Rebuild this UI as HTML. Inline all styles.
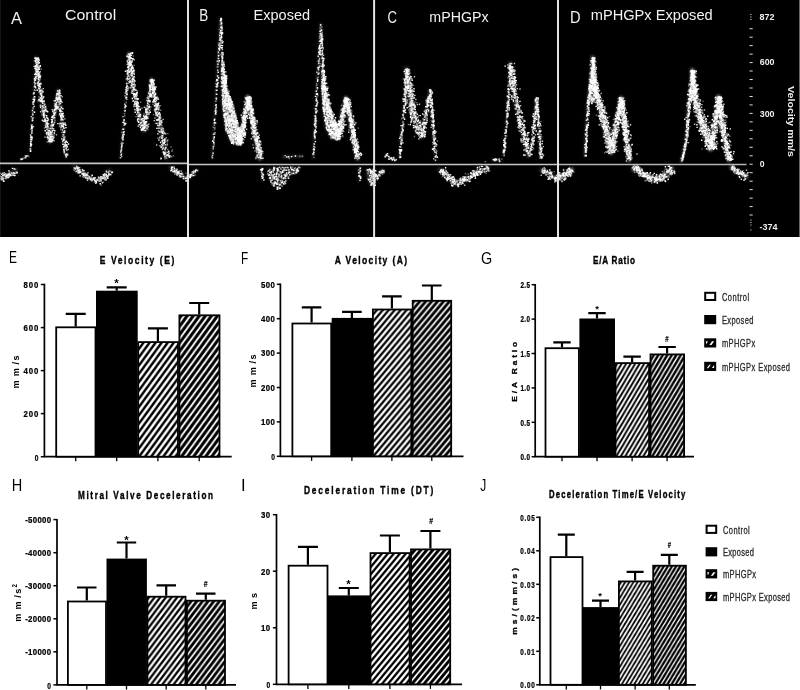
<!DOCTYPE html>
<html><head><meta charset="utf-8"><title>Figure</title>
<style>
html,body{margin:0;padding:0;background:#fff;}
svg{display:block;font-family:"Liberation Sans",sans-serif;will-change:transform;}
</style></head><body>
<svg width="800" height="690" viewBox="0 0 800 690">
<defs>
<filter id="bl" x="0" y="0" width="800" height="240" filterUnits="userSpaceOnUse"><feGaussianBlur stdDeviation="0.65"/></filter>
<filter id="bl2" x="0" y="0" width="800" height="240" filterUnits="userSpaceOnUse"><feGaussianBlur stdDeviation="1.1"/></filter>
<pattern id="h1" patternUnits="userSpaceOnUse" width="6.1" height="8.35">
<rect width="6.1" height="8.35" fill="#fff"/>
<path d="M-6.1 8.35L6.1 -8.35M-6.1 16.7L12.2 -8.35M0 16.7L12.2 0" stroke="#000" stroke-width="2.4"/>
</pattern>
<pattern id="h2" patternUnits="userSpaceOnUse" width="6.1" height="8.35">
<rect width="6.1" height="8.35" fill="#fff"/>
<path d="M-6.1 8.35L6.1 -8.35M-6.1 16.7L12.2 -8.35M0 16.7L12.2 0" stroke="#000" stroke-width="3.1"/>
</pattern>
</defs>
<rect width="800" height="690" fill="#fff"/>
<rect x="0" y="0" width="800" height="237" fill="#000"/>
<rect x="799" y="0" width="1" height="237" fill="#666"/><rect x="0" y="0" width="1" height="237" fill="#151515"/>
<g filter="url(#bl2)" fill="none" stroke="#fff" stroke-linecap="round" stroke-linejoin="round">
<path d="M19.7 159.5L29.0 155.0" stroke-width="1.5" stroke-opacity="0.14"/>
<path d="M29.7 151.4L33.0 100.0L36.0 57.4" stroke-width="1.4" stroke-opacity="0.14"/>
<path d="M36.0 57.4L38.3 81.8L42.9 109.6L49.9 142.0" stroke-width="3.8" stroke-opacity="0.14"/>
<path d="M49.9 142.0L54.0 112.0L58.0 89.9" stroke-width="3.0" stroke-opacity="0.14"/>
<path d="M58.0 89.9L62.0 125.0L66.1 157.2" stroke-width="3.0" stroke-opacity="0.14"/>
<path d="M0.0 178.0L8.0 175.0L15.5 170.0" stroke-width="4.5" stroke-opacity="0.14"/>
<path d="M74.2 166.5L80.0 172.3L90.0 178.0L97.4 181.0L104.0 177.0L109.6 170.4" stroke-width="4.3" stroke-opacity="0.14"/>
<path d="M120.2 158.3L123.0 125.0L126.0 91.0L129.0 52.8" stroke-width="1.5" stroke-opacity="0.14"/>
<path d="M129.0 52.8L131.8 81.8L137.6 109.6L143.8 130.5" stroke-width="4.3" stroke-opacity="0.14"/>
<path d="M143.8 131.0L148.0 100.0L151.5 79.4" stroke-width="3.4" stroke-opacity="0.14"/>
<path d="M151.5 79.4L158.0 120.0L166.6 158.3" stroke-width="4.3" stroke-opacity="0.14"/>
<path d="M170.0 167.6L178.0 173.4L187.5 179.0" stroke-width="3.8" stroke-opacity="0.14"/>
<path d="M212.0 158.8L216.0 90.0L220.3 18.3" stroke-width="1.3" stroke-opacity="0.22"/>
<path d="M220.3 18.3L221.0 40.0L222.0 65.0" stroke-width="1.7" stroke-opacity="0.1"/>
<path d="M222.2 66.0L226.3 95.0L233.0 118.0L240.0 140.0" stroke-width="3.4" stroke-opacity="0.22"/>
<path d="M240.0 143.0L244.0 118.0L247.8 96.8" stroke-width="3.6" stroke-opacity="0.4"/>
<path d="M247.8 96.8L254.0 130.0L260.0 158.8" stroke-width="3.8" stroke-opacity="0.4"/>
<path d="M188.0 177.0L192.0 174.0L197.0 170.0" stroke-width="3.0" stroke-opacity="0.22"/>
<path d="M261.5 168.0L262.0 181.0" stroke-width="1.5" stroke-opacity="0.22"/>
<path d="M283.0 157.0L302.0 156.0" stroke-width="2.2" stroke-opacity="0.22"/>
<path d="M313.0 158.8L316.3 92.6L320.5 23.8" stroke-width="1.5" stroke-opacity="0.22"/>
<path d="M320.5 23.8L321.3 45.0L322.4 68.0" stroke-width="1.7" stroke-opacity="0.1"/>
<path d="M322.6 70.0L326.0 98.0L332.0 120.0L338.4 135.0" stroke-width="3.4" stroke-opacity="0.22"/>
<path d="M338.4 137.0L342.0 115.0L346.0 98.2" stroke-width="3.6" stroke-opacity="0.4"/>
<path d="M346.0 98.2L352.0 130.0L357.6 158.8" stroke-width="3.8" stroke-opacity="0.4"/>
<path d="M359.0 168.0L359.5 181.0" stroke-width="1.5" stroke-opacity="0.22"/>
<path d="M375.0 178.0L379.0 174.0L383.0 170.0" stroke-width="3.8" stroke-opacity="0.15"/>
<path d="M385.0 154.8L390.0 158.0L395.5 160.6" stroke-width="2.2" stroke-opacity="0.15"/>
<path d="M399.0 158.3L402.5 121.2L406.4 69.0" stroke-width="1.9" stroke-opacity="0.15"/>
<path d="M406.4 69.0L410.6 105.0L416.4 128.2L422.2 136.0" stroke-width="5.6" stroke-opacity="0.15"/>
<path d="M421.0 138.0L426.0 112.0L429.9 89.9" stroke-width="2.8" stroke-opacity="0.15"/>
<path d="M429.9 89.9L432.5 125.0L435.4 160.6" stroke-width="2.2" stroke-opacity="0.15"/>
<path d="M439.6 170.0L447.0 177.0L455.8 184.0L463.0 181.0L470.0 176.0L478.0 171.5L487.8 167.6" stroke-width="4.9" stroke-opacity="0.15"/>
<path d="M492.5 159.5L501.8 160.6" stroke-width="1.9" stroke-opacity="0.15"/>
<path d="M503.0 156.0L506.4 121.2L509.9 63.2" stroke-width="1.8" stroke-opacity="0.15"/>
<path d="M509.9 63.2L514.5 98.0L521.5 128.2L528.4 156.0" stroke-width="4.5" stroke-opacity="0.15"/>
<path d="M531.5 150.0L533.5 125.0L536.1 98.0" stroke-width="2.1" stroke-opacity="0.15"/>
<path d="M536.1 98.0L538.5 130.0L540.7 158.3" stroke-width="2.2" stroke-opacity="0.15"/>
<path d="M541.0 170.0L550.0 175.0L558.0 179.0" stroke-width="4.5" stroke-opacity="0.15"/>
<path d="M558.0 177.5L565.0 175.0L571.5 169.5" stroke-width="5.2" stroke-opacity="0.3"/>
<path d="M584.7 156.0L587.5 105.0L592.6 57.4" stroke-width="1.7" stroke-opacity="0.3"/>
<path d="M592.6 57.4L594.4 86.4L602.6 118.9L610.9 153.0" stroke-width="4.5" stroke-opacity="0.3"/>
<path d="M611.0 152.5L616.0 122.0L621.1 98.0" stroke-width="4.1" stroke-opacity="0.3"/>
<path d="M621.1 98.0L625.0 130.0L629.2 160.6" stroke-width="4.1" stroke-opacity="0.3"/>
<path d="M633.9 170.0L635.5 166.5L638.0 170.0L643.2 174.6L655.0 180.4L663.0 177.0L672.0 168.8" stroke-width="4.9" stroke-opacity="0.3"/>
<path d="M681.3 161.8L686.0 139.8L688.3 105.0L692.2 70.2" stroke-width="2.1" stroke-opacity="0.3"/>
<path d="M692.2 70.2L694.0 98.0L702.2 125.8L710.8 149.0" stroke-width="5.4" stroke-opacity="0.3"/>
<path d="M710.8 149.0L715.0 120.0L718.4 96.8" stroke-width="4.1" stroke-opacity="0.3"/>
<path d="M718.4 96.8L723.0 130.0L728.9 160.6" stroke-width="4.5" stroke-opacity="0.3"/>
<path d="M731.0 167.6L738.0 172.0L746.3 177.0" stroke-width="4.1" stroke-opacity="0.3"/>
<path d="M221.3 60.0L223.3 70.0L226.5 88.0L233.2 106.4L241.5 139.4L240.0 146.0L231.0 143.5L225.0 130.0L222.0 108.0L220.3 80.0Z" fill="#fff" fill-opacity="0.22" stroke="none"/>
<path d="M266.0 167.0L300.0 167.0L298.0 172.0L290.0 176.0L283.0 186.0L277.0 190.0L271.0 184.0L267.0 175.0Z" fill="#fff" fill-opacity="0.08" stroke="none"/>
<path d="M321.6 64.0L323.5 75.0L326.0 92.0L330.0 108.0L340.0 134.0L339.0 141.0L330.5 139.0L325.0 128.0L322.3 108.0L320.6 84.0Z" fill="#fff" fill-opacity="0.22" stroke="none"/>
<path d="M366.0 169.0L375.0 169.0L375.0 187.0L370.0 186.0L367.0 178.0Z" fill="#fff" fill-opacity="0.22" stroke="none"/>
<path d="M592.6 58.0L589.5 84.0L588.3 100.0L591.0 104.0L595.5 100.0L594.6 84.0Z" fill="#fff" fill-opacity="0.3" stroke="none"/>
</g>
<g filter="url(#bl)" stroke-linecap="butt">
<path d="M22.9 158.5h1.4M20.3 159.2h1.4M23.7 157.7h1.4M24.5 155.7h1.4M28.1 156.6h1.4M25.4 156.1h1.4M20.5 159.7h1.4M24.0 157.7h1.4M33.8 82.8h1.4M34.8 90.6h1.4M29.5 149.3h1.4M32.9 117.7h1.4M29.9 134.8h1.4M30.4 129.4h1.4M30.2 145.6h1.4M31.2 131.8h1.4M30.1 151.4h1.4M33.6 93.7h1.4M30.9 127.7h1.4M32.3 107.6h1.4M31.8 119.2h1.4M33.0 101.7h1.4M31.4 117.9h1.4M30.9 130.7h1.4M34.6 83.3h1.4M30.1 139.1h1.4M35.0 73.7h1.4M33.5 102.2h1.4M30.9 128.0h1.4M35.2 62.8h1.4M34.2 98.9h1.4M30.5 136.9h1.4M30.1 136.2h1.4M31.2 133.0h1.4M29.9 149.7h1.4M31.5 126.0h1.4M33.2 111.8h1.4M33.1 97.7h1.4M30.5 145.2h1.4M31.8 126.2h1.4M30.8 141.1h1.4M30.1 146.7h1.4M34.9 80.0h1.4M33.0 104.4h1.4M31.7 127.9h1.4M35.4 63.5h1.4M32.0 113.3h1.4M37.8 74.6h1.4M35.3 61.1h1.4M41.7 90.3h1.4M44.6 115.3h1.4M41.3 113.9h1.4M35.7 63.8h1.4M45.9 111.5h1.4M37.2 70.0h1.4M39.6 106.1h1.4M41.6 115.3h1.4M43.2 101.1h1.4M47.5 133.2h1.4M40.4 69.2h1.4M42.2 98.6h1.4M37.4 57.6h1.4M37.1 69.4h1.4M47.1 128.5h1.4M49.5 135.6h1.4M38.9 80.8h1.4M39.0 78.6h1.4M46.9 118.0h1.4M37.6 82.0h1.4M47.2 136.2h1.4M49.6 140.0h1.4M40.4 99.9h1.4M46.3 134.6h1.4M37.6 73.8h1.4M38.2 86.7h1.4M38.8 89.7h1.4M37.1 62.6h1.4M47.1 130.6h1.4M46.9 138.6h1.4M50.3 132.7h1.4M43.9 128.0h1.4M39.6 66.5h1.4M43.8 112.2h1.4M39.0 90.6h1.4M49.1 132.0h1.4M39.9 93.2h1.4M42.8 114.3h1.4M38.8 100.8h1.4M50.6 139.2h1.4M36.9 82.9h1.4M41.2 120.4h1.4M39.1 89.4h1.4M49.1 138.3h1.4M45.3 122.5h1.4M33.7 60.6h1.4M46.7 136.4h1.4M45.8 108.6h1.4M40.4 84.4h1.4M46.4 132.5h1.4M43.9 121.2h1.4M49.1 128.2h1.4M44.1 105.3h1.4M36.4 78.7h1.4M35.9 70.6h1.4M46.4 142.0h1.4M38.5 60.6h1.4M48.5 137.5h1.4M37.8 69.4h1.4M39.7 79.0h1.4M37.2 58.3h1.4M43.5 115.1h1.4M42.4 111.9h1.4M37.8 71.3h1.4M38.6 88.6h1.4M42.2 96.4h1.4M40.3 88.9h1.4M37.4 74.3h1.4M46.8 137.7h1.4M50.6 133.4h1.4M48.2 123.6h1.4M38.4 92.1h1.4M42.1 101.4h1.4M38.3 60.7h1.4M48.1 128.2h1.4M44.8 108.0h1.4M38.2 96.9h1.4M39.3 101.2h1.4M48.3 138.0h1.4M37.9 99.8h1.4M37.8 62.9h1.4M45.6 133.8h1.4M36.4 75.3h1.4M41.6 100.4h1.4M46.3 125.0h1.4M41.2 95.0h1.4M42.3 121.1h1.4M43.2 107.1h1.4M37.2 60.2h1.4M36.4 68.7h1.4M39.4 76.4h1.4M36.2 69.0h1.4M47.2 131.3h1.4M40.2 92.0h1.4M49.1 137.0h1.4M47.8 126.1h1.4M37.0 76.8h1.4M42.9 116.7h1.4M49.5 139.0h1.4M46.4 132.2h1.4M46.9 120.4h1.4M43.6 105.7h1.4M37.5 69.7h1.4M35.8 66.6h1.4M36.7 59.8h1.4M47.6 135.0h1.4M37.1 66.9h1.4M45.3 110.6h1.4M35.0 66.1h1.4M38.3 89.0h1.4M43.3 102.9h1.4M44.7 131.0h1.4M34.8 57.6h1.4M42.4 91.2h1.4M45.6 133.1h1.4M47.7 132.4h1.4M36.7 70.7h1.4M40.6 102.0h1.4M38.0 74.1h1.4M40.3 90.4h1.4M42.4 106.2h1.4M40.6 93.2h1.4M40.0 90.8h1.4M52.8 117.5h1.4M56.5 97.6h1.4M54.2 119.9h1.4M49.7 141.8h1.4M54.8 107.8h1.4M53.1 124.0h1.4M52.6 112.8h1.4M52.6 129.9h1.4M54.4 117.7h1.4M50.6 119.6h1.4M47.1 139.0h1.4M57.3 102.5h1.4M56.6 99.2h1.4M54.3 120.7h1.4M52.2 134.2h1.4M53.1 135.6h1.4M55.7 103.8h1.4M53.8 103.6h1.4M56.3 99.4h1.4M52.6 116.5h1.4M57.7 92.8h1.4M55.9 110.9h1.4M48.2 141.7h1.4M57.1 99.8h1.4M55.9 106.4h1.4M51.3 131.5h1.4M51.4 137.5h1.4M51.0 132.1h1.4M56.8 101.1h1.4M55.0 115.0h1.4M53.8 112.3h1.4M52.6 128.9h1.4M50.7 137.7h1.4M56.4 94.4h1.4M52.6 118.5h1.4M58.3 91.8h1.4M58.6 95.2h1.4M55.1 108.3h1.4M52.5 136.8h1.4M52.9 128.7h1.4M52.7 129.7h1.4M56.7 107.0h1.4M52.1 118.2h1.4M54.9 98.8h1.4M51.8 130.5h1.4M50.6 133.8h1.4M55.2 107.2h1.4M53.3 128.7h1.4M50.3 136.9h1.4M58.5 95.6h1.4M58.3 91.1h1.4M55.9 99.9h1.4M48.3 131.9h1.4M55.0 112.3h1.4M51.5 132.6h1.4M48.1 137.5h1.4M53.4 110.0h1.4M55.6 99.6h1.4M57.3 104.7h1.4M64.7 148.6h1.4M58.9 102.5h1.4M58.9 126.5h1.4M59.0 102.2h1.4M59.8 106.8h1.4M63.8 136.9h1.4M64.6 137.1h1.4M65.1 148.4h1.4M59.3 108.8h1.4M60.7 99.6h1.4M64.7 142.1h1.4M57.7 91.4h1.4M63.0 149.7h1.4M62.9 135.6h1.4M60.6 126.6h1.4M62.2 125.8h1.4M59.5 109.4h1.4M59.2 90.6h1.4M59.3 100.6h1.4M56.6 100.6h1.4M63.3 151.7h1.4M62.7 138.7h1.4M62.1 116.1h1.4M62.6 123.5h1.4M60.0 129.4h1.4M57.1 90.7h1.4M64.2 119.2h1.4M58.8 124.8h1.4M58.2 102.7h1.4M63.7 132.7h1.4M58.8 90.1h1.4M66.6 146.4h1.4M58.0 98.2h1.4M57.4 96.8h1.4M59.7 93.9h1.4M57.8 101.5h1.4M57.7 96.7h1.4M61.2 106.1h1.4M61.5 122.6h1.4M61.6 113.9h1.4M66.4 155.2h1.4M60.5 113.6h1.4M59.6 102.8h1.4M62.3 134.7h1.4M59.3 100.4h1.4M65.3 146.0h1.4M60.3 119.9h1.4M62.1 123.9h1.4M60.2 120.5h1.4M60.8 114.7h1.4M63.0 148.9h1.4M62.9 128.1h1.4M59.4 110.0h1.4M62.2 117.6h1.4M57.8 92.7h1.4M58.8 92.5h1.4M59.5 113.5h1.4M64.5 146.1h1.4M64.0 118.4h1.4M64.3 141.2h1.4M60.7 117.7h1.4M58.5 106.1h1.4M59.1 97.6h1.4M57.6 94.1h1.4M59.9 103.1h1.4M60.6 114.4h1.4M60.8 119.2h1.4M61.2 132.4h1.4M60.5 106.4h1.4M57.9 91.8h1.4M59.7 112.0h1.4M60.4 114.8h1.4M59.6 100.5h1.4M61.7 136.4h1.4M60.9 119.8h1.4M61.5 119.5h1.4M11.6 174.7h1.4M8.7 173.7h1.4M13.5 168.6h1.4M4.9 178.4h1.4M9.3 173.7h1.4M14.3 175.4h1.4M13.1 174.7h1.4M9.2 173.1h1.4M10.3 172.5h1.4M2.3 178.5h1.4M15.6 171.7h1.4M10.1 174.9h1.4M-0.5 176.3h1.4M1.4 179.6h1.4M14.9 169.4h1.4M8.6 173.9h1.4M7.6 174.1h1.4M6.1 176.9h1.4M8.4 173.0h1.4M3.3 178.5h1.4M2.7 181.3h1.4M-0.5 173.3h1.4M82.6 174.2h1.4M79.5 171.4h1.4M86.8 179.3h1.4M95.7 182.2h1.4M85.2 177.0h1.4M106.7 172.4h1.4M97.9 177.5h1.4M96.2 180.4h1.4M85.1 176.1h1.4M77.8 172.6h1.4M96.8 179.4h1.4M104.5 180.2h1.4M103.9 179.5h1.4M109.7 171.1h1.4M73.2 169.2h1.4M77.5 166.9h1.4M77.5 173.3h1.4M100.4 185.3h1.4M82.4 171.4h1.4M83.5 173.0h1.4M82.3 176.8h1.4M82.7 177.4h1.4M76.4 170.4h1.4M102.7 182.3h1.4M100.8 181.5h1.4M89.1 178.1h1.4M108.2 173.9h1.4M83.7 173.6h1.4M88.4 176.6h1.4M88.7 176.9h1.4M87.3 176.5h1.4M109.2 175.4h1.4M100.0 181.1h1.4M82.3 171.3h1.4M104.0 176.4h1.4M104.8 176.9h1.4M90.9 179.3h1.4M92.9 179.3h1.4M86.6 178.0h1.4M80.8 172.2h1.4M100.6 178.7h1.4M85.2 175.5h1.4M86.4 177.6h1.4M90.7 176.3h1.4M108.7 173.9h1.4M86.3 174.0h1.4M98.9 179.9h1.4M102.8 177.9h1.4M110.8 171.6h1.4M73.5 167.6h1.4M84.9 175.0h1.4M76.3 167.6h1.4M106.8 175.7h1.4M82.1 170.0h1.4M73.4 170.5h1.4M94.2 177.6h1.4M97.6 180.4h1.4M107.5 176.6h1.4M84.2 174.7h1.4M107.0 177.6h1.4M75.3 171.7h1.4M84.0 174.9h1.4M93.7 182.1h1.4M105.8 172.2h1.4M99.6 180.4h1.4M109.7 174.5h1.4M78.1 168.1h1.4M82.0 176.4h1.4M105.6 171.4h1.4M98.3 180.1h1.4M83.3 176.5h1.4M98.3 179.5h1.4M76.9 173.1h1.4M80.9 171.8h1.4M121.2 142.1h1.4M120.0 155.0h1.4M128.7 64.4h1.4M127.5 83.4h1.4M121.1 132.3h1.4M129.5 61.2h1.4M127.8 59.0h1.4M126.7 86.7h1.4M122.4 137.4h1.4M123.1 121.4h1.4M128.1 56.4h1.4M127.9 71.3h1.4M122.5 133.8h1.4M128.9 59.0h1.4M126.4 93.0h1.4M121.7 138.9h1.4M128.9 54.0h1.4M128.1 70.7h1.4M125.5 79.1h1.4M126.2 90.7h1.4M128.1 74.6h1.4M120.4 143.5h1.4M126.7 80.4h1.4M121.4 138.5h1.4M129.5 56.7h1.4M125.6 102.5h1.4M125.9 91.8h1.4M123.8 121.0h1.4M120.7 146.5h1.4M126.7 73.3h1.4M121.8 129.2h1.4M125.9 94.7h1.4M121.8 134.7h1.4M126.3 84.5h1.4M121.5 143.7h1.4M121.3 146.6h1.4M123.9 113.6h1.4M126.8 56.7h1.4M129.7 54.3h1.4M126.0 83.5h1.4M124.0 115.8h1.4M130.6 57.6h1.4M133.4 65.4h1.4M132.6 56.0h1.4M131.4 60.7h1.4M133.2 90.3h1.4M131.9 82.7h1.4M139.5 117.7h1.4M130.5 87.9h1.4M128.4 64.2h1.4M127.1 56.0h1.4M142.1 124.3h1.4M137.2 112.4h1.4M127.9 59.1h1.4M131.6 84.3h1.4M132.8 88.9h1.4M135.9 103.9h1.4M138.6 119.5h1.4M132.7 81.6h1.4M137.8 113.1h1.4M141.5 108.1h1.4M133.4 87.5h1.4M132.9 80.2h1.4M136.8 119.1h1.4M144.4 127.5h1.4M136.2 107.0h1.4M133.4 72.2h1.4M129.6 55.0h1.4M133.2 76.6h1.4M128.1 58.2h1.4M131.5 66.7h1.4M136.1 110.3h1.4M144.4 124.7h1.4M136.8 118.4h1.4M139.6 119.8h1.4M131.1 53.4h1.4M134.2 105.1h1.4M138.3 112.7h1.4M140.0 102.3h1.4M129.1 71.5h1.4M128.5 60.3h1.4M128.4 72.0h1.4M140.6 120.3h1.4M135.9 110.6h1.4M127.3 67.3h1.4M145.6 121.9h1.4M133.5 70.4h1.4M132.6 69.7h1.4M136.6 101.4h1.4M135.2 96.9h1.4M139.4 122.4h1.4M133.6 105.3h1.4M128.8 56.9h1.4M131.6 75.6h1.4M137.4 103.8h1.4M135.3 116.6h1.4M133.9 97.8h1.4M139.5 123.5h1.4M128.3 63.0h1.4M130.7 69.8h1.4M132.0 87.4h1.4M134.9 106.2h1.4M131.5 76.5h1.4M137.5 98.6h1.4M131.3 53.8h1.4M130.0 58.3h1.4M130.4 66.5h1.4M143.0 128.3h1.4M133.8 90.4h1.4M128.7 57.2h1.4M130.3 73.6h1.4M136.6 90.9h1.4M142.8 124.9h1.4M133.5 70.8h1.4M137.5 104.6h1.4M135.7 98.4h1.4M129.4 55.2h1.4M134.8 101.2h1.4M137.3 104.6h1.4M128.0 60.0h1.4M140.7 108.2h1.4M133.7 90.8h1.4M130.0 74.9h1.4M136.4 101.3h1.4M129.3 60.3h1.4M138.7 112.8h1.4M139.5 118.0h1.4M130.2 66.5h1.4M131.5 62.4h1.4M131.2 90.5h1.4M142.0 130.3h1.4M130.7 79.9h1.4M132.0 101.1h1.4M130.8 82.9h1.4M137.3 119.2h1.4M136.3 94.8h1.4M138.0 114.2h1.4M131.7 72.4h1.4M128.6 78.9h1.4M129.1 58.4h1.4M129.9 77.5h1.4M136.4 105.0h1.4M133.8 86.4h1.4M136.2 108.7h1.4M147.3 129.5h1.4M131.7 69.1h1.4M131.6 90.0h1.4M128.7 71.7h1.4M128.5 59.7h1.4M131.4 79.3h1.4M136.2 101.2h1.4M128.8 59.6h1.4M131.9 91.4h1.4M136.1 99.1h1.4M143.8 123.9h1.4M127.2 55.1h1.4M143.7 124.7h1.4M129.6 64.4h1.4M133.2 86.9h1.4M150.0 92.5h1.4M148.3 100.2h1.4M144.6 124.6h1.4M148.6 94.3h1.4M152.2 95.1h1.4M150.2 83.7h1.4M152.3 81.9h1.4M145.5 111.4h1.4M146.7 105.7h1.4M152.4 83.1h1.4M147.2 116.9h1.4M148.8 85.8h1.4M141.7 125.6h1.4M148.6 97.2h1.4M148.8 106.8h1.4M150.1 96.1h1.4M149.9 79.8h1.4M147.1 113.4h1.4M149.6 88.9h1.4M143.6 121.2h1.4M149.6 90.4h1.4M148.2 92.3h1.4M147.0 102.3h1.4M149.2 100.7h1.4M150.3 81.0h1.4M145.5 129.7h1.4M146.5 128.0h1.4M147.5 104.8h1.4M151.2 81.0h1.4M147.1 117.4h1.4M150.5 79.6h1.4M147.3 112.6h1.4M144.1 122.7h1.4M146.4 109.6h1.4M146.7 109.1h1.4M149.5 91.9h1.4M145.2 110.8h1.4M145.0 121.6h1.4M147.3 109.2h1.4M148.3 104.6h1.4M145.5 115.1h1.4M150.4 84.0h1.4M142.3 128.4h1.4M148.7 104.8h1.4M147.0 96.1h1.4M151.3 84.5h1.4M144.5 119.4h1.4M145.9 113.6h1.4M142.5 125.6h1.4M150.3 106.9h1.4M143.4 128.6h1.4M143.3 114.0h1.4M147.4 116.9h1.4M148.5 93.9h1.4M146.4 111.3h1.4M149.0 100.7h1.4M148.5 96.7h1.4M150.2 93.3h1.4M147.1 117.1h1.4M150.8 96.7h1.4M145.6 113.5h1.4M147.0 114.9h1.4M149.3 109.2h1.4M146.8 111.4h1.4M147.1 98.5h1.4M142.8 129.8h1.4M148.1 114.6h1.4M154.4 88.9h1.4M157.2 109.2h1.4M161.1 122.3h1.4M154.2 96.3h1.4M157.0 119.8h1.4M167.1 133.6h1.4M156.9 107.7h1.4M161.3 127.8h1.4M153.8 88.3h1.4M154.6 111.6h1.4M152.8 81.5h1.4M159.9 116.5h1.4M154.9 92.9h1.4M162.7 129.9h1.4M158.7 128.2h1.4M156.8 123.5h1.4M158.3 117.6h1.4M159.4 128.3h1.4M158.4 131.6h1.4M162.3 136.9h1.4M162.8 147.8h1.4M149.5 81.8h1.4M150.9 84.9h1.4M152.7 92.2h1.4M157.2 138.3h1.4M165.5 147.2h1.4M155.2 101.7h1.4M158.6 107.3h1.4M160.8 120.4h1.4M155.7 107.5h1.4M162.1 128.5h1.4M159.0 113.7h1.4M155.5 110.3h1.4M154.2 95.2h1.4M164.9 139.5h1.4M163.9 140.9h1.4M153.4 84.4h1.4M151.5 87.6h1.4M157.1 98.7h1.4M153.3 99.7h1.4M155.6 109.0h1.4M156.5 96.8h1.4M164.2 158.5h1.4M158.2 110.3h1.4M165.1 156.8h1.4M155.0 89.5h1.4M155.3 106.2h1.4M161.6 132.3h1.4M155.3 112.6h1.4M152.8 114.6h1.4M164.0 148.5h1.4M157.0 114.4h1.4M157.5 112.3h1.4M162.4 135.4h1.4M153.3 89.4h1.4M154.3 97.1h1.4M152.2 86.7h1.4M154.5 99.4h1.4M158.1 139.0h1.4M151.9 87.5h1.4M164.0 133.7h1.4M159.3 118.6h1.4M157.5 114.0h1.4M152.1 86.3h1.4M166.9 149.4h1.4M152.0 85.8h1.4M160.7 128.0h1.4M160.7 130.8h1.4M171.0 156.7h1.4M163.1 154.0h1.4M152.7 93.1h1.4M154.1 106.4h1.4M155.5 103.4h1.4M151.0 80.5h1.4M167.7 154.8h1.4M164.1 152.4h1.4M164.6 138.9h1.4M154.5 87.9h1.4M152.2 89.7h1.4M156.5 114.9h1.4M169.4 155.4h1.4M156.5 98.0h1.4M165.9 158.2h1.4M151.6 87.0h1.4M157.4 125.8h1.4M159.8 128.6h1.4M157.1 109.3h1.4M171.7 150.0h1.4M161.1 135.2h1.4M164.5 148.6h1.4M164.7 155.0h1.4M160.1 110.3h1.4M156.7 105.4h1.4M163.4 144.7h1.4M169.7 156.3h1.4M162.8 139.9h1.4M162.8 143.9h1.4M163.6 149.1h1.4M153.1 85.9h1.4M152.7 81.7h1.4M153.9 89.4h1.4M160.9 138.1h1.4M165.1 147.3h1.4M163.1 131.1h1.4M171.3 151.2h1.4M170.3 147.0h1.4M153.3 95.1h1.4M169.9 155.7h1.4M161.3 125.8h1.4M155.0 115.2h1.4M152.4 83.6h1.4M155.2 107.0h1.4M159.0 121.9h1.4M153.7 110.0h1.4M160.4 128.8h1.4M152.4 94.4h1.4M166.7 143.1h1.4M162.5 130.7h1.4M158.9 121.5h1.4M160.2 136.6h1.4M172.8 155.8h1.4M162.1 140.4h1.4M159.9 117.9h1.4M162.1 140.5h1.4M162.4 132.0h1.4M160.8 121.3h1.4M156.9 103.8h1.4M153.0 88.7h1.4M152.4 101.2h1.4M149.0 80.9h1.4M152.2 104.4h1.4M153.9 96.3h1.4M155.4 108.7h1.4M165.2 141.4h1.4M152.1 82.7h1.4M178.6 174.7h1.4M171.5 170.0h1.4M185.3 173.1h1.4M174.1 174.3h1.4M181.5 172.8h1.4M179.8 175.9h1.4M174.2 171.6h1.4M186.2 178.1h1.4M178.6 176.9h1.4M183.9 176.9h1.4M185.9 176.6h1.4M188.0 177.7h1.4M170.6 167.4h1.4M176.4 173.7h1.4M185.6 181.2h1.4M178.3 173.7h1.4M180.6 174.0h1.4M175.6 170.1h1.4M187.5 178.5h1.4M182.2 176.9h1.4M179.4 175.2h1.4M187.2 177.5h1.4M181.1 175.0h1.4M179.4 174.6h1.4M174.6 171.1h1.4M172.7 169.8h1.4M215.4 94.0h1.4M212.6 149.1h1.4M214.0 129.1h1.4M213.5 123.8h1.4M217.5 66.9h1.4M218.2 43.3h1.4M216.1 110.9h1.4M219.5 39.7h1.4M216.6 67.0h1.4M213.5 144.7h1.4M214.2 119.2h1.4M214.8 109.6h1.4M215.9 97.6h1.4M216.6 87.1h1.4M214.2 134.4h1.4M212.4 152.9h1.4M218.0 62.0h1.4M217.8 62.4h1.4M216.9 66.2h1.4M213.3 140.0h1.4M215.7 81.2h1.4M215.7 106.6h1.4M214.3 111.0h1.4M218.5 46.3h1.4M220.3 23.3h1.4M212.9 146.2h1.4M218.2 45.4h1.4M211.3 157.3h1.4M220.1 19.1h1.4M214.6 113.6h1.4M219.7 24.5h1.4M212.2 141.4h1.4M220.9 24.2h1.4M214.2 127.7h1.4M216.4 84.6h1.4M216.8 64.1h1.4M217.2 58.4h1.4M220.7 20.5h1.4M215.1 111.3h1.4M215.2 123.2h1.4M211.4 156.2h1.4M213.8 125.5h1.4M218.7 29.5h1.4M217.6 60.9h1.4M215.0 83.9h1.4M216.8 75.7h1.4M217.9 58.6h1.4M212.6 134.2h1.4M217.8 52.8h1.4M215.2 98.2h1.4M217.2 76.2h1.4M217.7 61.2h1.4M212.6 127.4h1.4M221.3 25.9h1.4M220.9 55.5h1.4M222.1 33.6h1.4M220.3 27.8h1.4M221.9 61.7h1.4M221.1 19.5h1.4M220.4 41.7h1.4M221.6 32.2h1.4M221.6 52.7h1.4M220.6 43.2h1.4M221.5 55.3h1.4M221.0 42.4h1.4M219.5 33.5h1.4M219.6 54.5h1.4M222.5 53.3h1.4M221.8 33.4h1.4M219.2 38.7h1.4M221.5 54.1h1.4M220.7 21.9h1.4M220.6 26.3h1.4M220.5 24.2h1.4M220.8 28.7h1.4M221.4 41.4h1.4M221.0 30.4h1.4M220.4 30.5h1.4M221.3 33.4h1.4M221.6 52.8h1.4M220.1 27.9h1.4M220.4 21.9h1.4M224.7 106.0h1.4M232.3 111.7h1.4M232.8 105.6h1.4M225.2 127.2h1.4M230.3 105.8h1.4M222.5 101.6h1.4M223.9 98.2h1.4M232.2 143.4h1.4M232.9 131.2h1.4M231.6 110.1h1.4M235.4 128.2h1.4M232.5 134.2h1.4M230.5 100.3h1.4M239.9 144.7h1.4M228.5 98.7h1.4M236.1 137.8h1.4M229.3 139.6h1.4M221.3 67.4h1.4M227.8 121.6h1.4M231.2 106.4h1.4M222.9 69.1h1.4M222.8 78.6h1.4M225.0 116.2h1.4M224.1 110.1h1.4M230.3 121.3h1.4M222.5 78.7h1.4M234.0 129.4h1.4M230.1 129.7h1.4M229.2 121.5h1.4M226.0 126.4h1.4M224.2 119.8h1.4M228.4 107.5h1.4M233.1 123.8h1.4M236.3 132.2h1.4M231.9 135.7h1.4M225.0 117.6h1.4M226.2 104.2h1.4M238.2 133.6h1.4M224.4 114.6h1.4M232.2 123.5h1.4M233.6 117.5h1.4M221.6 65.3h1.4M222.1 69.7h1.4M225.3 81.1h1.4M228.2 114.9h1.4M228.2 104.1h1.4M232.5 135.4h1.4M226.8 129.0h1.4M233.1 107.5h1.4M223.7 108.6h1.4M230.7 133.8h1.4M224.9 94.9h1.4M235.4 141.7h1.4M231.7 135.1h1.4M229.0 119.3h1.4M239.0 134.5h1.4M231.3 115.7h1.4M236.1 125.8h1.4M224.5 112.8h1.4M231.9 121.5h1.4M221.8 103.9h1.4M226.0 107.6h1.4M232.5 117.3h1.4M224.7 100.2h1.4M225.7 130.9h1.4M231.8 118.6h1.4M225.4 100.9h1.4M225.6 103.2h1.4M226.7 130.5h1.4M225.2 101.0h1.4M235.0 113.5h1.4M226.2 104.4h1.4M222.8 82.3h1.4M227.8 102.2h1.4M224.0 91.8h1.4M224.6 89.3h1.4M225.5 119.0h1.4M236.3 135.5h1.4M225.9 119.9h1.4M223.4 110.9h1.4M237.5 124.4h1.4M228.4 129.3h1.4M231.0 125.7h1.4M230.0 132.7h1.4M235.7 117.3h1.4M231.1 128.4h1.4M239.2 140.7h1.4M228.4 121.2h1.4M227.8 123.5h1.4M232.3 143.3h1.4M221.9 84.1h1.4M223.1 99.5h1.4M227.8 105.0h1.4M222.8 79.3h1.4M226.0 128.0h1.4M223.1 84.6h1.4M222.9 108.1h1.4M226.6 121.2h1.4M228.7 133.8h1.4M232.1 105.0h1.4M232.3 121.7h1.4M228.6 116.1h1.4M224.0 101.7h1.4M227.8 133.1h1.4M223.0 79.3h1.4M234.6 136.2h1.4M220.9 69.6h1.4M229.2 115.3h1.4M235.1 125.6h1.4M235.9 128.3h1.4M229.4 98.0h1.4M229.5 112.0h1.4M231.9 139.8h1.4M241.0 138.1h1.4M231.9 138.0h1.4M232.5 131.4h1.4M227.8 117.6h1.4M228.7 132.0h1.4M224.3 101.1h1.4M232.6 126.5h1.4M234.0 118.3h1.4M225.2 86.1h1.4M228.7 99.3h1.4M222.2 93.9h1.4M225.6 111.4h1.4M220.9 71.7h1.4M222.2 64.9h1.4M235.9 135.3h1.4M222.5 91.4h1.4M238.6 136.7h1.4M223.8 99.2h1.4M233.7 115.3h1.4M226.5 98.8h1.4M231.5 132.3h1.4M236.1 141.6h1.4M234.9 129.4h1.4M229.1 137.3h1.4M223.9 85.0h1.4M235.4 135.4h1.4M227.8 103.3h1.4M233.6 136.0h1.4M230.2 127.7h1.4M228.4 100.0h1.4M222.6 79.2h1.4M228.6 114.9h1.4M234.0 119.0h1.4M229.1 133.6h1.4M229.5 103.1h1.4M230.2 129.1h1.4M228.9 125.9h1.4M230.2 121.5h1.4M222.9 110.8h1.4M226.3 131.4h1.4M229.0 100.4h1.4M228.6 124.6h1.4M229.7 135.5h1.4M223.4 91.3h1.4M232.3 139.9h1.4M232.9 126.7h1.4M228.1 110.7h1.4M233.2 115.7h1.4M239.9 145.4h1.4M228.9 121.1h1.4M237.6 138.7h1.4M223.6 79.7h1.4M232.2 126.9h1.4M238.0 139.2h1.4M229.3 131.7h1.4M231.6 107.3h1.4M225.8 114.4h1.4M223.1 109.1h1.4M227.8 110.3h1.4M230.2 109.9h1.4M233.1 106.6h1.4M222.8 95.6h1.4M231.8 126.5h1.4M231.3 126.4h1.4M233.1 139.4h1.4M225.7 85.9h1.4M222.8 111.2h1.4M232.0 116.4h1.4M240.5 137.7h1.4M236.7 138.9h1.4M240.6 142.8h1.4M224.2 82.6h1.4M224.2 78.3h1.4M229.1 109.3h1.4M222.9 107.2h1.4M221.8 64.8h1.4M231.0 130.3h1.4M232.8 112.0h1.4M230.3 135.0h1.4M223.8 82.0h1.4M229.7 104.8h1.4M230.5 110.7h1.4M237.4 143.1h1.4M236.8 123.4h1.4M226.6 123.7h1.4M230.1 129.0h1.4M222.5 101.0h1.4M231.7 117.8h1.4M229.6 108.4h1.4M239.6 137.7h1.4M224.0 120.6h1.4M225.1 86.0h1.4M238.0 144.3h1.4M228.5 117.3h1.4M221.5 67.4h1.4M226.4 104.3h1.4M227.1 111.4h1.4M226.9 98.5h1.4M222.5 108.5h1.4M232.3 135.0h1.4M228.2 123.1h1.4M239.7 134.1h1.4M223.2 77.8h1.4M231.2 104.3h1.4M230.1 129.9h1.4M225.3 93.2h1.4M223.5 74.7h1.4M227.8 103.5h1.4M223.0 114.3h1.4M223.3 101.4h1.4M229.7 132.9h1.4M234.2 139.1h1.4M223.0 110.0h1.4M233.9 112.0h1.4M237.0 127.0h1.4M237.5 125.7h1.4M224.8 128.1h1.4M227.4 113.9h1.4M223.3 74.9h1.4M235.5 129.5h1.4M227.8 111.7h1.4M229.7 118.8h1.4M222.7 93.7h1.4M232.2 131.2h1.4M239.3 131.7h1.4M221.7 78.9h1.4M225.0 105.1h1.4M230.7 103.2h1.4M224.0 81.0h1.4M224.6 101.1h1.4M225.8 126.4h1.4M232.4 121.5h1.4M228.9 129.1h1.4M228.4 99.6h1.4M227.5 103.7h1.4M235.4 137.6h1.4M221.8 100.8h1.4M228.4 98.8h1.4M224.6 80.5h1.4M225.3 117.0h1.4M225.9 96.0h1.4M221.4 67.8h1.4M223.6 72.3h1.4M233.3 135.0h1.4M226.0 89.8h1.4M238.6 138.9h1.4M223.4 92.4h1.4M233.7 111.7h1.4M226.6 125.5h1.4M227.8 130.8h1.4M224.3 116.6h1.4M234.2 133.2h1.4M224.5 103.1h1.4M233.1 135.9h1.4M231.6 102.4h1.4M230.1 99.6h1.4M227.2 89.9h1.4M231.6 121.0h1.4M230.6 139.6h1.4M231.8 128.5h1.4M225.0 96.7h1.4M238.9 137.3h1.4M232.5 113.2h1.4M223.6 88.0h1.4M227.5 124.1h1.4M226.3 99.6h1.4M224.2 117.5h1.4M229.0 123.7h1.4M233.1 107.9h1.4M222.6 108.0h1.4M224.4 109.6h1.4M222.4 86.7h1.4M230.8 105.4h1.4M225.8 131.4h1.4M238.1 145.1h1.4M231.8 105.1h1.4M226.7 117.5h1.4M226.3 118.6h1.4M221.1 71.9h1.4M233.9 113.4h1.4M235.1 131.4h1.4M226.6 105.3h1.4M227.2 101.5h1.4M229.3 109.0h1.4M233.3 112.6h1.4M226.5 91.4h1.4M229.6 97.5h1.4M236.7 131.5h1.4M239.9 134.7h1.4M225.2 83.7h1.4M226.3 88.5h1.4M225.0 89.7h1.4M223.3 76.0h1.4M222.3 71.7h1.4M237.5 130.4h1.4M227.0 96.0h1.4M226.9 89.6h1.4M234.5 120.5h1.4M241.1 136.7h1.4M236.2 139.2h1.4M222.2 73.3h1.4M231.8 122.5h1.4M225.8 94.6h1.4M240.7 128.4h1.4M236.2 130.7h1.4M228.5 102.4h1.4M239.1 139.7h1.4M228.3 116.1h1.4M225.5 81.4h1.4M226.3 96.0h1.4M229.4 104.5h1.4M230.4 119.9h1.4M226.5 78.3h1.4M230.5 127.7h1.4M240.3 139.7h1.4M232.9 119.4h1.4M224.8 77.3h1.4M231.5 122.2h1.4M235.5 126.4h1.4M229.9 112.5h1.4M228.8 101.5h1.4M232.0 110.0h1.4M230.1 115.5h1.4M231.1 113.3h1.4M228.7 101.0h1.4M237.0 135.4h1.4M227.3 95.8h1.4M227.3 98.5h1.4M236.9 126.8h1.4M237.5 129.7h1.4M228.7 102.3h1.4M229.0 110.3h1.4M223.2 78.3h1.4M225.4 84.7h1.4M238.6 137.8h1.4M233.9 121.9h1.4M236.9 133.6h1.4M226.7 96.7h1.4M222.6 75.9h1.4M225.0 94.9h1.4M240.8 139.2h1.4M232.1 109.8h1.4M232.1 116.4h1.4M224.3 77.3h1.4M230.8 107.2h1.4M232.4 121.9h1.4M223.8 81.1h1.4M224.7 95.5h1.4M223.1 89.3h1.4M226.5 98.4h1.4M236.2 129.3h1.4M232.6 120.7h1.4M230.0 101.2h1.4M221.7 69.0h1.4M223.9 65.9h1.4M234.9 118.0h1.4M222.3 81.2h1.4M237.1 128.7h1.4M222.8 71.0h1.4M222.0 80.2h1.4M238.0 127.2h1.4M245.3 107.9h1.4M242.6 123.5h1.4M246.8 116.6h1.4M247.5 109.5h1.4M243.3 127.9h1.4M244.6 112.7h1.4M243.0 123.0h1.4M246.3 109.0h1.4M241.6 132.2h1.4M242.5 127.9h1.4M242.7 130.8h1.4M247.2 103.4h1.4M237.6 140.0h1.4M241.7 136.6h1.4M241.0 140.8h1.4M243.7 116.2h1.4M243.5 135.0h1.4M243.2 120.9h1.4M245.5 119.6h1.4M245.3 126.0h1.4M242.5 135.9h1.4M242.1 112.7h1.4M241.8 143.1h1.4M242.4 132.6h1.4M244.4 112.9h1.4M242.7 129.6h1.4M244.2 128.2h1.4M239.9 134.0h1.4M246.6 102.7h1.4M242.9 123.9h1.4M245.5 122.7h1.4M240.3 141.8h1.4M242.4 120.9h1.4M246.8 103.2h1.4M238.5 135.4h1.4M246.9 113.2h1.4M241.9 134.1h1.4M243.4 117.5h1.4M246.3 116.1h1.4M241.5 126.1h1.4M239.0 138.6h1.4M247.3 110.5h1.4M240.0 138.9h1.4M243.1 115.0h1.4M246.3 106.2h1.4M247.0 108.0h1.4M239.0 131.3h1.4M242.2 135.1h1.4M244.9 133.3h1.4M240.2 141.6h1.4M249.1 99.0h1.4M243.4 127.0h1.4M243.2 121.1h1.4M246.2 103.5h1.4M241.1 128.1h1.4M243.7 111.1h1.4M243.5 123.3h1.4M241.7 134.8h1.4M245.8 110.7h1.4M242.0 121.3h1.4M240.0 128.9h1.4M241.5 124.0h1.4M244.6 125.4h1.4M249.1 102.5h1.4M243.9 130.3h1.4M242.9 108.6h1.4M247.7 97.1h1.4M247.8 112.7h1.4M244.0 121.1h1.4M244.8 119.7h1.4M244.6 123.6h1.4M242.8 129.1h1.4M242.9 142.8h1.4M245.4 110.8h1.4M239.9 137.1h1.4M241.1 128.3h1.4M243.7 128.0h1.4M245.2 112.0h1.4M243.4 101.6h1.4M242.6 139.0h1.4M240.9 141.2h1.4M239.4 133.9h1.4M247.1 111.6h1.4M244.0 125.4h1.4M243.2 139.8h1.4M244.5 125.3h1.4M247.6 97.9h1.4M241.5 123.7h1.4M241.8 141.8h1.4M245.0 117.9h1.4M244.0 134.2h1.4M240.3 132.3h1.4M238.0 138.8h1.4M245.4 103.2h1.4M239.1 129.5h1.4M246.2 107.0h1.4M242.0 128.9h1.4M247.4 103.1h1.4M241.5 126.9h1.4M246.1 102.7h1.4M241.3 142.4h1.4M244.3 102.4h1.4M243.4 109.6h1.4M242.2 139.2h1.4M247.8 104.0h1.4M246.4 107.6h1.4M242.4 128.2h1.4M240.9 141.5h1.4M243.2 120.5h1.4M237.3 131.4h1.4M242.1 122.6h1.4M241.3 133.4h1.4M245.7 122.9h1.4M245.5 112.7h1.4M255.1 134.2h1.4M255.6 126.7h1.4M259.0 156.9h1.4M248.8 103.5h1.4M251.5 115.6h1.4M246.6 100.8h1.4M251.1 105.7h1.4M252.1 126.0h1.4M254.6 127.8h1.4M252.6 127.9h1.4M251.0 124.9h1.4M251.7 130.8h1.4M255.7 147.2h1.4M253.6 126.4h1.4M249.0 113.6h1.4M260.3 149.3h1.4M251.3 132.3h1.4M261.1 155.7h1.4M249.8 112.7h1.4M252.6 122.7h1.4M252.5 118.0h1.4M248.7 113.2h1.4M256.0 138.7h1.4M262.1 153.4h1.4M256.7 139.1h1.4M260.7 149.3h1.4M251.1 111.8h1.4M251.1 123.7h1.4M247.6 98.8h1.4M262.2 151.4h1.4M253.8 128.3h1.4M253.8 137.8h1.4M260.5 144.0h1.4M250.5 112.9h1.4M259.7 141.3h1.4M252.4 109.7h1.4M255.9 124.2h1.4M256.5 141.5h1.4M248.6 105.0h1.4M248.6 101.3h1.4M259.8 148.7h1.4M253.6 128.7h1.4M249.6 113.3h1.4M254.6 136.8h1.4M256.1 129.6h1.4M256.8 148.7h1.4M256.3 145.4h1.4M254.3 133.6h1.4M249.8 112.3h1.4M254.7 142.4h1.4M249.1 98.3h1.4M252.2 145.0h1.4M256.3 155.0h1.4M256.3 136.8h1.4M251.9 123.3h1.4M253.1 130.5h1.4M256.5 147.8h1.4M251.0 116.9h1.4M258.6 150.3h1.4M257.7 150.3h1.4M250.1 111.5h1.4M258.0 147.9h1.4M254.2 131.1h1.4M253.3 135.8h1.4M253.9 140.1h1.4M254.5 133.9h1.4M257.4 150.1h1.4M249.8 118.4h1.4M249.7 101.9h1.4M252.6 116.5h1.4M249.9 104.4h1.4M247.2 98.3h1.4M249.1 101.3h1.4M257.3 141.8h1.4M249.9 103.8h1.4M258.2 151.9h1.4M251.0 108.4h1.4M260.2 154.5h1.4M254.3 134.3h1.4M249.3 101.2h1.4M252.7 136.3h1.4M248.9 108.5h1.4M248.6 98.1h1.4M252.2 110.6h1.4M247.5 100.7h1.4M250.9 117.5h1.4M253.2 137.6h1.4M251.0 108.2h1.4M251.9 121.0h1.4M246.9 112.7h1.4M248.4 103.8h1.4M248.0 105.1h1.4M248.9 99.4h1.4M257.1 136.6h1.4M250.8 116.8h1.4M249.0 107.6h1.4M251.8 127.4h1.4M254.5 128.3h1.4M260.2 150.3h1.4M253.1 120.0h1.4M252.0 119.2h1.4M249.4 108.3h1.4M254.9 121.4h1.4M249.6 96.8h1.4M250.3 118.7h1.4M252.2 125.0h1.4M256.9 139.6h1.4M259.2 150.5h1.4M256.0 155.9h1.4M260.8 153.5h1.4M253.0 117.1h1.4M257.5 137.0h1.4M255.2 141.6h1.4M260.7 153.6h1.4M249.4 109.8h1.4M252.9 117.7h1.4M252.8 125.4h1.4M253.0 118.1h1.4M257.5 137.5h1.4M251.7 117.0h1.4M254.2 134.6h1.4M255.2 136.3h1.4M257.1 137.1h1.4M253.2 118.2h1.4M250.2 122.5h1.4M251.4 107.3h1.4M256.4 129.7h1.4M257.3 132.6h1.4M255.8 138.5h1.4M257.1 146.4h1.4M254.2 151.0h1.4M252.0 120.0h1.4M251.7 129.4h1.4M255.6 150.2h1.4M250.1 113.9h1.4M248.5 98.1h1.4M255.0 124.0h1.4M249.5 100.5h1.4M251.6 106.1h1.4M248.3 97.7h1.4M248.9 103.6h1.4M255.3 157.0h1.4M250.4 113.8h1.4M256.5 137.1h1.4M250.4 104.9h1.4M256.7 133.3h1.4M256.0 120.7h1.4M258.6 148.9h1.4M257.2 138.5h1.4M258.1 140.1h1.4M191.1 172.1h1.4M194.4 175.0h1.4M192.8 172.8h1.4M191.1 175.3h1.4M190.2 174.6h1.4M192.6 175.1h1.4M193.7 172.0h1.4M190.9 176.2h1.4M195.2 169.9h1.4M194.7 171.8h1.4M192.6 172.1h1.4M193.5 172.0h1.4M195.8 170.5h1.4M187.5 175.4h1.4M189.7 177.1h1.4M188.4 174.4h1.4M189.3 176.2h1.4M261.8 168.5h1.4M261.9 173.1h1.4M262.1 177.0h1.4M260.9 170.9h1.4M291.8 173.9h1.4M287.7 170.5h1.4M294.7 167.6h1.4M269.7 175.3h1.4M281.5 172.3h1.4M277.5 186.9h1.4M290.7 173.2h1.4M285.2 178.4h1.4M281.5 186.4h1.4M281.2 180.9h1.4M277.7 168.3h1.4M286.9 170.1h1.4M276.9 167.8h1.4M278.6 185.7h1.4M284.9 176.0h1.4M278.3 188.8h1.4M279.5 182.7h1.4M275.0 183.4h1.4M277.3 176.6h1.4M279.1 187.6h1.4M276.4 186.6h1.4M286.4 167.1h1.4M275.7 176.7h1.4M278.3 170.8h1.4M288.0 170.1h1.4M267.1 171.6h1.4M292.7 169.5h1.4M278.9 177.0h1.4M270.7 174.4h1.4M285.5 176.1h1.4M280.1 185.0h1.4M269.2 169.4h1.4M288.1 172.0h1.4M275.1 176.3h1.4M286.3 167.9h1.4M269.6 176.5h1.4M290.3 174.3h1.4M290.0 167.7h1.4M277.7 188.8h1.4M274.8 179.2h1.4M281.2 185.9h1.4M277.3 174.4h1.4M292.9 169.8h1.4M279.8 176.4h1.4M279.9 168.2h1.4M274.0 167.6h1.4M278.4 177.0h1.4M270.8 175.5h1.4M292.1 167.1h1.4M270.1 173.1h1.4M274.9 179.3h1.4M272.0 178.5h1.4M272.7 170.8h1.4M282.8 167.9h1.4M299.4 167.6h1.4M285.1 180.5h1.4M284.1 184.2h1.4M286.8 174.8h1.4M285.6 167.4h1.4M293.9 174.0h1.4M271.6 170.0h1.4M277.1 187.5h1.4M281.9 170.5h1.4M276.1 187.3h1.4M277.4 183.7h1.4M284.0 174.4h1.4M275.4 176.1h1.4M287.8 176.4h1.4M287.6 177.8h1.4M295.0 170.2h1.4M285.8 173.5h1.4M276.9 173.8h1.4M288.0 169.5h1.4M274.4 179.1h1.4M273.4 184.8h1.4M281.3 180.3h1.4M283.1 179.0h1.4M279.9 173.1h1.4M276.6 168.3h1.4M287.9 178.4h1.4M274.0 167.9h1.4M294.1 170.7h1.4M274.3 179.5h1.4M273.7 179.0h1.4M276.5 168.7h1.4M299.1 167.8h1.4M274.4 168.0h1.4M295.7 169.7h1.4M283.5 169.2h1.4M299.1 156.5h1.4M301.9 156.6h1.4M301.5 155.9h1.4M288.6 158.5h1.4M315.7 124.0h1.4M315.7 112.0h1.4M319.2 50.3h1.4M315.9 85.6h1.4M313.0 146.2h1.4M313.0 154.7h1.4M320.3 39.4h1.4M316.1 97.2h1.4M319.9 37.3h1.4M314.3 135.8h1.4M316.1 105.3h1.4M315.8 90.7h1.4M320.7 35.4h1.4M313.1 154.2h1.4M316.5 78.3h1.4M318.8 38.0h1.4M314.9 130.5h1.4M315.1 118.0h1.4M314.4 147.4h1.4M315.9 109.1h1.4M319.3 37.7h1.4M316.8 102.3h1.4M317.8 68.5h1.4M315.0 111.1h1.4M319.8 38.8h1.4M314.1 121.1h1.4M318.9 61.4h1.4M316.8 104.0h1.4M316.8 102.1h1.4M316.0 83.7h1.4M316.2 100.7h1.4M319.4 35.1h1.4M318.6 60.5h1.4M314.2 136.9h1.4M315.4 106.1h1.4M319.5 48.4h1.4M315.4 128.3h1.4M313.4 157.4h1.4M313.0 149.5h1.4M314.7 119.9h1.4M317.5 69.2h1.4M316.0 85.5h1.4M313.4 148.2h1.4M318.9 47.7h1.4M317.6 77.3h1.4M315.4 100.8h1.4M318.2 60.4h1.4M314.4 115.7h1.4M315.2 115.6h1.4M318.3 66.4h1.4M317.9 70.5h1.4M319.0 36.2h1.4M317.3 88.1h1.4M314.2 130.7h1.4M317.3 95.8h1.4M316.6 89.0h1.4M315.4 106.2h1.4M316.2 101.4h1.4M319.8 25.8h1.4M314.3 138.9h1.4M318.9 57.9h1.4M319.5 28.2h1.4M319.4 53.3h1.4M315.4 117.4h1.4M322.3 49.2h1.4M321.1 26.9h1.4M321.3 29.7h1.4M322.0 63.6h1.4M323.3 60.0h1.4M321.2 27.1h1.4M319.7 31.2h1.4M322.2 36.4h1.4M321.3 39.9h1.4M322.3 66.6h1.4M320.5 39.3h1.4M321.8 52.5h1.4M321.6 32.3h1.4M320.0 28.6h1.4M320.2 40.4h1.4M322.9 61.9h1.4M321.6 56.3h1.4M320.6 32.5h1.4M320.6 34.2h1.4M320.4 32.2h1.4M321.8 39.7h1.4M320.1 24.8h1.4M321.3 35.5h1.4M323.7 58.4h1.4M321.4 33.4h1.4M320.0 63.8h1.4M319.9 25.8h1.4M328.5 120.9h1.4M324.7 118.8h1.4M324.2 105.5h1.4M328.5 106.3h1.4M325.6 111.3h1.4M339.0 138.4h1.4M324.8 105.2h1.4M324.9 87.3h1.4M337.4 134.5h1.4M332.4 127.5h1.4M333.7 123.4h1.4M328.1 120.2h1.4M330.9 128.6h1.4M323.6 105.2h1.4M332.6 123.3h1.4M335.9 139.3h1.4M329.7 111.3h1.4M323.5 95.5h1.4M332.5 130.0h1.4M328.4 127.6h1.4M339.2 138.5h1.4M326.5 117.8h1.4M335.6 130.1h1.4M326.1 108.1h1.4M324.3 99.8h1.4M323.2 101.8h1.4M325.5 110.0h1.4M326.7 115.9h1.4M328.8 131.3h1.4M328.6 134.6h1.4M333.8 130.9h1.4M325.6 95.3h1.4M339.2 136.0h1.4M334.6 136.8h1.4M323.2 97.1h1.4M322.7 79.8h1.4M322.2 70.9h1.4M335.5 124.4h1.4M328.1 104.6h1.4M334.6 136.1h1.4M329.7 109.5h1.4M326.4 105.0h1.4M326.6 95.9h1.4M331.9 118.9h1.4M334.4 129.7h1.4M331.4 111.9h1.4M323.4 98.0h1.4M332.5 121.5h1.4M325.8 107.0h1.4M333.7 133.6h1.4M334.9 121.8h1.4M325.7 118.4h1.4M330.4 136.6h1.4M328.3 131.1h1.4M324.0 119.7h1.4M322.2 80.5h1.4M324.0 83.7h1.4M332.0 131.2h1.4M323.5 114.0h1.4M330.1 137.4h1.4M330.3 138.5h1.4M336.2 139.5h1.4M325.7 126.0h1.4M332.8 121.3h1.4M332.3 124.3h1.4M324.3 114.4h1.4M323.6 87.6h1.4M327.3 99.4h1.4M329.5 120.6h1.4M326.0 105.0h1.4M323.5 77.5h1.4M335.6 128.7h1.4M322.5 107.2h1.4M322.7 106.6h1.4M329.9 135.3h1.4M324.5 100.4h1.4M321.3 71.3h1.4M334.5 122.0h1.4M324.8 105.9h1.4M334.4 139.1h1.4M324.0 108.6h1.4M322.8 102.8h1.4M323.0 84.2h1.4M333.9 123.8h1.4M326.6 112.5h1.4M327.4 99.8h1.4M337.9 130.1h1.4M321.7 94.1h1.4M325.0 109.2h1.4M323.9 106.3h1.4M322.0 85.6h1.4M333.6 122.0h1.4M323.2 95.1h1.4M331.4 119.0h1.4M325.0 121.9h1.4M336.8 132.0h1.4M324.1 107.0h1.4M327.8 101.2h1.4M322.5 102.5h1.4M328.7 117.7h1.4M329.3 123.3h1.4M330.5 131.2h1.4M323.2 104.8h1.4M323.2 101.2h1.4M329.8 116.4h1.4M329.0 134.6h1.4M336.1 123.8h1.4M331.6 133.5h1.4M322.1 100.1h1.4M323.5 89.2h1.4M326.0 122.7h1.4M327.1 125.1h1.4M328.3 103.4h1.4M330.0 108.0h1.4M323.7 108.4h1.4M336.6 126.7h1.4M331.7 137.3h1.4M324.6 87.7h1.4M331.7 131.3h1.4M334.1 121.8h1.4M324.4 101.7h1.4M321.2 83.0h1.4M322.3 106.7h1.4M328.8 131.5h1.4M331.6 118.1h1.4M336.1 138.2h1.4M334.8 123.0h1.4M339.2 132.4h1.4M338.1 134.7h1.4M323.2 86.6h1.4M330.2 137.3h1.4M322.8 108.9h1.4M325.1 90.9h1.4M327.0 110.8h1.4M336.0 134.3h1.4M326.4 104.5h1.4M337.5 139.3h1.4M325.5 123.7h1.4M333.6 123.8h1.4M321.3 73.0h1.4M329.1 124.4h1.4M322.4 103.1h1.4M335.5 125.7h1.4M329.1 130.0h1.4M321.6 93.0h1.4M325.5 127.7h1.4M330.5 128.7h1.4M323.3 107.3h1.4M328.1 101.6h1.4M327.4 114.9h1.4M321.3 74.4h1.4M330.6 111.0h1.4M325.8 121.5h1.4M331.0 124.1h1.4M322.6 98.8h1.4M321.5 79.4h1.4M323.4 99.9h1.4M328.5 120.4h1.4M322.8 82.7h1.4M330.1 111.3h1.4M325.6 121.2h1.4M326.0 122.2h1.4M324.8 95.8h1.4M339.3 133.1h1.4M328.5 109.9h1.4M326.1 127.1h1.4M321.4 70.4h1.4M335.0 130.4h1.4M330.5 115.5h1.4M327.6 115.8h1.4M323.2 98.2h1.4M332.0 125.8h1.4M321.2 77.2h1.4M328.5 113.8h1.4M323.5 79.6h1.4M322.6 81.8h1.4M322.5 92.1h1.4M325.0 95.6h1.4M323.2 85.6h1.4M330.0 130.2h1.4M331.2 113.0h1.4M328.6 103.2h1.4M323.7 95.5h1.4M327.1 103.7h1.4M338.2 134.4h1.4M332.9 134.0h1.4M330.9 128.4h1.4M328.7 134.6h1.4M328.7 108.8h1.4M330.7 131.9h1.4M331.6 131.6h1.4M325.4 105.5h1.4M332.5 134.1h1.4M330.8 128.8h1.4M329.0 126.7h1.4M332.2 119.0h1.4M326.3 93.6h1.4M327.7 127.7h1.4M332.7 116.2h1.4M336.7 135.4h1.4M329.4 128.6h1.4M321.9 91.4h1.4M332.5 126.2h1.4M328.2 111.1h1.4M327.1 103.4h1.4M334.3 134.5h1.4M323.7 113.0h1.4M330.0 125.2h1.4M326.0 96.7h1.4M335.5 130.9h1.4M324.3 80.0h1.4M325.8 97.7h1.4M331.7 117.8h1.4M322.5 71.8h1.4M327.4 100.6h1.4M332.4 113.0h1.4M331.0 117.7h1.4M327.6 105.2h1.4M324.8 88.1h1.4M327.6 101.0h1.4M336.5 123.1h1.4M325.4 99.8h1.4M333.4 129.9h1.4M322.5 75.9h1.4M328.2 104.0h1.4M325.3 86.3h1.4M326.5 104.6h1.4M334.0 126.5h1.4M323.6 89.1h1.4M331.2 128.4h1.4M329.9 116.5h1.4M328.2 109.0h1.4M323.7 91.4h1.4M327.6 92.8h1.4M324.0 79.3h1.4M324.0 76.4h1.4M333.2 128.0h1.4M323.8 79.7h1.4M340.1 134.0h1.4M329.0 105.2h1.4M338.7 133.7h1.4M335.0 127.1h1.4M329.4 102.4h1.4M333.6 123.7h1.4M332.7 132.8h1.4M339.8 129.6h1.4M325.8 95.6h1.4M331.8 115.8h1.4M325.9 93.6h1.4M337.8 130.7h1.4M322.8 83.6h1.4M323.5 71.0h1.4M326.9 96.2h1.4M336.1 133.4h1.4M327.1 86.9h1.4M325.9 93.8h1.4M325.9 92.6h1.4M323.1 81.1h1.4M332.0 114.7h1.4M327.2 111.8h1.4M335.5 129.8h1.4M327.4 88.1h1.4M323.9 78.3h1.4M326.2 89.6h1.4M325.2 90.7h1.4M327.4 99.9h1.4M330.6 109.4h1.4M328.2 103.3h1.4M335.7 129.5h1.4M333.7 128.4h1.4M332.1 120.2h1.4M325.9 100.3h1.4M328.1 104.3h1.4M325.1 95.3h1.4M322.4 72.8h1.4M331.6 120.8h1.4M328.2 99.4h1.4M323.5 73.9h1.4M335.1 128.5h1.4M328.6 114.5h1.4M346.7 100.6h1.4M342.2 136.5h1.4M342.8 111.2h1.4M344.8 99.1h1.4M343.3 108.7h1.4M336.5 130.5h1.4M338.2 132.0h1.4M346.6 99.0h1.4M347.3 99.1h1.4M339.0 130.6h1.4M341.0 119.3h1.4M341.2 109.5h1.4M341.3 129.9h1.4M342.4 110.2h1.4M338.8 130.9h1.4M338.8 122.0h1.4M341.3 115.9h1.4M341.9 129.6h1.4M345.3 111.2h1.4M344.0 102.3h1.4M344.8 104.2h1.4M340.1 121.5h1.4M342.0 135.6h1.4M341.6 123.9h1.4M343.3 117.8h1.4M343.7 105.6h1.4M338.6 120.6h1.4M340.3 127.6h1.4M344.4 121.2h1.4M343.9 104.2h1.4M340.6 109.6h1.4M342.3 121.6h1.4M342.3 127.0h1.4M344.4 102.5h1.4M342.3 128.8h1.4M344.9 117.0h1.4M343.9 103.8h1.4M346.1 102.2h1.4M343.1 110.8h1.4M343.2 112.5h1.4M341.8 110.8h1.4M341.7 128.6h1.4M338.5 134.9h1.4M338.8 129.5h1.4M340.9 115.2h1.4M338.7 134.8h1.4M341.3 122.4h1.4M338.8 123.4h1.4M342.5 119.7h1.4M342.2 127.3h1.4M338.9 131.5h1.4M345.0 105.1h1.4M339.9 120.5h1.4M339.8 120.7h1.4M346.7 98.8h1.4M339.6 116.8h1.4M339.9 114.8h1.4M345.3 99.6h1.4M341.1 120.9h1.4M341.7 109.8h1.4M343.2 110.4h1.4M338.0 130.6h1.4M336.9 136.7h1.4M342.3 129.2h1.4M341.4 118.9h1.4M341.9 108.6h1.4M342.2 120.8h1.4M339.9 128.8h1.4M340.9 115.5h1.4M343.6 106.3h1.4M341.5 115.1h1.4M343.9 103.2h1.4M336.9 134.6h1.4M340.0 114.8h1.4M346.9 100.0h1.4M340.4 110.3h1.4M339.9 127.2h1.4M346.4 98.7h1.4M340.8 105.4h1.4M346.4 101.0h1.4M340.6 119.0h1.4M344.3 99.1h1.4M341.4 113.7h1.4M334.3 134.0h1.4M340.6 120.7h1.4M342.8 114.0h1.4M341.9 120.2h1.4M345.6 105.9h1.4M342.4 109.8h1.4M339.4 128.4h1.4M343.1 131.6h1.4M342.4 113.6h1.4M342.0 118.2h1.4M344.9 98.2h1.4M349.6 117.7h1.4M355.5 148.0h1.4M353.4 122.3h1.4M357.4 157.0h1.4M347.4 103.7h1.4M346.0 100.0h1.4M358.5 147.1h1.4M357.6 144.4h1.4M356.0 149.6h1.4M347.5 111.2h1.4M352.0 138.1h1.4M359.5 154.9h1.4M345.8 103.1h1.4M355.6 146.5h1.4M346.5 109.7h1.4M352.1 133.8h1.4M354.2 152.5h1.4M347.9 110.5h1.4M355.6 158.2h1.4M353.2 133.1h1.4M352.4 133.7h1.4M345.4 105.7h1.4M351.4 122.1h1.4M353.8 136.9h1.4M357.4 153.9h1.4M347.7 109.6h1.4M350.3 137.3h1.4M354.7 145.8h1.4M358.7 155.9h1.4M357.7 149.4h1.4M350.4 125.7h1.4M356.1 145.5h1.4M351.2 116.1h1.4M348.4 112.4h1.4M348.7 108.7h1.4M349.3 116.4h1.4M353.8 136.7h1.4M346.0 99.7h1.4M357.7 154.9h1.4M350.0 121.5h1.4M350.5 128.2h1.4M356.4 144.0h1.4M355.7 147.3h1.4M349.4 109.6h1.4M358.0 149.5h1.4M353.2 137.9h1.4M349.5 123.9h1.4M352.5 133.9h1.4M348.4 112.1h1.4M349.7 137.7h1.4M346.6 106.4h1.4M350.9 113.2h1.4M348.1 130.0h1.4M359.2 153.0h1.4M352.9 134.4h1.4M350.8 132.6h1.4M354.5 135.2h1.4M355.5 148.2h1.4M355.5 156.5h1.4M349.2 114.1h1.4M350.1 117.4h1.4M352.8 129.9h1.4M349.3 118.7h1.4M352.7 118.1h1.4M352.9 129.2h1.4M348.2 105.3h1.4M354.0 149.1h1.4M347.8 107.6h1.4M358.0 146.0h1.4M351.5 130.8h1.4M353.2 140.0h1.4M357.2 158.8h1.4M352.7 140.9h1.4M353.4 134.5h1.4M352.2 140.0h1.4M350.4 114.2h1.4M356.4 147.3h1.4M352.9 133.3h1.4M355.8 146.9h1.4M354.3 141.0h1.4M352.0 123.0h1.4M350.7 131.2h1.4M351.8 123.7h1.4M344.8 103.4h1.4M352.3 133.7h1.4M351.0 119.0h1.4M347.4 114.1h1.4M358.9 157.3h1.4M344.3 103.2h1.4M348.6 127.2h1.4M351.6 127.3h1.4M352.7 137.5h1.4M352.4 137.7h1.4M354.1 144.2h1.4M355.7 151.8h1.4M351.2 110.9h1.4M346.4 101.0h1.4M347.5 98.6h1.4M355.6 155.1h1.4M346.7 106.9h1.4M346.5 107.2h1.4M356.4 146.4h1.4M354.3 136.0h1.4M357.6 128.1h1.4M353.0 121.7h1.4M349.6 116.6h1.4M345.5 101.1h1.4M350.1 106.6h1.4M351.8 122.0h1.4M348.9 107.4h1.4M347.6 107.6h1.4M351.3 132.3h1.4M349.4 119.3h1.4M352.3 126.6h1.4M347.5 110.4h1.4M353.3 134.9h1.4M355.9 149.6h1.4M349.7 128.4h1.4M350.1 126.6h1.4M351.0 124.0h1.4M351.2 128.9h1.4M357.4 157.3h1.4M348.2 111.5h1.4M350.1 128.0h1.4M353.7 150.4h1.4M353.2 135.3h1.4M354.1 138.9h1.4M356.1 148.8h1.4M358.5 153.7h1.4M356.3 151.2h1.4M356.7 141.6h1.4M348.8 114.1h1.4M357.8 170.4h1.4M359.5 171.3h1.4M359.6 176.3h1.4M359.4 176.1h1.4M358.6 169.6h1.4M359.9 178.2h1.4M358.9 173.9h1.4M359.8 168.3h1.4M371.0 177.7h1.4M368.0 170.4h1.4M369.6 177.8h1.4M374.0 178.7h1.4M369.3 169.5h1.4M370.7 185.2h1.4M371.5 182.6h1.4M368.7 170.9h1.4M367.0 169.9h1.4M369.2 175.4h1.4M373.8 178.4h1.4M367.4 178.8h1.4M371.3 174.3h1.4M370.8 171.4h1.4M367.7 171.4h1.4M373.7 180.5h1.4M372.1 174.0h1.4M367.3 173.9h1.4M367.4 172.8h1.4M373.2 178.6h1.4M370.8 184.0h1.4M372.1 174.6h1.4M371.1 176.0h1.4M369.5 170.7h1.4M373.0 169.9h1.4M372.3 170.3h1.4M371.3 176.8h1.4M381.8 170.6h1.4M383.0 171.7h1.4M376.5 178.0h1.4M380.5 171.3h1.4M375.3 174.4h1.4M378.4 175.5h1.4M379.8 175.8h1.4M382.2 172.6h1.4M381.5 170.1h1.4M376.1 174.9h1.4M379.1 172.7h1.4M380.9 171.8h1.4M379.0 171.5h1.4M374.4 177.3h1.4M374.3 176.3h1.4M376.7 179.7h1.4M380.0 172.2h1.4M381.7 174.2h1.4M382.3 170.4h1.4M389.3 158.6h1.4M388.4 159.0h1.4M392.4 158.0h1.4M386.0 154.9h1.4M393.6 159.4h1.4M395.6 159.4h1.4M387.9 156.4h1.4M385.9 154.2h1.4M403.6 96.3h1.4M404.6 87.7h1.4M402.9 126.4h1.4M400.7 139.8h1.4M400.0 146.6h1.4M398.9 155.9h1.4M406.1 81.7h1.4M401.4 150.1h1.4M399.9 135.3h1.4M406.1 72.9h1.4M407.2 74.5h1.4M406.4 75.0h1.4M401.0 118.6h1.4M400.2 139.3h1.4M404.3 94.8h1.4M400.2 147.3h1.4M401.5 126.6h1.4M404.6 84.6h1.4M403.0 126.9h1.4M405.2 97.1h1.4M403.7 93.5h1.4M401.1 138.6h1.4M403.5 93.8h1.4M404.9 82.1h1.4M399.9 157.0h1.4M406.0 92.8h1.4M399.8 141.2h1.4M401.6 125.8h1.4M399.5 153.3h1.4M401.2 137.6h1.4M399.7 157.3h1.4M400.3 144.3h1.4M405.3 89.3h1.4M403.0 113.9h1.4M402.1 124.8h1.4M403.3 108.9h1.4M403.1 118.0h1.4M403.5 107.1h1.4M402.0 129.1h1.4M405.8 71.2h1.4M401.3 136.2h1.4M405.0 82.3h1.4M400.0 156.2h1.4M406.7 75.3h1.4M405.0 77.3h1.4M403.4 117.9h1.4M406.2 82.5h1.4M402.9 108.0h1.4M404.3 105.1h1.4M402.9 111.1h1.4M402.4 123.2h1.4M403.8 100.8h1.4M405.4 87.6h1.4M399.6 146.7h1.4M401.8 138.1h1.4M401.5 132.4h1.4M400.9 136.8h1.4M404.7 98.8h1.4M401.7 129.8h1.4M414.3 107.7h1.4M409.2 95.2h1.4M412.3 96.3h1.4M412.2 104.5h1.4M410.8 96.4h1.4M408.2 110.0h1.4M409.8 82.4h1.4M406.3 90.5h1.4M405.7 103.6h1.4M413.8 136.5h1.4M421.0 131.8h1.4M415.9 128.8h1.4M408.1 79.1h1.4M415.7 126.4h1.4M420.3 129.6h1.4M406.7 71.6h1.4M408.3 72.3h1.4M409.5 105.6h1.4M411.2 83.6h1.4M405.8 71.5h1.4M416.2 102.8h1.4M409.3 104.4h1.4M415.1 132.9h1.4M411.1 87.5h1.4M402.6 79.0h1.4M408.8 112.4h1.4M411.8 100.9h1.4M414.5 127.4h1.4M411.9 98.0h1.4M414.9 130.2h1.4M406.4 89.1h1.4M405.3 81.6h1.4M408.9 81.2h1.4M418.1 133.2h1.4M412.2 111.7h1.4M406.5 100.6h1.4M409.7 79.0h1.4M415.6 130.4h1.4M408.6 94.4h1.4M421.6 134.6h1.4M409.9 104.7h1.4M405.3 70.3h1.4M417.4 117.7h1.4M410.5 83.3h1.4M410.8 112.1h1.4M411.0 104.4h1.4M415.9 128.1h1.4M412.6 100.8h1.4M409.5 111.1h1.4M409.3 101.9h1.4M417.5 121.6h1.4M407.9 87.7h1.4M410.6 110.9h1.4M409.4 80.9h1.4M406.5 90.1h1.4M411.1 103.0h1.4M407.9 72.6h1.4M416.5 114.4h1.4M405.0 73.7h1.4M417.8 115.6h1.4M420.2 128.1h1.4M406.7 71.2h1.4M421.7 135.0h1.4M405.1 73.2h1.4M409.4 102.8h1.4M410.3 122.3h1.4M411.9 117.0h1.4M413.5 125.7h1.4M412.4 107.4h1.4M408.7 99.5h1.4M415.7 119.7h1.4M409.0 70.3h1.4M406.1 80.0h1.4M417.7 130.9h1.4M405.5 75.9h1.4M409.5 94.0h1.4M416.1 123.7h1.4M412.3 95.0h1.4M410.7 85.5h1.4M404.2 79.5h1.4M407.5 76.3h1.4M412.4 113.4h1.4M411.0 87.4h1.4M411.1 108.7h1.4M410.8 112.7h1.4M419.2 137.5h1.4M417.9 125.6h1.4M414.1 102.3h1.4M409.2 111.4h1.4M413.1 104.3h1.4M407.6 81.7h1.4M424.3 131.6h1.4M404.2 90.7h1.4M407.7 124.5h1.4M411.4 97.3h1.4M420.8 126.9h1.4M407.7 93.9h1.4M409.2 76.0h1.4M404.7 89.4h1.4M418.0 135.8h1.4M410.3 112.0h1.4M413.3 105.8h1.4M411.2 90.6h1.4M416.9 133.8h1.4M413.5 103.2h1.4M405.1 85.9h1.4M423.4 127.4h1.4M411.6 103.9h1.4M404.6 79.9h1.4M412.1 119.7h1.4M407.2 76.5h1.4M408.5 91.9h1.4M410.7 107.5h1.4M420.5 124.4h1.4M417.4 116.6h1.4M416.6 127.7h1.4M413.7 95.8h1.4M408.9 81.1h1.4M412.1 115.2h1.4M420.9 131.8h1.4M419.1 125.4h1.4M411.9 104.4h1.4M417.1 128.1h1.4M415.7 113.3h1.4M409.0 99.3h1.4M409.3 80.6h1.4M406.6 86.4h1.4M419.9 128.7h1.4M413.1 108.1h1.4M405.4 80.8h1.4M412.8 103.8h1.4M409.6 106.3h1.4M407.7 80.3h1.4M426.2 103.7h1.4M423.1 115.1h1.4M429.6 95.8h1.4M421.2 134.3h1.4M428.0 111.8h1.4M426.2 109.6h1.4M422.3 118.6h1.4M430.1 98.1h1.4M423.8 122.5h1.4M426.1 113.0h1.4M426.0 112.6h1.4M429.4 98.0h1.4M424.7 116.0h1.4M430.0 91.3h1.4M423.4 126.8h1.4M424.2 131.7h1.4M428.0 102.6h1.4M424.9 124.4h1.4M427.5 98.4h1.4M425.4 102.9h1.4M428.2 96.7h1.4M424.0 119.8h1.4M426.3 102.2h1.4M422.8 120.1h1.4M422.6 119.2h1.4M422.9 128.0h1.4M419.2 136.3h1.4M422.2 130.5h1.4M426.0 117.5h1.4M424.5 117.1h1.4M425.9 120.0h1.4M426.5 104.1h1.4M422.2 134.0h1.4M425.5 113.2h1.4M430.2 97.1h1.4M421.5 130.8h1.4M424.8 110.0h1.4M425.5 122.2h1.4M426.7 100.9h1.4M427.0 111.1h1.4M426.3 106.8h1.4M429.1 91.5h1.4M422.9 125.2h1.4M429.3 101.2h1.4M425.0 118.5h1.4M430.5 90.6h1.4M430.9 120.9h1.4M432.6 133.6h1.4M433.5 131.5h1.4M431.2 116.5h1.4M431.7 122.4h1.4M429.6 105.1h1.4M431.3 102.4h1.4M430.5 113.9h1.4M432.6 118.7h1.4M434.5 145.5h1.4M428.9 97.6h1.4M430.0 94.4h1.4M432.8 137.3h1.4M429.8 92.9h1.4M432.5 116.8h1.4M434.3 142.7h1.4M431.8 93.6h1.4M436.5 157.2h1.4M432.3 144.2h1.4M432.0 107.1h1.4M435.1 156.8h1.4M434.2 137.2h1.4M432.4 118.0h1.4M431.0 93.6h1.4M432.6 121.4h1.4M432.1 118.4h1.4M433.7 148.3h1.4M432.4 119.7h1.4M434.3 152.4h1.4M432.9 129.9h1.4M430.2 90.3h1.4M436.8 141.0h1.4M432.5 137.2h1.4M434.9 137.3h1.4M432.9 125.4h1.4M431.4 104.5h1.4M432.9 132.3h1.4M429.8 94.3h1.4M433.5 133.4h1.4M433.5 127.9h1.4M435.9 153.7h1.4M434.6 156.8h1.4M435.1 149.6h1.4M432.4 121.1h1.4M431.9 124.7h1.4M432.4 121.7h1.4M432.3 115.9h1.4M430.9 105.8h1.4M433.5 148.5h1.4M431.4 125.6h1.4M434.0 135.4h1.4M432.0 125.6h1.4M433.1 133.9h1.4M430.0 90.5h1.4M433.2 136.6h1.4M432.2 117.5h1.4M434.5 142.8h1.4M464.3 180.1h1.4M448.0 175.9h1.4M448.1 175.0h1.4M476.2 174.0h1.4M474.8 172.0h1.4M445.9 174.0h1.4M473.8 173.5h1.4M454.0 183.2h1.4M453.1 183.2h1.4M470.6 176.5h1.4M456.0 180.3h1.4M453.7 181.2h1.4M440.4 171.3h1.4M453.5 178.4h1.4M450.5 176.8h1.4M442.9 171.3h1.4M443.1 171.8h1.4M457.7 180.3h1.4M466.8 176.8h1.4M475.0 174.5h1.4M473.6 171.2h1.4M447.8 176.5h1.4M467.0 177.3h1.4M441.8 176.6h1.4M447.2 178.9h1.4M451.4 178.0h1.4M444.8 173.1h1.4M477.0 171.0h1.4M461.6 179.0h1.4M486.2 168.6h1.4M480.8 171.9h1.4M455.8 182.4h1.4M447.3 174.8h1.4M476.7 169.4h1.4M456.6 183.0h1.4M454.8 181.2h1.4M480.1 171.8h1.4M444.7 169.9h1.4M454.9 182.7h1.4M442.8 171.9h1.4M477.7 173.1h1.4M457.2 186.9h1.4M465.5 178.3h1.4M451.6 178.7h1.4M449.9 180.2h1.4M470.0 178.4h1.4M473.5 172.7h1.4M462.2 179.8h1.4M454.7 179.9h1.4M473.9 175.4h1.4M477.2 172.1h1.4M481.8 172.0h1.4M454.7 182.6h1.4M453.2 183.1h1.4M481.9 168.7h1.4M450.8 179.6h1.4M483.6 172.0h1.4M471.9 175.2h1.4M482.9 169.4h1.4M487.9 171.3h1.4M452.4 179.3h1.4M444.2 177.9h1.4M464.7 173.6h1.4M444.9 178.3h1.4M480.2 168.7h1.4M485.4 173.2h1.4M471.5 173.1h1.4M484.5 161.8h1.4M438.6 171.6h1.4M442.1 170.2h1.4M442.3 170.5h1.4M451.1 184.4h1.4M472.9 173.3h1.4M458.9 182.1h1.4M460.3 179.5h1.4M449.4 180.8h1.4M453.7 182.9h1.4M447.1 173.1h1.4M478.4 171.7h1.4M455.0 184.6h1.4M485.1 168.1h1.4M463.2 179.7h1.4M444.3 174.2h1.4M447.1 177.3h1.4M474.0 170.6h1.4M454.3 180.4h1.4M488.9 171.0h1.4M479.2 170.7h1.4M455.2 181.7h1.4M478.2 175.2h1.4M442.2 174.2h1.4M481.8 169.9h1.4M488.5 170.2h1.4M483.8 171.1h1.4M478.9 169.5h1.4M470.1 176.9h1.4M486.3 169.2h1.4M476.2 170.8h1.4M439.9 173.2h1.4M449.8 180.8h1.4M467.5 174.1h1.4M442.2 173.7h1.4M440.3 174.4h1.4M484.1 170.9h1.4M455.0 182.6h1.4M461.7 178.0h1.4M445.1 170.4h1.4M474.8 178.4h1.4M456.9 181.2h1.4M442.8 175.0h1.4M449.3 178.5h1.4M468.2 177.8h1.4M475.1 175.4h1.4M441.2 169.2h1.4M451.6 183.3h1.4M459.9 182.9h1.4M485.3 166.0h1.4M494.0 159.4h1.4M495.2 159.4h1.4M498.1 160.0h1.4M501.2 159.1h1.4M495.1 159.8h1.4M498.7 158.9h1.4M496.2 159.6h1.4M506.4 123.6h1.4M509.3 68.6h1.4M508.6 92.9h1.4M506.8 110.9h1.4M506.0 115.2h1.4M509.3 76.3h1.4M507.6 96.7h1.4M508.5 89.9h1.4M509.3 76.3h1.4M508.4 72.9h1.4M505.7 121.0h1.4M507.7 98.9h1.4M502.9 153.8h1.4M507.8 107.1h1.4M505.8 135.7h1.4M504.3 145.9h1.4M507.7 89.2h1.4M504.7 142.4h1.4M509.1 84.8h1.4M504.9 133.4h1.4M509.2 76.3h1.4M505.4 122.0h1.4M506.7 113.2h1.4M508.0 84.5h1.4M507.6 85.0h1.4M509.2 80.8h1.4M509.1 83.5h1.4M509.9 70.9h1.4M510.0 66.7h1.4M505.4 136.4h1.4M511.2 63.5h1.4M506.8 116.8h1.4M506.0 120.6h1.4M509.3 72.1h1.4M509.6 70.5h1.4M509.0 85.5h1.4M503.2 151.9h1.4M503.7 153.8h1.4M503.9 145.2h1.4M507.4 91.4h1.4M508.6 105.1h1.4M508.5 89.4h1.4M505.8 118.6h1.4M507.3 77.6h1.4M506.6 96.3h1.4M503.0 145.6h1.4M503.8 150.7h1.4M506.7 111.3h1.4M507.3 113.4h1.4M508.1 100.0h1.4M506.7 107.5h1.4M504.9 147.4h1.4M507.7 81.6h1.4M509.0 86.4h1.4M504.2 144.4h1.4M514.7 93.5h1.4M508.5 66.5h1.4M522.9 140.5h1.4M510.8 87.7h1.4M515.4 109.0h1.4M511.0 97.7h1.4M513.2 89.5h1.4M521.8 118.8h1.4M510.6 67.1h1.4M514.2 108.6h1.4M518.4 112.2h1.4M514.5 76.8h1.4M512.9 90.1h1.4M516.0 113.9h1.4M518.7 125.3h1.4M526.3 148.2h1.4M514.2 98.3h1.4M517.2 110.6h1.4M519.7 124.1h1.4M522.9 122.4h1.4M518.0 102.8h1.4M514.1 87.7h1.4M513.2 91.1h1.4M523.1 134.4h1.4M514.2 82.8h1.4M518.7 110.7h1.4M517.1 109.7h1.4M523.9 149.4h1.4M520.4 130.0h1.4M510.6 66.8h1.4M515.1 91.0h1.4M528.6 151.7h1.4M509.3 66.6h1.4M526.1 148.1h1.4M510.7 71.9h1.4M523.0 134.0h1.4M513.1 77.2h1.4M515.1 100.3h1.4M514.4 93.8h1.4M522.2 130.2h1.4M518.2 130.8h1.4M520.0 116.6h1.4M513.0 67.2h1.4M520.0 138.7h1.4M530.1 154.4h1.4M526.2 139.4h1.4M510.4 67.1h1.4M521.3 130.7h1.4M518.1 106.2h1.4M515.1 101.7h1.4M513.5 78.0h1.4M523.2 129.3h1.4M513.5 95.6h1.4M523.9 127.0h1.4M518.8 128.4h1.4M527.7 145.9h1.4M512.2 87.3h1.4M524.8 135.8h1.4M523.4 120.3h1.4M529.6 149.0h1.4M513.2 84.3h1.4M522.7 133.5h1.4M512.7 83.1h1.4M514.3 74.1h1.4M512.3 86.4h1.4M526.7 142.0h1.4M511.7 88.7h1.4M517.8 114.4h1.4M511.1 91.3h1.4M512.7 80.8h1.4M516.5 106.3h1.4M523.4 135.4h1.4M512.5 72.0h1.4M518.0 124.1h1.4M521.7 142.1h1.4M522.9 142.2h1.4M520.8 142.4h1.4M508.8 85.5h1.4M527.8 156.0h1.4M516.8 105.9h1.4M527.2 137.9h1.4M527.2 152.0h1.4M521.7 138.6h1.4M517.1 100.5h1.4M509.6 85.0h1.4M514.1 84.1h1.4M521.4 113.3h1.4M520.7 129.9h1.4M512.9 80.6h1.4M510.7 82.4h1.4M529.5 152.3h1.4M514.1 70.1h1.4M514.3 88.2h1.4M521.4 122.7h1.4M515.3 101.3h1.4M525.8 150.7h1.4M508.8 71.6h1.4M514.3 98.2h1.4M527.0 153.4h1.4M524.7 134.0h1.4M522.7 127.9h1.4M514.6 85.6h1.4M523.1 130.6h1.4M519.1 116.9h1.4M527.3 144.1h1.4M518.6 118.3h1.4M509.2 66.6h1.4M516.2 109.8h1.4M525.4 135.2h1.4M512.8 79.3h1.4M528.4 145.6h1.4M514.5 96.0h1.4M514.6 94.0h1.4M513.7 80.4h1.4M512.3 85.7h1.4M523.1 139.8h1.4M509.2 65.5h1.4M511.2 71.4h1.4M516.5 104.3h1.4M530.2 149.9h1.4M524.3 133.0h1.4M516.8 104.5h1.4M524.7 149.7h1.4M526.9 143.1h1.4M508.0 72.9h1.4M520.8 112.4h1.4M509.0 63.6h1.4M510.5 64.1h1.4M524.7 146.2h1.4M522.6 136.2h1.4M511.6 72.9h1.4M525.3 140.1h1.4M528.2 155.8h1.4M522.7 141.6h1.4M527.8 138.6h1.4M509.7 85.4h1.4M519.9 125.3h1.4M518.8 122.2h1.4M524.4 132.3h1.4M528.6 155.6h1.4M523.0 133.2h1.4M520.2 124.7h1.4M526.2 138.2h1.4M519.0 120.6h1.4M527.3 135.3h1.4M533.8 126.1h1.4M534.1 108.1h1.4M534.3 125.5h1.4M535.0 116.7h1.4M535.3 105.8h1.4M533.1 138.7h1.4M532.3 137.9h1.4M532.4 133.0h1.4M532.6 113.7h1.4M530.7 142.9h1.4M533.7 128.7h1.4M532.6 126.2h1.4M532.4 138.8h1.4M533.6 121.1h1.4M533.0 148.9h1.4M535.0 106.8h1.4M534.1 130.2h1.4M533.2 139.8h1.4M534.1 114.9h1.4M534.0 128.3h1.4M534.8 111.7h1.4M534.9 106.7h1.4M532.5 137.1h1.4M535.1 102.4h1.4M532.4 127.2h1.4M532.6 131.8h1.4M534.3 122.6h1.4M534.8 126.3h1.4M533.9 125.8h1.4M534.2 108.7h1.4M530.9 146.2h1.4M534.7 111.2h1.4M532.0 141.3h1.4M534.2 109.0h1.4M536.2 98.7h1.4M534.9 113.5h1.4M535.5 104.0h1.4M533.8 129.7h1.4M530.8 147.4h1.4M532.3 124.7h1.4M533.0 129.8h1.4M530.2 144.0h1.4M534.6 111.8h1.4M538.4 126.2h1.4M537.8 119.6h1.4M537.3 100.7h1.4M538.6 126.4h1.4M539.7 140.8h1.4M538.0 120.1h1.4M536.9 108.3h1.4M541.5 150.2h1.4M538.7 135.9h1.4M537.3 104.1h1.4M538.6 147.9h1.4M539.1 131.9h1.4M539.5 156.4h1.4M538.6 118.6h1.4M537.9 107.6h1.4M535.3 98.7h1.4M540.9 136.7h1.4M538.1 136.1h1.4M536.7 105.4h1.4M539.9 153.0h1.4M539.8 148.9h1.4M538.1 128.2h1.4M538.1 137.4h1.4M539.1 133.0h1.4M537.5 113.6h1.4M540.3 141.2h1.4M537.6 99.9h1.4M540.2 121.6h1.4M539.8 153.4h1.4M536.7 105.3h1.4M539.8 143.9h1.4M536.2 116.3h1.4M539.7 154.3h1.4M537.7 132.2h1.4M539.9 151.2h1.4M536.4 98.2h1.4M538.8 152.9h1.4M538.3 132.7h1.4M538.6 151.0h1.4M537.8 110.2h1.4M537.1 115.1h1.4M539.3 128.8h1.4M537.0 106.2h1.4M536.3 110.8h1.4M540.4 157.1h1.4M539.6 130.8h1.4M536.0 110.1h1.4M539.0 158.3h1.4M540.2 157.2h1.4M539.4 146.2h1.4M536.9 105.5h1.4M539.7 144.2h1.4M538.6 111.6h1.4M540.2 149.6h1.4M539.0 136.2h1.4M537.6 141.6h1.4M540.3 138.8h1.4M554.4 176.4h1.4M551.4 178.4h1.4M553.6 171.9h1.4M559.9 174.3h1.4M542.4 171.1h1.4M546.8 171.1h1.4M555.5 178.4h1.4M545.1 172.7h1.4M548.9 178.1h1.4M551.0 178.2h1.4M543.4 171.8h1.4M552.0 177.6h1.4M546.4 173.9h1.4M557.9 177.7h1.4M553.2 178.4h1.4M554.6 178.9h1.4M543.3 170.7h1.4M556.1 175.5h1.4M545.7 174.9h1.4M543.2 168.0h1.4M555.4 180.0h1.4M551.2 174.2h1.4M551.8 176.6h1.4M549.7 176.3h1.4M547.7 174.4h1.4M556.0 181.4h1.4M550.0 172.6h1.4M553.9 179.6h1.4M543.9 169.6h1.4M542.4 170.5h1.4M544.6 168.7h1.4M573.3 172.1h1.4M562.5 175.6h1.4M563.8 178.3h1.4M566.7 172.3h1.4M566.6 174.5h1.4M571.6 169.6h1.4M570.5 170.9h1.4M564.2 175.7h1.4M570.2 169.2h1.4M564.2 173.7h1.4M560.7 180.1h1.4M560.1 175.8h1.4M570.6 172.7h1.4M562.3 173.9h1.4M565.1 174.5h1.4M558.2 176.9h1.4M565.1 177.5h1.4M564.1 174.0h1.4M560.3 174.8h1.4M569.9 169.0h1.4M562.9 169.5h1.4M561.6 181.2h1.4M569.2 169.7h1.4M560.2 174.2h1.4M570.0 169.2h1.4M565.1 174.0h1.4M560.6 176.0h1.4M568.2 169.6h1.4M557.7 174.8h1.4M570.4 171.9h1.4M562.4 175.3h1.4M561.6 175.7h1.4M557.8 176.6h1.4M558.6 174.6h1.4M559.2 177.2h1.4M563.4 174.4h1.4M558.2 177.5h1.4M558.1 175.2h1.4M570.8 172.5h1.4M570.4 173.5h1.4M562.0 175.0h1.4M568.2 176.3h1.4M561.7 173.1h1.4M571.1 174.9h1.4M567.7 174.2h1.4M559.0 178.8h1.4M560.0 175.2h1.4M568.6 169.2h1.4M587.3 107.6h1.4M587.8 101.3h1.4M588.0 109.3h1.4M585.1 143.3h1.4M590.1 85.5h1.4M585.5 138.9h1.4M587.2 125.3h1.4M587.6 97.9h1.4M586.4 133.5h1.4M586.3 109.1h1.4M590.5 76.5h1.4M585.7 130.0h1.4M586.0 129.4h1.4M592.2 64.6h1.4M590.0 85.0h1.4M589.7 86.8h1.4M585.1 150.7h1.4M590.1 87.1h1.4M585.5 146.8h1.4M589.0 86.9h1.4M589.5 83.6h1.4M587.4 127.4h1.4M589.5 82.9h1.4M586.3 120.0h1.4M590.5 61.7h1.4M584.9 150.3h1.4M589.6 76.7h1.4M588.7 98.4h1.4M589.3 87.3h1.4M584.7 150.1h1.4M590.6 80.8h1.4M588.9 80.1h1.4M589.6 81.2h1.4M585.5 148.7h1.4M587.2 106.0h1.4M588.8 97.5h1.4M586.0 137.2h1.4M585.1 149.2h1.4M590.6 72.8h1.4M586.2 140.0h1.4M590.5 81.5h1.4M591.4 70.7h1.4M585.3 138.2h1.4M586.8 108.3h1.4M585.8 138.4h1.4M585.5 143.0h1.4M588.3 105.1h1.4M585.6 148.8h1.4M586.2 135.2h1.4M590.7 70.6h1.4M588.0 86.7h1.4M586.3 126.9h1.4M591.2 71.4h1.4M591.3 81.6h1.4M585.2 129.8h1.4M585.1 147.4h1.4M584.7 148.2h1.4M589.9 85.1h1.4M589.2 90.8h1.4M585.4 141.7h1.4M589.0 85.8h1.4M589.9 68.3h1.4M589.6 89.0h1.4M584.9 155.9h1.4M589.5 89.7h1.4M586.0 129.2h1.4M590.7 82.9h1.4M591.5 67.4h1.4M588.9 85.4h1.4M587.6 119.7h1.4M584.9 155.4h1.4M593.2 70.1h1.4M590.5 76.1h1.4M590.4 62.2h1.4M590.2 79.9h1.4M587.4 124.5h1.4M585.8 140.9h1.4M588.6 114.8h1.4M585.6 125.0h1.4M589.6 88.0h1.4M586.6 111.7h1.4M592.3 73.8h1.4M595.3 96.8h1.4M592.7 98.7h1.4M589.6 85.4h1.4M592.7 79.2h1.4M590.7 101.0h1.4M589.5 100.9h1.4M591.5 98.2h1.4M589.2 98.0h1.4M593.0 67.6h1.4M593.5 82.7h1.4M589.3 89.4h1.4M592.4 69.0h1.4M592.5 61.2h1.4M593.3 100.8h1.4M588.7 95.3h1.4M591.2 88.6h1.4M592.4 65.2h1.4M590.7 96.2h1.4M590.5 93.2h1.4M589.6 83.8h1.4M589.6 84.6h1.4M592.4 63.0h1.4M589.2 94.9h1.4M591.0 74.7h1.4M591.8 97.6h1.4M592.5 96.2h1.4M592.6 73.4h1.4M589.9 91.1h1.4M589.0 97.5h1.4M590.6 77.5h1.4M589.6 94.4h1.4M591.3 72.5h1.4M591.1 98.9h1.4M592.0 97.4h1.4M592.1 69.0h1.4M591.9 101.7h1.4M593.3 74.3h1.4M594.1 82.0h1.4M594.1 91.6h1.4M592.0 83.9h1.4M591.7 92.2h1.4M593.1 79.6h1.4M591.8 70.6h1.4M594.0 92.1h1.4M594.5 84.3h1.4M593.1 68.1h1.4M594.2 98.3h1.4M593.7 100.2h1.4M590.4 88.0h1.4M593.4 101.7h1.4M592.5 83.9h1.4M592.0 98.6h1.4M593.8 85.9h1.4M592.9 82.3h1.4M590.7 78.5h1.4M589.3 101.4h1.4M589.4 97.0h1.4M590.9 76.8h1.4M592.7 62.7h1.4M594.0 77.8h1.4M590.2 100.5h1.4M594.6 93.7h1.4M589.0 95.7h1.4M590.2 80.9h1.4M593.1 82.6h1.4M608.9 132.5h1.4M604.9 142.0h1.4M593.6 58.6h1.4M593.1 71.9h1.4M591.1 61.9h1.4M599.1 108.6h1.4M604.9 142.5h1.4M597.9 85.2h1.4M593.7 69.3h1.4M594.9 89.9h1.4M593.0 89.8h1.4M608.0 144.3h1.4M593.2 71.6h1.4M594.4 72.5h1.4M606.4 134.1h1.4M601.5 114.6h1.4M594.0 68.4h1.4M594.8 85.1h1.4M604.6 132.2h1.4M606.8 129.7h1.4M602.1 119.3h1.4M605.0 131.1h1.4M609.1 143.8h1.4M599.1 113.8h1.4M608.7 141.9h1.4M608.6 142.5h1.4M603.8 111.0h1.4M592.5 82.3h1.4M594.0 66.9h1.4M595.3 87.4h1.4M606.2 147.5h1.4M610.3 149.3h1.4M598.9 94.7h1.4M597.3 104.7h1.4M594.3 93.4h1.4M601.5 104.2h1.4M607.1 151.2h1.4M600.1 111.1h1.4M605.1 151.6h1.4M593.5 73.8h1.4M593.2 62.8h1.4M614.4 146.4h1.4M604.8 135.3h1.4M593.9 57.7h1.4M605.4 133.4h1.4M606.2 146.3h1.4M592.7 65.6h1.4M594.3 84.9h1.4M597.1 93.5h1.4M595.7 115.2h1.4M596.4 93.5h1.4M594.3 72.2h1.4M600.7 109.1h1.4M609.0 138.4h1.4M602.1 106.7h1.4M606.5 139.4h1.4M609.6 139.1h1.4M605.3 129.5h1.4M597.5 104.8h1.4M594.3 91.2h1.4M600.5 119.8h1.4M598.8 111.9h1.4M595.5 80.1h1.4M597.5 104.2h1.4M600.7 107.1h1.4M607.9 137.4h1.4M598.5 102.6h1.4M593.1 60.6h1.4M611.4 131.7h1.4M595.5 92.2h1.4M602.5 114.8h1.4M611.4 133.1h1.4M602.1 116.9h1.4M612.9 141.2h1.4M592.7 69.2h1.4M605.0 132.6h1.4M608.9 145.6h1.4M611.3 150.3h1.4M602.4 113.2h1.4M600.1 103.9h1.4M617.1 151.2h1.4M613.2 146.0h1.4M593.2 73.7h1.4M596.8 96.0h1.4M602.1 116.3h1.4M611.5 146.3h1.4M594.8 74.0h1.4M592.3 58.7h1.4M598.3 104.9h1.4M601.7 103.1h1.4M601.3 112.3h1.4M594.6 71.4h1.4M604.6 127.1h1.4M603.1 134.7h1.4M612.5 145.0h1.4M606.6 128.1h1.4M593.8 77.0h1.4M601.8 120.9h1.4M593.0 83.5h1.4M605.8 132.7h1.4M605.1 128.4h1.4M608.7 149.2h1.4M604.6 121.8h1.4M608.8 145.4h1.4M610.6 151.1h1.4M594.1 80.2h1.4M598.0 104.1h1.4M604.8 127.0h1.4M605.4 129.7h1.4M606.0 133.5h1.4M598.4 100.0h1.4M603.0 129.4h1.4M602.6 136.8h1.4M611.1 144.1h1.4M596.5 96.8h1.4M600.5 117.8h1.4M610.8 152.7h1.4M598.4 91.1h1.4M595.1 91.7h1.4M601.4 111.7h1.4M593.3 83.9h1.4M604.0 107.3h1.4M595.0 76.4h1.4M591.1 58.4h1.4M610.9 144.9h1.4M597.3 103.3h1.4M609.2 148.7h1.4M612.6 151.1h1.4M592.0 59.6h1.4M595.4 85.2h1.4M597.9 101.1h1.4M599.2 95.2h1.4M592.3 75.4h1.4M611.5 150.0h1.4M607.5 138.5h1.4M611.6 139.5h1.4M599.4 101.9h1.4M593.1 64.6h1.4M602.7 112.0h1.4M605.1 123.4h1.4M595.6 95.7h1.4M597.5 100.5h1.4M597.6 96.1h1.4M607.3 147.5h1.4M607.9 146.9h1.4M595.1 88.6h1.4M600.6 112.0h1.4M593.8 59.2h1.4M605.5 119.3h1.4M595.4 80.5h1.4M602.8 121.8h1.4M593.3 68.5h1.4M606.6 124.4h1.4M605.3 143.2h1.4M605.8 139.2h1.4M596.6 80.6h1.4M603.8 143.0h1.4M595.3 91.6h1.4M600.2 113.7h1.4M594.3 74.9h1.4M601.3 112.5h1.4M595.4 97.6h1.4M598.2 94.8h1.4M600.2 103.1h1.4M604.5 132.2h1.4M600.2 107.6h1.4M594.4 74.6h1.4M607.2 151.7h1.4M605.0 125.6h1.4M603.9 122.6h1.4M595.0 98.6h1.4M600.4 118.6h1.4M597.9 85.6h1.4M598.8 96.9h1.4M603.2 127.2h1.4M600.8 98.8h1.4M591.6 63.4h1.4M605.5 146.2h1.4M593.2 60.2h1.4M601.3 112.6h1.4M607.9 141.0h1.4M596.9 88.8h1.4M594.7 89.5h1.4M593.2 69.8h1.4M609.8 145.1h1.4M598.0 99.0h1.4M605.8 112.5h1.4M591.2 68.2h1.4M592.4 70.5h1.4M600.5 123.7h1.4M594.4 57.9h1.4M598.5 95.2h1.4M600.7 125.4h1.4M605.9 119.7h1.4M593.8 85.9h1.4M607.7 142.1h1.4M603.3 134.0h1.4M597.1 98.4h1.4M599.8 103.0h1.4M606.7 128.2h1.4M603.7 126.9h1.4M594.1 88.6h1.4M607.9 152.0h1.4M592.5 70.2h1.4M600.4 124.2h1.4M604.8 142.9h1.4M593.6 77.3h1.4M593.8 90.2h1.4M610.7 151.6h1.4M608.5 146.9h1.4M592.2 73.9h1.4M596.5 95.9h1.4M592.3 58.1h1.4M602.3 116.5h1.4M594.0 79.4h1.4M610.7 142.6h1.4M597.3 92.8h1.4M593.6 76.9h1.4M596.5 97.5h1.4M591.8 58.9h1.4M591.8 77.3h1.4M609.9 146.9h1.4M608.4 144.6h1.4M604.8 121.4h1.4M603.1 127.2h1.4M612.6 150.6h1.4M594.6 72.5h1.4M601.5 107.2h1.4M603.0 119.7h1.4M609.8 145.1h1.4M608.6 129.6h1.4M598.6 94.6h1.4M605.4 126.4h1.4M594.7 78.1h1.4M602.3 125.7h1.4M599.8 100.6h1.4M606.2 117.3h1.4M591.4 69.7h1.4M590.2 74.2h1.4M611.3 151.6h1.4M596.2 87.9h1.4M593.7 83.2h1.4M599.8 116.9h1.4M602.2 125.7h1.4M604.1 152.8h1.4M592.4 77.3h1.4M591.6 62.1h1.4M601.4 110.7h1.4M601.8 104.9h1.4M595.8 75.9h1.4M607.2 138.6h1.4M603.5 124.9h1.4M596.2 93.1h1.4M605.7 137.2h1.4M608.7 116.6h1.4M596.1 91.5h1.4M598.9 107.2h1.4M611.4 151.6h1.4M620.5 107.7h1.4M617.2 123.4h1.4M618.5 113.6h1.4M615.4 116.4h1.4M615.9 124.8h1.4M612.7 142.6h1.4M613.2 128.9h1.4M617.6 118.3h1.4M618.1 111.7h1.4M618.9 110.6h1.4M618.1 119.3h1.4M617.4 111.2h1.4M609.6 142.7h1.4M612.7 136.4h1.4M620.4 99.8h1.4M614.2 129.2h1.4M616.5 132.7h1.4M612.9 134.6h1.4M613.2 142.3h1.4M616.4 141.8h1.4M612.2 141.6h1.4M618.7 113.6h1.4M613.1 134.1h1.4M616.8 121.7h1.4M614.8 140.1h1.4M617.3 112.6h1.4M612.9 149.7h1.4M620.7 103.7h1.4M614.7 133.7h1.4M619.2 107.8h1.4M621.6 106.1h1.4M614.0 145.8h1.4M615.1 115.5h1.4M613.6 126.9h1.4M610.3 129.5h1.4M614.2 135.8h1.4M610.6 147.1h1.4M611.0 144.6h1.4M611.6 142.3h1.4M612.1 145.3h1.4M612.2 138.3h1.4M613.4 136.9h1.4M607.3 151.6h1.4M616.9 118.1h1.4M614.5 122.2h1.4M619.1 123.3h1.4M617.4 129.8h1.4M617.8 115.2h1.4M611.3 147.3h1.4M615.0 121.1h1.4M618.4 109.0h1.4M615.3 112.9h1.4M609.9 139.1h1.4M617.5 123.2h1.4M612.8 135.5h1.4M618.4 111.4h1.4M612.3 132.7h1.4M611.5 142.1h1.4M619.3 109.5h1.4M619.3 106.1h1.4M614.5 138.8h1.4M615.8 119.8h1.4M617.9 113.5h1.4M613.5 132.4h1.4M617.0 131.3h1.4M612.8 147.0h1.4M620.7 106.7h1.4M613.7 152.4h1.4M617.8 125.6h1.4M612.0 139.6h1.4M619.6 99.9h1.4M611.6 138.6h1.4M618.7 112.3h1.4M613.2 137.2h1.4M618.6 105.3h1.4M613.6 127.2h1.4M610.0 150.7h1.4M612.8 119.4h1.4M612.2 132.2h1.4M618.6 111.2h1.4M610.3 151.9h1.4M620.2 103.7h1.4M619.8 114.9h1.4M618.1 117.2h1.4M617.5 116.1h1.4M614.7 131.4h1.4M616.4 117.8h1.4M614.2 132.6h1.4M622.2 104.0h1.4M611.9 130.8h1.4M613.9 144.5h1.4M616.2 117.3h1.4M616.6 115.3h1.4M612.9 150.8h1.4M605.0 147.6h1.4M608.5 134.5h1.4M611.9 131.5h1.4M613.0 132.7h1.4M614.6 141.4h1.4M621.1 100.4h1.4M619.0 100.6h1.4M614.0 119.6h1.4M613.8 132.5h1.4M617.4 111.4h1.4M614.0 130.7h1.4M618.6 101.7h1.4M611.9 141.3h1.4M620.3 99.5h1.4M613.6 124.2h1.4M617.3 133.2h1.4M618.1 130.7h1.4M624.5 135.3h1.4M621.7 102.3h1.4M626.5 124.5h1.4M629.7 159.4h1.4M625.5 126.5h1.4M624.4 136.5h1.4M628.0 145.6h1.4M625.4 122.8h1.4M628.8 157.2h1.4M626.9 143.5h1.4M627.4 155.1h1.4M621.2 105.6h1.4M627.7 133.6h1.4M627.6 121.0h1.4M626.0 138.0h1.4M623.3 112.7h1.4M626.2 141.9h1.4M621.7 108.8h1.4M628.5 152.1h1.4M623.9 105.7h1.4M622.9 116.6h1.4M620.0 102.8h1.4M629.2 160.5h1.4M624.6 108.1h1.4M624.7 132.9h1.4M621.6 101.6h1.4M624.4 124.1h1.4M626.9 139.6h1.4M625.5 110.2h1.4M627.0 142.0h1.4M626.8 134.0h1.4M627.7 147.1h1.4M624.7 115.6h1.4M624.0 114.0h1.4M630.3 155.4h1.4M630.9 159.0h1.4M625.8 121.3h1.4M626.6 136.5h1.4M625.1 148.2h1.4M621.9 102.8h1.4M624.7 132.2h1.4M623.1 102.9h1.4M627.1 152.9h1.4M625.5 140.6h1.4M621.1 103.5h1.4M623.3 120.0h1.4M629.0 139.6h1.4M627.0 156.7h1.4M626.4 135.8h1.4M620.4 122.8h1.4M624.5 131.1h1.4M623.2 108.8h1.4M623.7 140.6h1.4M628.4 154.1h1.4M624.2 126.3h1.4M625.2 132.8h1.4M623.9 122.3h1.4M622.2 128.1h1.4M629.8 156.6h1.4M625.9 125.5h1.4M623.7 123.6h1.4M619.3 100.4h1.4M625.4 124.8h1.4M630.9 151.5h1.4M627.3 142.8h1.4M627.1 149.3h1.4M622.0 113.2h1.4M626.2 124.7h1.4M625.4 126.6h1.4M624.7 128.8h1.4M622.3 118.1h1.4M621.8 123.4h1.4M621.5 102.7h1.4M631.3 157.7h1.4M622.0 100.4h1.4M622.6 111.7h1.4M625.3 156.8h1.4M622.6 118.4h1.4M624.8 132.1h1.4M623.4 104.4h1.4M627.5 123.6h1.4M627.0 125.0h1.4M622.1 110.2h1.4M629.1 151.8h1.4M621.1 113.2h1.4M630.0 147.3h1.4M623.8 118.9h1.4M622.6 140.0h1.4M626.4 154.0h1.4M617.6 98.6h1.4M628.1 157.1h1.4M619.6 99.1h1.4M623.4 105.2h1.4M625.5 138.3h1.4M625.0 113.7h1.4M624.8 128.3h1.4M621.5 111.5h1.4M628.6 146.4h1.4M623.7 120.7h1.4M628.5 138.3h1.4M625.1 147.1h1.4M628.3 139.1h1.4M629.4 148.8h1.4M623.1 118.7h1.4M626.4 137.6h1.4M624.1 138.1h1.4M621.0 107.9h1.4M629.8 148.0h1.4M620.0 99.2h1.4M625.0 116.9h1.4M624.1 121.6h1.4M627.1 147.5h1.4M626.9 155.6h1.4M625.2 125.3h1.4M619.9 103.4h1.4M626.7 155.0h1.4M629.8 147.4h1.4M623.2 122.2h1.4M626.8 151.0h1.4M625.2 142.6h1.4M630.3 154.8h1.4M625.0 114.7h1.4M627.7 150.0h1.4M620.7 99.6h1.4M623.5 124.6h1.4M624.9 120.8h1.4M644.8 177.0h1.4M670.4 169.4h1.4M651.7 180.0h1.4M648.2 174.3h1.4M648.4 178.3h1.4M654.4 178.5h1.4M642.2 173.9h1.4M666.6 176.5h1.4M635.1 168.4h1.4M644.0 176.7h1.4M662.6 174.6h1.4M661.3 181.3h1.4M650.2 178.9h1.4M659.3 178.5h1.4M658.7 177.1h1.4M633.5 169.4h1.4M646.7 176.1h1.4M659.9 178.6h1.4M658.3 176.1h1.4M651.8 175.6h1.4M653.8 181.8h1.4M662.6 176.1h1.4M669.6 172.2h1.4M662.2 176.2h1.4M644.5 174.4h1.4M638.0 175.6h1.4M633.2 169.0h1.4M658.2 176.8h1.4M635.2 167.6h1.4M644.7 173.7h1.4M636.8 168.0h1.4M665.8 172.7h1.4M646.5 177.6h1.4M657.0 180.8h1.4M669.6 171.2h1.4M667.1 179.6h1.4M659.0 175.3h1.4M649.9 176.2h1.4M673.5 170.8h1.4M670.7 174.7h1.4M633.2 168.8h1.4M664.3 173.6h1.4M664.6 177.6h1.4M646.2 173.4h1.4M672.5 172.8h1.4M633.5 168.7h1.4M668.2 177.1h1.4M647.2 174.9h1.4M666.0 171.2h1.4M668.9 168.3h1.4M636.4 168.1h1.4M648.2 181.0h1.4M662.9 178.3h1.4M662.3 173.4h1.4M656.4 182.6h1.4M647.1 176.8h1.4M663.6 171.1h1.4M671.1 170.6h1.4M637.2 168.6h1.4M658.9 175.4h1.4M663.7 176.8h1.4M668.3 175.8h1.4M635.4 168.0h1.4M647.7 179.9h1.4M663.3 172.5h1.4M634.8 168.3h1.4M654.7 179.1h1.4M647.8 174.0h1.4M656.6 180.4h1.4M661.0 177.4h1.4M636.6 172.4h1.4M651.3 176.0h1.4M673.8 173.0h1.4M667.1 171.1h1.4M637.7 173.5h1.4M641.2 173.1h1.4M661.6 171.4h1.4M649.1 178.4h1.4M667.8 171.0h1.4M647.1 179.0h1.4M656.3 179.0h1.4M645.6 180.5h1.4M633.6 167.9h1.4M636.7 168.7h1.4M663.5 176.7h1.4M649.3 179.7h1.4M664.5 181.4h1.4M660.7 175.1h1.4M664.4 169.2h1.4M672.0 172.2h1.4M638.8 176.3h1.4M651.0 183.0h1.4M643.8 174.3h1.4M631.7 167.3h1.4M666.4 171.9h1.4M645.3 172.9h1.4M659.9 179.5h1.4M644.3 180.8h1.4M643.9 174.8h1.4M656.7 179.2h1.4M634.0 172.3h1.4M665.8 177.1h1.4M643.1 174.9h1.4M646.8 176.6h1.4M651.8 177.2h1.4M645.2 173.4h1.4M650.0 177.2h1.4M669.9 172.6h1.4M646.8 175.0h1.4M646.1 180.7h1.4M637.4 169.6h1.4M661.2 180.7h1.4M669.4 166.8h1.4M664.2 175.1h1.4M635.5 167.4h1.4M666.6 170.1h1.4M690.2 80.1h1.4M689.7 83.7h1.4M687.6 114.7h1.4M688.4 111.6h1.4M690.5 102.1h1.4M688.7 102.4h1.4M691.8 75.9h1.4M681.6 157.3h1.4M688.9 89.6h1.4M692.4 75.9h1.4M683.7 154.6h1.4M691.2 76.8h1.4M683.5 151.9h1.4M686.9 115.3h1.4M690.7 100.0h1.4M690.0 87.4h1.4M687.7 133.0h1.4M683.5 150.2h1.4M689.4 99.3h1.4M689.1 106.3h1.4M686.3 122.5h1.4M684.7 145.0h1.4M683.9 148.3h1.4M686.0 123.3h1.4M687.5 121.7h1.4M684.4 144.4h1.4M685.7 131.7h1.4M685.8 138.9h1.4M687.9 130.6h1.4M687.5 130.6h1.4M688.2 106.4h1.4M688.3 99.9h1.4M691.3 77.0h1.4M689.7 99.3h1.4M688.8 110.5h1.4M681.9 155.4h1.4M686.4 134.2h1.4M693.6 79.1h1.4M690.2 78.7h1.4M684.5 147.1h1.4M687.5 113.9h1.4M687.3 128.9h1.4M688.0 85.7h1.4M687.3 106.2h1.4M692.7 75.7h1.4M687.5 90.9h1.4M687.2 118.6h1.4M689.6 96.3h1.4M690.3 94.8h1.4M683.2 156.4h1.4M691.3 80.0h1.4M688.6 122.4h1.4M690.9 77.3h1.4M681.0 161.3h1.4M683.4 148.9h1.4M687.7 102.5h1.4M688.8 96.7h1.4M684.5 143.9h1.4M692.8 71.4h1.4M686.8 123.5h1.4M683.9 154.3h1.4M688.9 95.0h1.4M690.0 102.6h1.4M689.8 93.8h1.4M685.9 142.6h1.4M690.3 95.4h1.4M687.9 102.2h1.4M690.6 92.5h1.4M687.2 136.7h1.4M682.9 153.0h1.4M682.8 149.2h1.4M692.6 80.2h1.4M689.9 111.8h1.4M690.7 79.5h1.4M689.2 126.5h1.4M689.4 104.7h1.4M686.8 104.5h1.4M686.4 129.1h1.4M690.0 79.3h1.4M690.8 76.8h1.4M691.5 70.1h1.4M687.0 119.6h1.4M689.2 96.5h1.4M684.5 144.4h1.4M686.3 114.6h1.4M682.1 157.5h1.4M684.3 150.1h1.4M688.7 95.7h1.4M689.4 103.6h1.4M686.1 117.7h1.4M691.9 95.8h1.4M691.9 73.4h1.4M689.0 103.3h1.4M689.8 88.7h1.4M680.9 160.5h1.4M683.5 151.7h1.4M691.9 81.8h1.4M686.8 132.3h1.4M691.3 74.6h1.4M681.7 160.4h1.4M686.4 124.5h1.4M685.7 131.8h1.4M683.3 152.3h1.4M691.2 73.9h1.4M687.3 134.8h1.4M688.8 100.5h1.4M708.5 134.1h1.4M710.5 138.7h1.4M690.5 70.8h1.4M706.1 133.2h1.4M695.0 87.1h1.4M690.6 102.5h1.4M702.4 122.7h1.4M706.6 132.8h1.4M708.1 146.0h1.4M696.9 104.2h1.4M692.0 81.7h1.4M702.1 119.1h1.4M696.6 122.3h1.4M693.0 90.5h1.4M699.2 121.1h1.4M704.9 140.4h1.4M691.8 87.8h1.4M703.7 126.7h1.4M700.5 128.1h1.4M705.4 119.6h1.4M699.9 115.7h1.4M691.9 71.4h1.4M709.6 144.3h1.4M703.9 132.0h1.4M693.7 76.2h1.4M694.1 105.9h1.4M701.5 133.2h1.4M712.7 148.1h1.4M694.7 112.3h1.4M694.2 80.6h1.4M692.5 89.2h1.4M693.4 79.5h1.4M697.0 119.1h1.4M709.1 136.3h1.4M695.7 116.4h1.4M709.5 145.0h1.4M709.1 143.6h1.4M703.8 120.7h1.4M694.8 86.9h1.4M707.4 123.0h1.4M695.2 105.6h1.4M695.3 73.5h1.4M692.0 79.5h1.4M693.2 78.5h1.4M693.9 78.7h1.4M702.4 127.6h1.4M699.0 105.5h1.4M697.7 119.1h1.4M696.8 101.0h1.4M694.3 97.9h1.4M703.0 135.1h1.4M708.1 132.6h1.4M691.6 81.3h1.4M701.8 126.4h1.4M692.1 86.2h1.4M706.2 139.2h1.4M693.3 87.6h1.4M701.9 120.3h1.4M693.5 71.3h1.4M705.0 138.8h1.4M690.9 78.2h1.4M696.6 115.7h1.4M693.3 89.2h1.4M695.2 81.1h1.4M694.2 86.2h1.4M693.6 100.8h1.4M708.2 134.9h1.4M689.7 76.9h1.4M694.8 92.2h1.4M690.8 100.3h1.4M696.1 89.5h1.4M699.1 118.0h1.4M708.3 130.8h1.4M693.4 88.4h1.4M699.7 109.1h1.4M706.7 135.6h1.4M696.1 103.2h1.4M705.1 128.5h1.4M693.2 80.6h1.4M692.4 76.9h1.4M694.1 80.4h1.4M697.1 108.9h1.4M692.6 95.8h1.4M703.8 116.8h1.4M702.6 116.7h1.4M694.5 104.1h1.4M711.5 136.7h1.4M691.4 96.1h1.4M712.5 147.6h1.4M697.1 105.8h1.4M696.1 104.1h1.4M693.7 79.7h1.4M692.5 76.2h1.4M696.5 108.0h1.4M690.4 90.6h1.4M694.3 91.3h1.4M706.5 138.1h1.4M710.6 148.4h1.4M706.6 149.5h1.4M708.2 134.6h1.4M712.4 147.1h1.4M692.0 92.7h1.4M710.5 136.9h1.4M705.7 134.6h1.4M693.3 92.8h1.4M702.9 125.6h1.4M705.7 142.9h1.4M699.0 123.7h1.4M698.1 88.7h1.4M709.1 131.5h1.4M694.2 102.3h1.4M692.2 80.8h1.4M693.4 92.8h1.4M708.4 139.1h1.4M707.2 133.6h1.4M694.0 73.8h1.4M704.7 131.2h1.4M695.6 89.8h1.4M704.6 143.5h1.4M698.1 109.8h1.4M700.0 120.6h1.4M693.2 82.7h1.4M701.2 110.5h1.4M691.8 73.8h1.4M692.6 82.9h1.4M693.5 80.1h1.4M695.6 92.5h1.4M705.6 129.7h1.4M703.2 124.4h1.4M708.9 141.2h1.4M693.1 97.6h1.4M704.9 136.6h1.4M694.2 99.6h1.4M690.4 77.5h1.4M691.6 97.8h1.4M703.1 126.5h1.4M695.2 100.5h1.4M705.7 120.0h1.4M690.9 70.9h1.4M697.3 98.4h1.4M699.3 115.2h1.4M701.5 134.3h1.4M692.2 76.7h1.4M701.9 112.3h1.4M706.4 126.1h1.4M705.3 136.0h1.4M708.8 140.8h1.4M693.8 85.0h1.4M693.6 81.9h1.4M700.4 129.7h1.4M702.3 137.1h1.4M717.0 143.7h1.4M700.7 124.4h1.4M706.9 138.3h1.4M694.7 93.8h1.4M699.5 105.0h1.4M694.9 76.7h1.4M702.8 116.3h1.4M699.3 114.7h1.4M692.9 87.0h1.4M693.3 82.8h1.4M689.8 80.1h1.4M692.0 97.6h1.4M692.9 75.1h1.4M703.6 135.0h1.4M698.9 99.6h1.4M698.7 116.5h1.4M697.8 94.2h1.4M695.9 77.3h1.4M697.3 107.1h1.4M702.3 101.4h1.4M693.7 96.2h1.4M712.0 136.4h1.4M696.0 93.2h1.4M693.2 111.8h1.4M708.8 140.7h1.4M704.2 134.6h1.4M712.3 145.0h1.4M693.6 111.6h1.4M692.6 104.2h1.4M702.7 126.3h1.4M706.2 141.6h1.4M693.4 74.6h1.4M702.2 127.4h1.4M693.0 87.9h1.4M692.9 93.1h1.4M696.3 111.4h1.4M692.1 79.3h1.4M692.7 76.9h1.4M701.7 117.2h1.4M693.7 96.6h1.4M694.1 83.4h1.4M710.2 145.2h1.4M700.3 115.9h1.4M707.0 148.7h1.4M695.3 108.2h1.4M694.4 115.8h1.4M692.7 71.2h1.4M695.6 84.2h1.4M691.7 84.0h1.4M692.7 80.1h1.4M705.9 133.7h1.4M709.8 138.1h1.4M693.0 81.4h1.4M701.3 149.1h1.4M706.2 141.0h1.4M697.9 120.5h1.4M689.7 78.3h1.4M692.7 75.6h1.4M705.3 122.3h1.4M691.2 99.4h1.4M707.1 126.2h1.4M708.1 143.1h1.4M700.6 115.8h1.4M706.6 148.6h1.4M699.7 120.5h1.4M701.5 127.4h1.4M701.5 131.5h1.4M693.1 83.1h1.4M708.1 133.4h1.4M714.4 142.6h1.4M691.1 95.1h1.4M696.7 104.0h1.4M695.0 97.2h1.4M706.4 133.6h1.4M704.0 132.0h1.4M694.0 88.3h1.4M694.3 96.7h1.4M693.5 85.9h1.4M693.9 91.4h1.4M703.8 115.1h1.4M705.8 143.6h1.4M694.3 103.7h1.4M708.7 148.7h1.4M708.8 136.9h1.4M692.1 81.7h1.4M692.7 79.4h1.4M699.0 107.9h1.4M692.3 94.2h1.4M706.2 119.5h1.4M715.6 110.4h1.4M718.9 97.3h1.4M715.2 126.8h1.4M720.2 101.8h1.4M717.1 106.0h1.4M717.3 105.1h1.4M714.4 105.8h1.4M712.9 128.8h1.4M718.8 98.8h1.4M718.0 97.7h1.4M713.9 123.9h1.4M716.5 132.1h1.4M717.5 103.1h1.4M710.2 135.5h1.4M709.9 135.6h1.4M718.7 99.5h1.4M713.9 121.1h1.4M713.3 129.6h1.4M714.1 145.6h1.4M714.1 133.1h1.4M707.4 141.8h1.4M715.4 109.5h1.4M718.2 111.6h1.4M717.6 96.7h1.4M714.1 146.9h1.4M711.7 145.7h1.4M711.8 142.2h1.4M715.5 111.4h1.4M716.3 102.6h1.4M719.3 107.4h1.4M715.7 115.7h1.4M714.2 127.1h1.4M716.0 122.8h1.4M717.5 121.0h1.4M710.4 140.7h1.4M712.4 136.8h1.4M713.8 118.4h1.4M711.6 135.7h1.4M718.1 100.7h1.4M716.1 106.9h1.4M712.4 128.3h1.4M713.3 116.1h1.4M709.5 148.3h1.4M711.3 127.6h1.4M715.0 112.7h1.4M716.3 124.2h1.4M715.8 105.1h1.4M714.6 119.8h1.4M717.0 121.6h1.4M717.6 99.8h1.4M710.7 147.4h1.4M714.0 132.4h1.4M712.8 125.2h1.4M718.8 131.8h1.4M717.2 123.9h1.4M711.7 129.2h1.4M710.3 128.5h1.4M712.0 136.7h1.4M715.0 116.9h1.4M712.7 148.2h1.4M715.0 117.7h1.4M713.9 107.4h1.4M718.5 104.7h1.4M716.5 104.5h1.4M716.6 101.3h1.4M714.8 122.8h1.4M715.9 117.9h1.4M713.0 149.0h1.4M717.4 109.5h1.4M717.1 101.5h1.4M714.3 131.1h1.4M710.4 146.9h1.4M716.6 122.0h1.4M717.5 116.6h1.4M711.3 138.8h1.4M715.5 114.1h1.4M716.7 126.1h1.4M716.8 102.7h1.4M717.8 105.6h1.4M718.3 99.3h1.4M709.6 145.5h1.4M713.2 139.5h1.4M716.8 127.7h1.4M715.1 96.6h1.4M717.1 107.8h1.4M715.4 115.4h1.4M715.2 112.9h1.4M714.6 126.0h1.4M715.8 110.1h1.4M713.3 122.6h1.4M718.7 98.9h1.4M711.5 138.5h1.4M710.9 138.2h1.4M710.3 136.5h1.4M717.7 112.3h1.4M708.4 143.2h1.4M718.9 97.2h1.4M712.1 135.1h1.4M719.0 99.1h1.4M716.9 128.5h1.4M715.4 112.0h1.4M715.0 147.1h1.4M719.1 97.3h1.4M711.3 148.2h1.4M716.8 102.2h1.4M717.0 123.9h1.4M718.6 102.1h1.4M713.1 124.7h1.4M712.9 133.7h1.4M713.5 144.6h1.4M715.2 125.7h1.4M716.6 113.0h1.4M713.2 120.9h1.4M712.9 128.1h1.4M720.3 97.2h1.4M713.6 142.3h1.4M713.0 133.8h1.4M716.9 131.1h1.4M716.3 98.7h1.4M713.8 131.9h1.4M714.6 145.9h1.4M715.0 135.0h1.4M713.2 120.1h1.4M712.9 126.1h1.4M713.2 147.2h1.4M708.9 134.8h1.4M731.3 156.5h1.4M727.3 152.7h1.4M720.2 116.7h1.4M722.1 106.7h1.4M719.4 124.7h1.4M724.6 137.0h1.4M721.8 119.4h1.4M720.6 115.6h1.4M719.4 96.7h1.4M720.3 100.9h1.4M716.6 116.6h1.4M718.2 125.8h1.4M724.6 146.2h1.4M721.1 105.3h1.4M723.2 125.2h1.4M727.7 151.7h1.4M724.0 127.1h1.4M724.9 120.1h1.4M718.6 104.9h1.4M718.8 100.6h1.4M721.1 125.3h1.4M719.9 115.7h1.4M728.6 135.6h1.4M726.5 152.2h1.4M728.5 159.4h1.4M728.0 153.3h1.4M721.5 108.6h1.4M730.2 145.2h1.4M721.0 126.9h1.4M720.9 128.2h1.4M718.7 104.7h1.4M726.5 143.9h1.4M724.4 149.8h1.4M725.2 117.5h1.4M721.9 101.5h1.4M723.6 141.1h1.4M722.8 148.2h1.4M721.4 104.8h1.4M723.4 124.8h1.4M726.4 156.2h1.4M719.4 105.1h1.4M724.6 149.3h1.4M730.3 158.0h1.4M722.9 136.6h1.4M721.8 101.1h1.4M720.4 104.0h1.4M719.3 104.7h1.4M720.5 115.1h1.4M718.6 110.9h1.4M722.9 121.5h1.4M720.2 124.5h1.4M721.8 126.1h1.4M727.6 157.5h1.4M721.8 135.9h1.4M723.3 149.3h1.4M718.6 113.3h1.4M723.3 139.0h1.4M717.7 112.2h1.4M726.9 138.9h1.4M726.7 152.3h1.4M720.1 116.2h1.4M719.1 111.2h1.4M723.2 139.9h1.4M721.6 113.2h1.4M720.4 110.0h1.4M721.8 117.9h1.4M721.9 133.8h1.4M723.9 130.6h1.4M724.1 123.3h1.4M722.1 122.8h1.4M721.6 100.9h1.4M716.9 109.6h1.4M721.7 108.7h1.4M725.1 136.0h1.4M720.1 102.2h1.4M727.1 157.1h1.4M719.6 130.1h1.4M722.0 112.8h1.4M722.5 149.4h1.4M717.2 100.1h1.4M728.8 157.9h1.4M722.4 130.3h1.4M725.5 142.0h1.4M726.4 133.4h1.4M721.0 105.3h1.4M722.8 107.4h1.4M720.7 106.8h1.4M722.4 120.5h1.4M726.1 157.1h1.4M722.7 135.9h1.4M728.9 159.5h1.4M721.7 105.4h1.4M718.3 113.0h1.4M719.8 101.1h1.4M718.6 100.1h1.4M722.7 113.5h1.4M724.2 128.7h1.4M720.3 98.0h1.4M726.3 146.6h1.4M727.5 154.6h1.4M724.3 144.4h1.4M722.7 133.7h1.4M725.3 149.8h1.4M720.7 109.4h1.4M725.5 145.9h1.4M721.1 126.9h1.4M724.1 115.0h1.4M722.3 114.4h1.4M724.7 144.6h1.4M723.6 120.4h1.4M723.3 127.3h1.4M726.6 152.1h1.4M719.2 101.5h1.4M727.2 146.1h1.4M724.6 125.5h1.4M727.3 155.5h1.4M722.2 134.4h1.4M723.1 125.0h1.4M728.9 140.3h1.4M724.6 134.7h1.4M726.2 157.8h1.4M724.3 134.9h1.4M717.1 97.1h1.4M720.7 117.6h1.4M726.1 146.5h1.4M720.0 123.6h1.4M723.7 143.2h1.4M722.7 133.5h1.4M728.2 154.8h1.4M723.7 143.4h1.4M731.6 157.2h1.4M718.6 114.8h1.4M723.2 115.7h1.4M718.8 100.4h1.4M720.8 128.8h1.4M729.2 136.3h1.4M722.5 134.0h1.4M725.4 158.8h1.4M722.6 119.7h1.4M725.8 122.1h1.4M720.2 140.5h1.4M721.3 113.1h1.4M729.3 148.2h1.4M723.2 138.6h1.4M718.4 116.2h1.4M722.5 105.5h1.4M720.8 118.7h1.4M722.8 131.4h1.4M719.7 115.7h1.4M722.9 127.4h1.4M725.4 134.3h1.4M736.0 173.6h1.4M733.6 171.3h1.4M740.1 174.2h1.4M742.0 170.9h1.4M740.0 172.9h1.4M735.5 172.8h1.4M744.0 173.0h1.4M739.7 170.7h1.4M746.3 173.8h1.4M732.7 168.9h1.4M733.1 165.7h1.4M738.6 169.3h1.4M742.0 176.2h1.4M731.1 169.7h1.4M737.6 170.6h1.4M741.2 174.7h1.4M731.5 166.9h1.4M735.3 171.4h1.4M736.4 171.8h1.4M741.2 174.9h1.4M743.5 175.8h1.4M732.7 170.3h1.4M747.1 175.3h1.4M733.7 167.2h1.4M744.3 178.9h1.4M732.6 168.8h1.4M734.3 173.5h1.4M732.1 170.3h1.4M738.4 172.5h1.4M742.3 170.6h1.4M737.5 174.6h1.4M731.9 168.1h1.4" stroke="#fff" stroke-opacity="0.45" stroke-width="1.4" fill="none"/>
<path d="M25.0 157.8h1.4M20.2 159.1h1.4M21.5 159.0h1.4M25.8 156.0h1.4M27.0 155.8h1.4M30.5 137.1h1.4M34.5 79.5h1.4M34.8 69.1h1.4M34.1 96.9h1.4M35.6 72.5h1.4M32.0 115.1h1.4M30.7 143.9h1.4M30.7 125.2h1.4M29.8 151.0h1.4M30.6 116.6h1.4M32.2 102.9h1.4M31.9 114.5h1.4M35.2 70.3h1.4M34.8 74.5h1.4M29.8 148.8h1.4M36.2 61.5h1.4M37.3 63.4h1.4M35.8 72.5h1.4M33.8 90.0h1.4M35.5 59.2h1.4M31.6 128.8h1.4M32.0 118.1h1.4M32.4 104.2h1.4M29.9 135.1h1.4M31.8 120.8h1.4M33.1 99.2h1.4M35.4 65.6h1.4M32.7 93.8h1.4M32.4 108.9h1.4M30.1 139.9h1.4M30.1 144.6h1.4M31.5 130.8h1.4M35.0 83.6h1.4M33.7 86.7h1.4M33.8 82.5h1.4M32.3 114.5h1.4M34.0 85.0h1.4M35.4 69.6h1.4M31.4 124.9h1.4M31.1 136.6h1.4M32.7 126.7h1.4M38.7 83.8h1.4M40.9 97.8h1.4M36.7 65.1h1.4M42.3 107.2h1.4M47.9 141.1h1.4M38.7 69.2h1.4M38.0 68.7h1.4M36.0 66.4h1.4M44.9 110.3h1.4M41.3 100.2h1.4M38.8 99.9h1.4M42.1 98.0h1.4M36.7 62.6h1.4M49.2 140.2h1.4M36.8 75.5h1.4M47.3 126.8h1.4M42.6 88.6h1.4M51.3 141.6h1.4M39.9 111.7h1.4M47.7 119.0h1.4M39.8 105.2h1.4M46.8 120.7h1.4M37.4 100.9h1.4M38.8 91.7h1.4M42.5 111.7h1.4M35.5 67.1h1.4M41.4 108.7h1.4M49.1 138.6h1.4M37.0 83.9h1.4M39.5 86.2h1.4M38.3 76.4h1.4M43.0 114.1h1.4M36.7 69.6h1.4M42.9 121.2h1.4M36.3 72.0h1.4M45.1 127.4h1.4M37.3 73.9h1.4M39.6 86.2h1.4M48.2 135.0h1.4M47.6 137.5h1.4M39.7 90.3h1.4M37.7 78.6h1.4M36.9 65.6h1.4M45.8 117.4h1.4M42.6 110.2h1.4M41.1 100.6h1.4M35.6 67.7h1.4M44.2 137.1h1.4M43.5 108.0h1.4M44.8 125.1h1.4M35.5 62.9h1.4M39.9 83.9h1.4M37.3 65.0h1.4M48.9 135.7h1.4M39.9 75.8h1.4M40.8 93.1h1.4M41.1 93.5h1.4M37.3 59.3h1.4M40.3 97.8h1.4M36.3 65.3h1.4M39.7 101.2h1.4M37.4 67.2h1.4M45.4 111.0h1.4M35.0 66.5h1.4M43.5 112.9h1.4M36.8 66.5h1.4M44.2 110.2h1.4M37.1 65.6h1.4M37.3 58.3h1.4M43.5 105.0h1.4M37.7 78.7h1.4M36.4 62.4h1.4M38.9 74.3h1.4M34.9 58.1h1.4M47.5 119.8h1.4M44.1 104.2h1.4M47.4 124.0h1.4M38.0 62.9h1.4M37.4 84.9h1.4M52.8 138.2h1.4M36.3 60.0h1.4M45.4 122.1h1.4M37.8 81.7h1.4M34.9 67.0h1.4M45.6 110.3h1.4M37.9 75.0h1.4M44.9 121.4h1.4M39.5 71.7h1.4M36.2 68.3h1.4M41.9 120.3h1.4M39.3 91.5h1.4M45.6 110.6h1.4M49.3 134.0h1.4M46.8 122.8h1.4M46.4 111.3h1.4M39.1 84.1h1.4M43.2 110.9h1.4M41.4 110.6h1.4M43.1 115.0h1.4M46.3 123.3h1.4M40.7 99.2h1.4M49.6 136.8h1.4M43.3 100.7h1.4M38.2 87.9h1.4M35.8 58.6h1.4M51.3 135.3h1.4M51.0 117.2h1.4M52.8 130.4h1.4M57.7 98.8h1.4M51.0 126.1h1.4M51.7 119.4h1.4M49.8 131.5h1.4M51.8 122.3h1.4M58.8 92.2h1.4M51.1 140.6h1.4M53.1 115.3h1.4M58.6 95.5h1.4M51.7 131.0h1.4M55.7 98.7h1.4M51.8 124.6h1.4M49.6 139.8h1.4M51.2 141.9h1.4M56.1 94.4h1.4M54.2 105.5h1.4M55.4 106.5h1.4M55.2 107.8h1.4M50.4 126.0h1.4M51.2 139.3h1.4M52.2 140.2h1.4M58.4 94.3h1.4M58.6 91.0h1.4M55.5 104.6h1.4M51.3 122.6h1.4M51.3 122.9h1.4M55.7 105.4h1.4M53.9 122.5h1.4M51.6 109.8h1.4M56.8 100.9h1.4M55.8 95.7h1.4M50.8 132.5h1.4M51.6 120.8h1.4M55.8 134.9h1.4M52.1 136.6h1.4M53.2 140.7h1.4M52.2 128.6h1.4M56.3 108.8h1.4M51.7 128.6h1.4M49.7 134.5h1.4M53.2 137.3h1.4M51.5 128.0h1.4M53.8 133.6h1.4M56.9 98.7h1.4M55.1 103.7h1.4M59.1 123.4h1.4M61.8 114.8h1.4M59.0 90.1h1.4M56.8 94.2h1.4M64.2 124.2h1.4M59.1 91.0h1.4M62.2 123.1h1.4M63.0 115.9h1.4M59.3 93.4h1.4M64.7 154.5h1.4M63.4 132.4h1.4M60.9 125.8h1.4M65.2 155.2h1.4M62.8 124.9h1.4M66.0 153.9h1.4M58.1 98.1h1.4M66.9 154.1h1.4M58.4 98.3h1.4M60.5 95.6h1.4M63.1 128.2h1.4M59.8 103.4h1.4M64.2 131.0h1.4M60.3 110.8h1.4M60.1 115.8h1.4M60.3 127.6h1.4M65.5 148.5h1.4M66.3 145.0h1.4M64.0 139.6h1.4M62.1 141.7h1.4M60.2 123.6h1.4M63.8 130.7h1.4M58.9 99.7h1.4M63.9 124.5h1.4M60.9 114.0h1.4M59.1 113.7h1.4M59.2 96.5h1.4M66.5 154.7h1.4M67.7 149.4h1.4M59.5 100.4h1.4M60.9 117.6h1.4M62.8 123.3h1.4M63.7 128.4h1.4M65.1 141.6h1.4M62.4 120.1h1.4M62.4 119.4h1.4M60.5 126.0h1.4M63.5 150.7h1.4M61.2 115.8h1.4M60.7 111.5h1.4M61.2 114.2h1.4M59.1 98.8h1.4M62.9 134.6h1.4M66.7 146.7h1.4M60.2 110.3h1.4M62.8 146.6h1.4M63.7 138.1h1.4M66.0 147.2h1.4M62.1 140.6h1.4M57.9 109.1h1.4M63.6 152.8h1.4M62.9 139.7h1.4M59.6 93.4h1.4M63.2 137.3h1.4M67.0 155.0h1.4M62.2 126.5h1.4M59.2 110.9h1.4M64.7 124.3h1.4M60.0 101.2h1.4M61.7 111.6h1.4M59.2 95.5h1.4M61.6 96.9h1.4M63.7 152.0h1.4M61.4 102.2h1.4M58.8 114.9h1.4M63.2 128.0h1.4M64.4 122.9h1.4M64.2 142.9h1.4M4.2 175.1h1.4M4.9 174.0h1.4M3.5 172.6h1.4M5.7 177.0h1.4M14.0 168.9h1.4M14.0 173.8h1.4M5.3 177.2h1.4M0.9 179.0h1.4M2.4 180.3h1.4M5.5 174.0h1.4M8.6 173.5h1.4M2.5 179.1h1.4M8.8 176.1h1.4M3.4 175.8h1.4M7.3 177.8h1.4M12.9 173.2h1.4M0.4 178.4h1.4M3.2 175.8h1.4M15.2 173.1h1.4M0.9 174.3h1.4M1.9 173.3h1.4M2.0 177.7h1.4M4.3 175.1h1.4M7.1 177.9h1.4M11.0 173.3h1.4M8.5 176.9h1.4M15.1 173.4h1.4M2.3 175.5h1.4M7.0 177.2h1.4M5.3 178.5h1.4M8.1 170.6h1.4M16.2 172.9h1.4M5.1 176.4h1.4M8.5 171.1h1.4M0.7 179.5h1.4M11.8 173.2h1.4M13.5 169.0h1.4M81.7 169.5h1.4M85.4 175.4h1.4M76.3 168.0h1.4M85.5 175.8h1.4M109.2 174.4h1.4M106.3 178.3h1.4M94.5 177.7h1.4M77.0 171.9h1.4M103.0 177.8h1.4M107.9 172.4h1.4M103.2 177.8h1.4M77.0 167.5h1.4M86.7 180.4h1.4M102.6 178.5h1.4M83.7 175.8h1.4M91.3 179.4h1.4M96.4 179.8h1.4M78.0 170.2h1.4M79.1 170.1h1.4M91.7 180.1h1.4M82.8 174.4h1.4M88.4 177.3h1.4M85.5 178.4h1.4M93.9 179.8h1.4M88.1 178.9h1.4M82.6 173.9h1.4M98.5 181.3h1.4M105.4 175.3h1.4M95.4 181.6h1.4M101.7 178.3h1.4M99.6 177.5h1.4M96.8 179.9h1.4M91.2 178.1h1.4M105.7 171.3h1.4M79.0 172.4h1.4M79.0 171.3h1.4M104.5 177.8h1.4M100.4 180.3h1.4M97.8 177.2h1.4M81.9 170.4h1.4M87.5 178.9h1.4M103.3 176.0h1.4M108.4 171.1h1.4M101.3 176.6h1.4M76.0 166.3h1.4M104.1 175.0h1.4M90.5 179.8h1.4M98.3 178.2h1.4M75.7 171.3h1.4M74.9 169.2h1.4M100.2 178.6h1.4M88.8 177.4h1.4M87.3 172.8h1.4M103.9 173.7h1.4M94.2 178.2h1.4M95.0 181.6h1.4M104.6 178.2h1.4M84.4 173.9h1.4M89.7 178.3h1.4M108.3 173.8h1.4M102.4 174.6h1.4M104.3 179.1h1.4M99.8 180.0h1.4M87.0 178.2h1.4M81.3 173.4h1.4M78.9 167.6h1.4M110.3 174.5h1.4M84.8 173.2h1.4M90.9 180.1h1.4M96.2 180.0h1.4M77.2 169.6h1.4M79.3 169.7h1.4M105.5 174.2h1.4M91.2 180.7h1.4M78.5 169.5h1.4M92.3 179.2h1.4M124.7 93.0h1.4M126.7 72.3h1.4M124.2 107.7h1.4M128.2 76.2h1.4M121.5 137.3h1.4M124.3 95.9h1.4M127.2 56.8h1.4M126.6 74.5h1.4M119.7 157.8h1.4M121.0 156.6h1.4M126.5 94.6h1.4M120.9 149.0h1.4M122.3 116.6h1.4M124.5 110.4h1.4M120.7 147.6h1.4M128.1 64.0h1.4M123.0 120.1h1.4M125.4 91.6h1.4M128.9 62.6h1.4M126.3 86.2h1.4M122.4 143.1h1.4M126.8 77.9h1.4M129.8 55.2h1.4M126.0 83.4h1.4M123.4 125.4h1.4M124.3 124.6h1.4M121.1 146.9h1.4M123.5 125.1h1.4M126.1 99.4h1.4M128.8 71.2h1.4M120.7 150.9h1.4M127.0 90.4h1.4M126.9 76.6h1.4M128.5 59.1h1.4M122.3 138.7h1.4M121.3 144.2h1.4M125.6 87.8h1.4M127.5 75.1h1.4M126.6 78.7h1.4M121.1 144.4h1.4M127.5 87.1h1.4M127.6 69.8h1.4M123.9 123.4h1.4M126.9 73.0h1.4M120.5 155.1h1.4M125.8 91.8h1.4M124.0 104.2h1.4M124.6 110.4h1.4M121.9 137.8h1.4M127.6 54.0h1.4M133.0 73.4h1.4M129.3 81.1h1.4M135.8 96.9h1.4M146.5 128.1h1.4M129.0 63.5h1.4M143.5 121.4h1.4M131.5 91.4h1.4M130.4 69.1h1.4M126.6 61.3h1.4M129.5 62.8h1.4M132.3 90.1h1.4M137.1 105.5h1.4M138.4 106.7h1.4M129.8 71.9h1.4M142.8 125.0h1.4M131.2 65.6h1.4M133.9 96.6h1.4M141.1 129.3h1.4M137.0 107.1h1.4M136.0 93.3h1.4M133.6 59.9h1.4M131.0 72.5h1.4M136.1 114.2h1.4M132.5 77.5h1.4M127.9 67.0h1.4M144.3 127.4h1.4M136.8 98.9h1.4M129.7 61.7h1.4M133.4 76.5h1.4M140.0 123.7h1.4M126.6 64.5h1.4M133.4 104.6h1.4M131.8 72.6h1.4M130.4 75.4h1.4M131.0 83.3h1.4M129.5 71.1h1.4M128.6 62.3h1.4M141.6 125.9h1.4M129.1 58.5h1.4M136.9 120.8h1.4M141.3 125.0h1.4M129.8 69.1h1.4M128.2 81.7h1.4M136.8 103.9h1.4M138.0 110.7h1.4M132.9 71.1h1.4M142.8 126.3h1.4M131.0 71.2h1.4M137.7 118.6h1.4M132.7 78.1h1.4M128.5 54.7h1.4M130.2 65.6h1.4M131.0 73.2h1.4M128.9 64.7h1.4M129.7 71.4h1.4M146.5 124.9h1.4M141.6 128.4h1.4M136.6 104.4h1.4M128.6 71.7h1.4M136.6 101.6h1.4M136.7 105.5h1.4M127.2 71.5h1.4M132.0 84.9h1.4M132.6 58.7h1.4M137.0 103.0h1.4M133.0 79.1h1.4M135.4 101.9h1.4M137.3 107.0h1.4M127.1 60.5h1.4M136.0 102.5h1.4M137.5 102.7h1.4M128.3 57.3h1.4M133.0 89.2h1.4M133.4 93.9h1.4M130.0 58.3h1.4M129.0 78.2h1.4M137.2 108.6h1.4M134.3 101.7h1.4M142.5 129.3h1.4M129.5 58.2h1.4M132.2 59.3h1.4M129.0 61.3h1.4M131.6 79.6h1.4M131.2 86.1h1.4M132.1 73.7h1.4M129.4 70.9h1.4M139.6 116.3h1.4M133.4 106.6h1.4M128.1 56.7h1.4M137.3 111.0h1.4M133.7 77.0h1.4M134.5 81.1h1.4M133.0 94.2h1.4M129.4 87.7h1.4M132.2 67.4h1.4M143.1 123.3h1.4M130.8 86.6h1.4M131.2 73.2h1.4M128.7 68.9h1.4M137.5 126.2h1.4M139.7 114.9h1.4M131.4 65.4h1.4M132.5 77.6h1.4M131.2 84.9h1.4M134.3 86.0h1.4M131.6 80.8h1.4M133.7 96.6h1.4M136.8 110.6h1.4M136.2 95.6h1.4M131.6 80.4h1.4M133.6 83.0h1.4M139.1 114.2h1.4M128.9 65.6h1.4M144.5 121.6h1.4M146.6 108.5h1.4M145.6 128.1h1.4M148.1 101.3h1.4M149.7 85.4h1.4M146.2 111.1h1.4M144.9 130.9h1.4M149.8 79.6h1.4M146.1 114.6h1.4M146.2 100.4h1.4M149.8 93.4h1.4M145.1 108.7h1.4M147.8 98.0h1.4M145.7 118.1h1.4M151.7 85.1h1.4M150.9 83.0h1.4M152.9 84.6h1.4M151.4 80.9h1.4M148.8 86.6h1.4M147.2 126.3h1.4M141.0 122.2h1.4M147.6 106.7h1.4M148.0 124.2h1.4M144.1 124.5h1.4M152.4 82.3h1.4M148.4 112.5h1.4M149.8 86.4h1.4M150.2 79.6h1.4M149.4 94.2h1.4M150.4 81.0h1.4M146.6 117.1h1.4M147.9 93.3h1.4M148.2 100.6h1.4M147.1 101.2h1.4M147.7 126.7h1.4M143.7 107.2h1.4M144.0 126.7h1.4M149.8 87.2h1.4M143.4 127.9h1.4M148.8 110.6h1.4M147.1 108.8h1.4M148.6 96.4h1.4M148.7 106.2h1.4M147.7 100.8h1.4M152.4 86.7h1.4M149.8 80.7h1.4M142.0 120.4h1.4M146.5 105.9h1.4M143.8 116.4h1.4M151.5 91.0h1.4M147.3 118.4h1.4M145.0 115.9h1.4M143.6 119.8h1.4M146.0 119.0h1.4M146.5 97.9h1.4M151.5 81.4h1.4M149.6 89.9h1.4M143.8 116.8h1.4M145.2 108.1h1.4M147.4 108.3h1.4M148.0 100.2h1.4M146.5 111.8h1.4M150.8 84.1h1.4M156.9 105.0h1.4M153.9 98.6h1.4M152.8 83.6h1.4M156.4 114.5h1.4M151.7 87.0h1.4M158.5 119.8h1.4M166.6 154.6h1.4M159.2 105.7h1.4M161.8 131.6h1.4M167.4 154.9h1.4M161.7 132.9h1.4M158.9 124.3h1.4M159.3 145.8h1.4M162.5 133.6h1.4M169.0 156.9h1.4M151.3 86.9h1.4M164.8 133.9h1.4M165.0 133.5h1.4M153.6 97.3h1.4M153.6 120.6h1.4M156.2 106.9h1.4M161.0 129.5h1.4M157.3 109.2h1.4M153.8 99.7h1.4M155.5 87.0h1.4M154.6 93.8h1.4M159.0 121.9h1.4M161.4 137.0h1.4M154.2 109.2h1.4M154.4 103.4h1.4M151.1 85.4h1.4M165.0 144.7h1.4M164.5 149.8h1.4M162.7 131.3h1.4M155.2 98.8h1.4M162.5 128.5h1.4M161.7 135.7h1.4M161.9 131.1h1.4M152.7 81.0h1.4M155.5 108.8h1.4M159.6 120.6h1.4M154.7 101.6h1.4M159.6 120.3h1.4M164.1 153.8h1.4M155.9 114.9h1.4M151.2 81.0h1.4M161.0 144.8h1.4M153.1 101.5h1.4M154.3 88.3h1.4M158.2 119.3h1.4M157.9 128.3h1.4M156.0 145.0h1.4M157.6 116.1h1.4M153.4 87.6h1.4M166.6 155.0h1.4M158.3 131.4h1.4M166.7 140.8h1.4M160.9 146.8h1.4M155.4 114.2h1.4M159.1 125.6h1.4M155.5 98.8h1.4M163.6 143.3h1.4M158.3 123.1h1.4M155.7 100.4h1.4M162.5 128.6h1.4M168.1 152.0h1.4M157.7 131.1h1.4M165.1 153.5h1.4M152.7 85.4h1.4M155.1 112.5h1.4M159.8 118.1h1.4M154.3 105.3h1.4M166.7 144.9h1.4M160.0 122.1h1.4M164.0 142.4h1.4M158.2 140.3h1.4M162.2 145.0h1.4M163.8 139.3h1.4M166.7 152.4h1.4M159.5 115.6h1.4M159.0 137.5h1.4M160.7 129.5h1.4M154.1 98.4h1.4M154.9 97.3h1.4M157.4 104.9h1.4M162.4 119.4h1.4M155.6 106.9h1.4M153.8 89.9h1.4M162.0 145.7h1.4M159.2 124.3h1.4M164.5 149.7h1.4M161.7 140.6h1.4M152.4 85.2h1.4M159.3 132.2h1.4M161.1 121.0h1.4M156.3 105.1h1.4M154.2 118.1h1.4M162.9 152.7h1.4M152.6 92.0h1.4M164.4 149.9h1.4M158.5 120.2h1.4M164.4 152.3h1.4M158.5 116.4h1.4M164.1 154.4h1.4M155.7 108.5h1.4M158.8 125.7h1.4M168.2 156.5h1.4M155.9 104.4h1.4M167.1 140.1h1.4M160.9 132.2h1.4M153.4 84.5h1.4M160.4 131.2h1.4M162.2 143.4h1.4M164.2 156.7h1.4M156.9 125.3h1.4M161.6 149.3h1.4M153.2 100.2h1.4M153.9 86.8h1.4M155.5 99.2h1.4M165.5 137.9h1.4M158.4 125.4h1.4M157.1 97.9h1.4M158.6 118.8h1.4M174.5 172.7h1.4M177.7 173.8h1.4M171.0 167.1h1.4M170.6 169.6h1.4M172.5 171.6h1.4M176.9 172.8h1.4M171.1 167.6h1.4M178.8 172.9h1.4M177.4 173.7h1.4M179.0 175.7h1.4M188.0 174.9h1.4M175.2 171.2h1.4M180.4 171.0h1.4M182.0 174.1h1.4M178.4 171.2h1.4M178.1 171.8h1.4M177.5 172.4h1.4M176.6 172.6h1.4M176.5 175.3h1.4M173.4 167.0h1.4M170.8 169.0h1.4M179.7 176.5h1.4M175.9 174.1h1.4M176.5 169.5h1.4M175.5 169.1h1.4M215.0 112.1h1.4M217.7 52.0h1.4M216.1 85.0h1.4M215.2 108.3h1.4M214.7 111.6h1.4M217.3 82.5h1.4M214.2 122.5h1.4M219.6 45.7h1.4M212.8 146.6h1.4M217.0 70.3h1.4M219.5 33.2h1.4M213.1 138.7h1.4M215.6 104.7h1.4M220.1 37.4h1.4M218.0 48.1h1.4M214.8 113.6h1.4M215.1 114.2h1.4M216.2 86.7h1.4M216.5 61.3h1.4M219.2 37.8h1.4M217.9 44.9h1.4M215.2 101.1h1.4M217.4 64.3h1.4M213.7 136.9h1.4M219.5 32.2h1.4M215.5 107.7h1.4M217.9 58.5h1.4M219.3 43.1h1.4M212.5 148.1h1.4M216.1 80.3h1.4M217.8 55.5h1.4M212.4 153.2h1.4M211.8 157.9h1.4M216.9 76.0h1.4M216.8 80.0h1.4M215.6 107.2h1.4M217.1 86.0h1.4M218.9 40.4h1.4M212.0 155.3h1.4M217.5 78.1h1.4M214.3 132.8h1.4M215.1 114.4h1.4M221.7 49.6h1.4M221.2 53.7h1.4M221.4 40.4h1.4M221.3 27.0h1.4M219.2 44.1h1.4M221.4 47.7h1.4M222.7 64.9h1.4M221.2 64.3h1.4M221.2 53.1h1.4M220.4 20.0h1.4M221.9 58.3h1.4M222.7 63.1h1.4M222.6 54.7h1.4M222.1 57.1h1.4M223.5 64.8h1.4M222.3 52.7h1.4M221.3 52.5h1.4M220.8 27.9h1.4M221.7 28.9h1.4M220.0 32.4h1.4M220.2 40.8h1.4M221.8 60.4h1.4M222.4 41.6h1.4M220.8 23.8h1.4M220.3 47.7h1.4M221.2 30.4h1.4M223.2 83.9h1.4M224.9 110.9h1.4M231.7 121.6h1.4M230.9 105.6h1.4M223.1 77.7h1.4M232.5 142.9h1.4M225.0 83.3h1.4M231.2 110.1h1.4M227.2 131.4h1.4M228.1 97.4h1.4M233.0 130.6h1.4M225.7 103.9h1.4M225.0 125.8h1.4M227.4 98.0h1.4M232.4 139.5h1.4M230.1 140.6h1.4M224.5 113.6h1.4M231.7 137.6h1.4M223.6 101.6h1.4M230.5 117.2h1.4M226.9 133.2h1.4M231.1 121.1h1.4M227.9 119.0h1.4M228.5 96.6h1.4M231.6 114.2h1.4M226.2 105.2h1.4M223.3 72.6h1.4M223.4 82.4h1.4M223.1 107.2h1.4M224.2 75.8h1.4M229.4 112.3h1.4M236.7 134.3h1.4M230.3 140.9h1.4M220.8 74.1h1.4M227.5 130.7h1.4M238.1 129.0h1.4M228.7 128.4h1.4M229.0 111.3h1.4M222.4 67.9h1.4M236.2 129.4h1.4M230.5 120.7h1.4M221.2 83.4h1.4M230.2 135.0h1.4M230.4 105.6h1.4M222.7 104.6h1.4M225.6 129.0h1.4M232.5 123.2h1.4M228.8 102.9h1.4M238.0 127.7h1.4M234.1 135.9h1.4M230.0 106.3h1.4M225.7 100.7h1.4M237.4 132.5h1.4M223.4 117.3h1.4M231.2 110.8h1.4M224.7 103.7h1.4M231.2 127.4h1.4M238.1 137.2h1.4M222.7 109.1h1.4M230.6 126.1h1.4M221.9 96.0h1.4M222.7 85.8h1.4M222.7 106.4h1.4M229.6 105.3h1.4M240.4 141.6h1.4M238.1 140.9h1.4M222.1 105.0h1.4M237.7 142.6h1.4M240.6 142.2h1.4M236.5 139.3h1.4M240.6 140.0h1.4M221.2 76.6h1.4M225.5 123.2h1.4M233.6 111.2h1.4M229.4 132.1h1.4M239.9 140.3h1.4M229.6 98.8h1.4M228.3 105.5h1.4M233.7 121.7h1.4M231.7 132.3h1.4M233.2 123.3h1.4M234.8 137.7h1.4M225.5 89.0h1.4M232.3 119.2h1.4M229.9 102.8h1.4M225.2 119.5h1.4M223.1 97.1h1.4M237.5 143.3h1.4M235.7 144.5h1.4M239.8 142.0h1.4M232.2 129.1h1.4M235.5 124.8h1.4M224.9 102.9h1.4M228.0 102.1h1.4M226.7 118.3h1.4M228.0 96.1h1.4M236.5 135.2h1.4M225.9 123.6h1.4M236.0 124.5h1.4M232.0 109.9h1.4M222.6 83.0h1.4M226.4 92.1h1.4M233.8 110.2h1.4M227.6 97.3h1.4M230.3 128.1h1.4M227.1 106.1h1.4M231.0 106.7h1.4M236.0 123.6h1.4M231.1 133.0h1.4M240.3 140.0h1.4M235.0 122.6h1.4M222.3 65.8h1.4M224.2 96.7h1.4M222.3 74.5h1.4M226.2 101.8h1.4M221.2 79.0h1.4M221.3 70.1h1.4M224.5 124.8h1.4M228.2 120.5h1.4M230.4 131.9h1.4M228.9 107.7h1.4M222.8 88.9h1.4M235.9 127.3h1.4M224.0 90.0h1.4M236.3 121.4h1.4M232.4 113.3h1.4M223.2 111.3h1.4M228.9 121.5h1.4M225.7 94.7h1.4M229.4 124.3h1.4M221.5 90.0h1.4M225.2 93.3h1.4M232.0 106.9h1.4M233.0 124.8h1.4M227.2 119.3h1.4M235.4 138.5h1.4M225.7 121.7h1.4M225.1 124.3h1.4M223.9 117.4h1.4M222.4 109.4h1.4M225.8 90.6h1.4M227.9 130.2h1.4M227.4 100.1h1.4M235.0 130.9h1.4M239.1 131.4h1.4M233.2 137.2h1.4M227.1 100.7h1.4M225.0 115.5h1.4M232.7 133.2h1.4M227.8 102.6h1.4M231.0 118.8h1.4M235.1 120.1h1.4M235.7 123.4h1.4M234.2 131.2h1.4M235.2 117.3h1.4M230.7 102.2h1.4M229.6 123.7h1.4M226.8 106.4h1.4M227.4 114.1h1.4M229.5 126.2h1.4M240.1 144.9h1.4M225.5 86.4h1.4M221.8 79.9h1.4M224.8 123.0h1.4M240.8 138.2h1.4M224.4 81.0h1.4M221.4 71.2h1.4M228.2 108.4h1.4M237.0 135.0h1.4M231.9 111.0h1.4M238.8 140.0h1.4M223.4 111.1h1.4M227.8 94.1h1.4M235.2 119.6h1.4M228.6 126.3h1.4M240.1 143.6h1.4M225.1 98.8h1.4M234.7 118.1h1.4M231.5 107.2h1.4M231.9 130.0h1.4M221.4 95.3h1.4M226.4 95.6h1.4M235.9 118.4h1.4M227.5 113.9h1.4M232.7 117.3h1.4M230.7 117.1h1.4M229.1 96.7h1.4M225.7 101.3h1.4M230.3 118.1h1.4M228.8 136.3h1.4M226.4 94.0h1.4M238.5 135.1h1.4M221.5 86.8h1.4M234.3 138.1h1.4M226.3 90.9h1.4M231.0 124.2h1.4M225.4 89.6h1.4M225.5 123.8h1.4M229.8 109.1h1.4M236.0 126.4h1.4M236.6 131.2h1.4M230.1 110.8h1.4M228.7 120.6h1.4M236.1 125.3h1.4M222.5 93.2h1.4M223.5 100.6h1.4M234.4 127.3h1.4M228.1 122.1h1.4M231.4 102.9h1.4M232.4 119.8h1.4M226.2 108.6h1.4M225.1 120.7h1.4M227.3 131.4h1.4M225.5 126.3h1.4M221.7 92.0h1.4M226.4 109.8h1.4M222.0 94.2h1.4M229.5 110.4h1.4M237.0 123.2h1.4M223.0 95.2h1.4M233.4 123.0h1.4M225.5 119.2h1.4M229.4 118.7h1.4M222.3 81.7h1.4M230.7 125.3h1.4M228.2 132.8h1.4M230.9 132.3h1.4M234.6 129.3h1.4M229.8 138.6h1.4M233.4 125.8h1.4M225.9 121.1h1.4M228.8 116.2h1.4M231.1 121.6h1.4M235.1 132.2h1.4M237.9 139.3h1.4M221.3 69.1h1.4M236.8 132.1h1.4M227.6 120.3h1.4M229.3 131.0h1.4M236.7 120.6h1.4M220.7 81.8h1.4M223.1 104.3h1.4M234.9 114.9h1.4M225.3 86.1h1.4M233.8 122.1h1.4M238.0 136.4h1.4M223.9 86.0h1.4M230.5 137.8h1.4M223.0 107.6h1.4M231.8 142.1h1.4M224.7 79.4h1.4M230.5 136.5h1.4M226.8 94.6h1.4M231.1 119.6h1.4M236.0 127.1h1.4M233.0 140.5h1.4M231.1 138.9h1.4M237.1 129.5h1.4M234.9 119.5h1.4M232.7 112.8h1.4M225.2 84.0h1.4M226.2 109.4h1.4M234.2 142.2h1.4M224.2 96.3h1.4M234.8 138.6h1.4M222.2 101.7h1.4M234.1 117.5h1.4M232.8 141.5h1.4M223.1 70.4h1.4M229.4 109.8h1.4M235.6 128.7h1.4M223.5 103.0h1.4M234.9 132.0h1.4M232.8 120.8h1.4M232.4 115.7h1.4M224.6 102.7h1.4M224.7 105.0h1.4M223.0 91.3h1.4M224.8 108.0h1.4M230.2 98.5h1.4M224.2 93.0h1.4M224.4 87.6h1.4M222.8 100.8h1.4M227.7 123.2h1.4M221.6 64.2h1.4M227.6 121.7h1.4M225.9 120.5h1.4M223.5 77.6h1.4M227.6 115.9h1.4M235.2 128.2h1.4M230.4 137.1h1.4M227.7 100.3h1.4M232.9 138.9h1.4M221.4 85.6h1.4M232.1 123.1h1.4M227.7 116.4h1.4M224.4 115.9h1.4M233.8 117.0h1.4M234.2 116.2h1.4M229.9 119.5h1.4M226.5 104.3h1.4M224.7 84.9h1.4M222.9 71.8h1.4M225.5 76.7h1.4M229.8 104.2h1.4M230.8 106.7h1.4M235.0 123.9h1.4M229.8 104.8h1.4M230.2 107.1h1.4M236.5 133.0h1.4M234.7 137.8h1.4M227.4 103.8h1.4M231.7 118.1h1.4M231.4 119.3h1.4M234.2 120.9h1.4M224.5 80.5h1.4M234.6 118.9h1.4M232.2 118.4h1.4M223.2 74.2h1.4M223.5 77.2h1.4M229.7 106.0h1.4M237.5 134.8h1.4M239.1 130.6h1.4M231.2 109.2h1.4M225.0 88.3h1.4M224.7 85.1h1.4M231.8 108.1h1.4M226.2 107.1h1.4M225.4 81.1h1.4M226.1 98.2h1.4M225.2 71.9h1.4M225.5 75.5h1.4M233.8 116.1h1.4M231.2 114.8h1.4M226.5 86.1h1.4M234.0 115.2h1.4M236.5 122.4h1.4M221.9 69.3h1.4M229.7 105.2h1.4M227.7 109.4h1.4M222.5 73.6h1.4M240.0 137.5h1.4M231.5 115.3h1.4M224.0 80.5h1.4M224.2 76.8h1.4M224.0 101.0h1.4M240.8 139.7h1.4M232.9 116.9h1.4M226.1 95.1h1.4M234.8 124.0h1.4M227.7 96.8h1.4M223.4 66.6h1.4M225.4 81.8h1.4M238.9 133.5h1.4M233.1 111.6h1.4M222.2 70.5h1.4M226.4 101.5h1.4M227.4 97.6h1.4M239.7 138.0h1.4M228.3 91.4h1.4M224.2 75.7h1.4M221.3 68.7h1.4M234.6 125.9h1.4M223.9 83.1h1.4M237.9 140.1h1.4M225.7 89.0h1.4M239.3 139.9h1.4M231.8 111.1h1.4M231.6 110.4h1.4M236.2 131.1h1.4M231.1 115.4h1.4M236.3 127.3h1.4M222.0 70.0h1.4M223.7 77.9h1.4M225.5 86.5h1.4M222.4 80.9h1.4M225.8 78.8h1.4M223.4 69.5h1.4M231.3 118.3h1.4M242.9 115.7h1.4M248.0 100.8h1.4M239.8 135.0h1.4M247.2 99.7h1.4M243.2 111.8h1.4M248.0 107.7h1.4M248.4 100.9h1.4M241.8 129.0h1.4M243.5 131.6h1.4M246.1 108.4h1.4M243.6 117.6h1.4M246.0 98.9h1.4M244.8 111.9h1.4M247.2 105.7h1.4M244.4 127.3h1.4M242.9 124.3h1.4M244.9 107.9h1.4M243.5 117.1h1.4M247.2 106.5h1.4M243.8 122.7h1.4M239.3 130.6h1.4M242.3 125.6h1.4M242.8 128.3h1.4M241.6 118.8h1.4M245.3 115.8h1.4M240.3 127.7h1.4M247.3 109.4h1.4M244.9 113.9h1.4M245.4 106.1h1.4M242.4 121.4h1.4M246.5 101.8h1.4M239.2 128.7h1.4M245.9 104.7h1.4M241.2 136.5h1.4M244.6 118.1h1.4M243.1 116.3h1.4M238.9 127.7h1.4M238.1 140.6h1.4M241.9 132.5h1.4M246.9 102.6h1.4M239.5 139.3h1.4M243.4 133.0h1.4M246.0 101.6h1.4M244.0 121.9h1.4M247.0 99.1h1.4M240.7 132.6h1.4M242.7 125.3h1.4M244.4 135.5h1.4M245.7 102.1h1.4M245.3 107.0h1.4M244.6 132.9h1.4M241.6 140.6h1.4M246.6 110.6h1.4M241.2 132.0h1.4M243.1 130.3h1.4M248.6 99.4h1.4M241.2 130.8h1.4M244.4 118.0h1.4M240.7 129.5h1.4M242.3 134.4h1.4M243.6 111.6h1.4M245.3 99.3h1.4M245.2 116.3h1.4M244.6 97.8h1.4M240.7 142.3h1.4M240.2 135.3h1.4M242.5 132.9h1.4M246.2 105.5h1.4M239.9 141.9h1.4M242.7 135.5h1.4M242.5 136.2h1.4M244.5 116.5h1.4M244.2 122.5h1.4M241.9 139.2h1.4M244.3 124.7h1.4M242.4 121.3h1.4M243.8 113.5h1.4M242.7 119.0h1.4M244.9 103.8h1.4M238.6 137.5h1.4M246.2 107.7h1.4M245.9 129.2h1.4M244.2 126.8h1.4M247.5 98.4h1.4M242.5 125.2h1.4M246.0 104.6h1.4M245.0 120.7h1.4M240.2 126.4h1.4M247.0 103.8h1.4M241.8 131.7h1.4M244.8 132.1h1.4M242.8 128.2h1.4M246.4 106.4h1.4M247.3 109.1h1.4M242.5 128.3h1.4M244.2 119.9h1.4M243.3 124.5h1.4M244.2 122.9h1.4M248.7 98.1h1.4M238.4 142.6h1.4M244.3 132.6h1.4M247.5 109.9h1.4M257.0 133.5h1.4M253.3 126.9h1.4M256.7 140.8h1.4M247.8 108.3h1.4M252.9 130.5h1.4M251.8 115.6h1.4M250.4 128.0h1.4M259.0 150.1h1.4M253.9 127.6h1.4M259.9 155.9h1.4M250.4 111.6h1.4M252.1 124.9h1.4M255.1 130.8h1.4M252.3 113.9h1.4M260.0 141.6h1.4M249.3 100.1h1.4M255.0 139.8h1.4M249.9 98.0h1.4M255.5 140.2h1.4M253.9 136.4h1.4M254.5 138.2h1.4M256.5 122.6h1.4M250.9 118.6h1.4M259.5 147.2h1.4M249.6 114.4h1.4M256.5 157.1h1.4M247.7 107.4h1.4M251.7 129.4h1.4M257.7 149.3h1.4M257.0 143.6h1.4M252.7 121.9h1.4M259.6 145.0h1.4M252.4 113.5h1.4M250.2 121.0h1.4M256.4 147.4h1.4M251.9 121.2h1.4M249.4 101.9h1.4M249.6 107.3h1.4M248.5 105.5h1.4M254.9 134.3h1.4M254.0 123.3h1.4M249.9 100.4h1.4M249.2 108.5h1.4M258.0 138.1h1.4M259.6 142.0h1.4M248.2 98.8h1.4M260.4 152.3h1.4M255.5 144.3h1.4M246.8 97.7h1.4M251.4 110.5h1.4M254.9 134.0h1.4M255.5 144.9h1.4M250.4 112.0h1.4M259.7 150.2h1.4M251.0 128.4h1.4M258.5 149.6h1.4M250.1 115.3h1.4M250.5 99.7h1.4M257.4 154.6h1.4M258.5 135.2h1.4M259.7 157.1h1.4M254.0 132.6h1.4M248.8 97.3h1.4M259.6 156.2h1.4M251.0 115.9h1.4M260.5 151.2h1.4M250.1 107.8h1.4M251.7 124.4h1.4M252.0 113.6h1.4M252.1 111.3h1.4M253.7 118.7h1.4M255.7 143.6h1.4M249.0 106.0h1.4M248.7 100.7h1.4M260.0 151.0h1.4M253.7 117.7h1.4M250.7 138.7h1.4M259.8 158.1h1.4M247.6 100.3h1.4M258.8 145.5h1.4M254.4 127.7h1.4M254.4 127.6h1.4M250.0 109.2h1.4M259.8 152.1h1.4M250.1 97.5h1.4M254.8 120.0h1.4M257.5 144.6h1.4M253.4 120.0h1.4M251.2 121.4h1.4M257.3 146.3h1.4M259.9 151.9h1.4M250.6 111.2h1.4M253.9 119.5h1.4M247.8 106.4h1.4M259.4 154.8h1.4M252.4 126.7h1.4M257.0 142.6h1.4M254.4 117.9h1.4M256.8 149.7h1.4M255.3 129.3h1.4M253.2 117.2h1.4M253.3 133.3h1.4M254.7 132.9h1.4M252.7 147.8h1.4M251.0 133.5h1.4M248.6 98.3h1.4M252.1 131.8h1.4M249.9 120.1h1.4M250.4 105.4h1.4M250.3 115.9h1.4M252.4 125.3h1.4M251.0 127.5h1.4M257.0 143.1h1.4M246.4 98.3h1.4M248.4 102.9h1.4M254.6 140.7h1.4M255.2 158.5h1.4M254.1 130.4h1.4M247.7 100.3h1.4M256.9 144.0h1.4M249.2 106.4h1.4M250.7 127.3h1.4M251.3 123.0h1.4M260.0 153.8h1.4M256.0 152.0h1.4M250.5 103.5h1.4M259.4 155.6h1.4M255.8 135.4h1.4M251.9 111.4h1.4M249.8 99.3h1.4M252.6 117.8h1.4M261.8 151.9h1.4M254.6 130.4h1.4M249.3 102.5h1.4M258.7 145.7h1.4M191.0 174.6h1.4M190.1 174.7h1.4M195.5 170.0h1.4M195.8 170.0h1.4M196.8 170.6h1.4M192.9 171.1h1.4M192.3 172.0h1.4M191.4 175.5h1.4M192.3 171.7h1.4M261.5 174.6h1.4M260.8 170.9h1.4M262.0 176.1h1.4M262.0 169.4h1.4M262.0 173.9h1.4M262.7 177.7h1.4M260.9 172.8h1.4M261.4 176.9h1.4M260.7 170.3h1.4M284.8 178.4h1.4M298.1 167.2h1.4M295.8 173.0h1.4M276.7 171.9h1.4M275.8 178.2h1.4M279.8 180.7h1.4M271.4 175.0h1.4M272.4 175.8h1.4M270.3 182.2h1.4M268.8 178.5h1.4M288.6 172.5h1.4M269.0 170.0h1.4M273.6 184.6h1.4M286.1 175.9h1.4M274.7 182.8h1.4M279.5 171.8h1.4M277.2 178.8h1.4M285.2 181.1h1.4M280.6 177.9h1.4M280.8 173.9h1.4M284.8 183.3h1.4M297.9 170.5h1.4M281.6 167.3h1.4M272.6 176.4h1.4M283.3 169.9h1.4M273.9 181.9h1.4M272.7 171.9h1.4M284.5 176.7h1.4M273.1 176.6h1.4M269.5 171.8h1.4M284.7 167.6h1.4M284.4 169.9h1.4M291.3 170.6h1.4M280.6 172.3h1.4M290.2 168.4h1.4M275.9 179.3h1.4M272.5 172.1h1.4M297.1 171.5h1.4M271.2 180.3h1.4M278.9 188.4h1.4M283.4 167.9h1.4M281.6 181.9h1.4M284.0 177.5h1.4M274.0 183.9h1.4M273.0 170.1h1.4M271.4 175.2h1.4M287.8 178.3h1.4M280.8 176.6h1.4M272.8 175.2h1.4M272.4 183.0h1.4M277.9 180.0h1.4M271.6 177.0h1.4M277.2 184.3h1.4M277.2 178.2h1.4M281.8 181.3h1.4M276.2 172.3h1.4M296.4 170.8h1.4M277.2 171.0h1.4M280.4 169.1h1.4M282.0 171.7h1.4M268.9 177.6h1.4M275.9 183.0h1.4M296.3 169.0h1.4M295.4 173.1h1.4M278.2 174.3h1.4M270.6 173.0h1.4M295.4 173.0h1.4M297.6 171.4h1.4M267.1 173.9h1.4M283.6 170.6h1.4M277.9 175.9h1.4M278.9 175.0h1.4M281.4 182.0h1.4M272.6 185.4h1.4M294.0 168.5h1.4M286.0 174.2h1.4M268.0 175.3h1.4M271.3 183.9h1.4M273.2 174.7h1.4M272.9 177.7h1.4M273.5 168.5h1.4M268.1 174.7h1.4M294.8 172.4h1.4M297.0 168.5h1.4M276.5 178.2h1.4M273.5 178.7h1.4M284.6 174.8h1.4M279.0 184.9h1.4M271.7 179.9h1.4M282.4 170.8h1.4M282.9 183.5h1.4M278.8 167.2h1.4M280.6 177.2h1.4M284.4 155.6h1.4M316.2 72.3h1.4M317.8 69.4h1.4M319.3 66.0h1.4M315.4 111.3h1.4M316.0 111.6h1.4M317.7 61.2h1.4M317.0 93.9h1.4M318.0 48.8h1.4M315.1 118.8h1.4M314.4 137.8h1.4M317.0 102.6h1.4M319.8 48.3h1.4M316.7 110.9h1.4M315.0 126.4h1.4M315.7 126.5h1.4M315.0 122.5h1.4M315.2 121.1h1.4M315.8 120.9h1.4M314.3 118.8h1.4M313.5 143.8h1.4M313.8 136.0h1.4M320.1 41.5h1.4M313.2 152.9h1.4M314.4 124.8h1.4M319.4 50.5h1.4M313.7 135.5h1.4M315.1 127.3h1.4M317.4 73.7h1.4M314.5 116.4h1.4M313.7 144.2h1.4M318.3 67.3h1.4M319.3 52.4h1.4M318.2 51.8h1.4M315.1 122.5h1.4M318.8 47.6h1.4M315.3 105.9h1.4M316.0 111.7h1.4M314.6 108.7h1.4M320.5 35.4h1.4M317.8 74.3h1.4M314.6 121.3h1.4M315.1 112.9h1.4M313.5 146.6h1.4M313.9 137.5h1.4M318.0 61.9h1.4M313.4 150.3h1.4M319.0 45.7h1.4M314.8 132.8h1.4M319.2 54.3h1.4M321.0 47.9h1.4M321.0 40.4h1.4M322.3 66.4h1.4M320.7 36.9h1.4M322.8 55.2h1.4M321.8 43.8h1.4M322.2 62.2h1.4M321.5 57.7h1.4M321.8 53.1h1.4M319.9 24.8h1.4M321.2 54.6h1.4M321.2 35.6h1.4M321.6 54.2h1.4M321.6 57.4h1.4M323.6 65.3h1.4M322.5 48.0h1.4M320.5 48.3h1.4M321.0 36.3h1.4M322.0 47.2h1.4M321.2 51.5h1.4M322.4 57.6h1.4M321.2 43.0h1.4M320.2 34.8h1.4M322.0 67.1h1.4M320.8 39.1h1.4M321.8 61.7h1.4M320.5 34.2h1.4M322.4 64.4h1.4M322.1 68.0h1.4M322.6 60.8h1.4M321.4 34.5h1.4M321.5 38.1h1.4M329.5 110.5h1.4M332.8 135.8h1.4M325.3 114.7h1.4M326.9 109.4h1.4M322.8 102.1h1.4M328.2 106.9h1.4M331.1 135.7h1.4M333.0 123.0h1.4M323.4 105.3h1.4M325.6 103.1h1.4M324.1 111.5h1.4M325.9 117.6h1.4M328.2 130.7h1.4M325.1 109.9h1.4M332.0 125.9h1.4M334.2 120.3h1.4M324.0 98.3h1.4M332.7 126.3h1.4M322.9 87.7h1.4M325.7 123.5h1.4M334.7 130.0h1.4M325.1 99.5h1.4M338.0 133.1h1.4M327.9 102.2h1.4M322.9 91.3h1.4M325.8 108.3h1.4M330.6 117.1h1.4M329.5 111.3h1.4M323.3 74.4h1.4M330.7 111.6h1.4M327.7 100.4h1.4M328.3 129.1h1.4M324.7 108.5h1.4M335.6 132.8h1.4M322.3 99.6h1.4M326.5 108.1h1.4M323.4 85.6h1.4M324.2 80.3h1.4M327.1 118.2h1.4M323.9 112.6h1.4M327.2 98.9h1.4M334.6 136.0h1.4M323.5 89.5h1.4M323.2 77.4h1.4M322.0 66.9h1.4M329.5 116.9h1.4M333.3 121.9h1.4M322.2 90.9h1.4M335.3 127.2h1.4M331.0 127.0h1.4M337.9 135.5h1.4M324.5 111.5h1.4M333.9 126.7h1.4M322.5 86.9h1.4M336.7 126.2h1.4M336.8 130.8h1.4M325.1 101.8h1.4M321.3 85.1h1.4M326.4 118.8h1.4M328.1 131.1h1.4M321.7 93.9h1.4M333.1 129.4h1.4M327.2 102.9h1.4M333.7 127.8h1.4M328.4 129.7h1.4M326.9 115.4h1.4M331.7 136.5h1.4M322.3 100.1h1.4M324.9 93.9h1.4M333.8 120.1h1.4M327.4 105.7h1.4M333.8 124.2h1.4M327.2 124.7h1.4M332.8 134.4h1.4M322.7 109.1h1.4M321.3 91.2h1.4M326.5 123.2h1.4M336.1 135.6h1.4M336.3 135.0h1.4M328.4 118.9h1.4M328.6 125.7h1.4M333.2 136.3h1.4M330.1 113.1h1.4M332.0 135.9h1.4M321.1 88.2h1.4M334.6 137.0h1.4M338.5 134.9h1.4M323.0 75.2h1.4M335.8 136.5h1.4M327.8 131.4h1.4M325.4 90.0h1.4M333.4 121.1h1.4M330.3 134.8h1.4M323.0 74.6h1.4M328.9 114.3h1.4M328.5 130.3h1.4M322.5 73.9h1.4M335.4 131.6h1.4M325.3 118.0h1.4M329.4 130.7h1.4M324.2 107.3h1.4M323.8 109.8h1.4M321.7 82.4h1.4M332.9 132.5h1.4M330.1 122.0h1.4M323.4 87.6h1.4M334.8 134.7h1.4M322.6 103.6h1.4M329.2 120.1h1.4M322.3 102.7h1.4M325.2 120.0h1.4M337.9 136.4h1.4M328.8 132.0h1.4M328.0 118.1h1.4M337.6 128.5h1.4M324.6 104.4h1.4M327.5 112.1h1.4M336.3 130.5h1.4M336.4 125.9h1.4M329.0 107.4h1.4M326.8 104.8h1.4M323.2 75.9h1.4M326.2 95.8h1.4M334.4 135.0h1.4M323.1 99.8h1.4M331.3 111.6h1.4M327.9 109.8h1.4M329.2 120.5h1.4M321.1 79.6h1.4M325.1 96.4h1.4M330.3 113.0h1.4M332.6 116.5h1.4M324.8 121.7h1.4M330.8 119.3h1.4M330.2 113.5h1.4M322.7 73.2h1.4M339.3 138.6h1.4M321.8 87.1h1.4M322.6 79.6h1.4M323.3 102.8h1.4M322.4 107.6h1.4M323.5 89.7h1.4M323.8 87.6h1.4M324.4 84.4h1.4M329.0 110.2h1.4M329.2 113.9h1.4M333.6 136.1h1.4M331.1 133.6h1.4M328.7 134.2h1.4M329.4 134.0h1.4M324.6 120.1h1.4M335.2 139.5h1.4M321.1 87.6h1.4M323.1 111.0h1.4M333.9 129.3h1.4M330.5 111.2h1.4M321.2 91.1h1.4M326.2 125.0h1.4M325.9 124.7h1.4M323.3 110.3h1.4M322.6 90.8h1.4M330.7 132.7h1.4M323.5 87.3h1.4M325.5 92.9h1.4M338.8 139.5h1.4M335.7 126.6h1.4M334.1 121.6h1.4M330.4 122.0h1.4M339.3 134.0h1.4M331.5 118.0h1.4M327.2 100.0h1.4M329.5 113.9h1.4M329.0 126.4h1.4M324.6 97.8h1.4M329.8 110.9h1.4M327.7 111.7h1.4M326.2 98.4h1.4M323.4 74.7h1.4M323.8 79.3h1.4M337.3 128.0h1.4M331.1 118.3h1.4M328.8 114.0h1.4M336.3 130.5h1.4M325.9 95.8h1.4M328.5 109.3h1.4M329.6 103.9h1.4M330.3 117.6h1.4M324.1 78.0h1.4M337.8 129.3h1.4M334.8 127.2h1.4M323.8 97.0h1.4M324.7 79.3h1.4M330.9 118.0h1.4M331.6 118.4h1.4M321.5 83.9h1.4M328.2 101.5h1.4M328.6 99.9h1.4M323.8 71.2h1.4M320.8 86.3h1.4M322.9 75.9h1.4M330.5 118.1h1.4M322.3 76.0h1.4M330.6 114.4h1.4M333.1 121.6h1.4M331.5 122.4h1.4M338.8 131.0h1.4M328.9 116.1h1.4M330.4 109.6h1.4M324.4 84.3h1.4M328.9 113.4h1.4M324.6 97.7h1.4M325.3 93.6h1.4M330.3 111.5h1.4M324.8 88.2h1.4M324.4 88.8h1.4M332.2 124.3h1.4M324.6 98.7h1.4M322.6 71.0h1.4M327.1 94.7h1.4M322.5 89.4h1.4M326.1 83.4h1.4M335.8 126.8h1.4M330.2 103.5h1.4M326.4 100.9h1.4M328.0 103.4h1.4M336.4 124.5h1.4M330.8 112.9h1.4M336.2 128.1h1.4M328.8 95.0h1.4M329.3 107.1h1.4M324.3 95.7h1.4M324.7 99.7h1.4M323.4 70.9h1.4M332.1 115.3h1.4M341.3 129.9h1.4M330.8 115.6h1.4M325.0 78.5h1.4M324.7 94.6h1.4M323.3 78.9h1.4M343.3 114.7h1.4M343.1 112.3h1.4M343.9 103.8h1.4M345.0 104.5h1.4M342.9 113.0h1.4M345.4 98.4h1.4M343.8 104.1h1.4M337.1 136.3h1.4M342.7 113.8h1.4M340.0 136.8h1.4M343.5 111.1h1.4M340.1 119.8h1.4M337.7 125.6h1.4M342.4 116.5h1.4M340.0 123.2h1.4M345.9 111.8h1.4M340.0 126.6h1.4M343.5 106.3h1.4M340.1 131.8h1.4M340.9 130.2h1.4M343.2 101.8h1.4M340.1 122.0h1.4M341.8 108.7h1.4M346.3 98.5h1.4M341.3 127.1h1.4M340.9 112.9h1.4M345.0 100.6h1.4M340.7 121.3h1.4M343.7 109.3h1.4M340.7 123.2h1.4M341.4 131.4h1.4M340.0 126.9h1.4M340.4 120.9h1.4M347.1 98.5h1.4M339.4 127.3h1.4M338.9 135.9h1.4M343.1 100.8h1.4M344.3 106.2h1.4M337.9 131.4h1.4M335.6 131.0h1.4M340.2 116.4h1.4M341.8 125.3h1.4M337.5 131.9h1.4M341.7 126.9h1.4M342.8 123.5h1.4M340.7 115.6h1.4M340.8 124.6h1.4M338.3 135.0h1.4M336.7 134.2h1.4M345.5 99.3h1.4M342.4 110.2h1.4M342.9 107.0h1.4M337.3 134.7h1.4M347.8 99.6h1.4M337.2 132.5h1.4M338.6 130.5h1.4M336.8 135.9h1.4M343.9 109.8h1.4M341.6 128.0h1.4M342.9 120.0h1.4M337.2 135.8h1.4M339.3 128.8h1.4M347.0 98.6h1.4M344.1 99.3h1.4M344.5 110.1h1.4M336.0 129.1h1.4M342.4 131.0h1.4M347.9 105.9h1.4M338.8 131.7h1.4M341.1 126.9h1.4M345.6 100.3h1.4M345.8 101.5h1.4M341.5 120.3h1.4M343.1 105.7h1.4M339.4 126.2h1.4M341.9 116.1h1.4M339.6 131.4h1.4M345.8 103.1h1.4M344.9 104.8h1.4M343.7 99.5h1.4M339.0 128.9h1.4M342.7 112.8h1.4M343.1 105.6h1.4M347.8 100.3h1.4M341.5 126.0h1.4M343.9 101.9h1.4M345.0 106.4h1.4M339.5 129.2h1.4M341.7 133.6h1.4M341.5 116.6h1.4M340.3 122.0h1.4M340.8 117.5h1.4M353.2 128.2h1.4M352.3 122.1h1.4M346.9 108.7h1.4M347.5 102.3h1.4M350.0 126.2h1.4M356.1 144.8h1.4M351.3 120.7h1.4M355.6 145.0h1.4M355.5 142.0h1.4M349.2 118.2h1.4M352.8 147.0h1.4M350.6 106.5h1.4M347.0 98.4h1.4M352.5 149.7h1.4M346.4 100.7h1.4M354.5 147.6h1.4M353.6 137.5h1.4M350.3 119.4h1.4M347.2 110.8h1.4M351.7 127.2h1.4M346.5 109.6h1.4M348.0 132.2h1.4M357.2 148.0h1.4M346.7 99.6h1.4M352.2 126.9h1.4M347.8 109.3h1.4M349.1 118.0h1.4M349.8 112.1h1.4M348.4 108.1h1.4M350.0 124.3h1.4M358.5 158.3h1.4M348.3 99.2h1.4M354.8 149.5h1.4M354.3 130.3h1.4M355.2 148.7h1.4M350.3 118.0h1.4M350.1 102.7h1.4M350.7 122.8h1.4M352.3 120.7h1.4M353.4 131.6h1.4M352.4 134.1h1.4M350.8 115.2h1.4M349.3 112.0h1.4M352.9 132.9h1.4M354.6 138.2h1.4M354.9 151.7h1.4M348.8 104.3h1.4M347.4 103.1h1.4M353.9 135.3h1.4M353.6 133.7h1.4M348.2 107.8h1.4M353.5 125.1h1.4M353.0 130.1h1.4M348.9 120.0h1.4M356.6 149.7h1.4M355.2 122.7h1.4M354.1 141.5h1.4M349.6 139.8h1.4M354.6 150.2h1.4M351.5 140.8h1.4M351.1 126.0h1.4M352.7 136.1h1.4M353.8 145.4h1.4M356.8 139.1h1.4M347.3 104.4h1.4M349.5 112.3h1.4M345.2 100.3h1.4M347.9 115.4h1.4M356.2 143.1h1.4M350.1 120.0h1.4M352.3 123.7h1.4M346.5 111.2h1.4M350.1 118.1h1.4M345.4 99.4h1.4M353.6 131.9h1.4M345.9 100.3h1.4M346.9 103.6h1.4M357.4 142.3h1.4M357.2 155.2h1.4M349.9 126.7h1.4M350.7 138.3h1.4M352.7 130.0h1.4M346.5 99.8h1.4M352.6 134.6h1.4M354.6 139.1h1.4M353.8 124.3h1.4M352.7 126.6h1.4M354.7 132.8h1.4M351.7 137.2h1.4M357.2 156.3h1.4M352.1 136.7h1.4M354.1 144.0h1.4M351.5 121.4h1.4M352.9 120.0h1.4M357.6 146.3h1.4M351.8 137.4h1.4M351.1 125.0h1.4M346.2 98.8h1.4M353.2 127.9h1.4M349.5 119.9h1.4M347.5 104.8h1.4M344.9 100.9h1.4M351.5 126.0h1.4M346.1 101.2h1.4M349.7 112.8h1.4M353.8 133.9h1.4M350.0 110.2h1.4M350.6 126.7h1.4M350.7 126.0h1.4M355.1 155.2h1.4M347.0 110.2h1.4M350.9 125.7h1.4M355.9 150.7h1.4M347.4 114.0h1.4M350.6 137.0h1.4M354.1 138.0h1.4M348.7 103.4h1.4M348.5 110.5h1.4M349.8 113.2h1.4M354.8 149.1h1.4M353.7 133.6h1.4M357.7 154.6h1.4M354.1 136.3h1.4M351.6 119.6h1.4M352.8 135.9h1.4M350.0 113.1h1.4M355.2 149.1h1.4M355.7 140.2h1.4M348.0 105.6h1.4M349.9 122.1h1.4M352.0 127.0h1.4M349.3 104.9h1.4M347.0 99.8h1.4M353.9 143.1h1.4M351.0 127.1h1.4M348.9 121.2h1.4M350.6 124.9h1.4M347.3 102.8h1.4M357.2 148.1h1.4M351.8 124.4h1.4M348.3 104.8h1.4M358.4 176.0h1.4M359.4 176.5h1.4M359.2 172.0h1.4M360.2 176.9h1.4M359.2 172.1h1.4M359.8 170.5h1.4M358.1 175.9h1.4M369.5 181.8h1.4M373.4 180.2h1.4M366.7 169.8h1.4M370.1 173.1h1.4M370.3 181.5h1.4M369.3 179.3h1.4M366.4 170.1h1.4M372.2 184.7h1.4M369.0 181.8h1.4M374.1 174.5h1.4M373.5 184.1h1.4M370.6 175.4h1.4M374.3 174.2h1.4M372.7 175.4h1.4M371.9 173.5h1.4M370.6 171.6h1.4M371.2 176.4h1.4M373.3 183.3h1.4M370.1 178.1h1.4M372.5 176.1h1.4M371.1 172.2h1.4M369.8 172.2h1.4M373.3 178.8h1.4M370.8 182.9h1.4M370.5 184.2h1.4M371.6 178.0h1.4M374.6 175.6h1.4M373.6 183.1h1.4M368.0 169.7h1.4M374.4 182.8h1.4M383.3 172.0h1.4M377.7 178.0h1.4M378.7 175.9h1.4M377.0 179.1h1.4M383.2 172.7h1.4M377.7 175.6h1.4M381.2 172.5h1.4M380.6 171.3h1.4M380.5 172.2h1.4M377.1 178.1h1.4M380.9 171.2h1.4M381.9 170.4h1.4M381.4 171.1h1.4M379.5 171.9h1.4M379.8 173.5h1.4M380.0 173.4h1.4M376.0 178.4h1.4M374.6 175.6h1.4M394.1 160.6h1.4M388.5 157.0h1.4M393.2 159.4h1.4M390.4 158.3h1.4M392.9 158.6h1.4M387.9 156.5h1.4M393.1 157.5h1.4M395.5 159.7h1.4M389.8 158.0h1.4M385.4 155.8h1.4M385.6 154.8h1.4M404.7 93.4h1.4M403.1 124.3h1.4M402.3 121.9h1.4M406.1 71.1h1.4M399.4 152.2h1.4M406.3 83.8h1.4M402.9 99.5h1.4M405.3 78.2h1.4M407.4 71.6h1.4M405.8 93.3h1.4M406.1 73.7h1.4M400.5 142.1h1.4M399.3 146.9h1.4M401.6 140.9h1.4M406.5 74.6h1.4M403.7 89.9h1.4M404.9 81.9h1.4M403.7 108.0h1.4M403.8 89.5h1.4M399.2 146.6h1.4M401.4 135.2h1.4M405.0 88.0h1.4M405.0 97.8h1.4M405.0 75.6h1.4M404.4 110.6h1.4M402.5 110.9h1.4M406.9 73.7h1.4M399.5 157.5h1.4M404.1 82.5h1.4M404.5 90.7h1.4M402.3 131.0h1.4M403.4 112.3h1.4M403.0 111.2h1.4M405.0 93.3h1.4M405.0 101.7h1.4M399.4 149.7h1.4M404.2 111.0h1.4M403.1 105.7h1.4M404.8 105.3h1.4M402.3 121.9h1.4M402.5 117.5h1.4M404.6 90.2h1.4M401.8 129.4h1.4M404.5 101.2h1.4M405.9 74.1h1.4M405.6 76.5h1.4M404.1 85.1h1.4M404.1 105.8h1.4M403.5 111.3h1.4M400.8 131.8h1.4M400.0 156.7h1.4M401.9 131.8h1.4M399.7 153.2h1.4M402.5 115.2h1.4M407.0 87.6h1.4M399.7 154.2h1.4M402.7 117.3h1.4M400.5 144.0h1.4M400.6 150.4h1.4M404.1 99.6h1.4M404.3 95.1h1.4M412.5 105.5h1.4M419.6 137.4h1.4M414.4 117.7h1.4M404.7 83.4h1.4M408.7 104.1h1.4M414.8 131.2h1.4M419.4 123.7h1.4M424.4 132.9h1.4M410.0 101.4h1.4M413.6 113.5h1.4M410.7 91.6h1.4M412.0 104.6h1.4M417.3 126.7h1.4M420.0 129.7h1.4M410.8 104.9h1.4M411.4 111.5h1.4M410.5 91.7h1.4M409.1 83.0h1.4M406.7 74.4h1.4M405.9 89.9h1.4M407.9 85.2h1.4M409.5 103.0h1.4M415.5 119.0h1.4M408.9 105.7h1.4M408.3 86.6h1.4M410.2 109.2h1.4M411.0 100.6h1.4M418.8 104.3h1.4M406.7 77.0h1.4M406.2 99.9h1.4M411.0 87.1h1.4M421.8 129.6h1.4M410.9 100.2h1.4M403.5 82.7h1.4M406.6 81.3h1.4M412.0 102.2h1.4M416.4 129.2h1.4M414.6 121.0h1.4M411.4 104.6h1.4M423.6 134.4h1.4M415.4 120.1h1.4M407.3 88.4h1.4M411.2 98.2h1.4M416.7 114.2h1.4M410.7 114.6h1.4M416.7 133.0h1.4M410.2 110.0h1.4M407.0 87.2h1.4M418.1 138.8h1.4M409.1 105.9h1.4M410.2 76.7h1.4M412.9 104.3h1.4M411.8 108.5h1.4M406.3 102.9h1.4M411.1 78.8h1.4M412.3 111.2h1.4M410.2 105.4h1.4M411.3 89.8h1.4M408.3 77.9h1.4M409.5 90.3h1.4M416.5 133.1h1.4M407.6 76.6h1.4M410.8 117.9h1.4M409.8 113.2h1.4M406.7 78.9h1.4M424.3 126.1h1.4M411.9 90.8h1.4M409.2 73.1h1.4M414.2 117.2h1.4M409.6 87.8h1.4M413.4 123.1h1.4M410.4 99.9h1.4M411.7 109.6h1.4M419.8 127.0h1.4M406.1 72.9h1.4M408.2 106.7h1.4M419.8 122.6h1.4M414.3 127.1h1.4M410.9 84.3h1.4M419.8 121.1h1.4M408.7 86.1h1.4M410.3 122.0h1.4M410.8 90.7h1.4M420.0 135.6h1.4M407.9 87.4h1.4M418.5 128.3h1.4M412.9 91.3h1.4M409.5 96.1h1.4M411.0 104.3h1.4M417.6 123.1h1.4M413.8 117.9h1.4M412.1 85.3h1.4M418.3 129.5h1.4M409.6 85.1h1.4M416.7 104.6h1.4M409.6 87.6h1.4M417.3 133.7h1.4M404.9 94.8h1.4M410.0 98.0h1.4M422.7 132.3h1.4M411.4 108.1h1.4M414.2 105.3h1.4M408.2 85.1h1.4M420.6 133.3h1.4M414.1 115.3h1.4M417.0 126.7h1.4M406.8 79.3h1.4M414.7 106.5h1.4M410.8 101.8h1.4M411.2 94.1h1.4M404.5 69.7h1.4M414.8 113.5h1.4M408.4 73.7h1.4M413.7 76.8h1.4M407.4 88.1h1.4M410.9 118.6h1.4M403.9 79.5h1.4M404.7 89.2h1.4M407.5 82.3h1.4M406.4 69.9h1.4M414.9 116.7h1.4M412.3 117.5h1.4M407.7 91.4h1.4M410.7 84.8h1.4M409.4 108.6h1.4M409.8 94.6h1.4M411.4 102.8h1.4M405.2 75.0h1.4M416.3 117.4h1.4M412.7 94.3h1.4M411.1 92.1h1.4M415.1 99.5h1.4M409.2 89.4h1.4M413.4 122.3h1.4M418.4 129.7h1.4M414.2 95.4h1.4M417.4 120.3h1.4M415.4 120.6h1.4M421.9 134.8h1.4M414.8 119.1h1.4M411.7 101.5h1.4M407.1 79.7h1.4M406.4 102.1h1.4M415.0 122.4h1.4M429.5 98.9h1.4M423.9 131.5h1.4M427.1 99.5h1.4M429.4 94.9h1.4M425.7 114.1h1.4M422.1 122.4h1.4M425.5 100.1h1.4M425.6 111.3h1.4M426.5 115.7h1.4M422.7 130.2h1.4M423.9 136.2h1.4M426.6 106.5h1.4M427.1 104.2h1.4M422.7 131.7h1.4M425.4 106.7h1.4M422.2 129.0h1.4M422.6 132.9h1.4M428.7 95.3h1.4M428.2 96.6h1.4M425.4 122.8h1.4M421.0 135.5h1.4M426.6 106.7h1.4M420.6 136.5h1.4M424.2 127.0h1.4M426.5 120.6h1.4M426.9 98.6h1.4M423.3 130.7h1.4M424.5 136.1h1.4M421.7 123.6h1.4M426.6 105.3h1.4M426.6 118.9h1.4M423.7 128.3h1.4M424.4 114.9h1.4M422.4 132.1h1.4M426.4 107.1h1.4M425.0 131.7h1.4M420.7 128.7h1.4M423.7 111.3h1.4M425.6 110.2h1.4M425.4 124.2h1.4M424.0 117.0h1.4M420.6 129.6h1.4M423.7 123.0h1.4M428.2 98.3h1.4M425.6 100.8h1.4M426.4 114.5h1.4M430.2 99.8h1.4M425.4 115.1h1.4M421.0 132.7h1.4M428.7 96.0h1.4M427.2 97.3h1.4M425.4 113.1h1.4M422.0 133.7h1.4M423.3 127.6h1.4M424.0 135.7h1.4M426.3 107.1h1.4M420.8 130.6h1.4M428.5 97.0h1.4M422.7 132.4h1.4M425.4 113.0h1.4M423.5 126.0h1.4M430.0 94.9h1.4M421.8 135.6h1.4M431.9 121.9h1.4M432.3 142.4h1.4M432.5 133.3h1.4M433.0 158.9h1.4M431.7 116.4h1.4M434.3 133.3h1.4M432.2 134.5h1.4M434.2 152.0h1.4M434.8 160.2h1.4M430.3 96.2h1.4M431.9 110.1h1.4M431.5 116.9h1.4M433.0 122.4h1.4M432.5 114.9h1.4M433.5 121.3h1.4M435.3 146.4h1.4M430.6 102.6h1.4M433.3 120.3h1.4M433.7 150.7h1.4M433.2 150.2h1.4M435.3 143.8h1.4M433.3 139.0h1.4M433.0 121.2h1.4M430.7 115.4h1.4M434.7 138.9h1.4M433.3 135.7h1.4M434.2 144.2h1.4M436.1 151.1h1.4M429.7 90.6h1.4M432.5 128.5h1.4M430.6 112.1h1.4M434.2 151.9h1.4M433.2 110.1h1.4M431.0 124.7h1.4M430.5 127.4h1.4M430.6 111.5h1.4M431.1 106.4h1.4M431.5 106.9h1.4M432.1 116.8h1.4M435.5 152.7h1.4M431.9 125.2h1.4M429.5 96.2h1.4M431.9 115.4h1.4M434.2 143.5h1.4M430.5 102.4h1.4M434.0 131.1h1.4M430.7 94.0h1.4M434.0 148.5h1.4M433.6 125.7h1.4M432.7 114.6h1.4M430.9 112.1h1.4M432.3 118.2h1.4M431.1 110.2h1.4M432.4 125.3h1.4M430.0 90.4h1.4M433.8 131.5h1.4M430.0 94.2h1.4M432.3 116.9h1.4M430.3 91.5h1.4M431.7 91.9h1.4M432.7 110.7h1.4M473.0 173.9h1.4M474.5 175.0h1.4M440.8 169.7h1.4M442.0 174.5h1.4M487.4 170.2h1.4M448.4 177.6h1.4M473.1 172.5h1.4M467.7 176.9h1.4M443.2 173.9h1.4M472.7 176.0h1.4M459.9 180.0h1.4M470.1 172.7h1.4M442.7 169.5h1.4M442.8 172.4h1.4M459.7 178.4h1.4M446.7 176.9h1.4M484.3 168.9h1.4M480.1 168.9h1.4M484.3 171.9h1.4M465.0 177.2h1.4M454.6 183.0h1.4M486.8 167.6h1.4M474.9 172.9h1.4M471.1 174.0h1.4M471.1 177.0h1.4M464.3 179.4h1.4M444.9 173.6h1.4M474.6 176.2h1.4M450.4 183.1h1.4M450.4 177.9h1.4M464.0 185.3h1.4M458.4 184.2h1.4M456.2 181.4h1.4M483.3 168.9h1.4M442.1 173.3h1.4M442.5 170.2h1.4M465.5 181.1h1.4M451.6 177.4h1.4M457.4 184.0h1.4M461.6 181.1h1.4M475.4 173.0h1.4M450.0 180.8h1.4M470.2 176.0h1.4M439.8 172.1h1.4M450.7 178.2h1.4M446.8 172.5h1.4M452.5 181.6h1.4M469.2 179.1h1.4M448.8 176.6h1.4M443.5 175.5h1.4M462.4 179.7h1.4M440.4 169.8h1.4M470.9 177.0h1.4M456.9 184.5h1.4M467.0 180.4h1.4M467.3 180.8h1.4M471.9 170.7h1.4M462.3 183.6h1.4M459.8 178.3h1.4M486.0 166.5h1.4M442.0 172.9h1.4M486.0 171.3h1.4M462.4 181.3h1.4M444.4 174.3h1.4M452.1 181.0h1.4M448.0 174.5h1.4M462.5 180.9h1.4M461.8 179.0h1.4M445.7 171.2h1.4M453.1 177.3h1.4M453.2 184.3h1.4M439.0 172.2h1.4M445.7 173.3h1.4M462.3 181.3h1.4M443.7 173.5h1.4M459.4 178.7h1.4M459.0 182.5h1.4M461.6 180.2h1.4M487.6 169.3h1.4M462.5 181.1h1.4M462.5 176.8h1.4M448.0 178.3h1.4M442.1 172.5h1.4M451.8 185.9h1.4M469.9 178.4h1.4M478.7 167.0h1.4M482.0 170.9h1.4M442.6 171.6h1.4M451.5 177.9h1.4M483.6 169.2h1.4M442.0 174.5h1.4M468.1 178.7h1.4M461.2 181.0h1.4M476.2 174.2h1.4M494.7 160.4h1.4M498.4 159.1h1.4M494.1 160.7h1.4M493.5 159.1h1.4M493.7 159.2h1.4M495.1 158.9h1.4M498.9 161.6h1.4M508.9 78.2h1.4M506.3 103.2h1.4M507.3 115.1h1.4M510.9 77.8h1.4M503.3 152.4h1.4M505.4 127.0h1.4M504.3 148.0h1.4M507.1 116.6h1.4M507.7 104.9h1.4M504.8 129.7h1.4M506.6 122.1h1.4M506.1 127.6h1.4M508.9 97.2h1.4M507.1 109.9h1.4M507.0 103.7h1.4M507.3 86.1h1.4M506.4 124.9h1.4M504.6 135.6h1.4M508.0 91.3h1.4M505.0 147.1h1.4M506.0 124.6h1.4M504.2 146.8h1.4M505.2 130.0h1.4M507.3 101.1h1.4M508.1 94.6h1.4M507.7 92.0h1.4M508.5 89.4h1.4M508.0 103.4h1.4M507.5 114.8h1.4M506.1 126.7h1.4M502.6 152.4h1.4M503.5 150.1h1.4M509.2 63.9h1.4M509.5 94.7h1.4M504.6 138.3h1.4M509.3 67.3h1.4M507.5 103.9h1.4M505.0 138.1h1.4M505.6 132.9h1.4M507.3 123.3h1.4M507.3 113.4h1.4M503.8 147.0h1.4M508.1 105.6h1.4M506.6 108.8h1.4M509.5 79.4h1.4M507.4 107.7h1.4M509.5 80.9h1.4M506.9 123.4h1.4M506.8 102.0h1.4M503.5 155.6h1.4M504.2 143.2h1.4M506.2 114.1h1.4M504.0 147.3h1.4M508.8 99.5h1.4M507.2 107.5h1.4M509.5 84.6h1.4M503.9 145.8h1.4M511.7 69.9h1.4M511.6 81.5h1.4M510.0 86.0h1.4M515.1 108.7h1.4M509.6 69.6h1.4M514.6 97.0h1.4M530.4 154.2h1.4M511.3 72.2h1.4M511.6 84.0h1.4M520.9 127.3h1.4M513.9 73.4h1.4M525.0 142.7h1.4M527.5 147.1h1.4M509.8 71.7h1.4M517.7 120.1h1.4M514.8 86.8h1.4M510.5 63.4h1.4M512.6 97.2h1.4M514.0 97.7h1.4M523.3 136.5h1.4M510.7 86.8h1.4M509.5 65.4h1.4M517.7 105.5h1.4M526.0 144.3h1.4M514.3 105.2h1.4M529.1 153.9h1.4M509.0 79.2h1.4M507.2 67.4h1.4M517.1 111.8h1.4M512.3 83.2h1.4M513.5 89.3h1.4M523.1 138.7h1.4M509.8 83.4h1.4M516.5 113.7h1.4M521.0 117.8h1.4M511.0 96.6h1.4M524.4 143.8h1.4M509.2 66.5h1.4M510.4 89.0h1.4M517.4 112.7h1.4M523.0 127.9h1.4M519.2 115.8h1.4M509.4 68.0h1.4M512.8 101.6h1.4M528.2 153.6h1.4M519.9 120.5h1.4M520.6 121.6h1.4M508.9 80.6h1.4M513.5 95.0h1.4M514.2 94.9h1.4M527.8 152.7h1.4M520.5 110.7h1.4M523.8 137.4h1.4M526.1 146.5h1.4M527.6 141.2h1.4M509.7 83.6h1.4M509.3 74.1h1.4M522.3 133.7h1.4M519.5 120.0h1.4M522.3 140.5h1.4M520.1 127.3h1.4M515.9 105.4h1.4M516.3 113.5h1.4M520.5 112.1h1.4M518.1 127.7h1.4M517.8 105.4h1.4M525.2 143.5h1.4M525.6 145.1h1.4M519.4 131.3h1.4M518.2 109.5h1.4M525.8 142.9h1.4M512.6 88.7h1.4M513.1 84.0h1.4M529.0 150.8h1.4M519.3 89.0h1.4M518.0 117.6h1.4M511.5 78.6h1.4M517.1 119.3h1.4M524.1 134.7h1.4M529.3 151.8h1.4M518.4 107.9h1.4M517.5 104.8h1.4M523.3 150.3h1.4M513.8 63.5h1.4M516.8 105.0h1.4M523.1 139.2h1.4M509.9 69.4h1.4M526.4 147.8h1.4M524.9 146.3h1.4M512.2 74.3h1.4M509.8 66.5h1.4M507.1 64.9h1.4M511.1 99.2h1.4M523.3 132.6h1.4M517.3 127.2h1.4M519.3 121.5h1.4M522.9 144.6h1.4M518.4 112.5h1.4M507.6 68.0h1.4M527.9 147.7h1.4M523.0 137.4h1.4M511.9 91.3h1.4M519.8 111.9h1.4M510.8 69.1h1.4M521.4 123.9h1.4M510.6 75.2h1.4M515.3 104.4h1.4M515.7 107.6h1.4M509.1 78.5h1.4M514.5 70.9h1.4M527.5 154.1h1.4M512.4 89.4h1.4M511.5 78.0h1.4M530.5 144.3h1.4M521.1 129.9h1.4M520.5 141.0h1.4M526.6 135.7h1.4M523.8 133.3h1.4M523.5 131.9h1.4M522.1 128.6h1.4M514.5 83.2h1.4M516.6 88.6h1.4M518.1 106.0h1.4M513.9 91.6h1.4M523.1 130.3h1.4M523.3 126.1h1.4M516.6 117.0h1.4M511.9 86.5h1.4M526.0 151.4h1.4M521.5 124.3h1.4M514.0 94.3h1.4M513.7 88.5h1.4M513.1 69.7h1.4M530.2 150.4h1.4M515.3 91.1h1.4M526.8 133.8h1.4M512.4 85.8h1.4M515.8 84.8h1.4M510.8 81.6h1.4M525.8 151.5h1.4M516.7 120.9h1.4M525.6 150.7h1.4M519.9 105.8h1.4M510.2 70.2h1.4M519.1 109.5h1.4M518.1 107.4h1.4M515.4 100.6h1.4M534.5 101.4h1.4M533.6 120.7h1.4M534.3 113.7h1.4M533.5 136.6h1.4M533.5 119.9h1.4M534.2 118.9h1.4M531.9 131.0h1.4M536.1 98.8h1.4M533.6 119.9h1.4M533.9 120.8h1.4M534.8 128.5h1.4M530.5 144.4h1.4M533.0 144.2h1.4M534.5 120.3h1.4M531.6 139.5h1.4M531.9 143.6h1.4M534.2 121.1h1.4M534.6 99.6h1.4M533.9 118.1h1.4M535.6 98.3h1.4M533.6 121.7h1.4M531.3 134.9h1.4M535.5 108.8h1.4M533.3 120.9h1.4M530.5 146.8h1.4M534.8 111.6h1.4M531.6 144.1h1.4M531.8 129.2h1.4M534.7 134.8h1.4M532.0 147.6h1.4M532.8 141.0h1.4M531.3 149.8h1.4M534.7 106.7h1.4M532.9 120.6h1.4M535.9 102.7h1.4M532.2 132.2h1.4M533.1 140.9h1.4M536.0 101.9h1.4M533.0 144.7h1.4M533.8 137.5h1.4M531.6 138.2h1.4M540.3 152.1h1.4M542.7 146.6h1.4M540.5 154.4h1.4M539.7 148.0h1.4M539.8 152.6h1.4M538.4 125.4h1.4M540.3 134.8h1.4M539.6 148.2h1.4M539.3 153.8h1.4M540.1 147.7h1.4M536.3 105.1h1.4M537.3 102.0h1.4M538.6 136.7h1.4M539.8 146.6h1.4M540.5 156.8h1.4M538.6 153.0h1.4M537.4 112.2h1.4M539.0 131.4h1.4M538.6 123.1h1.4M541.9 156.4h1.4M536.1 99.1h1.4M537.7 114.1h1.4M536.1 100.4h1.4M539.5 139.1h1.4M536.6 111.8h1.4M542.8 155.2h1.4M538.7 139.4h1.4M538.1 134.3h1.4M539.8 145.9h1.4M537.0 122.1h1.4M540.2 147.2h1.4M538.3 125.9h1.4M537.3 104.8h1.4M538.1 117.2h1.4M536.3 108.5h1.4M541.8 141.2h1.4M541.2 158.2h1.4M537.3 118.4h1.4M541.5 157.4h1.4M537.8 137.2h1.4M535.5 117.3h1.4M540.4 130.9h1.4M540.3 152.7h1.4M538.0 121.3h1.4M537.5 119.7h1.4M535.3 112.5h1.4M535.8 104.1h1.4M535.9 107.9h1.4M540.1 125.7h1.4M537.7 97.9h1.4M541.0 147.7h1.4M539.2 144.8h1.4M537.3 115.1h1.4M545.1 174.9h1.4M547.7 172.5h1.4M547.2 176.6h1.4M550.1 174.1h1.4M551.7 175.8h1.4M546.6 170.5h1.4M551.9 176.2h1.4M542.0 169.2h1.4M551.1 172.3h1.4M551.0 176.5h1.4M548.9 176.1h1.4M555.2 180.4h1.4M548.3 172.4h1.4M542.9 170.9h1.4M544.6 170.8h1.4M544.4 171.2h1.4M555.0 178.1h1.4M543.2 173.2h1.4M556.3 175.5h1.4M541.6 171.3h1.4M550.3 173.8h1.4M551.2 175.5h1.4M541.4 170.7h1.4M543.9 172.0h1.4M549.9 171.9h1.4M549.7 172.3h1.4M549.7 179.1h1.4M546.4 172.1h1.4M544.3 172.7h1.4M551.5 177.1h1.4M550.7 176.1h1.4M543.4 170.7h1.4M541.7 169.2h1.4M544.1 172.3h1.4M541.4 172.2h1.4M549.4 179.2h1.4M540.5 175.2h1.4M543.6 167.9h1.4M556.3 178.6h1.4M549.2 177.3h1.4M541.9 171.4h1.4M548.1 177.8h1.4M561.2 181.5h1.4M557.8 173.7h1.4M568.3 171.0h1.4M570.2 170.3h1.4M566.4 170.1h1.4M560.3 178.0h1.4M562.0 178.1h1.4M564.5 176.0h1.4M562.7 176.1h1.4M560.0 176.2h1.4M559.2 176.8h1.4M568.4 172.5h1.4M563.4 172.4h1.4M570.7 173.0h1.4M567.0 172.8h1.4M565.4 173.0h1.4M562.5 175.0h1.4M564.5 175.1h1.4M569.5 171.8h1.4M564.8 175.3h1.4M559.3 179.7h1.4M569.7 174.7h1.4M567.9 171.4h1.4M562.9 179.6h1.4M565.1 178.7h1.4M563.7 180.2h1.4M568.9 173.0h1.4M571.8 171.5h1.4M571.7 170.8h1.4M558.9 172.8h1.4M561.9 173.8h1.4M566.3 172.1h1.4M590.4 68.3h1.4M589.4 79.9h1.4M587.3 111.3h1.4M585.8 150.7h1.4M584.9 130.3h1.4M587.2 97.2h1.4M585.8 138.8h1.4M586.3 130.9h1.4M588.6 99.2h1.4M586.9 101.0h1.4M586.6 126.3h1.4M590.1 60.6h1.4M588.9 98.1h1.4M585.6 120.4h1.4M584.2 155.9h1.4M587.4 97.5h1.4M586.6 147.6h1.4M586.9 118.1h1.4M588.9 91.1h1.4M592.2 73.2h1.4M589.2 87.2h1.4M589.5 64.7h1.4M590.0 79.3h1.4M592.1 74.5h1.4M591.0 82.6h1.4M586.0 130.2h1.4M586.1 129.0h1.4M584.9 150.8h1.4M591.6 72.4h1.4M587.5 101.0h1.4M588.6 97.3h1.4M585.3 144.1h1.4M592.6 74.5h1.4M588.0 109.6h1.4M585.5 150.3h1.4M587.8 122.8h1.4M589.2 73.5h1.4M585.2 155.2h1.4M586.5 125.2h1.4M588.8 89.4h1.4M588.7 93.6h1.4M588.6 88.2h1.4M592.0 62.9h1.4M592.9 62.9h1.4M586.3 119.6h1.4M589.8 78.9h1.4M591.5 71.3h1.4M588.4 101.5h1.4M585.9 147.1h1.4M586.3 136.2h1.4M585.8 149.4h1.4M586.1 142.2h1.4M586.4 126.4h1.4M586.6 126.2h1.4M584.7 152.0h1.4M585.7 134.4h1.4M587.3 103.0h1.4M584.7 150.1h1.4M585.2 155.1h1.4M585.2 149.0h1.4M588.3 90.6h1.4M587.6 107.5h1.4M586.1 138.6h1.4M591.4 69.4h1.4M591.2 77.2h1.4M588.2 103.8h1.4M584.7 133.9h1.4M587.8 109.1h1.4M589.4 81.7h1.4M586.1 140.8h1.4M591.6 58.8h1.4M592.1 70.8h1.4M588.4 98.2h1.4M590.7 89.9h1.4M586.8 119.3h1.4M589.0 96.7h1.4M590.3 60.7h1.4M587.5 101.1h1.4M586.0 127.4h1.4M588.7 102.2h1.4M588.7 79.4h1.4M586.8 135.6h1.4M590.7 87.3h1.4M590.6 81.6h1.4M593.0 65.9h1.4M587.9 94.9h1.4M591.0 69.1h1.4M594.0 66.6h1.4M591.0 72.6h1.4M587.7 103.4h1.4M591.8 73.7h1.4M594.9 97.6h1.4M589.8 87.8h1.4M593.8 94.6h1.4M594.9 93.3h1.4M591.8 69.2h1.4M594.0 79.1h1.4M591.0 100.0h1.4M592.1 98.1h1.4M593.1 83.3h1.4M591.3 85.7h1.4M588.7 98.0h1.4M593.1 81.6h1.4M591.5 90.2h1.4M592.5 75.9h1.4M589.5 92.7h1.4M592.1 80.6h1.4M591.4 103.6h1.4M594.0 88.3h1.4M593.2 86.9h1.4M594.3 92.8h1.4M595.2 98.4h1.4M591.7 101.7h1.4M589.2 88.7h1.4M592.3 71.4h1.4M592.7 70.6h1.4M591.5 77.1h1.4M592.0 80.4h1.4M591.6 93.3h1.4M593.9 92.4h1.4M593.1 81.9h1.4M592.6 99.7h1.4M594.3 91.2h1.4M594.2 83.6h1.4M589.0 95.5h1.4M594.5 84.5h1.4M590.5 93.0h1.4M591.0 71.9h1.4M591.2 88.1h1.4M591.6 98.2h1.4M593.7 84.4h1.4M592.0 68.5h1.4M591.5 88.7h1.4M591.3 87.8h1.4M589.3 98.5h1.4M588.8 93.7h1.4M593.9 96.2h1.4M592.7 81.6h1.4M591.5 89.2h1.4M591.9 78.4h1.4M590.5 89.3h1.4M592.8 98.2h1.4M591.1 77.0h1.4M592.7 72.3h1.4M592.0 82.2h1.4M592.9 78.5h1.4M590.5 85.5h1.4M592.7 66.9h1.4M592.2 84.8h1.4M589.0 91.9h1.4M592.9 73.3h1.4M594.2 83.9h1.4M593.5 98.8h1.4M595.2 96.8h1.4M593.4 88.2h1.4M591.1 89.2h1.4M591.4 90.1h1.4M590.4 82.9h1.4M592.5 77.8h1.4M593.7 81.4h1.4M595.3 96.6h1.4M594.5 87.8h1.4M592.1 100.5h1.4M593.5 72.1h1.4M589.8 93.4h1.4M590.0 90.7h1.4M592.0 86.7h1.4M593.4 94.9h1.4M592.9 77.5h1.4M608.7 145.2h1.4M608.0 131.0h1.4M592.2 84.3h1.4M591.5 67.1h1.4M601.0 108.2h1.4M599.2 112.5h1.4M605.2 121.0h1.4M593.5 86.2h1.4M594.5 88.1h1.4M610.0 134.8h1.4M594.1 83.2h1.4M594.0 87.9h1.4M604.7 116.0h1.4M592.3 79.7h1.4M594.8 87.6h1.4M597.7 96.4h1.4M602.8 110.4h1.4M591.6 72.1h1.4M601.9 105.3h1.4M615.0 150.3h1.4M607.6 134.2h1.4M609.4 127.6h1.4M592.7 64.1h1.4M601.2 121.0h1.4M595.6 98.1h1.4M597.0 108.5h1.4M607.7 143.3h1.4M599.4 109.6h1.4M612.0 139.8h1.4M592.7 64.2h1.4M592.9 81.9h1.4M607.7 123.3h1.4M609.8 141.0h1.4M597.1 91.0h1.4M598.9 104.8h1.4M603.2 115.2h1.4M604.6 140.2h1.4M604.0 137.4h1.4M599.0 110.2h1.4M602.0 115.2h1.4M594.1 82.2h1.4M592.5 58.6h1.4M612.4 137.1h1.4M593.0 66.3h1.4M594.5 92.2h1.4M601.1 104.0h1.4M600.6 116.3h1.4M596.1 101.3h1.4M605.7 128.3h1.4M593.3 66.1h1.4M599.1 110.0h1.4M609.6 144.9h1.4M593.3 80.3h1.4M594.1 68.7h1.4M593.4 67.6h1.4M608.4 127.4h1.4M591.9 62.2h1.4M599.7 101.2h1.4M600.1 111.9h1.4M595.3 88.3h1.4M604.6 127.7h1.4M598.7 108.4h1.4M612.2 149.1h1.4M608.6 136.2h1.4M600.6 103.4h1.4M590.2 72.1h1.4M604.1 106.9h1.4M594.4 75.4h1.4M596.5 98.5h1.4M592.2 59.7h1.4M603.3 109.7h1.4M613.3 150.4h1.4M603.5 132.4h1.4M591.4 79.3h1.4M595.2 91.3h1.4M592.7 62.3h1.4M592.4 68.8h1.4M596.8 96.9h1.4M602.1 117.0h1.4M602.4 117.0h1.4M609.3 133.3h1.4M597.5 100.5h1.4M607.5 143.0h1.4M592.0 58.2h1.4M613.3 150.4h1.4M594.3 76.5h1.4M594.9 90.7h1.4M608.7 128.4h1.4M601.4 121.7h1.4M599.2 103.2h1.4M594.2 66.4h1.4M597.8 90.4h1.4M596.8 103.3h1.4M607.6 139.9h1.4M602.9 126.5h1.4M605.9 135.4h1.4M602.9 127.5h1.4M614.4 147.3h1.4M604.7 134.4h1.4M597.9 108.3h1.4M602.7 109.7h1.4M592.9 66.2h1.4M607.6 132.7h1.4M593.1 69.7h1.4M600.7 115.5h1.4M595.3 82.1h1.4M594.4 68.8h1.4M598.3 104.8h1.4M597.2 83.7h1.4M604.0 126.5h1.4M611.1 142.5h1.4M595.1 61.9h1.4M595.8 77.2h1.4M606.8 131.6h1.4M593.7 63.7h1.4M595.0 82.9h1.4M604.7 127.6h1.4M610.1 140.1h1.4M592.1 64.8h1.4M595.5 86.7h1.4M598.1 96.0h1.4M594.5 69.9h1.4M599.3 107.0h1.4M598.4 106.8h1.4M606.6 147.4h1.4M604.3 108.8h1.4M598.1 97.0h1.4M604.3 132.0h1.4M600.3 105.4h1.4M596.3 89.5h1.4M599.0 104.3h1.4M601.2 109.2h1.4M594.4 71.3h1.4M596.5 94.2h1.4M598.8 98.0h1.4M607.0 120.7h1.4M598.1 101.7h1.4M608.7 136.4h1.4M595.9 82.9h1.4M603.4 122.1h1.4M592.4 83.3h1.4M592.7 81.0h1.4M595.7 69.1h1.4M594.0 84.5h1.4M601.2 113.5h1.4M598.8 90.5h1.4M600.1 107.5h1.4M608.6 143.9h1.4M607.4 123.9h1.4M595.6 91.7h1.4M592.9 69.4h1.4M594.3 61.8h1.4M604.0 131.5h1.4M595.9 102.5h1.4M592.9 63.5h1.4M597.6 91.4h1.4M591.9 75.0h1.4M600.7 117.1h1.4M593.0 59.1h1.4M605.1 133.9h1.4M607.9 131.0h1.4M605.6 126.4h1.4M601.4 113.3h1.4M603.7 123.9h1.4M606.7 141.4h1.4M594.2 75.5h1.4M604.5 116.8h1.4M602.4 100.7h1.4M599.8 104.2h1.4M596.9 92.9h1.4M610.1 140.0h1.4M608.3 135.1h1.4M604.2 131.2h1.4M593.0 58.7h1.4M592.4 61.8h1.4M604.3 113.1h1.4M611.7 150.3h1.4M605.2 146.6h1.4M604.0 110.7h1.4M592.8 82.7h1.4M597.0 100.2h1.4M608.2 147.3h1.4M609.3 135.4h1.4M603.4 121.6h1.4M613.1 144.4h1.4M613.4 152.2h1.4M606.2 131.7h1.4M599.0 112.7h1.4M607.4 131.7h1.4M593.1 68.3h1.4M592.3 63.2h1.4M597.0 99.3h1.4M595.0 71.6h1.4M604.4 130.1h1.4M601.2 113.3h1.4M594.6 102.4h1.4M607.4 136.2h1.4M599.7 115.7h1.4M593.7 58.1h1.4M593.2 74.1h1.4M597.4 85.4h1.4M591.6 69.9h1.4M604.0 126.3h1.4M599.5 112.0h1.4M601.9 118.2h1.4M596.2 83.8h1.4M604.3 130.4h1.4M595.2 89.9h1.4M596.0 101.0h1.4M599.2 101.4h1.4M609.3 140.9h1.4M610.8 141.0h1.4M596.7 98.9h1.4M607.4 142.8h1.4M605.1 126.3h1.4M609.7 147.6h1.4M606.5 144.1h1.4M596.7 86.3h1.4M606.8 125.1h1.4M604.0 125.9h1.4M605.7 119.9h1.4M605.9 113.5h1.4M595.2 78.3h1.4M595.0 78.0h1.4M606.3 127.8h1.4M601.3 102.6h1.4M600.5 120.5h1.4M592.8 72.0h1.4M606.5 141.5h1.4M606.3 122.3h1.4M609.3 147.5h1.4M599.1 96.3h1.4M602.2 104.9h1.4M591.6 63.0h1.4M597.3 94.5h1.4M593.2 67.0h1.4M592.7 89.2h1.4M600.6 93.4h1.4M608.9 144.2h1.4M600.8 105.0h1.4M601.1 114.0h1.4M595.0 85.6h1.4M606.5 129.8h1.4M609.8 143.3h1.4M597.6 87.8h1.4M599.3 117.5h1.4M591.6 70.4h1.4M602.6 116.5h1.4M602.3 122.5h1.4M606.6 127.4h1.4M593.7 61.7h1.4M594.7 84.6h1.4M620.7 113.4h1.4M618.2 119.8h1.4M622.7 98.6h1.4M618.8 100.2h1.4M611.7 146.1h1.4M608.4 143.3h1.4M612.3 140.6h1.4M612.4 147.6h1.4M615.1 142.5h1.4M615.3 121.5h1.4M613.7 138.0h1.4M616.1 117.0h1.4M608.8 149.1h1.4M616.1 118.8h1.4M616.9 118.7h1.4M614.9 127.3h1.4M622.3 100.8h1.4M612.3 139.4h1.4M617.5 101.8h1.4M619.7 111.6h1.4M620.8 98.1h1.4M617.2 113.9h1.4M619.7 107.1h1.4M607.7 150.7h1.4M620.9 109.4h1.4M612.0 137.0h1.4M621.1 98.0h1.4M613.7 141.9h1.4M608.2 145.7h1.4M615.5 118.7h1.4M615.8 128.3h1.4M615.6 129.0h1.4M614.8 115.0h1.4M620.1 101.9h1.4M619.5 115.2h1.4M614.2 138.3h1.4M610.2 144.5h1.4M619.1 99.5h1.4M612.1 144.1h1.4M620.7 109.7h1.4M616.0 107.6h1.4M619.5 105.8h1.4M612.1 138.0h1.4M614.5 128.0h1.4M618.7 130.0h1.4M618.0 107.1h1.4M615.0 134.7h1.4M615.2 116.3h1.4M617.7 104.7h1.4M615.1 126.8h1.4M615.1 121.5h1.4M607.9 151.3h1.4M620.6 103.1h1.4M618.8 113.1h1.4M616.5 112.3h1.4M621.5 98.1h1.4M619.8 101.9h1.4M618.5 113.1h1.4M619.7 97.8h1.4M618.2 108.9h1.4M609.8 146.2h1.4M620.9 102.8h1.4M611.5 140.0h1.4M621.7 107.9h1.4M621.2 123.1h1.4M614.1 130.2h1.4M620.2 98.5h1.4M619.2 97.7h1.4M618.4 111.5h1.4M613.1 146.1h1.4M618.1 127.8h1.4M620.8 98.1h1.4M614.0 142.6h1.4M614.9 136.2h1.4M614.0 141.0h1.4M622.5 103.7h1.4M615.1 131.8h1.4M614.0 138.1h1.4M622.1 99.0h1.4M620.9 108.5h1.4M619.2 107.4h1.4M618.0 123.3h1.4M613.5 124.4h1.4M608.1 151.0h1.4M613.9 130.2h1.4M614.8 127.4h1.4M618.5 104.8h1.4M619.3 112.9h1.4M617.3 111.2h1.4M614.8 143.7h1.4M615.9 121.1h1.4M612.5 148.3h1.4M611.6 136.7h1.4M616.5 117.4h1.4M610.9 152.2h1.4M612.2 152.6h1.4M614.3 130.1h1.4M620.8 101.0h1.4M615.2 141.5h1.4M614.0 148.5h1.4M615.7 138.1h1.4M619.0 122.4h1.4M615.9 129.8h1.4M621.4 101.2h1.4M614.5 141.7h1.4M609.6 145.1h1.4M608.7 150.0h1.4M613.3 143.4h1.4M616.0 112.5h1.4M612.8 135.7h1.4M612.2 130.1h1.4M615.9 146.6h1.4M612.3 142.8h1.4M609.7 143.8h1.4M619.9 112.3h1.4M616.6 117.2h1.4M618.6 106.7h1.4M616.0 137.8h1.4M619.9 104.3h1.4M618.2 109.9h1.4M619.7 100.9h1.4M614.4 122.2h1.4M619.1 119.9h1.4M614.8 125.2h1.4M616.5 121.3h1.4M615.0 133.2h1.4M615.1 118.7h1.4M620.1 107.5h1.4M620.2 120.1h1.4M618.5 105.5h1.4M619.1 114.3h1.4M618.4 108.1h1.4M614.4 136.0h1.4M625.5 120.2h1.4M626.0 129.5h1.4M630.5 135.6h1.4M625.3 121.9h1.4M627.4 147.4h1.4M628.3 140.8h1.4M622.4 111.7h1.4M623.5 146.8h1.4M623.5 114.7h1.4M622.7 118.4h1.4M624.0 122.8h1.4M623.6 115.7h1.4M622.9 98.3h1.4M619.7 108.1h1.4M623.5 135.5h1.4M623.8 129.9h1.4M625.4 132.0h1.4M624.3 108.0h1.4M622.9 117.9h1.4M625.9 146.7h1.4M628.5 155.4h1.4M627.3 140.6h1.4M625.5 139.2h1.4M626.3 132.3h1.4M627.2 140.1h1.4M625.5 128.4h1.4M629.6 153.6h1.4M622.3 121.2h1.4M622.9 134.0h1.4M619.3 103.9h1.4M624.8 131.4h1.4M626.4 136.3h1.4M621.8 108.8h1.4M625.3 127.7h1.4M627.9 132.7h1.4M625.2 148.6h1.4M622.8 120.6h1.4M623.4 103.0h1.4M626.6 150.9h1.4M630.1 153.6h1.4M626.4 138.9h1.4M618.8 101.3h1.4M624.6 141.2h1.4M623.8 124.3h1.4M623.9 139.3h1.4M625.7 161.0h1.4M620.9 106.0h1.4M628.1 126.9h1.4M628.6 154.1h1.4M625.6 152.3h1.4M622.4 121.1h1.4M622.9 103.3h1.4M621.9 127.4h1.4M629.3 154.6h1.4M618.5 108.1h1.4M624.7 130.7h1.4M624.1 140.9h1.4M619.8 110.5h1.4M626.4 121.7h1.4M621.7 111.1h1.4M624.7 117.4h1.4M630.5 155.2h1.4M626.4 158.8h1.4M622.0 104.9h1.4M629.9 134.8h1.4M622.1 104.2h1.4M622.6 105.7h1.4M621.2 124.1h1.4M620.8 111.5h1.4M621.0 116.0h1.4M621.2 105.4h1.4M628.7 157.2h1.4M625.9 149.4h1.4M623.3 121.8h1.4M622.4 122.8h1.4M623.7 121.7h1.4M625.8 129.9h1.4M621.1 109.4h1.4M624.3 134.7h1.4M624.0 123.0h1.4M625.4 145.9h1.4M622.3 119.0h1.4M624.1 114.5h1.4M622.6 126.0h1.4M624.9 134.9h1.4M628.6 158.0h1.4M627.9 148.0h1.4M625.6 137.1h1.4M626.2 139.3h1.4M623.9 132.4h1.4M626.8 155.1h1.4M621.2 117.1h1.4M630.0 156.3h1.4M623.1 118.4h1.4M630.6 149.5h1.4M628.1 146.1h1.4M623.2 108.0h1.4M625.8 134.5h1.4M623.6 116.3h1.4M623.6 121.2h1.4M626.3 138.0h1.4M629.9 153.7h1.4M619.9 100.1h1.4M629.5 157.8h1.4M630.1 138.3h1.4M627.9 154.9h1.4M630.9 145.1h1.4M624.8 129.1h1.4M621.6 119.7h1.4M628.8 146.4h1.4M624.0 109.2h1.4M625.6 150.6h1.4M623.5 114.6h1.4M622.9 115.8h1.4M626.0 124.3h1.4M626.0 122.0h1.4M624.4 117.9h1.4M628.4 131.0h1.4M636.3 154.0h1.4M622.8 116.0h1.4M624.7 123.2h1.4M621.4 98.3h1.4M628.3 152.7h1.4M630.3 149.3h1.4M621.1 106.5h1.4M626.2 130.9h1.4M622.2 111.8h1.4M625.5 136.2h1.4M624.9 120.5h1.4M626.5 142.4h1.4M624.2 124.8h1.4M624.8 130.1h1.4M626.0 153.8h1.4M628.0 144.8h1.4M625.7 130.9h1.4M624.3 133.3h1.4M629.1 148.0h1.4M623.4 122.6h1.4M623.8 151.2h1.4M624.1 100.7h1.4M622.3 111.9h1.4M623.2 114.9h1.4M625.6 142.5h1.4M622.5 132.5h1.4M624.0 104.1h1.4M635.2 167.1h1.4M661.3 174.5h1.4M673.3 172.1h1.4M648.2 178.2h1.4M642.2 173.7h1.4M640.0 173.0h1.4M664.5 177.1h1.4M667.5 166.3h1.4M655.4 179.5h1.4M636.4 171.9h1.4M661.0 174.8h1.4M662.0 178.6h1.4M644.6 175.1h1.4M633.4 169.7h1.4M636.5 165.9h1.4M646.3 177.1h1.4M641.9 175.6h1.4M649.9 177.4h1.4M666.0 171.8h1.4M638.3 172.5h1.4M633.8 168.8h1.4M646.8 177.1h1.4M664.5 174.8h1.4M667.8 166.3h1.4M649.2 174.1h1.4M638.4 174.1h1.4M638.7 172.1h1.4M663.7 176.4h1.4M650.2 179.7h1.4M646.5 175.1h1.4M664.8 176.9h1.4M654.8 180.0h1.4M673.4 171.4h1.4M633.5 165.7h1.4M635.8 170.6h1.4M640.3 174.9h1.4M639.9 172.9h1.4M646.6 177.5h1.4M655.6 180.9h1.4M659.8 178.8h1.4M638.5 171.1h1.4M637.5 166.8h1.4M637.8 168.1h1.4M652.4 174.7h1.4M662.2 175.5h1.4M649.9 179.3h1.4M637.4 167.3h1.4M643.8 175.8h1.4M637.5 170.2h1.4M655.5 177.7h1.4M650.2 181.5h1.4M663.2 179.0h1.4M642.1 172.8h1.4M642.1 171.9h1.4M655.6 178.4h1.4M631.6 168.1h1.4M661.3 176.3h1.4M654.5 178.2h1.4M633.9 170.0h1.4M641.2 169.0h1.4M659.8 181.1h1.4M662.1 179.5h1.4M656.7 179.9h1.4M637.8 166.5h1.4M639.8 171.7h1.4M659.1 177.1h1.4M645.0 175.0h1.4M668.1 171.6h1.4M667.4 170.7h1.4M642.1 173.0h1.4M655.5 175.0h1.4M639.6 170.2h1.4M650.0 178.6h1.4M632.7 167.0h1.4M656.6 180.4h1.4M674.0 173.5h1.4M640.3 174.1h1.4M651.3 177.0h1.4M660.1 179.6h1.4M639.6 175.6h1.4M656.7 178.9h1.4M646.6 172.9h1.4M655.9 175.9h1.4M658.8 180.9h1.4M639.3 167.9h1.4M663.5 178.5h1.4M668.7 169.8h1.4M635.3 166.7h1.4M653.7 182.0h1.4M659.2 179.1h1.4M650.2 178.0h1.4M668.2 170.3h1.4M666.0 169.1h1.4M669.0 168.4h1.4M643.7 173.4h1.4M656.4 177.2h1.4M636.0 168.0h1.4M664.0 176.4h1.4M659.5 178.2h1.4M669.8 168.3h1.4M650.9 178.4h1.4M641.3 169.8h1.4M669.5 172.8h1.4M683.9 146.2h1.4M687.8 108.7h1.4M694.1 77.0h1.4M684.5 147.3h1.4M682.9 149.4h1.4M687.6 113.3h1.4M684.8 144.3h1.4M681.5 160.6h1.4M688.5 101.8h1.4M688.2 103.1h1.4M691.5 74.7h1.4M684.0 145.5h1.4M686.1 105.8h1.4M688.0 108.1h1.4M686.1 142.6h1.4M686.0 127.4h1.4M684.7 144.8h1.4M691.4 88.4h1.4M688.6 113.6h1.4M688.7 100.3h1.4M690.3 71.6h1.4M687.3 115.5h1.4M692.1 75.6h1.4M689.6 100.0h1.4M691.7 74.1h1.4M684.4 146.3h1.4M682.0 158.6h1.4M681.9 157.2h1.4M683.4 151.3h1.4M684.4 149.1h1.4M684.8 143.3h1.4M690.5 84.0h1.4M691.4 80.2h1.4M684.2 150.8h1.4M682.2 156.9h1.4M687.8 120.3h1.4M692.2 70.7h1.4M690.3 85.0h1.4M685.8 130.1h1.4M686.7 132.9h1.4M686.6 103.1h1.4M687.2 110.3h1.4M687.8 99.4h1.4M692.4 76.9h1.4M689.7 108.7h1.4M692.0 77.1h1.4M689.3 106.9h1.4M683.6 146.0h1.4M685.4 143.9h1.4M691.6 79.8h1.4M685.5 117.4h1.4M689.1 93.3h1.4M686.9 131.5h1.4M688.7 106.5h1.4M681.4 159.2h1.4M692.6 81.5h1.4M690.9 86.1h1.4M686.5 140.0h1.4M685.0 144.6h1.4M689.0 91.4h1.4M687.6 122.6h1.4M688.9 94.0h1.4M688.3 91.5h1.4M687.0 134.8h1.4M688.3 102.0h1.4M690.1 98.1h1.4M688.7 100.7h1.4M688.2 115.9h1.4M684.7 139.3h1.4M687.3 103.6h1.4M686.4 137.2h1.4M689.8 71.6h1.4M687.3 110.4h1.4M688.0 128.4h1.4M685.6 144.4h1.4M690.6 101.3h1.4M688.3 105.0h1.4M682.8 154.0h1.4M682.7 152.7h1.4M682.9 156.2h1.4M688.0 103.8h1.4M680.5 158.4h1.4M690.6 88.7h1.4M692.6 87.1h1.4M687.8 142.6h1.4M693.2 73.1h1.4M691.4 85.6h1.4M689.7 80.8h1.4M690.4 91.2h1.4M683.5 151.8h1.4M688.5 84.3h1.4M685.3 146.0h1.4M684.6 144.1h1.4M686.1 134.5h1.4M690.3 78.5h1.4M690.3 74.6h1.4M691.6 77.3h1.4M687.5 108.3h1.4M686.3 138.0h1.4M687.4 135.7h1.4M690.7 81.3h1.4M685.5 134.7h1.4M690.4 76.8h1.4M684.2 149.6h1.4M711.6 142.4h1.4M711.4 140.2h1.4M694.6 111.9h1.4M708.3 148.2h1.4M707.2 146.5h1.4M714.5 147.1h1.4M709.1 122.4h1.4M690.8 95.8h1.4M692.5 77.2h1.4M693.6 94.4h1.4M705.3 143.0h1.4M691.2 78.5h1.4M706.4 129.6h1.4M703.4 126.6h1.4M695.0 93.5h1.4M693.9 124.3h1.4M697.8 113.8h1.4M696.8 98.1h1.4M695.2 92.2h1.4M700.3 114.8h1.4M698.3 112.8h1.4M692.0 92.7h1.4M696.7 103.2h1.4M705.6 134.3h1.4M704.7 125.9h1.4M705.8 135.7h1.4M715.4 144.3h1.4M694.1 95.4h1.4M710.2 139.9h1.4M693.5 90.0h1.4M702.1 130.3h1.4M704.9 141.3h1.4M703.5 134.4h1.4M700.9 107.2h1.4M694.6 84.6h1.4M692.6 96.9h1.4M706.0 127.9h1.4M703.7 124.1h1.4M689.7 85.0h1.4M692.7 72.3h1.4M690.5 79.6h1.4M694.3 81.2h1.4M693.2 80.1h1.4M696.7 113.5h1.4M707.9 126.9h1.4M698.0 118.8h1.4M692.2 98.1h1.4M704.0 126.0h1.4M697.5 106.4h1.4M702.8 118.0h1.4M698.8 113.3h1.4M695.9 115.8h1.4M691.6 85.4h1.4M692.2 78.1h1.4M710.7 144.5h1.4M692.6 96.2h1.4M704.4 132.7h1.4M710.2 141.3h1.4M697.2 103.6h1.4M711.6 143.0h1.4M690.3 72.1h1.4M705.4 137.9h1.4M691.8 92.9h1.4M700.2 115.8h1.4M690.2 77.9h1.4M699.9 125.4h1.4M692.7 75.6h1.4M712.3 147.3h1.4M708.6 149.8h1.4M694.1 82.5h1.4M697.2 110.0h1.4M701.6 120.7h1.4M700.2 125.7h1.4M704.3 116.9h1.4M702.2 129.9h1.4M707.9 140.9h1.4M693.4 91.8h1.4M708.6 129.5h1.4M705.0 124.9h1.4M693.2 99.3h1.4M701.7 132.3h1.4M706.9 140.8h1.4M691.4 88.2h1.4M697.9 117.4h1.4M694.0 97.7h1.4M705.9 130.0h1.4M701.7 120.9h1.4M695.8 92.8h1.4M697.2 117.2h1.4M712.0 143.5h1.4M702.3 124.8h1.4M703.7 110.0h1.4M696.1 108.7h1.4M713.4 146.3h1.4M691.8 77.6h1.4M699.4 111.0h1.4M702.2 133.3h1.4M707.7 147.4h1.4M690.1 89.2h1.4M694.3 72.2h1.4M695.4 107.2h1.4M693.2 98.3h1.4M713.2 143.9h1.4M696.2 90.3h1.4M700.4 118.8h1.4M691.0 79.8h1.4M703.2 116.9h1.4M701.2 104.6h1.4M693.0 97.4h1.4M694.1 85.7h1.4M689.9 93.9h1.4M695.2 101.6h1.4M702.0 131.2h1.4M690.9 71.4h1.4M699.3 101.4h1.4M698.8 118.8h1.4M699.8 123.8h1.4M699.3 118.9h1.4M697.5 110.8h1.4M701.7 118.5h1.4M694.0 105.3h1.4M692.1 76.4h1.4M705.2 131.3h1.4M694.2 75.9h1.4M700.1 111.9h1.4M693.7 93.2h1.4M696.7 108.2h1.4M692.5 79.6h1.4M700.2 121.0h1.4M708.9 140.1h1.4M692.6 82.1h1.4M711.4 148.6h1.4M702.6 125.1h1.4M699.2 128.2h1.4M693.7 82.7h1.4M692.9 88.2h1.4M701.1 121.1h1.4M710.7 135.8h1.4M695.2 101.3h1.4M698.0 103.2h1.4M702.6 124.1h1.4M701.7 117.9h1.4M693.0 74.8h1.4M694.5 101.3h1.4M696.6 109.0h1.4M705.6 118.6h1.4M695.3 86.5h1.4M690.6 79.7h1.4M695.6 96.3h1.4M692.0 88.3h1.4M693.8 104.0h1.4M702.4 126.4h1.4M700.5 127.8h1.4M698.5 109.9h1.4M691.8 81.6h1.4M692.8 88.9h1.4M696.7 103.4h1.4M698.0 117.1h1.4M701.7 127.8h1.4M696.5 102.4h1.4M710.7 145.6h1.4M696.1 105.6h1.4M704.9 131.5h1.4M690.4 76.5h1.4M695.7 102.8h1.4M699.0 105.1h1.4M696.0 85.5h1.4M692.5 89.9h1.4M691.4 78.6h1.4M691.9 82.2h1.4M701.5 120.1h1.4M694.2 79.9h1.4M704.0 122.0h1.4M690.3 71.3h1.4M690.8 82.9h1.4M694.9 98.2h1.4M692.1 84.3h1.4M694.6 104.1h1.4M693.6 82.5h1.4M701.9 113.4h1.4M698.8 113.3h1.4M701.4 110.1h1.4M694.7 80.4h1.4M696.4 104.9h1.4M698.4 130.5h1.4M690.1 91.4h1.4M705.1 128.3h1.4M690.7 76.2h1.4M692.8 79.0h1.4M692.2 94.0h1.4M697.8 110.9h1.4M694.9 90.4h1.4M711.5 140.8h1.4M713.3 147.8h1.4M692.6 82.2h1.4M700.7 128.7h1.4M705.6 127.5h1.4M694.8 104.1h1.4M708.1 148.0h1.4M692.9 78.0h1.4M702.8 127.8h1.4M701.4 121.8h1.4M697.5 106.2h1.4M706.1 145.1h1.4M690.8 80.3h1.4M709.6 130.6h1.4M693.3 80.3h1.4M703.0 130.2h1.4M700.6 117.9h1.4M691.7 84.1h1.4M702.5 128.0h1.4M690.9 75.2h1.4M703.6 114.6h1.4M698.9 112.2h1.4M710.0 141.3h1.4M693.0 72.8h1.4M693.6 80.6h1.4M708.6 132.6h1.4M694.4 88.8h1.4M691.4 83.1h1.4M695.4 71.6h1.4M695.4 110.3h1.4M697.8 106.8h1.4M709.1 142.4h1.4M700.5 124.1h1.4M708.0 141.6h1.4M690.9 91.4h1.4M691.6 97.2h1.4M692.7 72.0h1.4M705.7 129.4h1.4M693.4 83.9h1.4M697.5 103.2h1.4M694.2 87.0h1.4M709.4 148.8h1.4M709.0 140.5h1.4M705.4 129.4h1.4M692.9 109.6h1.4M690.6 85.5h1.4M693.4 72.0h1.4M699.7 100.0h1.4M691.9 78.2h1.4M705.7 148.7h1.4M695.9 112.2h1.4M709.5 145.7h1.4M691.6 73.0h1.4M707.9 146.8h1.4M694.7 88.5h1.4M707.9 138.2h1.4M697.5 99.9h1.4M707.5 136.0h1.4M713.7 106.3h1.4M717.1 111.7h1.4M712.7 145.3h1.4M714.7 106.2h1.4M713.7 139.0h1.4M717.9 101.9h1.4M716.4 118.6h1.4M716.5 117.7h1.4M715.5 122.8h1.4M713.3 134.6h1.4M715.0 111.2h1.4M713.3 135.7h1.4M711.0 142.1h1.4M717.6 98.9h1.4M713.4 124.4h1.4M716.2 119.1h1.4M717.4 105.7h1.4M710.9 136.7h1.4M716.4 117.5h1.4M717.0 114.2h1.4M715.4 112.4h1.4M717.8 121.0h1.4M710.5 138.5h1.4M716.0 137.7h1.4M711.6 126.1h1.4M711.7 148.6h1.4M716.1 127.6h1.4M715.2 130.8h1.4M712.5 116.0h1.4M718.7 110.0h1.4M714.9 132.3h1.4M710.7 133.3h1.4M717.9 110.0h1.4M712.7 131.9h1.4M720.3 109.5h1.4M712.4 135.6h1.4M714.4 147.9h1.4M716.9 103.6h1.4M714.0 143.6h1.4M714.0 123.3h1.4M713.8 144.6h1.4M712.1 144.3h1.4M715.6 104.8h1.4M718.3 102.0h1.4M716.8 115.8h1.4M717.1 112.4h1.4M714.1 121.4h1.4M716.3 132.7h1.4M718.4 103.6h1.4M716.4 130.3h1.4M714.1 136.9h1.4M716.1 105.9h1.4M717.7 121.1h1.4M716.5 111.4h1.4M720.0 114.1h1.4M708.6 147.9h1.4M706.5 144.6h1.4M715.4 112.8h1.4M718.9 101.8h1.4M714.1 116.3h1.4M714.0 138.4h1.4M714.5 116.6h1.4M708.1 148.4h1.4M715.4 116.7h1.4M711.1 146.0h1.4M712.1 133.6h1.4M714.9 126.8h1.4M708.9 145.2h1.4M716.2 120.3h1.4M719.2 97.4h1.4M714.0 130.2h1.4M716.1 118.2h1.4M711.6 131.3h1.4M713.8 125.5h1.4M715.6 111.7h1.4M708.4 142.4h1.4M712.8 136.6h1.4M713.4 140.8h1.4M711.2 143.5h1.4M718.7 102.1h1.4M713.2 142.8h1.4M710.4 136.0h1.4M711.5 124.2h1.4M718.7 117.8h1.4M707.7 137.9h1.4M716.9 107.2h1.4M717.6 106.6h1.4M714.8 137.5h1.4M711.7 139.3h1.4M717.0 103.3h1.4M713.7 140.2h1.4M709.0 135.9h1.4M718.1 115.7h1.4M717.0 114.0h1.4M712.3 136.4h1.4M713.5 139.7h1.4M715.3 123.8h1.4M712.9 148.8h1.4M713.2 137.6h1.4M712.4 126.5h1.4M713.7 127.5h1.4M719.2 122.3h1.4M720.0 106.9h1.4M715.9 113.5h1.4M726.7 135.3h1.4M719.2 97.3h1.4M724.8 154.6h1.4M722.7 124.5h1.4M728.6 147.5h1.4M728.4 154.3h1.4M721.0 132.1h1.4M724.1 138.5h1.4M720.8 113.3h1.4M718.1 100.8h1.4M722.5 106.3h1.4M725.4 137.5h1.4M717.2 101.8h1.4M717.9 97.4h1.4M727.4 147.4h1.4M719.1 118.8h1.4M731.0 155.8h1.4M722.7 125.8h1.4M722.0 107.6h1.4M719.7 111.0h1.4M732.8 153.7h1.4M725.6 140.8h1.4M718.6 106.7h1.4M724.1 116.9h1.4M716.5 107.5h1.4M721.3 109.1h1.4M725.2 141.3h1.4M728.0 158.7h1.4M725.5 158.4h1.4M718.9 107.2h1.4M726.2 148.9h1.4M721.0 121.9h1.4M724.8 136.6h1.4M722.4 123.0h1.4M717.3 110.5h1.4M718.7 107.7h1.4M716.6 98.6h1.4M723.3 104.3h1.4M729.8 157.1h1.4M722.9 130.9h1.4M728.9 153.1h1.4M729.8 141.8h1.4M718.6 105.9h1.4M720.4 122.1h1.4M722.5 130.9h1.4M724.8 155.7h1.4M722.4 116.0h1.4M721.3 100.9h1.4M721.4 108.1h1.4M723.3 124.2h1.4M721.1 124.0h1.4M721.2 146.7h1.4M724.4 131.2h1.4M719.6 102.2h1.4M729.7 157.8h1.4M719.3 97.7h1.4M724.7 143.7h1.4M719.5 126.1h1.4M719.6 99.6h1.4M727.9 155.8h1.4M727.1 160.0h1.4M723.6 129.8h1.4M726.7 154.6h1.4M721.2 108.7h1.4M727.9 154.7h1.4M723.2 116.7h1.4M718.4 105.9h1.4M720.8 111.9h1.4M726.6 149.2h1.4M727.8 152.1h1.4M727.3 152.7h1.4M718.4 110.0h1.4M725.1 146.9h1.4M720.7 104.3h1.4M726.5 145.7h1.4M720.1 131.8h1.4M721.4 124.6h1.4M717.0 105.2h1.4M719.4 127.9h1.4M727.4 148.1h1.4M727.8 157.6h1.4M726.2 158.4h1.4M722.3 112.8h1.4M719.0 100.2h1.4M722.2 116.1h1.4M720.1 125.5h1.4M728.5 144.9h1.4M720.6 114.5h1.4M718.9 104.1h1.4M719.0 104.1h1.4M722.8 114.5h1.4M720.5 120.0h1.4M723.7 140.7h1.4M717.3 112.5h1.4M719.8 105.9h1.4M720.7 125.6h1.4M728.1 157.4h1.4M725.6 142.7h1.4M720.5 116.6h1.4M724.7 152.2h1.4M728.0 147.8h1.4M721.9 136.1h1.4M722.0 109.8h1.4M719.7 107.1h1.4M722.8 116.5h1.4M723.6 114.7h1.4M724.0 126.9h1.4M725.2 125.1h1.4M724.3 132.6h1.4M718.9 110.1h1.4M726.4 155.0h1.4M724.4 122.8h1.4M723.7 133.5h1.4M719.9 101.1h1.4M718.4 120.9h1.4M726.6 135.8h1.4M726.4 117.4h1.4M727.8 156.8h1.4M716.4 106.9h1.4M722.1 133.0h1.4M726.0 144.0h1.4M720.2 106.7h1.4M718.2 107.0h1.4M722.1 132.8h1.4M722.1 137.8h1.4M721.2 114.3h1.4M719.9 98.3h1.4M720.7 128.1h1.4M722.7 111.8h1.4M723.6 130.5h1.4M720.9 116.5h1.4M727.8 157.3h1.4M721.8 128.5h1.4M725.0 141.9h1.4M728.1 152.5h1.4M723.7 125.1h1.4M730.5 151.7h1.4M717.6 97.8h1.4M717.7 122.2h1.4M721.8 147.5h1.4M745.8 170.3h1.4M737.0 170.8h1.4M739.1 177.6h1.4M731.2 169.0h1.4M731.3 169.2h1.4M741.6 173.1h1.4M740.3 173.8h1.4M744.1 176.7h1.4M742.0 173.5h1.4M738.3 173.0h1.4M742.7 172.6h1.4M740.2 171.5h1.4M737.0 169.3h1.4M745.0 175.0h1.4M731.1 167.9h1.4M737.8 169.6h1.4M743.8 174.7h1.4M744.9 176.3h1.4M738.4 173.8h1.4M732.1 166.9h1.4M737.4 173.5h1.4M737.3 172.6h1.4M744.5 176.1h1.4M743.2 174.4h1.4M734.4 169.8h1.4M733.0 172.1h1.4M730.8 169.3h1.4M743.5 175.2h1.4M737.1 170.2h1.4M733.8 167.1h1.4M737.4 171.4h1.4M746.3 175.5h1.4M731.9 169.0h1.4M738.7 173.4h1.4M739.3 172.9h1.4M734.0 169.3h1.4M733.9 168.3h1.4M734.6 168.4h1.4M745.7 176.0h1.4M733.3 167.2h1.4" stroke="#fff" stroke-opacity="0.75" stroke-width="1.4" fill="none"/>
<path d="M25.4 156.4h1.4M21.2 159.2h1.4M32.4 102.0h1.4M33.8 112.2h1.4M29.9 145.7h1.4M30.1 145.9h1.4M30.5 139.2h1.4M33.8 99.8h1.4M35.1 87.9h1.4M35.6 69.2h1.4M30.2 141.9h1.4M35.5 71.6h1.4M34.9 73.5h1.4M33.7 100.4h1.4M31.1 126.8h1.4M33.2 101.3h1.4M31.9 120.4h1.4M36.2 71.3h1.4M31.1 132.9h1.4M35.1 65.9h1.4M33.9 80.9h1.4M31.8 120.1h1.4M35.3 60.0h1.4M31.1 139.5h1.4M31.5 137.7h1.4M35.3 60.1h1.4M31.7 110.6h1.4M31.0 127.0h1.4M33.8 96.6h1.4M29.8 151.0h1.4M33.7 78.7h1.4M33.4 106.5h1.4M34.8 77.7h1.4M34.3 68.3h1.4M35.7 58.3h1.4M33.3 92.7h1.4M34.6 77.3h1.4M30.3 141.5h1.4M30.1 137.3h1.4M30.8 144.6h1.4M29.9 143.5h1.4M32.5 99.4h1.4M34.1 74.4h1.4M34.5 86.8h1.4M30.3 144.8h1.4M31.4 127.4h1.4M30.8 128.4h1.4M46.8 120.8h1.4M34.7 61.3h1.4M49.9 132.5h1.4M39.9 100.6h1.4M45.0 106.7h1.4M38.4 99.5h1.4M44.2 119.5h1.4M46.8 126.9h1.4M40.7 95.7h1.4M48.2 132.4h1.4M38.7 84.4h1.4M36.3 66.1h1.4M40.9 101.0h1.4M46.2 132.6h1.4M37.3 83.0h1.4M36.9 71.7h1.4M41.6 106.0h1.4M38.4 60.0h1.4M39.5 90.8h1.4M43.2 101.6h1.4M47.0 111.7h1.4M41.1 96.3h1.4M38.0 77.3h1.4M49.0 138.7h1.4M43.2 115.6h1.4M35.4 76.5h1.4M38.0 75.6h1.4M47.9 133.5h1.4M37.5 73.2h1.4M48.8 139.1h1.4M37.6 61.5h1.4M46.2 133.7h1.4M43.9 121.1h1.4M34.6 80.1h1.4M38.8 84.4h1.4M48.9 138.4h1.4M46.6 125.4h1.4M35.8 74.4h1.4M38.7 85.2h1.4M41.1 90.9h1.4M39.7 98.0h1.4M48.8 130.5h1.4M40.0 83.4h1.4M48.1 130.5h1.4M34.1 58.1h1.4M39.6 93.6h1.4M37.8 58.5h1.4M41.6 101.7h1.4M39.2 66.5h1.4M44.3 119.0h1.4M40.9 99.1h1.4M44.5 119.8h1.4M44.5 130.6h1.4M37.6 73.9h1.4M47.1 124.0h1.4M45.3 126.8h1.4M37.0 71.2h1.4M43.3 115.3h1.4M39.9 107.2h1.4M51.3 140.9h1.4M42.5 111.9h1.4M44.7 109.4h1.4M46.7 137.2h1.4M38.8 83.8h1.4M45.5 123.9h1.4M38.4 86.1h1.4M45.1 120.5h1.4M35.4 78.1h1.4M44.0 110.8h1.4M43.0 97.0h1.4M43.3 116.9h1.4M38.1 75.5h1.4M46.0 115.8h1.4M38.3 88.6h1.4M38.7 62.8h1.4M46.2 129.4h1.4M36.2 59.2h1.4M40.2 94.6h1.4M41.2 99.2h1.4M38.7 73.0h1.4M38.1 79.7h1.4M36.2 64.4h1.4M36.5 90.3h1.4M39.5 77.2h1.4M39.6 87.1h1.4M42.9 113.8h1.4M43.4 117.3h1.4M37.4 85.6h1.4M33.5 66.4h1.4M39.6 65.8h1.4M38.2 69.4h1.4M46.6 118.3h1.4M46.5 123.6h1.4M37.4 71.1h1.4M42.0 103.4h1.4M42.2 92.0h1.4M38.2 75.3h1.4M38.2 67.7h1.4M39.0 76.5h1.4M50.1 136.7h1.4M56.1 99.3h1.4M56.3 93.4h1.4M51.9 139.2h1.4M48.1 134.3h1.4M54.7 109.0h1.4M51.3 136.8h1.4M57.3 94.9h1.4M53.6 110.1h1.4M56.4 107.4h1.4M53.6 114.3h1.4M51.9 116.1h1.4M50.0 141.7h1.4M51.5 117.3h1.4M55.9 106.5h1.4M52.8 124.4h1.4M50.9 122.6h1.4M53.3 115.7h1.4M56.1 108.1h1.4M55.5 109.0h1.4M57.2 108.1h1.4M53.6 132.9h1.4M50.4 125.1h1.4M48.4 141.0h1.4M49.6 141.7h1.4M49.8 137.3h1.4M50.6 139.4h1.4M54.2 109.1h1.4M50.2 128.5h1.4M52.0 125.7h1.4M50.2 134.3h1.4M51.2 121.6h1.4M48.4 138.6h1.4M57.0 90.9h1.4M53.8 110.5h1.4M50.9 119.6h1.4M48.8 139.6h1.4M55.6 97.4h1.4M53.3 113.0h1.4M53.5 117.7h1.4M52.1 111.4h1.4M53.6 100.9h1.4M57.4 99.5h1.4M54.8 113.0h1.4M53.8 110.7h1.4M54.9 100.8h1.4M55.7 102.6h1.4M54.5 106.6h1.4M50.3 140.1h1.4M54.1 130.8h1.4M54.7 104.7h1.4M52.7 125.5h1.4M49.9 139.0h1.4M57.2 123.6h1.4M54.4 110.0h1.4M57.1 98.2h1.4M59.1 98.0h1.4M63.7 145.0h1.4M61.7 115.5h1.4M61.7 129.9h1.4M65.7 145.4h1.4M60.0 116.7h1.4M60.6 119.3h1.4M62.2 144.3h1.4M67.8 144.0h1.4M59.3 109.2h1.4M61.2 119.5h1.4M58.4 97.3h1.4M61.4 113.6h1.4M66.6 142.4h1.4M64.7 142.6h1.4M64.8 142.8h1.4M63.0 146.9h1.4M65.3 154.5h1.4M65.3 127.6h1.4M62.1 126.2h1.4M62.5 116.7h1.4M65.0 125.2h1.4M60.5 101.3h1.4M66.2 150.0h1.4M63.9 132.2h1.4M60.9 107.7h1.4M61.2 125.2h1.4M57.4 93.7h1.4M57.5 107.0h1.4M59.7 111.2h1.4M65.2 144.7h1.4M60.2 123.5h1.4M59.2 110.9h1.4M60.5 117.1h1.4M62.5 113.5h1.4M60.1 115.4h1.4M62.9 124.3h1.4M58.4 101.9h1.4M58.6 98.4h1.4M62.2 108.7h1.4M63.3 149.6h1.4M62.7 132.3h1.4M63.2 139.4h1.4M58.3 93.1h1.4M59.1 104.1h1.4M62.8 140.4h1.4M59.4 110.2h1.4M59.9 99.4h1.4M62.7 126.8h1.4M65.7 141.3h1.4M65.5 156.7h1.4M64.0 146.9h1.4M65.0 145.7h1.4M65.4 145.0h1.4M61.1 138.9h1.4M16.6 172.5h1.4M5.8 176.2h1.4M3.3 181.1h1.4M7.4 177.2h1.4M9.4 175.1h1.4M14.1 175.6h1.4M3.2 181.4h1.4M11.8 168.4h1.4M2.1 175.3h1.4M5.7 176.1h1.4M9.1 174.6h1.4M12.5 175.4h1.4M8.3 175.0h1.4M13.2 172.8h1.4M1.0 176.9h1.4M7.3 174.4h1.4M3.5 174.3h1.4M9.4 174.7h1.4M5.7 175.1h1.4M5.5 176.4h1.4M10.3 175.5h1.4M7.0 175.2h1.4M100.3 176.8h1.4M95.2 183.3h1.4M111.2 172.5h1.4M101.6 178.3h1.4M93.2 179.0h1.4M78.0 172.0h1.4M103.0 175.6h1.4M77.3 170.1h1.4M76.9 167.8h1.4M79.1 171.4h1.4M105.6 174.6h1.4M95.0 181.0h1.4M87.1 175.4h1.4M106.9 176.0h1.4M77.5 170.1h1.4M78.9 171.2h1.4M84.7 177.6h1.4M83.4 170.6h1.4M73.9 168.1h1.4M78.5 171.4h1.4M79.4 175.9h1.4M101.7 182.9h1.4M111.7 172.3h1.4M106.1 176.5h1.4M84.9 175.2h1.4M83.2 173.7h1.4M103.2 174.9h1.4M107.2 176.0h1.4M89.7 179.5h1.4M99.5 183.8h1.4M108.1 174.8h1.4M93.1 177.9h1.4M77.2 168.3h1.4M82.8 175.2h1.4M91.5 175.2h1.4M83.0 173.4h1.4M75.2 168.1h1.4M105.6 179.9h1.4M107.1 178.2h1.4M95.6 182.0h1.4M86.2 174.4h1.4M79.5 172.3h1.4M93.9 180.6h1.4M78.5 172.8h1.4M81.7 174.0h1.4M124.8 105.4h1.4M124.5 106.8h1.4M125.2 98.1h1.4M125.5 97.3h1.4M122.7 132.5h1.4M125.1 123.5h1.4M127.8 69.1h1.4M126.5 70.8h1.4M128.2 62.8h1.4M130.0 58.6h1.4M123.4 131.8h1.4M125.3 106.4h1.4M126.2 86.0h1.4M125.5 89.4h1.4M122.3 122.4h1.4M123.3 122.9h1.4M127.2 88.7h1.4M121.2 145.6h1.4M128.3 57.2h1.4M126.1 94.0h1.4M122.3 139.8h1.4M127.1 67.3h1.4M120.5 150.3h1.4M123.6 119.9h1.4M124.2 111.1h1.4M124.0 124.1h1.4M126.0 97.5h1.4M127.1 73.4h1.4M123.0 129.1h1.4M128.9 56.3h1.4M122.5 136.8h1.4M125.6 91.1h1.4M126.8 78.9h1.4M126.6 78.8h1.4M125.7 87.6h1.4M124.9 105.4h1.4M122.4 129.4h1.4M129.1 63.6h1.4M125.4 89.8h1.4M120.1 152.0h1.4M120.8 154.1h1.4M122.2 135.3h1.4M123.4 134.5h1.4M132.4 68.2h1.4M130.7 68.3h1.4M140.5 129.2h1.4M139.7 127.4h1.4M129.9 65.0h1.4M144.1 123.1h1.4M130.6 69.3h1.4M137.0 108.5h1.4M138.3 116.6h1.4M130.4 58.3h1.4M134.2 103.1h1.4M132.0 71.5h1.4M132.9 70.7h1.4M134.1 102.9h1.4M126.0 56.1h1.4M143.5 128.4h1.4M129.1 61.2h1.4M131.9 52.7h1.4M137.4 99.0h1.4M134.5 112.2h1.4M129.4 80.9h1.4M132.7 101.0h1.4M135.8 103.8h1.4M136.6 110.5h1.4M135.7 106.4h1.4M131.7 66.9h1.4M140.2 125.9h1.4M128.8 54.5h1.4M128.1 79.1h1.4M131.5 60.9h1.4M135.8 94.2h1.4M134.2 84.6h1.4M131.3 75.5h1.4M129.2 53.9h1.4M138.1 106.4h1.4M143.7 128.0h1.4M130.5 70.5h1.4M129.9 63.1h1.4M131.9 81.5h1.4M133.3 94.1h1.4M135.9 105.0h1.4M133.0 89.1h1.4M137.6 121.6h1.4M130.1 64.3h1.4M132.3 87.5h1.4M134.4 98.8h1.4M132.5 84.5h1.4M132.2 93.4h1.4M124.8 71.2h1.4M130.7 62.2h1.4M130.5 85.4h1.4M141.9 118.6h1.4M131.8 58.6h1.4M134.6 93.9h1.4M137.1 105.9h1.4M134.3 104.0h1.4M142.3 127.5h1.4M139.6 109.8h1.4M133.7 80.7h1.4M129.1 82.6h1.4M136.0 108.3h1.4M142.9 116.0h1.4M131.2 73.7h1.4M142.5 129.8h1.4M137.0 109.1h1.4M131.2 67.8h1.4M133.1 95.0h1.4M129.8 65.3h1.4M134.2 109.6h1.4M139.8 114.7h1.4M141.5 125.5h1.4M144.1 124.4h1.4M142.0 128.7h1.4M140.3 122.6h1.4M134.0 89.3h1.4M136.9 110.5h1.4M129.1 61.3h1.4M141.0 119.3h1.4M131.6 53.4h1.4M143.3 118.1h1.4M142.4 121.6h1.4M128.4 72.3h1.4M139.3 109.3h1.4M137.1 119.6h1.4M138.0 122.2h1.4M133.1 79.4h1.4M137.3 116.1h1.4M144.7 121.9h1.4M137.1 98.6h1.4M136.1 93.2h1.4M127.1 62.9h1.4M130.5 55.4h1.4M133.2 70.1h1.4M138.5 115.7h1.4M132.0 78.7h1.4M130.6 64.1h1.4M137.1 112.6h1.4M130.9 92.9h1.4M136.4 92.5h1.4M133.3 97.1h1.4M130.2 53.1h1.4M133.1 93.6h1.4M137.5 109.3h1.4M133.6 74.1h1.4M137.1 102.7h1.4M133.0 87.4h1.4M128.2 66.4h1.4M128.3 65.0h1.4M131.6 98.5h1.4M140.8 119.1h1.4M136.1 98.9h1.4M127.9 67.4h1.4M135.3 90.2h1.4M130.2 81.6h1.4M134.8 95.1h1.4M129.0 54.5h1.4M129.6 57.3h1.4M138.5 124.7h1.4M134.1 96.2h1.4M149.6 85.8h1.4M149.8 96.4h1.4M146.1 118.0h1.4M146.0 121.8h1.4M150.0 96.0h1.4M150.5 82.2h1.4M140.8 130.3h1.4M145.8 109.5h1.4M145.0 109.6h1.4M151.1 84.4h1.4M143.6 122.6h1.4M153.1 83.4h1.4M145.0 123.3h1.4M149.6 112.3h1.4M149.9 89.3h1.4M145.0 110.0h1.4M144.0 126.4h1.4M149.3 93.9h1.4M148.7 107.3h1.4M144.3 117.0h1.4M148.7 85.0h1.4M145.3 112.2h1.4M144.7 118.3h1.4M149.3 87.7h1.4M149.2 101.8h1.4M148.0 100.5h1.4M144.2 130.4h1.4M145.6 125.9h1.4M150.9 95.3h1.4M145.9 125.5h1.4M151.8 81.9h1.4M150.4 96.7h1.4M148.2 113.9h1.4M149.2 95.6h1.4M151.7 79.9h1.4M149.2 89.1h1.4M149.3 101.3h1.4M145.0 111.9h1.4M144.2 126.2h1.4M149.9 86.3h1.4M146.2 112.7h1.4M150.6 79.4h1.4M147.1 103.5h1.4M149.5 94.5h1.4M145.8 112.4h1.4M150.8 94.5h1.4M145.6 116.5h1.4M149.2 86.8h1.4M149.1 91.0h1.4M143.2 120.4h1.4M156.7 103.9h1.4M152.4 88.7h1.4M162.4 142.5h1.4M158.9 117.2h1.4M161.6 141.1h1.4M153.1 100.3h1.4M155.5 109.0h1.4M157.2 105.2h1.4M155.8 97.7h1.4M156.5 115.8h1.4M159.3 114.2h1.4M168.3 155.4h1.4M163.4 153.6h1.4M150.8 80.8h1.4M152.2 102.0h1.4M164.0 142.1h1.4M153.5 95.1h1.4M151.8 81.5h1.4M167.9 151.3h1.4M153.7 95.1h1.4M151.9 79.5h1.4M163.8 140.6h1.4M157.1 133.9h1.4M157.2 120.0h1.4M157.7 119.4h1.4M160.9 122.6h1.4M153.8 105.8h1.4M151.9 82.3h1.4M157.7 114.0h1.4M162.3 148.1h1.4M155.5 123.4h1.4M153.0 88.6h1.4M152.2 81.3h1.4M167.6 155.5h1.4M154.4 110.9h1.4M163.7 152.7h1.4M168.3 153.4h1.4M160.5 158.1h1.4M157.5 99.4h1.4M158.7 112.8h1.4M160.2 124.3h1.4M166.1 155.5h1.4M161.2 138.3h1.4M157.3 103.9h1.4M153.7 91.7h1.4M156.8 105.3h1.4M154.1 99.6h1.4M160.2 158.9h1.4M152.9 89.3h1.4M154.4 94.5h1.4M153.8 87.4h1.4M163.5 132.9h1.4M163.6 154.8h1.4M156.6 112.1h1.4M155.5 113.2h1.4M151.8 87.7h1.4M165.0 148.0h1.4M154.2 101.5h1.4M159.9 142.5h1.4M163.9 140.3h1.4M151.9 80.9h1.4M152.1 92.6h1.4M151.2 89.4h1.4M155.9 120.0h1.4M152.3 96.9h1.4M163.2 143.4h1.4M162.1 140.1h1.4M161.9 133.4h1.4M152.3 90.3h1.4M151.1 89.4h1.4M154.0 98.7h1.4M153.4 100.1h1.4M168.8 157.0h1.4M154.4 89.0h1.4M162.6 152.0h1.4M160.4 147.2h1.4M155.7 109.2h1.4M158.1 108.9h1.4M153.0 93.1h1.4M151.6 82.2h1.4M154.9 97.6h1.4M153.7 80.1h1.4M154.8 97.8h1.4M157.2 107.0h1.4M153.8 96.0h1.4M163.9 139.5h1.4M152.0 93.4h1.4M159.0 123.9h1.4M155.1 105.0h1.4M150.7 81.5h1.4M157.9 103.2h1.4M156.3 106.6h1.4M153.7 90.0h1.4M156.2 128.4h1.4M150.4 82.3h1.4M154.9 94.5h1.4M154.9 94.1h1.4M182.8 178.5h1.4M176.4 173.0h1.4M179.7 173.6h1.4M171.2 170.1h1.4M185.4 180.8h1.4M176.9 172.6h1.4M176.8 172.0h1.4M188.1 176.9h1.4M185.4 180.7h1.4M187.3 176.2h1.4M187.1 179.4h1.4M171.0 168.3h1.4M170.3 170.8h1.4M182.5 176.4h1.4M180.8 173.8h1.4M173.7 168.5h1.4M172.5 171.6h1.4M180.3 176.7h1.4M186.8 179.0h1.4M184.7 178.5h1.4M185.4 178.2h1.4M174.1 170.5h1.4M173.5 171.1h1.4M171.8 167.2h1.4M186.8 175.7h1.4M173.6 171.6h1.4M177.2 173.3h1.4M176.1 171.0h1.4M177.9 172.3h1.4M218.8 50.0h1.4M215.8 99.0h1.4M215.1 105.2h1.4M213.8 119.4h1.4M218.6 60.8h1.4M219.8 20.8h1.4M215.5 86.6h1.4M218.8 49.0h1.4M215.2 112.5h1.4M213.0 142.3h1.4M217.1 83.2h1.4M219.2 47.0h1.4M213.5 137.2h1.4M213.7 120.3h1.4M218.9 49.4h1.4M213.8 119.7h1.4M218.2 48.8h1.4M215.6 90.4h1.4M216.0 79.7h1.4M216.4 84.5h1.4M219.4 39.4h1.4M220.2 31.1h1.4M215.0 110.1h1.4M212.0 141.0h1.4M217.5 72.2h1.4M220.2 38.9h1.4M216.2 90.2h1.4M213.2 143.0h1.4M213.2 134.1h1.4M217.9 55.8h1.4M220.3 27.2h1.4M216.7 83.7h1.4M218.0 77.7h1.4M213.7 122.7h1.4M220.6 18.6h1.4M216.1 94.4h1.4M216.8 80.3h1.4M214.4 122.9h1.4M220.9 23.0h1.4M220.9 23.2h1.4M223.1 62.1h1.4M220.0 30.6h1.4M220.3 18.5h1.4M221.8 42.8h1.4M221.4 61.2h1.4M221.5 47.7h1.4M221.0 34.2h1.4M221.5 60.5h1.4M220.5 18.5h1.4M221.4 56.1h1.4M221.6 57.6h1.4M223.3 64.1h1.4M220.6 45.5h1.4M221.0 37.6h1.4M221.8 32.7h1.4M220.6 32.8h1.4M220.9 36.7h1.4M220.9 47.8h1.4M221.8 45.6h1.4M219.0 35.5h1.4M220.1 19.2h1.4M220.8 36.0h1.4M221.7 58.7h1.4M221.0 27.6h1.4M221.2 56.6h1.4M221.9 90.1h1.4M229.3 106.5h1.4M229.4 120.8h1.4M221.9 95.6h1.4M233.2 134.0h1.4M226.8 131.7h1.4M231.0 143.2h1.4M230.0 104.5h1.4M224.2 84.0h1.4M225.9 114.7h1.4M233.2 113.7h1.4M233.2 112.8h1.4M222.6 81.6h1.4M225.4 108.6h1.4M238.0 137.6h1.4M223.7 91.4h1.4M230.4 139.7h1.4M221.2 70.7h1.4M235.3 139.5h1.4M234.2 115.6h1.4M227.2 117.0h1.4M221.7 83.3h1.4M222.1 101.8h1.4M240.2 137.6h1.4M230.9 142.3h1.4M231.5 134.6h1.4M228.0 100.7h1.4M236.4 143.3h1.4M237.1 141.5h1.4M231.9 130.9h1.4M227.9 93.4h1.4M230.0 107.9h1.4M240.6 142.8h1.4M220.8 71.1h1.4M230.6 105.0h1.4M239.3 131.0h1.4M239.5 143.3h1.4M235.0 139.9h1.4M227.4 104.2h1.4M226.4 106.9h1.4M224.0 86.3h1.4M224.2 76.0h1.4M223.7 86.9h1.4M223.3 85.9h1.4M230.4 101.0h1.4M224.7 79.9h1.4M228.0 135.7h1.4M235.4 134.0h1.4M230.2 137.6h1.4M224.9 82.5h1.4M237.2 128.6h1.4M228.2 98.7h1.4M223.0 88.0h1.4M233.0 127.6h1.4M238.6 144.1h1.4M222.9 68.9h1.4M231.1 119.2h1.4M228.2 120.2h1.4M223.7 114.1h1.4M228.3 135.5h1.4M227.7 99.9h1.4M239.3 138.8h1.4M226.3 96.4h1.4M221.2 68.5h1.4M225.8 125.8h1.4M231.3 116.0h1.4M226.9 124.2h1.4M231.2 124.0h1.4M225.0 96.0h1.4M232.0 142.6h1.4M228.8 103.5h1.4M239.3 137.1h1.4M229.2 106.6h1.4M224.9 114.8h1.4M238.2 129.7h1.4M230.7 102.9h1.4M225.3 86.6h1.4M239.1 143.8h1.4M227.0 117.5h1.4M232.9 143.8h1.4M233.4 124.3h1.4M227.9 127.0h1.4M227.1 125.4h1.4M228.6 105.0h1.4M231.5 101.6h1.4M230.6 125.3h1.4M221.5 83.3h1.4M235.7 143.2h1.4M233.2 136.0h1.4M223.3 74.3h1.4M229.2 129.0h1.4M236.3 120.6h1.4M230.4 101.7h1.4M239.4 140.9h1.4M233.0 108.4h1.4M234.0 131.4h1.4M228.6 122.5h1.4M227.6 95.4h1.4M228.9 138.0h1.4M222.2 90.3h1.4M228.9 118.4h1.4M224.8 90.5h1.4M239.2 135.2h1.4M229.8 130.3h1.4M235.6 138.0h1.4M234.9 115.7h1.4M232.4 141.4h1.4M227.7 93.3h1.4M229.8 106.1h1.4M230.3 130.9h1.4M225.5 88.7h1.4M227.0 104.8h1.4M231.0 132.9h1.4M221.5 64.8h1.4M224.1 99.7h1.4M230.0 110.5h1.4M234.6 134.9h1.4M227.3 105.0h1.4M221.6 77.2h1.4M227.6 119.4h1.4M224.3 83.1h1.4M228.0 102.2h1.4M227.5 107.4h1.4M226.1 124.1h1.4M224.3 117.9h1.4M236.4 137.1h1.4M237.8 140.9h1.4M224.2 106.3h1.4M231.1 143.2h1.4M228.8 125.6h1.4M228.3 119.6h1.4M223.4 80.4h1.4M229.0 135.3h1.4M225.5 122.3h1.4M230.5 121.3h1.4M225.0 96.7h1.4M231.3 111.6h1.4M227.2 112.2h1.4M227.5 115.9h1.4M228.2 95.8h1.4M234.7 127.3h1.4M226.0 113.3h1.4M222.4 83.1h1.4M223.1 115.6h1.4M226.2 120.8h1.4M220.8 77.6h1.4M236.9 140.2h1.4M224.4 102.0h1.4M237.2 130.3h1.4M224.8 113.5h1.4M223.8 105.1h1.4M225.5 128.1h1.4M228.3 108.2h1.4M240.5 140.1h1.4M220.7 86.4h1.4M229.9 136.2h1.4M233.9 127.0h1.4M226.4 103.7h1.4M222.2 103.5h1.4M225.8 105.3h1.4M238.1 128.6h1.4M230.6 116.3h1.4M240.4 142.1h1.4M234.0 136.4h1.4M224.8 98.0h1.4M224.6 77.9h1.4M221.1 79.1h1.4M238.8 138.1h1.4M228.6 109.6h1.4M234.4 136.4h1.4M226.2 128.7h1.4M236.9 138.5h1.4M224.4 91.3h1.4M229.2 122.2h1.4M237.4 134.4h1.4M222.8 96.0h1.4M223.2 106.3h1.4M232.0 104.3h1.4M228.9 123.8h1.4M224.0 103.1h1.4M235.1 119.9h1.4M225.8 92.4h1.4M235.4 142.3h1.4M223.8 115.0h1.4M224.2 121.2h1.4M230.3 132.9h1.4M238.6 139.7h1.4M231.8 136.0h1.4M230.5 130.8h1.4M225.2 104.1h1.4M231.3 129.7h1.4M223.3 110.8h1.4M224.3 93.2h1.4M223.9 83.7h1.4M221.3 62.9h1.4M228.7 119.0h1.4M234.9 139.8h1.4M222.8 89.4h1.4M239.9 144.4h1.4M240.5 143.6h1.4M222.4 98.0h1.4M236.0 121.3h1.4M224.6 118.9h1.4M232.1 120.1h1.4M229.1 116.6h1.4M224.3 80.9h1.4M229.2 97.0h1.4M230.9 114.8h1.4M225.1 130.0h1.4M223.8 117.4h1.4M237.0 136.1h1.4M228.8 132.2h1.4M221.9 99.3h1.4M237.3 144.9h1.4M233.1 121.1h1.4M225.8 108.4h1.4M240.0 139.0h1.4M225.8 122.5h1.4M232.3 140.3h1.4M226.5 113.8h1.4M231.3 114.1h1.4M232.2 127.0h1.4M224.1 77.9h1.4M224.7 78.7h1.4M240.6 137.5h1.4M233.2 121.6h1.4M225.4 81.2h1.4M223.9 72.0h1.4M238.1 132.9h1.4M225.3 100.1h1.4M222.8 71.7h1.4M232.0 121.2h1.4M225.3 91.0h1.4M240.7 132.2h1.4M238.2 136.8h1.4M225.1 77.1h1.4M223.7 75.0h1.4M224.0 75.2h1.4M222.1 67.2h1.4M238.5 131.0h1.4M224.7 88.3h1.4M223.7 77.9h1.4M237.6 139.9h1.4M225.2 78.5h1.4M224.3 82.6h1.4M235.1 122.9h1.4M227.7 99.2h1.4M222.6 77.7h1.4M234.9 121.6h1.4M226.0 94.8h1.4M227.7 104.7h1.4M233.3 113.3h1.4M223.2 68.8h1.4M221.3 70.4h1.4M233.1 136.5h1.4M223.8 85.4h1.4M237.1 137.0h1.4M224.4 81.1h1.4M234.2 124.6h1.4M223.6 78.6h1.4M236.5 122.6h1.4M225.8 80.1h1.4M222.2 67.6h1.4M230.2 106.6h1.4M222.2 67.2h1.4M226.0 76.2h1.4M238.6 131.6h1.4M225.8 93.9h1.4M225.7 82.8h1.4M229.4 96.7h1.4M224.1 93.0h1.4M224.8 93.6h1.4M230.2 100.3h1.4M226.6 95.1h1.4M233.8 113.9h1.4M232.1 112.1h1.4M226.7 95.7h1.4M229.5 99.7h1.4M228.3 100.1h1.4M223.3 69.4h1.4M226.6 92.6h1.4M223.8 84.4h1.4M222.4 81.3h1.4M237.1 123.1h1.4M247.9 97.6h1.4M240.3 142.7h1.4M243.7 116.0h1.4M243.1 125.6h1.4M242.9 118.6h1.4M246.4 115.7h1.4M244.6 120.0h1.4M246.8 106.3h1.4M246.7 103.5h1.4M242.3 142.6h1.4M247.0 118.4h1.4M241.5 138.4h1.4M244.7 110.3h1.4M243.0 127.1h1.4M245.8 117.1h1.4M245.7 117.0h1.4M238.6 141.6h1.4M242.5 133.8h1.4M243.7 130.4h1.4M244.0 112.6h1.4M240.1 134.6h1.4M243.8 122.6h1.4M246.9 106.8h1.4M247.3 105.0h1.4M240.1 133.8h1.4M242.2 120.1h1.4M241.0 132.6h1.4M243.9 119.4h1.4M248.9 101.6h1.4M246.7 108.7h1.4M241.2 125.1h1.4M244.0 109.6h1.4M243.1 127.5h1.4M236.4 138.4h1.4M242.7 122.1h1.4M244.7 134.8h1.4M245.8 98.2h1.4M239.1 132.9h1.4M246.1 115.8h1.4M238.6 135.9h1.4M243.4 109.1h1.4M243.4 134.8h1.4M246.6 108.1h1.4M246.4 100.8h1.4M247.1 110.0h1.4M247.6 104.1h1.4M243.1 124.8h1.4M247.9 109.8h1.4M238.5 137.4h1.4M240.6 115.1h1.4M246.4 108.5h1.4M243.2 134.0h1.4M242.7 117.0h1.4M246.8 97.5h1.4M242.8 129.5h1.4M243.0 133.9h1.4M244.3 133.2h1.4M244.3 127.0h1.4M247.2 100.5h1.4M249.0 100.4h1.4M241.5 117.3h1.4M241.6 130.8h1.4M239.6 142.5h1.4M243.8 126.0h1.4M246.3 106.3h1.4M240.4 135.8h1.4M244.2 124.1h1.4M243.6 122.4h1.4M244.2 104.6h1.4M244.7 110.2h1.4M244.8 112.0h1.4M248.1 101.0h1.4M245.9 107.4h1.4M241.4 124.5h1.4M244.5 125.7h1.4M243.2 125.6h1.4M239.7 130.1h1.4M241.3 125.0h1.4M247.7 101.8h1.4M240.1 140.3h1.4M247.1 100.3h1.4M244.8 116.6h1.4M243.5 113.5h1.4M246.5 108.7h1.4M238.9 132.1h1.4M241.1 130.8h1.4M241.7 126.6h1.4M244.1 137.3h1.4M247.0 109.1h1.4M245.4 113.0h1.4M239.0 137.4h1.4M239.6 136.0h1.4M240.8 141.9h1.4M244.5 118.1h1.4M244.9 122.5h1.4M251.1 122.8h1.4M252.7 109.5h1.4M252.9 133.6h1.4M252.0 108.9h1.4M258.3 143.8h1.4M248.0 101.6h1.4M254.3 125.2h1.4M250.6 98.1h1.4M253.6 128.0h1.4M249.9 112.1h1.4M247.9 114.4h1.4M252.3 122.2h1.4M252.0 120.7h1.4M251.8 123.0h1.4M248.9 115.9h1.4M249.8 106.2h1.4M251.5 112.3h1.4M250.9 123.9h1.4M253.5 132.6h1.4M248.8 104.1h1.4M261.2 151.3h1.4M252.8 127.2h1.4M256.8 141.2h1.4M251.3 115.9h1.4M252.1 117.6h1.4M251.0 122.2h1.4M250.9 109.1h1.4M256.5 121.0h1.4M252.3 136.9h1.4M252.2 119.2h1.4M260.7 154.3h1.4M248.5 104.3h1.4M250.9 120.9h1.4M257.3 146.2h1.4M255.4 139.7h1.4M258.1 150.5h1.4M247.6 101.4h1.4M253.1 122.1h1.4M256.6 140.1h1.4M260.5 158.3h1.4M254.0 131.5h1.4M258.8 144.4h1.4M262.2 158.3h1.4M250.8 114.5h1.4M258.3 153.0h1.4M257.8 148.3h1.4M252.5 119.1h1.4M255.5 141.0h1.4M248.9 117.8h1.4M256.6 136.8h1.4M252.9 125.1h1.4M253.1 126.0h1.4M254.3 139.8h1.4M260.6 147.9h1.4M257.6 136.7h1.4M250.6 110.3h1.4M260.0 156.4h1.4M260.5 154.6h1.4M247.7 98.0h1.4M254.2 130.7h1.4M258.2 137.7h1.4M250.4 105.8h1.4M255.9 143.3h1.4M250.4 105.9h1.4M255.6 139.9h1.4M248.6 102.8h1.4M250.4 123.2h1.4M247.4 101.2h1.4M256.4 132.8h1.4M248.4 108.4h1.4M254.1 121.9h1.4M253.7 124.0h1.4M253.1 130.7h1.4M259.2 150.8h1.4M258.0 157.6h1.4M257.8 152.4h1.4M255.7 133.9h1.4M255.5 140.7h1.4M256.7 138.6h1.4M253.1 119.5h1.4M255.5 143.1h1.4M249.3 118.2h1.4M255.6 148.3h1.4M259.1 141.3h1.4M248.8 108.5h1.4M250.0 122.0h1.4M256.8 155.9h1.4M251.5 109.8h1.4M258.3 143.1h1.4M255.8 138.3h1.4M248.8 96.7h1.4M250.6 106.5h1.4M255.7 148.9h1.4M252.3 121.5h1.4M254.9 127.4h1.4M257.5 145.1h1.4M259.2 150.3h1.4M251.4 118.5h1.4M252.3 133.8h1.4M248.6 104.7h1.4M260.8 151.6h1.4M258.8 150.1h1.4M250.9 101.9h1.4M252.0 110.3h1.4M258.7 152.5h1.4M251.5 110.8h1.4M250.9 114.3h1.4M245.8 99.2h1.4M254.6 123.4h1.4M253.3 117.6h1.4M252.9 113.3h1.4M250.7 112.0h1.4M253.2 131.7h1.4M189.6 177.6h1.4M188.2 176.6h1.4M194.6 170.7h1.4M189.5 175.8h1.4M193.0 175.6h1.4M192.6 173.1h1.4M190.7 174.4h1.4M194.4 171.9h1.4M189.9 176.1h1.4M261.3 176.3h1.4M260.9 169.3h1.4M260.1 169.7h1.4M261.6 170.1h1.4M262.8 174.7h1.4M261.6 178.3h1.4M263.2 180.0h1.4M261.9 168.7h1.4M296.1 170.4h1.4M269.7 177.8h1.4M282.9 178.2h1.4M276.7 170.2h1.4M273.4 170.0h1.4M285.5 170.3h1.4M274.3 177.0h1.4M291.8 169.4h1.4M273.8 178.1h1.4M276.7 168.8h1.4M277.5 169.7h1.4M281.0 175.9h1.4M275.6 174.5h1.4M276.4 168.6h1.4M290.0 167.1h1.4M267.7 170.9h1.4M279.5 188.3h1.4M276.0 173.4h1.4M270.9 171.8h1.4M297.0 170.6h1.4M292.3 173.4h1.4M273.8 174.0h1.4M282.5 177.9h1.4M296.0 172.0h1.4M290.9 169.4h1.4M269.3 172.8h1.4M283.6 175.1h1.4M276.9 181.9h1.4M282.1 172.3h1.4M275.7 176.4h1.4M287.2 167.6h1.4M268.8 175.0h1.4M277.1 187.8h1.4M284.9 175.8h1.4M275.7 179.5h1.4M273.4 177.9h1.4M273.2 168.7h1.4M275.8 183.7h1.4M288.3 169.9h1.4M282.8 183.8h1.4M273.2 167.5h1.4M285.9 173.0h1.4M273.8 183.2h1.4M269.9 178.6h1.4M282.0 182.2h1.4M279.3 184.5h1.4M292.8 173.2h1.4M276.5 189.2h1.4M281.0 182.7h1.4M273.3 186.0h1.4M293.0 170.5h1.4M276.3 184.2h1.4M276.9 180.3h1.4M289.0 172.3h1.4M282.6 178.3h1.4M274.8 182.1h1.4M289.1 174.9h1.4M283.9 182.0h1.4M296.8 169.4h1.4M270.1 181.0h1.4M287.9 173.0h1.4M290.9 156.6h1.4M288.0 156.7h1.4M294.7 156.0h1.4M286.2 157.0h1.4M317.3 67.7h1.4M315.5 112.5h1.4M312.2 154.0h1.4M314.3 123.3h1.4M315.8 94.3h1.4M319.9 43.9h1.4M313.6 124.4h1.4M314.7 141.6h1.4M316.9 81.3h1.4M315.7 100.3h1.4M317.1 79.8h1.4M316.0 105.7h1.4M315.6 91.4h1.4M320.3 40.1h1.4M313.7 149.4h1.4M314.6 132.0h1.4M315.7 131.6h1.4M316.6 87.8h1.4M316.2 93.8h1.4M314.5 130.4h1.4M319.4 31.2h1.4M319.1 45.4h1.4M317.5 56.2h1.4M313.0 152.2h1.4M319.2 49.0h1.4M318.8 59.1h1.4M314.0 136.6h1.4M313.7 132.3h1.4M315.3 109.0h1.4M319.1 52.7h1.4M319.5 33.6h1.4M314.9 120.0h1.4M318.7 47.3h1.4M314.2 125.8h1.4M318.9 41.1h1.4M318.2 63.5h1.4M314.9 118.1h1.4M318.6 54.4h1.4M314.6 116.1h1.4M314.8 96.4h1.4M318.1 52.5h1.4M319.7 50.8h1.4M314.6 130.0h1.4M320.7 30.2h1.4M314.8 120.5h1.4M317.9 67.8h1.4M318.3 73.1h1.4M313.7 134.0h1.4M316.6 94.2h1.4M312.8 149.1h1.4M314.5 123.5h1.4M319.6 41.2h1.4M316.2 100.9h1.4M316.2 104.0h1.4M320.1 54.8h1.4M315.7 99.0h1.4M318.9 46.2h1.4M322.3 64.0h1.4M321.7 45.1h1.4M321.6 45.3h1.4M321.7 50.6h1.4M321.0 43.1h1.4M322.5 60.3h1.4M322.0 39.7h1.4M321.4 58.6h1.4M321.2 41.6h1.4M321.0 39.3h1.4M321.7 53.9h1.4M321.2 47.1h1.4M322.0 39.0h1.4M322.9 58.6h1.4M320.9 37.1h1.4M323.1 66.0h1.4M321.4 41.9h1.4M321.8 65.0h1.4M321.2 66.3h1.4M323.4 96.5h1.4M327.2 126.0h1.4M334.6 138.1h1.4M334.8 133.8h1.4M326.5 102.0h1.4M337.6 130.8h1.4M334.7 127.0h1.4M325.2 89.1h1.4M323.7 83.5h1.4M324.1 101.3h1.4M326.2 105.7h1.4M323.2 111.0h1.4M329.1 109.6h1.4M323.5 75.2h1.4M337.1 139.2h1.4M333.1 129.6h1.4M330.2 129.8h1.4M335.4 134.6h1.4M326.0 124.5h1.4M322.6 78.8h1.4M325.9 104.9h1.4M334.5 135.1h1.4M326.1 103.8h1.4M324.8 116.9h1.4M323.8 102.5h1.4M323.4 79.8h1.4M322.0 88.2h1.4M334.4 133.8h1.4M331.6 123.7h1.4M331.7 132.8h1.4M322.6 108.3h1.4M336.2 126.8h1.4M334.5 123.1h1.4M322.8 111.1h1.4M337.5 134.9h1.4M328.4 129.5h1.4M323.8 93.5h1.4M322.8 86.7h1.4M332.0 132.8h1.4M330.3 133.7h1.4M321.9 94.8h1.4M329.5 133.8h1.4M329.5 131.2h1.4M322.8 101.2h1.4M336.4 135.5h1.4M334.0 124.1h1.4M327.9 116.0h1.4M328.3 126.3h1.4M333.0 138.0h1.4M322.6 100.7h1.4M321.8 96.9h1.4M328.0 126.9h1.4M325.4 117.9h1.4M323.6 113.5h1.4M323.1 85.7h1.4M338.2 138.5h1.4M325.7 103.9h1.4M329.3 125.7h1.4M331.1 115.8h1.4M323.2 79.1h1.4M328.5 127.6h1.4M327.2 120.1h1.4M331.4 116.9h1.4M324.6 89.7h1.4M324.6 98.0h1.4M327.3 122.8h1.4M325.5 123.6h1.4M324.4 91.6h1.4M321.8 94.3h1.4M339.3 136.8h1.4M336.4 139.9h1.4M323.8 109.9h1.4M326.8 130.2h1.4M331.2 124.9h1.4M326.2 103.4h1.4M339.4 134.4h1.4M331.8 118.4h1.4M331.1 133.3h1.4M328.4 111.0h1.4M322.8 109.1h1.4M331.6 126.2h1.4M321.3 71.7h1.4M326.4 114.5h1.4M335.7 133.3h1.4M334.4 131.9h1.4M336.9 138.4h1.4M332.0 131.8h1.4M329.4 122.4h1.4M323.5 104.4h1.4M326.1 113.0h1.4M338.1 130.8h1.4M325.4 120.0h1.4M322.4 103.7h1.4M332.5 134.0h1.4M329.8 134.5h1.4M328.5 103.1h1.4M325.5 105.6h1.4M334.8 132.7h1.4M322.7 88.7h1.4M332.1 126.9h1.4M327.1 117.1h1.4M324.8 117.9h1.4M323.5 111.5h1.4M329.8 124.3h1.4M324.4 90.1h1.4M329.9 110.8h1.4M327.5 112.3h1.4M326.4 108.0h1.4M330.3 125.6h1.4M326.0 114.6h1.4M324.1 86.5h1.4M323.2 100.7h1.4M321.3 81.7h1.4M327.7 129.6h1.4M327.7 99.9h1.4M327.0 107.5h1.4M322.5 83.6h1.4M339.3 133.1h1.4M325.8 93.7h1.4M324.1 120.6h1.4M330.2 111.3h1.4M326.2 129.1h1.4M325.9 108.6h1.4M329.8 111.4h1.4M327.2 111.5h1.4M325.4 88.4h1.4M322.7 104.4h1.4M339.3 136.6h1.4M332.6 126.0h1.4M324.3 86.5h1.4M324.9 98.5h1.4M323.7 97.2h1.4M331.3 129.2h1.4M333.7 124.2h1.4M321.0 88.6h1.4M336.0 130.1h1.4M330.2 121.4h1.4M321.6 89.8h1.4M322.9 77.2h1.4M324.9 119.9h1.4M333.8 134.0h1.4M333.3 137.8h1.4M329.9 114.2h1.4M324.8 98.2h1.4M323.0 103.0h1.4M327.1 112.1h1.4M330.4 121.6h1.4M325.8 127.8h1.4M326.6 109.3h1.4M322.5 89.1h1.4M327.3 115.4h1.4M324.0 98.6h1.4M331.1 121.0h1.4M326.4 95.9h1.4M323.7 116.2h1.4M323.0 108.3h1.4M332.3 124.8h1.4M322.4 78.9h1.4M326.9 121.5h1.4M338.9 132.8h1.4M328.1 116.3h1.4M328.7 108.8h1.4M338.8 136.5h1.4M331.9 137.7h1.4M332.4 122.2h1.4M333.9 120.4h1.4M328.7 134.2h1.4M323.6 89.7h1.4M326.7 109.2h1.4M325.9 108.1h1.4M331.0 131.4h1.4M326.4 123.1h1.4M334.5 125.2h1.4M322.1 98.9h1.4M326.7 111.1h1.4M322.2 93.0h1.4M333.3 129.6h1.4M337.4 137.0h1.4M331.1 117.4h1.4M330.7 131.5h1.4M336.6 131.5h1.4M330.6 132.4h1.4M327.2 120.2h1.4M322.0 80.3h1.4M324.9 97.8h1.4M326.3 111.4h1.4M336.0 124.2h1.4M331.3 116.4h1.4M328.5 108.9h1.4M331.2 125.7h1.4M326.5 90.3h1.4M323.3 87.1h1.4M322.1 85.8h1.4M323.7 82.4h1.4M334.3 128.6h1.4M323.6 71.2h1.4M324.8 87.4h1.4M333.2 125.7h1.4M325.1 76.8h1.4M324.8 91.9h1.4M324.0 88.5h1.4M321.9 70.2h1.4M340.1 133.5h1.4M337.8 130.9h1.4M322.7 70.2h1.4M323.0 83.7h1.4M337.8 123.8h1.4M337.5 130.7h1.4M323.7 72.4h1.4M324.1 96.5h1.4M330.9 115.8h1.4M341.1 133.1h1.4M333.5 114.5h1.4M333.8 120.1h1.4M326.1 88.4h1.4M335.8 125.0h1.4M327.8 94.7h1.4M324.0 80.9h1.4M327.5 104.8h1.4M324.1 95.0h1.4M337.7 132.3h1.4M337.9 134.2h1.4M335.2 122.4h1.4M329.2 113.1h1.4M324.9 93.4h1.4M328.2 107.0h1.4M323.3 86.2h1.4M339.3 132.8h1.4M323.2 78.9h1.4M323.4 79.9h1.4M329.2 112.1h1.4M338.3 131.5h1.4M326.5 106.3h1.4M322.5 87.1h1.4M330.4 121.2h1.4M337.2 129.2h1.4M325.1 83.2h1.4M338.7 132.3h1.4M329.4 111.9h1.4M334.8 117.7h1.4M335.2 123.6h1.4M329.1 109.4h1.4M322.1 71.3h1.4M333.1 128.4h1.4M335.3 130.2h1.4M326.8 88.5h1.4M336.3 134.9h1.4M338.0 133.3h1.4M344.3 101.6h1.4M343.6 106.7h1.4M344.9 106.2h1.4M343.8 106.7h1.4M342.1 111.0h1.4M339.1 121.6h1.4M341.1 117.8h1.4M341.4 116.6h1.4M339.9 126.7h1.4M342.9 126.7h1.4M343.3 121.9h1.4M337.3 135.0h1.4M341.8 110.5h1.4M345.2 124.7h1.4M345.2 98.1h1.4M344.3 115.7h1.4M343.7 100.4h1.4M337.9 121.2h1.4M338.7 136.6h1.4M341.2 122.3h1.4M337.3 124.9h1.4M342.4 108.6h1.4M337.8 136.3h1.4M340.8 117.2h1.4M338.6 124.3h1.4M344.0 107.3h1.4M343.2 112.3h1.4M343.4 109.1h1.4M341.5 115.7h1.4M340.9 129.8h1.4M342.9 128.0h1.4M343.7 107.5h1.4M339.7 130.9h1.4M346.3 99.7h1.4M345.3 106.3h1.4M342.4 111.2h1.4M342.1 119.3h1.4M338.2 125.4h1.4M337.8 133.1h1.4M345.2 100.9h1.4M340.2 116.3h1.4M339.5 124.1h1.4M339.4 133.0h1.4M343.5 125.1h1.4M342.3 112.1h1.4M343.9 106.0h1.4M344.3 97.9h1.4M343.2 115.2h1.4M338.8 125.4h1.4M337.1 136.7h1.4M343.2 124.4h1.4M340.3 116.1h1.4M338.4 130.7h1.4M342.3 127.3h1.4M340.2 133.4h1.4M341.1 128.6h1.4M344.4 106.4h1.4M338.1 124.0h1.4M339.7 128.7h1.4M341.4 113.7h1.4M345.6 102.3h1.4M345.2 108.3h1.4M343.7 106.0h1.4M344.5 102.3h1.4M336.2 134.4h1.4M346.5 101.7h1.4M338.5 123.3h1.4M343.9 115.1h1.4M345.4 104.1h1.4M343.2 117.1h1.4M341.8 113.3h1.4M344.7 111.5h1.4M345.6 99.1h1.4M338.9 122.4h1.4M340.7 125.5h1.4M347.2 112.0h1.4M346.4 113.1h1.4M354.1 150.8h1.4M353.1 131.7h1.4M345.2 98.8h1.4M350.9 120.7h1.4M360.4 155.4h1.4M351.0 120.9h1.4M351.4 130.2h1.4M353.7 129.8h1.4M350.6 125.3h1.4M351.3 131.7h1.4M355.9 153.6h1.4M346.0 98.8h1.4M353.7 148.7h1.4M354.7 135.8h1.4M349.1 104.9h1.4M345.5 103.9h1.4M353.2 130.8h1.4M355.3 152.8h1.4M349.3 120.8h1.4M357.0 147.8h1.4M354.1 158.1h1.4M352.9 116.2h1.4M348.8 118.3h1.4M348.5 112.1h1.4M349.5 121.2h1.4M345.6 103.6h1.4M349.0 111.5h1.4M349.8 104.3h1.4M355.6 151.3h1.4M350.7 124.9h1.4M355.2 156.5h1.4M352.0 132.7h1.4M351.0 135.0h1.4M346.0 104.8h1.4M353.1 136.5h1.4M354.0 152.2h1.4M350.2 127.2h1.4M351.3 126.9h1.4M354.5 130.3h1.4M356.3 154.2h1.4M354.6 149.4h1.4M348.9 119.3h1.4M347.3 105.8h1.4M348.4 119.5h1.4M358.6 154.3h1.4M353.7 132.6h1.4M360.8 154.2h1.4M351.1 120.9h1.4M352.1 133.8h1.4M347.1 108.5h1.4M349.5 100.1h1.4M352.5 143.7h1.4M356.9 146.3h1.4M350.1 124.2h1.4M354.8 139.4h1.4M353.8 152.5h1.4M355.4 144.8h1.4M347.1 107.6h1.4M348.4 106.8h1.4M353.4 142.6h1.4M349.3 114.4h1.4M352.4 126.7h1.4M346.1 106.8h1.4M351.2 131.0h1.4M356.2 149.1h1.4M346.2 102.3h1.4M354.6 134.4h1.4M348.9 102.0h1.4M354.0 124.6h1.4M348.7 108.0h1.4M356.2 151.2h1.4M350.2 117.2h1.4M352.2 132.9h1.4M360.0 153.2h1.4M354.0 137.4h1.4M351.9 141.9h1.4M349.9 115.1h1.4M356.6 150.9h1.4M355.6 152.6h1.4M347.1 110.0h1.4M348.6 110.3h1.4M355.2 152.9h1.4M357.8 147.4h1.4M350.9 119.0h1.4M346.3 103.8h1.4M349.5 125.2h1.4M350.1 139.1h1.4M351.3 142.6h1.4M356.6 145.9h1.4M353.7 135.0h1.4M356.0 143.6h1.4M347.2 105.3h1.4M354.4 135.5h1.4M347.2 105.1h1.4M356.7 156.2h1.4M351.8 132.0h1.4M347.8 99.4h1.4M355.4 140.1h1.4M354.8 146.3h1.4M349.4 114.2h1.4M352.4 140.0h1.4M353.7 141.3h1.4M346.1 100.0h1.4M354.7 155.9h1.4M351.5 122.0h1.4M346.2 98.4h1.4M355.3 148.7h1.4M346.6 99.5h1.4M349.3 115.9h1.4M348.5 120.1h1.4M350.6 120.8h1.4M355.0 141.1h1.4M357.5 151.8h1.4M359.3 180.4h1.4M358.1 172.8h1.4M358.4 175.8h1.4M359.4 177.1h1.4M360.0 178.2h1.4M359.5 168.2h1.4M374.2 174.0h1.4M374.4 181.1h1.4M370.2 172.3h1.4M371.5 180.2h1.4M369.0 175.8h1.4M371.4 183.4h1.4M369.4 180.0h1.4M371.7 171.4h1.4M375.0 170.8h1.4M373.3 173.0h1.4M370.2 185.1h1.4M372.6 169.9h1.4M372.9 172.9h1.4M371.3 171.9h1.4M374.3 179.5h1.4M371.5 182.9h1.4M374.6 185.3h1.4M368.8 169.1h1.4M369.7 170.2h1.4M370.3 171.0h1.4M373.7 177.7h1.4M372.8 174.6h1.4M370.0 173.5h1.4M367.9 179.7h1.4M383.2 170.8h1.4M376.2 175.9h1.4M378.6 172.0h1.4M374.9 176.3h1.4M381.6 172.4h1.4M376.9 178.3h1.4M378.3 174.4h1.4M375.4 174.7h1.4M376.7 176.4h1.4M391.1 157.9h1.4M390.6 158.7h1.4M391.7 159.7h1.4M384.4 156.8h1.4M388.3 159.3h1.4M394.0 160.4h1.4M385.7 155.4h1.4M391.7 160.1h1.4M386.9 153.6h1.4M386.4 155.5h1.4M404.9 104.4h1.4M405.9 87.2h1.4M402.1 125.6h1.4M400.5 134.2h1.4M404.3 92.0h1.4M400.3 151.3h1.4M407.7 74.4h1.4M401.2 140.0h1.4M401.2 133.3h1.4M406.2 76.1h1.4M399.3 157.2h1.4M403.5 88.9h1.4M405.2 86.3h1.4M399.6 137.1h1.4M406.4 71.9h1.4M399.6 149.9h1.4M403.9 119.3h1.4M399.0 138.4h1.4M402.3 99.0h1.4M404.0 99.0h1.4M400.0 149.6h1.4M403.6 108.1h1.4M399.1 151.0h1.4M405.4 72.1h1.4M403.5 106.9h1.4M406.9 74.0h1.4M400.7 143.8h1.4M398.9 153.1h1.4M402.4 130.3h1.4M404.9 86.9h1.4M402.2 129.9h1.4M402.7 101.4h1.4M400.4 143.3h1.4M403.2 110.7h1.4M404.8 96.5h1.4M400.4 125.6h1.4M402.2 142.9h1.4M405.4 91.8h1.4M403.5 94.4h1.4M404.4 99.6h1.4M404.7 103.2h1.4M398.6 149.6h1.4M401.6 128.1h1.4M405.6 69.2h1.4M405.6 79.1h1.4M400.8 150.0h1.4M402.9 111.0h1.4M402.2 114.9h1.4M413.2 113.8h1.4M407.4 87.0h1.4M410.7 113.0h1.4M406.6 90.1h1.4M410.5 104.8h1.4M413.4 104.4h1.4M413.2 121.4h1.4M422.8 130.0h1.4M408.7 79.2h1.4M411.6 96.0h1.4M416.4 124.9h1.4M411.0 103.2h1.4M411.2 96.3h1.4M406.7 73.3h1.4M404.6 101.1h1.4M417.0 121.3h1.4M403.9 80.8h1.4M406.6 70.6h1.4M413.7 112.3h1.4M410.0 91.2h1.4M412.2 105.3h1.4M418.0 133.4h1.4M410.7 103.9h1.4M413.8 113.5h1.4M407.3 85.7h1.4M405.6 70.6h1.4M410.8 110.2h1.4M408.5 93.5h1.4M404.6 82.8h1.4M415.1 112.0h1.4M414.7 126.3h1.4M408.3 71.1h1.4M410.1 116.2h1.4M406.8 82.3h1.4M415.0 116.1h1.4M413.0 127.6h1.4M413.3 88.7h1.4M409.9 92.5h1.4M407.1 70.6h1.4M419.0 132.4h1.4M414.5 109.5h1.4M409.6 124.5h1.4M421.2 134.3h1.4M410.4 113.0h1.4M407.4 96.1h1.4M404.4 79.1h1.4M417.1 132.6h1.4M411.4 94.0h1.4M412.7 125.6h1.4M417.8 120.3h1.4M420.4 133.3h1.4M407.3 80.5h1.4M409.9 88.8h1.4M404.5 109.8h1.4M403.6 71.5h1.4M407.4 83.9h1.4M404.6 73.6h1.4M415.6 127.7h1.4M411.4 100.4h1.4M417.7 129.1h1.4M418.4 134.1h1.4M414.1 106.2h1.4M407.0 83.0h1.4M416.1 132.5h1.4M408.0 90.6h1.4M414.1 106.2h1.4M406.4 107.8h1.4M408.4 96.6h1.4M409.2 90.7h1.4M410.8 121.0h1.4M406.9 76.8h1.4M413.1 91.4h1.4M408.1 69.4h1.4M421.1 136.2h1.4M419.5 115.6h1.4M413.3 97.6h1.4M418.2 127.6h1.4M409.8 105.9h1.4M421.7 124.6h1.4M406.3 77.5h1.4M415.8 118.5h1.4M409.0 78.0h1.4M414.2 113.2h1.4M406.7 69.0h1.4M418.9 122.4h1.4M416.2 127.0h1.4M409.3 95.6h1.4M410.8 98.6h1.4M412.1 111.9h1.4M411.8 117.8h1.4M407.7 87.4h1.4M413.2 115.5h1.4M413.2 109.0h1.4M420.0 125.8h1.4M408.3 93.6h1.4M409.8 117.3h1.4M419.0 125.7h1.4M409.1 91.0h1.4M407.9 81.0h1.4M405.8 76.7h1.4M407.8 74.4h1.4M409.8 86.0h1.4M406.7 71.5h1.4M410.2 76.7h1.4M411.5 80.3h1.4M412.4 104.7h1.4M414.1 107.3h1.4M414.5 117.1h1.4M413.2 98.3h1.4M408.0 88.6h1.4M404.9 112.6h1.4M406.6 88.3h1.4M410.9 106.9h1.4M409.8 114.3h1.4M410.8 119.1h1.4M409.9 83.0h1.4M421.1 135.8h1.4M425.5 113.5h1.4M423.7 119.6h1.4M424.7 112.7h1.4M428.1 98.2h1.4M429.1 98.9h1.4M422.3 124.0h1.4M429.7 92.2h1.4M426.6 102.0h1.4M425.7 111.6h1.4M427.3 106.0h1.4M423.0 127.3h1.4M423.2 122.4h1.4M427.2 109.4h1.4M424.7 123.0h1.4M428.1 98.2h1.4M426.8 105.3h1.4M424.2 123.7h1.4M429.4 90.8h1.4M426.7 104.1h1.4M431.6 92.9h1.4M426.3 122.4h1.4M422.0 114.0h1.4M425.1 106.6h1.4M423.9 131.7h1.4M424.5 134.4h1.4M423.5 128.1h1.4M428.1 101.7h1.4M422.5 135.9h1.4M427.0 100.5h1.4M427.5 102.3h1.4M423.6 123.4h1.4M423.8 126.9h1.4M428.0 98.5h1.4M427.8 98.9h1.4M427.6 100.4h1.4M429.4 102.6h1.4M421.4 136.7h1.4M427.8 105.5h1.4M423.9 136.9h1.4M427.9 110.6h1.4M425.5 127.9h1.4M421.5 134.3h1.4M436.7 157.2h1.4M432.6 126.7h1.4M433.3 141.0h1.4M432.7 116.6h1.4M430.1 105.2h1.4M432.7 117.2h1.4M433.9 133.0h1.4M432.5 114.9h1.4M435.4 155.7h1.4M432.8 124.3h1.4M433.6 146.7h1.4M431.1 103.6h1.4M433.6 139.1h1.4M432.9 139.1h1.4M430.0 96.8h1.4M432.7 131.6h1.4M432.8 114.8h1.4M431.4 111.2h1.4M434.8 138.9h1.4M432.1 116.1h1.4M431.5 102.8h1.4M431.3 101.0h1.4M432.3 121.1h1.4M431.6 99.4h1.4M431.9 104.0h1.4M434.7 156.9h1.4M432.5 132.2h1.4M434.0 130.6h1.4M432.5 131.9h1.4M429.6 100.4h1.4M431.8 149.3h1.4M433.0 131.6h1.4M431.2 99.9h1.4M430.1 95.1h1.4M436.0 144.9h1.4M429.7 89.9h1.4M433.7 140.7h1.4M429.9 107.2h1.4M433.3 143.2h1.4M434.3 142.9h1.4M434.2 143.1h1.4M429.6 105.2h1.4M429.2 95.2h1.4M430.6 106.4h1.4M430.4 116.5h1.4M431.8 108.1h1.4M432.4 112.8h1.4M431.8 109.7h1.4M432.7 148.7h1.4M431.5 113.9h1.4M429.3 96.1h1.4M433.2 125.5h1.4M430.7 100.4h1.4M428.9 90.0h1.4M435.2 131.9h1.4M431.0 112.0h1.4M448.9 178.6h1.4M477.7 172.0h1.4M471.6 177.1h1.4M480.7 166.4h1.4M464.8 179.6h1.4M448.1 179.1h1.4M463.2 178.5h1.4M472.6 174.2h1.4M449.8 174.8h1.4M446.6 179.1h1.4M439.6 171.9h1.4M445.8 179.0h1.4M446.5 180.5h1.4M447.4 175.1h1.4M444.9 167.8h1.4M470.2 176.3h1.4M441.2 171.5h1.4M475.6 173.1h1.4M478.6 171.4h1.4M461.9 182.8h1.4M462.8 179.4h1.4M448.5 176.1h1.4M484.3 168.8h1.4M457.8 186.4h1.4M479.3 172.9h1.4M453.9 183.9h1.4M452.4 176.8h1.4M464.7 180.0h1.4M474.3 175.8h1.4M460.4 184.0h1.4M442.8 170.9h1.4M465.2 179.8h1.4M452.1 185.9h1.4M459.4 180.2h1.4M447.1 177.7h1.4M462.1 179.9h1.4M476.0 171.9h1.4M477.6 171.6h1.4M463.5 181.0h1.4M457.3 185.2h1.4M452.3 182.3h1.4M471.6 177.2h1.4M480.9 172.6h1.4M444.1 177.2h1.4M476.8 167.5h1.4M480.4 171.5h1.4M473.7 174.2h1.4M453.5 180.0h1.4M470.3 177.3h1.4M449.9 178.2h1.4M453.8 179.2h1.4M443.1 172.6h1.4M463.6 179.7h1.4M473.2 175.9h1.4M459.9 182.2h1.4M476.7 167.8h1.4M481.5 166.4h1.4M456.8 184.9h1.4M474.7 178.0h1.4M487.8 168.3h1.4M476.1 174.1h1.4M442.4 171.0h1.4M476.6 173.8h1.4M451.6 179.6h1.4M473.6 175.6h1.4M446.4 180.0h1.4M463.8 178.3h1.4M467.9 176.7h1.4M464.1 176.9h1.4M452.5 182.2h1.4M470.3 173.2h1.4M477.3 174.8h1.4M440.2 170.8h1.4M451.7 181.7h1.4M478.3 172.1h1.4M452.9 179.4h1.4M446.7 178.3h1.4M442.0 174.5h1.4M479.8 174.2h1.4M446.8 179.2h1.4M486.9 167.1h1.4M469.8 176.2h1.4M479.5 169.1h1.4M466.7 179.6h1.4M476.4 175.2h1.4M451.0 185.5h1.4M457.9 184.1h1.4M472.8 170.9h1.4M441.7 172.3h1.4M486.6 167.8h1.4M468.6 181.5h1.4M440.4 170.3h1.4M445.9 174.9h1.4M469.3 181.2h1.4M442.6 171.0h1.4M444.3 172.3h1.4M454.0 181.4h1.4M492.6 159.7h1.4M493.7 159.7h1.4M495.7 159.8h1.4M495.2 159.2h1.4M498.9 160.9h1.4M506.6 107.0h1.4M509.9 68.0h1.4M506.3 106.9h1.4M506.7 105.2h1.4M507.9 102.8h1.4M504.3 141.1h1.4M508.2 105.3h1.4M505.1 132.1h1.4M503.2 145.5h1.4M503.7 145.3h1.4M503.8 150.4h1.4M508.6 108.0h1.4M508.9 82.1h1.4M504.4 143.9h1.4M508.3 72.5h1.4M504.0 133.1h1.4M506.0 116.9h1.4M506.7 113.5h1.4M503.4 142.4h1.4M508.5 76.4h1.4M508.6 109.9h1.4M508.0 92.9h1.4M506.6 116.5h1.4M505.5 130.2h1.4M505.5 110.7h1.4M508.8 69.5h1.4M509.0 81.0h1.4M509.5 83.5h1.4M505.0 143.5h1.4M506.8 96.2h1.4M504.0 150.2h1.4M504.2 150.0h1.4M504.1 146.4h1.4M502.8 150.2h1.4M503.0 144.8h1.4M502.7 151.8h1.4M504.3 138.7h1.4M505.0 143.2h1.4M508.8 68.4h1.4M508.3 76.2h1.4M507.5 96.3h1.4M506.0 121.5h1.4M509.3 73.2h1.4M509.2 73.5h1.4M510.2 67.2h1.4M503.1 140.4h1.4M505.5 131.2h1.4M507.4 89.4h1.4M510.2 74.9h1.4M507.5 88.8h1.4M508.0 101.4h1.4M506.9 115.9h1.4M503.4 139.9h1.4M503.5 151.6h1.4M507.8 97.6h1.4M524.2 127.7h1.4M513.3 78.4h1.4M527.9 148.1h1.4M510.5 73.5h1.4M513.5 71.5h1.4M521.7 112.9h1.4M527.0 132.9h1.4M504.4 66.1h1.4M527.0 141.0h1.4M524.4 155.1h1.4M518.3 125.1h1.4M518.5 119.1h1.4M526.9 150.4h1.4M514.7 89.6h1.4M518.4 126.1h1.4M519.3 101.4h1.4M517.9 120.2h1.4M511.7 89.1h1.4M522.9 125.4h1.4M514.9 77.5h1.4M518.0 106.7h1.4M514.9 82.6h1.4M513.3 90.5h1.4M513.3 85.0h1.4M514.0 80.9h1.4M523.8 139.0h1.4M511.1 83.5h1.4M526.3 151.2h1.4M523.8 138.7h1.4M519.2 123.1h1.4M511.8 82.4h1.4M510.5 71.2h1.4M516.9 106.9h1.4M527.5 153.1h1.4M510.5 78.1h1.4M516.5 96.7h1.4M513.6 76.7h1.4M512.7 100.2h1.4M510.1 75.3h1.4M514.0 78.7h1.4M527.3 139.8h1.4M518.8 122.2h1.4M524.3 144.3h1.4M514.4 82.6h1.4M526.0 138.9h1.4M513.7 81.5h1.4M508.6 67.7h1.4M523.6 132.9h1.4M511.7 82.8h1.4M519.5 124.3h1.4M514.9 114.4h1.4M525.6 138.5h1.4M510.0 74.0h1.4M529.2 155.8h1.4M518.4 106.9h1.4M520.5 139.9h1.4M516.7 101.2h1.4M520.2 124.7h1.4M520.7 132.4h1.4M511.4 66.6h1.4M518.1 122.7h1.4M511.1 95.9h1.4M515.8 106.3h1.4M517.2 117.0h1.4M511.4 80.6h1.4M513.3 85.4h1.4M518.7 108.1h1.4M515.8 105.8h1.4M528.1 132.7h1.4M517.5 97.6h1.4M523.9 131.5h1.4M525.6 142.7h1.4M528.1 139.0h1.4M524.7 134.2h1.4M518.9 119.5h1.4M526.7 144.4h1.4M523.4 121.0h1.4M510.2 70.4h1.4M524.5 141.8h1.4M527.5 143.6h1.4M525.5 148.9h1.4M531.2 154.5h1.4M525.2 144.7h1.4M521.8 124.2h1.4M519.6 123.2h1.4M530.9 146.1h1.4M508.8 69.1h1.4M513.6 81.9h1.4M523.0 155.0h1.4M512.6 81.5h1.4M515.9 94.0h1.4M517.6 123.1h1.4M508.8 68.9h1.4M521.5 134.6h1.4M510.4 88.3h1.4M510.4 70.7h1.4M512.7 78.4h1.4M511.7 68.0h1.4M509.3 67.6h1.4M513.5 93.9h1.4M516.6 99.2h1.4M514.2 95.6h1.4M514.0 93.3h1.4M511.8 88.6h1.4M520.2 117.0h1.4M508.6 65.9h1.4M511.5 76.1h1.4M525.3 139.6h1.4M519.4 126.5h1.4M511.7 88.8h1.4M518.9 116.7h1.4M524.4 121.1h1.4M513.2 92.0h1.4M511.6 71.1h1.4M523.1 134.3h1.4M523.8 133.9h1.4M512.3 88.9h1.4M522.2 130.0h1.4M516.4 103.0h1.4M526.4 145.3h1.4M509.5 74.3h1.4M521.9 116.6h1.4M514.2 80.1h1.4M515.5 80.8h1.4M509.2 65.9h1.4M512.2 70.5h1.4M513.1 74.3h1.4M513.4 74.2h1.4M524.3 135.4h1.4M523.5 124.7h1.4M514.5 82.5h1.4M530.7 146.4h1.4M515.0 97.9h1.4M522.8 144.4h1.4M532.2 116.3h1.4M532.9 128.3h1.4M534.6 125.3h1.4M531.0 127.1h1.4M535.9 119.3h1.4M531.0 139.9h1.4M535.3 107.7h1.4M532.9 114.1h1.4M533.4 140.7h1.4M536.1 98.0h1.4M534.8 112.8h1.4M535.0 114.2h1.4M532.3 127.4h1.4M533.7 121.4h1.4M535.4 106.5h1.4M530.9 144.9h1.4M530.4 149.3h1.4M534.5 118.4h1.4M533.5 118.3h1.4M537.6 98.9h1.4M535.6 131.0h1.4M533.0 133.4h1.4M532.3 142.8h1.4M534.2 115.9h1.4M530.1 148.2h1.4M532.9 116.5h1.4M533.0 124.4h1.4M532.7 138.4h1.4M534.1 128.1h1.4M531.8 140.9h1.4M532.9 122.6h1.4M533.7 126.3h1.4M535.5 111.3h1.4M536.2 107.3h1.4M537.9 122.5h1.4M537.7 109.2h1.4M536.9 125.7h1.4M538.3 122.7h1.4M539.2 130.8h1.4M536.9 107.3h1.4M536.9 134.3h1.4M541.4 143.8h1.4M539.7 131.6h1.4M537.0 111.7h1.4M536.7 102.5h1.4M539.3 136.6h1.4M539.2 143.6h1.4M540.5 156.5h1.4M540.2 149.7h1.4M537.4 104.4h1.4M538.0 115.2h1.4M537.8 116.6h1.4M539.5 142.0h1.4M538.5 116.8h1.4M541.2 148.6h1.4M539.7 124.0h1.4M536.5 104.8h1.4M536.6 114.0h1.4M540.7 151.5h1.4M534.9 100.3h1.4M540.5 157.8h1.4M538.9 131.4h1.4M536.5 109.8h1.4M539.4 144.7h1.4M536.6 111.4h1.4M538.8 137.1h1.4M537.7 124.2h1.4M541.7 154.0h1.4M539.7 149.3h1.4M537.6 111.2h1.4M539.5 154.8h1.4M536.9 124.3h1.4M539.5 138.3h1.4M552.1 177.1h1.4M542.3 173.1h1.4M548.8 173.5h1.4M557.5 177.7h1.4M554.4 178.9h1.4M554.3 181.8h1.4M547.5 179.3h1.4M549.1 170.0h1.4M551.2 177.0h1.4M550.4 173.5h1.4M554.4 179.8h1.4M546.8 171.4h1.4M544.0 170.2h1.4M554.1 178.4h1.4M555.7 177.7h1.4M545.8 172.1h1.4M548.3 178.6h1.4M557.8 177.9h1.4M543.7 172.3h1.4M549.3 172.9h1.4M554.6 180.0h1.4M554.3 177.7h1.4M562.1 175.1h1.4M562.8 170.1h1.4M565.8 173.8h1.4M566.1 175.2h1.4M568.9 172.0h1.4M564.1 178.5h1.4M569.7 171.5h1.4M566.6 170.1h1.4M558.2 172.7h1.4M562.8 173.6h1.4M562.1 174.4h1.4M569.6 175.6h1.4M567.7 168.6h1.4M569.0 174.2h1.4M563.8 175.9h1.4M565.5 173.3h1.4M568.7 169.4h1.4M569.5 171.8h1.4M560.2 175.8h1.4M572.0 171.1h1.4M559.7 175.9h1.4M566.3 172.1h1.4M568.2 174.0h1.4M571.7 170.6h1.4M568.8 171.2h1.4M562.9 175.9h1.4M568.5 172.0h1.4M563.3 172.7h1.4M569.9 176.0h1.4M564.3 179.3h1.4M570.5 170.7h1.4M568.6 168.2h1.4M567.3 176.0h1.4M570.4 170.9h1.4M565.0 173.7h1.4M558.7 175.3h1.4M558.7 178.9h1.4M588.3 104.1h1.4M586.1 132.5h1.4M588.6 84.8h1.4M591.0 85.5h1.4M588.7 87.0h1.4M592.5 69.2h1.4M588.2 88.7h1.4M589.2 88.5h1.4M587.5 115.4h1.4M585.7 146.4h1.4M585.8 126.6h1.4M585.0 151.2h1.4M589.2 85.3h1.4M588.2 107.9h1.4M590.5 82.5h1.4M585.4 152.3h1.4M586.5 141.3h1.4M587.3 124.7h1.4M588.0 95.9h1.4M586.4 128.0h1.4M589.9 86.4h1.4M590.9 75.7h1.4M586.2 116.0h1.4M592.3 60.8h1.4M590.2 80.7h1.4M585.3 143.6h1.4M589.5 86.8h1.4M588.5 111.3h1.4M589.3 88.4h1.4M588.4 113.6h1.4M585.5 129.2h1.4M584.9 134.7h1.4M586.7 106.3h1.4M587.8 103.5h1.4M592.3 62.7h1.4M587.1 100.8h1.4M588.8 95.9h1.4M584.1 144.6h1.4M587.9 102.3h1.4M585.5 145.0h1.4M586.2 114.5h1.4M586.7 106.4h1.4M584.3 147.5h1.4M590.1 82.3h1.4M585.7 126.8h1.4M585.8 140.3h1.4M585.6 155.8h1.4M592.4 74.0h1.4M591.0 71.7h1.4M589.3 92.2h1.4M587.2 112.8h1.4M587.4 100.2h1.4M592.4 58.7h1.4M585.2 148.9h1.4M586.5 103.0h1.4M593.1 60.4h1.4M589.6 85.9h1.4M585.2 138.5h1.4M587.7 104.9h1.4M592.9 59.7h1.4M587.7 125.3h1.4M587.0 113.9h1.4M591.0 61.0h1.4M594.0 60.2h1.4M587.7 125.4h1.4M587.4 100.0h1.4M592.9 99.7h1.4M591.1 93.3h1.4M593.2 80.0h1.4M593.1 77.0h1.4M593.2 78.7h1.4M591.9 66.0h1.4M589.7 93.2h1.4M591.5 83.3h1.4M590.8 87.5h1.4M593.0 77.5h1.4M594.1 82.4h1.4M594.0 81.1h1.4M589.3 94.4h1.4M594.8 95.5h1.4M594.1 81.4h1.4M593.7 91.0h1.4M590.3 96.1h1.4M592.8 66.6h1.4M591.7 71.3h1.4M594.7 86.5h1.4M590.4 80.3h1.4M592.2 76.5h1.4M590.5 97.9h1.4M591.6 90.1h1.4M589.3 93.0h1.4M591.0 87.0h1.4M594.7 91.9h1.4M591.2 86.0h1.4M593.3 99.2h1.4M593.1 89.7h1.4M593.5 88.2h1.4M590.7 74.3h1.4M591.8 83.1h1.4M590.9 103.0h1.4M594.3 80.3h1.4M590.5 99.7h1.4M593.3 91.4h1.4M593.4 93.9h1.4M591.8 81.1h1.4M591.6 98.7h1.4M593.0 90.7h1.4M590.1 91.7h1.4M602.7 127.3h1.4M598.6 101.6h1.4M592.5 74.1h1.4M609.1 140.8h1.4M592.7 80.5h1.4M591.0 68.6h1.4M606.4 129.8h1.4M592.2 63.9h1.4M598.5 99.1h1.4M609.7 139.0h1.4M593.2 77.5h1.4M603.9 118.2h1.4M592.9 83.0h1.4M606.6 133.6h1.4M592.7 60.3h1.4M596.8 100.3h1.4M608.6 141.5h1.4M593.3 60.5h1.4M595.1 82.2h1.4M592.8 64.6h1.4M595.0 97.4h1.4M610.9 145.3h1.4M593.6 91.4h1.4M604.2 112.5h1.4M608.2 153.2h1.4M610.4 140.8h1.4M597.1 95.1h1.4M594.4 85.4h1.4M594.5 90.8h1.4M610.2 150.4h1.4M593.6 66.0h1.4M597.0 102.5h1.4M594.0 64.7h1.4M609.6 138.9h1.4M592.0 73.3h1.4M602.9 111.7h1.4M592.8 59.4h1.4M606.4 130.9h1.4M605.5 138.0h1.4M604.5 131.2h1.4M612.9 148.6h1.4M596.0 90.8h1.4M600.1 100.2h1.4M592.6 88.3h1.4M595.6 96.5h1.4M593.3 60.3h1.4M602.9 128.9h1.4M592.6 64.4h1.4M603.4 136.7h1.4M606.8 147.9h1.4M607.7 146.6h1.4M596.2 88.0h1.4M591.4 82.0h1.4M605.9 126.6h1.4M604.9 116.8h1.4M595.4 79.4h1.4M602.5 124.8h1.4M597.7 97.2h1.4M597.7 100.3h1.4M598.9 118.6h1.4M602.9 117.2h1.4M603.3 122.7h1.4M607.1 138.3h1.4M603.9 126.5h1.4M601.0 114.4h1.4M597.8 96.4h1.4M607.8 139.2h1.4M596.0 88.5h1.4M603.1 115.6h1.4M593.0 61.1h1.4M595.4 74.3h1.4M597.2 108.0h1.4M595.6 82.2h1.4M596.2 97.2h1.4M601.4 104.7h1.4M602.6 117.6h1.4M595.5 92.0h1.4M602.7 116.4h1.4M608.0 142.8h1.4M597.0 87.8h1.4M607.6 126.2h1.4M603.1 128.4h1.4M603.8 124.7h1.4M592.8 58.5h1.4M592.3 88.6h1.4M595.4 106.4h1.4M605.2 119.4h1.4M594.9 88.0h1.4M592.4 74.1h1.4M610.9 134.1h1.4M607.9 123.0h1.4M595.4 89.6h1.4M597.4 93.6h1.4M596.0 89.7h1.4M599.8 104.6h1.4M596.8 104.9h1.4M596.8 109.3h1.4M591.9 85.5h1.4M596.8 86.0h1.4M604.1 116.1h1.4M596.9 82.9h1.4M598.3 99.9h1.4M604.8 118.1h1.4M601.4 112.8h1.4M606.3 141.8h1.4M597.7 88.6h1.4M593.4 95.4h1.4M598.5 116.0h1.4M613.9 152.0h1.4M612.2 145.3h1.4M594.8 92.2h1.4M603.4 120.4h1.4M594.0 79.1h1.4M593.2 87.2h1.4M595.8 88.6h1.4M599.7 97.2h1.4M600.2 121.4h1.4M600.2 114.2h1.4M600.6 105.5h1.4M595.5 94.3h1.4M593.6 89.4h1.4M600.8 115.3h1.4M598.6 100.8h1.4M595.4 93.5h1.4M611.6 144.4h1.4M592.0 61.6h1.4M602.7 111.3h1.4M593.9 87.7h1.4M594.0 84.6h1.4M611.0 152.1h1.4M595.5 92.0h1.4M595.3 82.1h1.4M597.8 116.1h1.4M592.8 59.2h1.4M608.9 153.0h1.4M593.8 60.7h1.4M598.5 124.9h1.4M596.7 93.0h1.4M601.6 126.6h1.4M593.8 58.2h1.4M593.8 60.2h1.4M605.7 128.1h1.4M595.3 95.0h1.4M597.0 93.7h1.4M604.7 135.6h1.4M592.2 57.8h1.4M593.0 64.5h1.4M607.8 139.1h1.4M598.0 100.3h1.4M607.0 117.7h1.4M613.0 145.8h1.4M602.5 109.8h1.4M604.8 123.5h1.4M606.2 152.1h1.4M595.1 80.5h1.4M591.9 60.7h1.4M606.0 122.2h1.4M603.9 124.7h1.4M604.9 129.6h1.4M613.3 150.7h1.4M594.7 87.4h1.4M592.5 74.5h1.4M592.6 67.8h1.4M595.5 67.5h1.4M600.4 106.5h1.4M598.9 101.1h1.4M592.6 78.1h1.4M594.9 80.8h1.4M608.2 139.1h1.4M608.7 137.4h1.4M607.3 138.5h1.4M598.1 94.8h1.4M602.8 128.6h1.4M594.7 89.6h1.4M595.5 96.0h1.4M600.3 114.5h1.4M593.7 73.4h1.4M591.4 76.4h1.4M601.5 110.3h1.4M605.7 141.4h1.4M603.4 126.6h1.4M599.8 116.1h1.4M599.5 119.5h1.4M592.6 61.9h1.4M605.5 138.4h1.4M597.3 107.1h1.4M593.2 66.2h1.4M602.1 107.3h1.4M596.9 105.1h1.4M609.7 137.9h1.4M604.1 122.2h1.4M601.2 115.4h1.4M615.3 135.1h1.4M610.9 134.4h1.4M620.5 99.7h1.4M616.9 122.7h1.4M617.7 122.3h1.4M609.3 148.6h1.4M619.2 119.5h1.4M619.5 113.3h1.4M618.7 108.5h1.4M616.8 131.7h1.4M613.1 150.8h1.4M612.7 125.3h1.4M614.6 131.3h1.4M615.0 129.9h1.4M611.6 144.3h1.4M619.7 102.7h1.4M612.9 139.4h1.4M612.0 138.3h1.4M615.9 136.2h1.4M617.5 114.8h1.4M617.4 123.6h1.4M619.5 106.1h1.4M613.2 134.3h1.4M620.0 122.3h1.4M618.2 105.8h1.4M618.4 111.4h1.4M615.9 124.8h1.4M607.2 147.0h1.4M620.1 98.9h1.4M617.3 113.7h1.4M618.0 119.5h1.4M615.4 149.2h1.4M620.7 99.6h1.4M615.9 132.9h1.4M619.1 99.2h1.4M618.3 111.0h1.4M619.5 112.4h1.4M620.5 104.8h1.4M616.8 115.0h1.4M616.9 124.5h1.4M611.2 143.5h1.4M612.4 133.5h1.4M612.1 140.8h1.4M618.1 116.8h1.4M613.9 151.7h1.4M615.2 135.2h1.4M617.5 107.0h1.4M618.7 109.5h1.4M617.0 109.0h1.4M615.1 121.3h1.4M612.6 132.8h1.4M618.4 108.9h1.4M614.5 130.4h1.4M613.3 147.3h1.4M612.9 134.4h1.4M619.7 112.0h1.4M621.8 101.3h1.4M619.6 105.9h1.4M617.8 104.2h1.4M609.8 142.6h1.4M613.2 142.6h1.4M614.6 118.9h1.4M616.6 113.8h1.4M621.3 107.0h1.4M616.5 135.0h1.4M621.2 100.7h1.4M615.6 129.2h1.4M620.0 120.3h1.4M621.6 100.8h1.4M616.3 129.4h1.4M614.8 131.0h1.4M615.3 121.6h1.4M614.0 145.3h1.4M616.7 118.6h1.4M619.9 111.8h1.4M616.4 117.7h1.4M612.6 145.8h1.4M616.0 118.2h1.4M619.0 103.7h1.4M613.8 132.9h1.4M618.0 124.4h1.4M618.8 108.8h1.4M617.9 104.9h1.4M618.8 118.0h1.4M617.3 118.5h1.4M614.0 125.9h1.4M617.1 115.2h1.4M618.4 111.9h1.4M614.8 131.9h1.4M618.1 115.2h1.4M618.7 97.7h1.4M610.9 145.3h1.4M622.4 101.7h1.4M620.4 103.9h1.4M617.3 127.2h1.4M617.3 117.7h1.4M616.4 135.6h1.4M619.7 103.2h1.4M625.9 142.2h1.4M627.1 131.6h1.4M623.2 106.2h1.4M621.8 115.1h1.4M628.2 156.7h1.4M623.6 110.2h1.4M624.1 137.7h1.4M623.4 138.8h1.4M630.0 150.9h1.4M628.8 152.8h1.4M624.8 129.9h1.4M625.0 135.2h1.4M627.5 126.4h1.4M623.1 105.8h1.4M626.2 154.1h1.4M627.1 158.7h1.4M628.9 150.5h1.4M623.1 117.8h1.4M629.9 158.1h1.4M626.6 147.9h1.4M624.8 120.2h1.4M624.8 149.7h1.4M621.3 100.0h1.4M623.4 101.9h1.4M622.2 106.4h1.4M625.6 123.1h1.4M622.6 127.0h1.4M622.1 123.8h1.4M622.6 112.1h1.4M623.4 111.3h1.4M623.4 117.3h1.4M622.1 123.6h1.4M629.1 153.8h1.4M625.8 127.5h1.4M626.2 112.8h1.4M628.5 158.2h1.4M618.8 101.2h1.4M623.0 101.7h1.4M624.9 132.0h1.4M621.9 103.3h1.4M619.6 99.6h1.4M629.8 124.9h1.4M623.6 104.1h1.4M624.9 134.6h1.4M627.9 131.0h1.4M625.8 144.4h1.4M623.5 127.3h1.4M625.6 131.8h1.4M623.2 122.3h1.4M624.4 122.3h1.4M623.4 129.6h1.4M622.0 119.4h1.4M621.3 114.6h1.4M622.9 108.3h1.4M622.5 134.0h1.4M622.2 101.2h1.4M624.3 126.2h1.4M622.6 129.5h1.4M627.5 130.5h1.4M621.9 108.4h1.4M623.7 135.1h1.4M626.8 136.0h1.4M621.0 104.4h1.4M624.2 127.4h1.4M626.7 132.1h1.4M623.4 112.4h1.4M628.5 150.1h1.4M622.6 111.6h1.4M625.6 141.2h1.4M626.4 125.8h1.4M621.3 108.6h1.4M622.4 125.0h1.4M623.2 135.0h1.4M626.5 141.6h1.4M623.9 117.0h1.4M624.5 115.8h1.4M621.3 106.9h1.4M623.3 127.6h1.4M628.1 140.0h1.4M621.5 126.7h1.4M625.4 116.8h1.4M627.7 148.2h1.4M624.2 118.2h1.4M625.2 142.0h1.4M627.3 148.4h1.4M624.7 137.8h1.4M620.0 104.2h1.4M624.6 139.3h1.4M631.5 144.5h1.4M623.9 134.4h1.4M626.6 151.9h1.4M625.4 139.0h1.4M624.3 125.4h1.4M627.3 150.9h1.4M621.5 101.4h1.4M625.8 118.8h1.4M625.9 151.6h1.4M621.8 106.2h1.4M625.8 130.3h1.4M619.2 106.8h1.4M623.9 149.2h1.4M623.8 132.8h1.4M622.7 113.8h1.4M620.8 102.3h1.4M623.8 130.7h1.4M624.9 136.1h1.4M627.8 148.6h1.4M626.8 136.3h1.4M629.8 159.6h1.4M630.1 151.9h1.4M624.4 120.8h1.4M629.8 151.0h1.4M622.5 107.4h1.4M629.4 151.6h1.4M629.7 151.5h1.4M628.1 145.3h1.4M626.8 147.8h1.4M627.8 134.0h1.4M626.5 147.3h1.4M636.3 170.3h1.4M633.5 169.6h1.4M654.2 181.9h1.4M638.9 169.4h1.4M666.4 171.2h1.4M653.6 173.4h1.4M666.0 176.8h1.4M664.4 180.8h1.4M661.2 179.9h1.4M663.5 175.6h1.4M648.8 176.2h1.4M638.9 169.2h1.4M674.0 171.9h1.4M667.2 172.3h1.4M641.4 176.4h1.4M635.9 169.0h1.4M670.9 167.7h1.4M654.9 180.4h1.4M649.7 172.7h1.4M643.4 175.8h1.4M649.6 179.0h1.4M639.2 171.3h1.4M639.0 170.0h1.4M667.6 179.2h1.4M637.3 167.1h1.4M670.2 167.8h1.4M663.0 177.1h1.4M641.4 170.2h1.4M664.9 181.5h1.4M647.3 177.6h1.4M659.3 179.2h1.4M659.1 176.6h1.4M664.1 174.4h1.4M658.3 179.3h1.4M635.6 168.1h1.4M659.6 180.0h1.4M650.6 180.6h1.4M669.0 169.6h1.4M651.6 177.4h1.4M671.1 173.9h1.4M636.1 170.5h1.4M637.9 167.5h1.4M637.1 169.8h1.4M656.1 174.6h1.4M645.2 176.2h1.4M659.7 174.2h1.4M671.2 173.2h1.4M658.0 178.9h1.4M635.4 167.2h1.4M666.0 176.8h1.4M668.7 166.3h1.4M638.4 173.2h1.4M652.9 177.1h1.4M668.5 170.7h1.4M643.5 175.4h1.4M643.0 176.6h1.4M654.1 179.5h1.4M637.7 167.8h1.4M635.9 167.8h1.4M659.0 179.4h1.4M640.0 173.8h1.4M656.7 183.0h1.4M646.0 176.1h1.4M655.6 179.9h1.4M645.0 173.5h1.4M669.6 169.6h1.4M671.4 172.6h1.4M655.5 180.6h1.4M646.6 172.7h1.4M647.5 175.6h1.4M664.7 166.7h1.4M671.4 174.0h1.4M637.0 167.4h1.4M653.9 177.9h1.4M648.5 177.7h1.4M656.0 179.0h1.4M660.1 174.6h1.4M647.1 177.9h1.4M642.9 172.7h1.4M662.0 180.1h1.4M671.1 170.4h1.4M633.8 168.1h1.4M643.6 174.0h1.4M670.6 171.6h1.4M648.5 181.1h1.4M658.6 176.0h1.4M646.7 179.1h1.4M647.4 177.7h1.4M642.8 175.6h1.4M669.5 174.0h1.4M655.1 177.0h1.4M644.5 176.4h1.4M687.9 121.4h1.4M688.8 106.3h1.4M688.2 110.7h1.4M691.5 78.2h1.4M690.5 93.4h1.4M685.7 141.1h1.4M689.5 107.4h1.4M692.3 79.2h1.4M687.6 121.6h1.4M688.8 119.8h1.4M684.2 146.6h1.4M685.7 140.2h1.4M687.5 125.2h1.4M691.7 81.6h1.4M689.3 90.5h1.4M689.0 98.5h1.4M689.6 98.6h1.4M690.6 86.9h1.4M684.9 146.5h1.4M689.3 92.2h1.4M684.9 149.1h1.4M682.6 155.6h1.4M693.6 71.5h1.4M685.4 142.1h1.4M692.2 77.6h1.4M685.9 124.8h1.4M683.6 152.9h1.4M687.9 111.2h1.4M692.1 73.5h1.4M687.4 127.5h1.4M683.8 146.6h1.4M688.0 107.9h1.4M687.9 116.0h1.4M688.2 98.8h1.4M690.4 90.1h1.4M686.8 132.7h1.4M690.3 100.4h1.4M686.2 121.6h1.4M688.5 89.9h1.4M687.6 124.2h1.4M686.0 126.5h1.4M682.5 156.9h1.4M690.4 98.6h1.4M687.5 102.7h1.4M684.0 144.4h1.4M687.7 103.1h1.4M692.3 75.4h1.4M688.6 106.5h1.4M687.9 94.7h1.4M692.0 77.5h1.4M687.4 129.4h1.4M682.7 157.5h1.4M688.6 104.3h1.4M686.3 120.8h1.4M683.7 152.6h1.4M684.1 119.2h1.4M682.1 155.9h1.4M687.2 117.0h1.4M690.6 84.4h1.4M689.8 99.4h1.4M682.0 157.7h1.4M684.4 146.5h1.4M689.9 93.8h1.4M691.3 71.7h1.4M689.6 104.5h1.4M689.9 89.6h1.4M688.6 113.0h1.4M683.0 153.8h1.4M685.3 131.4h1.4M687.1 122.9h1.4M691.5 91.3h1.4M686.9 94.5h1.4M692.3 79.2h1.4M685.8 131.2h1.4M689.7 91.9h1.4M685.8 134.9h1.4M684.7 139.4h1.4M686.2 135.0h1.4M686.7 129.4h1.4M692.0 77.0h1.4M689.7 90.8h1.4M682.1 159.6h1.4M689.7 88.3h1.4M688.6 113.7h1.4M689.1 96.0h1.4M682.3 157.5h1.4M692.3 72.9h1.4M682.0 155.0h1.4M691.0 83.7h1.4M690.1 92.4h1.4M682.2 156.3h1.4M685.7 135.9h1.4M687.5 127.8h1.4M688.2 114.6h1.4M691.7 82.2h1.4M692.3 79.0h1.4M694.1 92.5h1.4M700.1 134.3h1.4M712.0 132.7h1.4M702.9 125.8h1.4M695.5 102.3h1.4M692.5 77.9h1.4M703.7 130.4h1.4M694.8 94.1h1.4M700.0 122.5h1.4M701.0 140.2h1.4M692.4 74.4h1.4M692.0 97.1h1.4M695.5 71.1h1.4M704.5 146.2h1.4M693.3 100.1h1.4M698.4 107.3h1.4M704.8 119.0h1.4M697.6 117.0h1.4M705.4 124.2h1.4M693.6 75.4h1.4M710.8 144.1h1.4M693.3 78.5h1.4M691.0 82.3h1.4M700.3 117.3h1.4M705.1 145.4h1.4M696.1 86.0h1.4M705.1 130.5h1.4M696.4 127.4h1.4M695.1 108.6h1.4M693.4 90.8h1.4M701.3 128.2h1.4M691.5 71.8h1.4M708.5 141.7h1.4M703.9 126.6h1.4M699.8 109.5h1.4M692.0 70.9h1.4M694.2 77.0h1.4M698.2 105.9h1.4M691.9 82.2h1.4M701.6 121.1h1.4M694.6 108.2h1.4M699.1 112.1h1.4M706.7 139.9h1.4M701.6 119.8h1.4M715.7 146.8h1.4M696.3 104.9h1.4M706.8 131.9h1.4M691.5 74.6h1.4M700.0 112.6h1.4M692.1 85.0h1.4M690.7 77.4h1.4M700.7 119.4h1.4M695.0 88.8h1.4M692.2 85.6h1.4M702.0 125.1h1.4M704.7 137.5h1.4M690.8 73.7h1.4M705.5 121.3h1.4M693.5 72.7h1.4M695.9 96.7h1.4M702.7 120.8h1.4M695.2 88.6h1.4M695.9 85.4h1.4M704.3 141.5h1.4M697.1 96.2h1.4M694.2 76.8h1.4M693.6 98.9h1.4M711.5 141.1h1.4M704.6 124.5h1.4M696.0 95.1h1.4M691.4 97.2h1.4M708.1 134.7h1.4M692.7 93.8h1.4M707.4 136.8h1.4M693.1 107.2h1.4M704.4 133.1h1.4M706.5 139.9h1.4M705.3 140.2h1.4M691.9 95.8h1.4M697.3 105.8h1.4M700.7 131.4h1.4M694.4 88.2h1.4M704.2 128.0h1.4M699.2 130.1h1.4M698.7 103.3h1.4M691.5 72.3h1.4M710.4 136.4h1.4M690.2 96.8h1.4M709.9 142.1h1.4M703.4 135.3h1.4M716.2 141.8h1.4M706.4 133.8h1.4M692.7 72.0h1.4M694.9 101.8h1.4M700.4 117.9h1.4M711.2 143.6h1.4M693.9 108.4h1.4M695.9 85.4h1.4M699.5 114.7h1.4M695.8 108.1h1.4M694.1 81.1h1.4M710.8 142.9h1.4M698.6 110.5h1.4M696.7 104.4h1.4M706.5 139.6h1.4M693.9 83.0h1.4M705.7 126.3h1.4M694.0 99.6h1.4M697.3 85.1h1.4M698.2 122.3h1.4M693.9 105.8h1.4M711.6 146.2h1.4M715.4 146.1h1.4M705.4 141.5h1.4M706.9 140.5h1.4M696.2 97.5h1.4M693.7 102.4h1.4M713.4 147.2h1.4M694.7 106.5h1.4M700.7 115.6h1.4M709.2 139.3h1.4M693.7 92.6h1.4M698.8 114.0h1.4M698.9 122.9h1.4M704.9 133.9h1.4M693.7 87.5h1.4M691.8 82.8h1.4M700.3 120.1h1.4M690.9 91.4h1.4M710.8 146.9h1.4M708.2 140.9h1.4M693.4 103.1h1.4M692.9 72.5h1.4M692.1 92.0h1.4M704.0 135.5h1.4M692.3 78.0h1.4M692.0 70.4h1.4M709.3 145.9h1.4M705.9 137.9h1.4M695.4 98.8h1.4M699.5 103.7h1.4M694.2 95.6h1.4M697.3 89.0h1.4M701.0 123.2h1.4M709.4 143.3h1.4M692.4 72.8h1.4M698.9 112.8h1.4M701.2 128.3h1.4M698.5 131.3h1.4M697.5 105.5h1.4M711.3 146.4h1.4M702.9 130.8h1.4M693.3 86.0h1.4M695.0 90.3h1.4M697.7 119.5h1.4M707.6 130.3h1.4M700.7 116.6h1.4M701.7 131.7h1.4M694.5 94.7h1.4M710.6 145.1h1.4M695.1 88.2h1.4M690.7 93.9h1.4M713.7 139.3h1.4M693.1 87.0h1.4M707.5 128.6h1.4M696.2 124.7h1.4M692.0 92.6h1.4M708.0 134.9h1.4M705.8 143.7h1.4M693.8 81.5h1.4M704.2 132.1h1.4M694.2 98.4h1.4M699.2 121.0h1.4M694.4 89.5h1.4M695.5 89.0h1.4M700.0 130.4h1.4M696.0 97.8h1.4M692.9 100.0h1.4M694.3 98.9h1.4M708.3 130.1h1.4M707.8 146.6h1.4M709.7 148.5h1.4M698.2 114.5h1.4M696.2 91.6h1.4M696.3 85.0h1.4M690.6 70.6h1.4M700.9 120.7h1.4M696.5 95.8h1.4M691.1 71.8h1.4M695.0 100.8h1.4M700.8 121.6h1.4M706.5 141.3h1.4M694.7 91.7h1.4M694.4 88.1h1.4M692.5 80.4h1.4M694.1 81.2h1.4M705.6 137.6h1.4M698.8 109.6h1.4M692.1 79.2h1.4M708.2 141.4h1.4M702.4 131.9h1.4M698.0 114.8h1.4M692.2 90.7h1.4M702.5 122.4h1.4M707.1 116.3h1.4M691.8 99.9h1.4M693.9 70.6h1.4M699.9 116.2h1.4M696.9 89.4h1.4M690.8 73.0h1.4M700.3 119.0h1.4M707.5 139.1h1.4M710.9 144.0h1.4M696.0 91.0h1.4M692.7 83.8h1.4M698.8 117.3h1.4M691.1 75.7h1.4M711.7 137.9h1.4M711.7 135.9h1.4M716.9 103.2h1.4M712.7 134.2h1.4M719.2 106.4h1.4M711.6 119.8h1.4M716.0 101.6h1.4M714.4 105.6h1.4M712.5 132.3h1.4M717.6 109.6h1.4M717.4 112.2h1.4M712.2 139.0h1.4M714.4 110.7h1.4M711.1 127.3h1.4M717.7 108.7h1.4M712.2 125.5h1.4M717.2 113.0h1.4M714.2 112.0h1.4M718.8 97.0h1.4M714.9 127.5h1.4M719.6 102.8h1.4M715.9 110.6h1.4M719.8 98.4h1.4M714.6 118.5h1.4M717.0 121.5h1.4M716.1 112.5h1.4M711.2 138.6h1.4M713.8 124.5h1.4M716.0 148.8h1.4M719.0 104.0h1.4M713.8 135.7h1.4M720.3 105.4h1.4M710.0 137.2h1.4M709.9 143.4h1.4M710.5 125.3h1.4M715.0 135.6h1.4M713.1 121.2h1.4M715.6 115.8h1.4M713.8 117.8h1.4M716.4 130.0h1.4M714.9 117.0h1.4M718.9 108.9h1.4M718.3 97.9h1.4M712.4 114.0h1.4M719.8 116.1h1.4M712.0 142.2h1.4M716.0 121.5h1.4M717.6 97.3h1.4M711.9 144.8h1.4M713.0 121.2h1.4M718.8 97.2h1.4M715.7 105.3h1.4M717.0 113.0h1.4M710.4 139.7h1.4M712.9 149.0h1.4M718.7 111.8h1.4M714.0 120.1h1.4M711.5 126.0h1.4M716.7 106.5h1.4M713.3 137.4h1.4M713.8 138.1h1.4M716.5 108.6h1.4M715.1 128.0h1.4M713.7 117.8h1.4M714.2 127.3h1.4M711.8 137.7h1.4M714.7 147.4h1.4M713.4 114.0h1.4M715.0 102.3h1.4M717.8 102.3h1.4M713.8 148.4h1.4M716.5 116.5h1.4M717.6 110.6h1.4M718.0 111.0h1.4M711.2 145.0h1.4M716.2 111.7h1.4M719.5 98.4h1.4M710.7 139.0h1.4M715.4 119.1h1.4M714.5 123.7h1.4M714.8 117.5h1.4M707.8 145.8h1.4M717.5 108.0h1.4M719.2 98.9h1.4M715.5 123.8h1.4M714.0 133.2h1.4M715.2 99.9h1.4M713.3 139.4h1.4M717.1 112.3h1.4M714.9 124.3h1.4M715.0 105.7h1.4M715.3 113.8h1.4M710.6 142.0h1.4M718.9 101.2h1.4M709.0 133.5h1.4M716.2 112.6h1.4M721.7 125.0h1.4M721.0 118.6h1.4M718.3 101.6h1.4M724.4 131.2h1.4M720.5 101.4h1.4M729.6 128.9h1.4M724.1 145.7h1.4M724.7 130.0h1.4M722.5 134.8h1.4M729.9 152.2h1.4M725.9 150.9h1.4M719.9 106.7h1.4M729.9 159.0h1.4M718.1 97.1h1.4M719.9 99.8h1.4M724.9 139.9h1.4M717.5 99.3h1.4M730.7 160.1h1.4M721.1 126.0h1.4M721.4 113.6h1.4M723.7 152.1h1.4M724.8 141.4h1.4M720.9 127.2h1.4M724.5 132.0h1.4M717.7 110.4h1.4M727.1 150.6h1.4M717.4 99.8h1.4M724.7 115.4h1.4M726.2 148.1h1.4M716.5 117.9h1.4M718.3 98.8h1.4M723.5 128.9h1.4M718.6 112.3h1.4M726.6 128.4h1.4M721.6 113.1h1.4M721.7 106.6h1.4M720.5 118.9h1.4M728.8 141.1h1.4M721.1 131.8h1.4M723.3 148.4h1.4M719.9 115.5h1.4M719.5 98.6h1.4M720.9 109.5h1.4M720.5 104.9h1.4M719.3 124.2h1.4M721.0 139.7h1.4M729.2 158.0h1.4M730.2 159.7h1.4M718.4 123.2h1.4M719.9 121.2h1.4M724.7 125.3h1.4M715.3 97.6h1.4M719.9 112.1h1.4M721.9 120.2h1.4M720.7 123.2h1.4M725.4 143.8h1.4M724.1 139.0h1.4M721.2 113.1h1.4M730.0 152.3h1.4M727.8 143.6h1.4M720.5 117.3h1.4M723.7 126.8h1.4M720.6 97.1h1.4M732.1 159.3h1.4M725.1 138.2h1.4M720.1 114.1h1.4M724.8 127.5h1.4M723.5 134.4h1.4M719.1 107.7h1.4M724.1 132.4h1.4M729.2 160.2h1.4M718.1 97.2h1.4M726.7 149.0h1.4M721.9 130.2h1.4M726.5 141.5h1.4M725.5 137.4h1.4M719.7 102.3h1.4M729.7 157.3h1.4M728.6 152.6h1.4M723.4 139.0h1.4M724.0 138.3h1.4M720.5 99.4h1.4M718.8 115.7h1.4M729.0 157.0h1.4M718.1 102.0h1.4M721.1 135.6h1.4M722.1 109.1h1.4M727.3 147.3h1.4M718.6 110.2h1.4M729.8 156.0h1.4M720.2 117.2h1.4M726.6 153.8h1.4M728.4 147.2h1.4M731.0 159.2h1.4M719.9 112.0h1.4M724.8 146.8h1.4M728.2 146.1h1.4M721.3 133.7h1.4M721.3 127.7h1.4M723.0 135.9h1.4M728.3 157.5h1.4M720.6 117.9h1.4M718.7 100.8h1.4M730.6 158.8h1.4M724.9 147.7h1.4M721.3 107.1h1.4M720.0 113.4h1.4M725.9 152.7h1.4M726.7 144.5h1.4M721.2 98.2h1.4M721.0 110.7h1.4M718.9 117.2h1.4M722.1 114.7h1.4M719.3 113.9h1.4M722.5 132.2h1.4M720.7 118.5h1.4M728.8 153.9h1.4M719.4 110.8h1.4M727.7 159.1h1.4M726.0 116.0h1.4M724.6 141.1h1.4M726.6 144.0h1.4M727.1 159.0h1.4M733.3 151.8h1.4M721.3 131.1h1.4M720.6 121.3h1.4M725.1 149.8h1.4M724.7 128.2h1.4M729.9 154.6h1.4M724.0 138.9h1.4M727.0 156.7h1.4M714.6 97.9h1.4M721.6 126.7h1.4M720.8 102.1h1.4M725.4 143.1h1.4M727.7 134.5h1.4M720.9 141.2h1.4M721.7 140.2h1.4M720.3 118.8h1.4M717.7 97.4h1.4M722.0 140.8h1.4M720.1 102.3h1.4M717.3 100.8h1.4M731.2 159.3h1.4M726.9 143.0h1.4M737.0 172.1h1.4M737.1 171.2h1.4M731.5 167.1h1.4M743.3 180.3h1.4M744.7 179.0h1.4M741.6 171.8h1.4M731.8 166.3h1.4M747.2 172.7h1.4M740.6 179.4h1.4M737.9 174.1h1.4M736.1 169.8h1.4M740.9 174.1h1.4M733.5 169.0h1.4M735.8 173.1h1.4M742.7 173.3h1.4M731.7 167.9h1.4M741.9 174.9h1.4M739.3 173.5h1.4M737.1 172.3h1.4M738.6 176.7h1.4M740.1 173.3h1.4M736.3 173.2h1.4M744.5 175.9h1.4M733.9 170.8h1.4" stroke="#fff" stroke-opacity="1" stroke-width="1.4" fill="none"/>
</g>
<g stroke="#c6c6c6" fill="none">
<path d="M0 163.4H187.5" stroke-width="1.6"/>
<path d="M188 164.5H558" stroke-width="1.7"/>
<path d="M558 164.5H746.5" stroke-width="1.7" stroke="#b4b4b4"/>
<path d="M188 0V237M374.1 0V237M558 0V237" stroke-width="2" stroke="#e4e4e4"/>
</g>
<g stroke="#ddd" stroke-width="1">
<path d="M749.5 28.7h3.2"/>
<path d="M749.5 37.2h3.2"/>
<path d="M749.5 45.6h3.2"/>
<path d="M749.5 54.1h3.2"/>
<path d="M749.5 62.6h3.2"/>
<path d="M749.5 71.0h3.2"/>
<path d="M749.5 79.5h3.2"/>
<path d="M749.5 88.0h3.2"/>
<path d="M749.5 96.5h3.2"/>
<path d="M749.5 104.9h3.2"/>
<path d="M749.5 113.4h3.2"/>
<path d="M749.5 121.9h3.2"/>
<path d="M749.5 130.3h3.2"/>
<path d="M749.5 138.8h3.2"/>
<path d="M749.5 147.3h3.2"/>
<path d="M749.5 155.8h3.2"/>
<path d="M749.5 164.2h3.2"/>
<path d="M749.5 172.7h3.2"/>
<path d="M749.5 181.2h3.2"/>
<path d="M749.5 189.6h3.2"/>
<path d="M749.5 198.1h3.2"/>
<path d="M749.5 206.6h3.2"/>
<path d="M749.5 215.0h3.2"/>
</g>
<rect x="750.3" y="14.0" width="1.2" height="1" fill="#ccc"/>
<rect x="750.3" y="16.5" width="1.2" height="1" fill="#ccc"/>
<rect x="750.3" y="19.0" width="1.2" height="1" fill="#ccc"/>
<rect x="750.3" y="219.5" width="1.2" height="1" fill="#ccc"/>
<rect x="750.3" y="222.0" width="1.2" height="1" fill="#ccc"/>
<rect x="750.3" y="224.5" width="1.2" height="1" fill="#ccc"/>
<rect x="750.3" y="229.5" width="1.2" height="1" fill="#ccc"/>
<text transform="translate(759.5 19.7)" font-size="8.8" font-weight="bold" text-anchor="start" fill="#eee" textLength="15.00" lengthAdjust="spacingAndGlyphs" >872</text>
<text transform="translate(759.7 65.4)" font-size="8.6" font-weight="bold" text-anchor="start" fill="#eee" textLength="14.80" lengthAdjust="spacingAndGlyphs" >600</text>
<text transform="translate(759.7 116.5)" font-size="8.6" font-weight="bold" text-anchor="start" fill="#eee" textLength="14.80" lengthAdjust="spacingAndGlyphs" >300</text>
<text transform="translate(759.8 167.2)" font-size="8.5" font-weight="bold" text-anchor="start" fill="#eee" textLength="4.80" lengthAdjust="spacingAndGlyphs" >0</text>
<text transform="translate(759.5 230.2)" font-size="8.5" font-weight="bold" text-anchor="start" fill="#eee" textLength="18.00" lengthAdjust="spacingAndGlyphs" >-374</text>
<text transform="translate(787.5 86) rotate(90)" font-size="9" font-weight="bold" text-anchor="start" fill="#eee" textLength="71.00" lengthAdjust="spacingAndGlyphs" >Velocity mm/s</text>
<text transform="translate(11 23.6)" font-size="17" font-weight="normal" text-anchor="start" fill="#f2f2f2" textLength="11.00" lengthAdjust="spacingAndGlyphs" >A</text>
<text transform="translate(65 20)" font-size="15.5" font-weight="normal" text-anchor="start" fill="#f2f2f2" textLength="51.20" lengthAdjust="spacingAndGlyphs" >Control</text>
<text transform="translate(199.3 20.6)" font-size="16.5" font-weight="normal" text-anchor="start" fill="#f2f2f2" textLength="9.00" lengthAdjust="spacingAndGlyphs" >B</text>
<text transform="translate(253.6 20)" font-size="15.5" font-weight="normal" text-anchor="start" fill="#f2f2f2" textLength="56.50" lengthAdjust="spacingAndGlyphs" >Exposed</text>
<text transform="translate(387.5 23.2)" font-size="17" font-weight="normal" text-anchor="start" fill="#f2f2f2" textLength="9.50" lengthAdjust="spacingAndGlyphs" >C</text>
<text transform="translate(429.3 21.9)" font-size="15" font-weight="normal" text-anchor="start" fill="#f2f2f2" textLength="59.30" lengthAdjust="spacingAndGlyphs" >mPHGPx</text>
<text transform="translate(569.9 23.4)" font-size="17" font-weight="normal" text-anchor="start" fill="#f2f2f2" textLength="10.60" lengthAdjust="spacingAndGlyphs" >D</text>
<text transform="translate(590.7 20.2)" font-size="15" font-weight="normal" text-anchor="start" fill="#f2f2f2" textLength="122.00" lengthAdjust="spacingAndGlyphs" >mPHGPx Exposed</text>
<pattern id="p1_1" patternUnits="userSpaceOnUse" width="6.05" height="8.3"><rect width="6.05" height="8.3" fill="#fff"/><path d="M-6.05 8.3L6.05 -8.3M-6.05 16.6L12.1 -8.3M0 16.6L12.1 0" stroke="#000" stroke-width="2.44"/></pattern>
<pattern id="p1_2" patternUnits="userSpaceOnUse" width="6.05" height="8.3"><rect width="6.05" height="8.3" fill="#fff"/><path d="M-6.05 8.3L6.05 -8.3M-6.05 16.6L12.1 -8.3M0 16.6L12.1 0" stroke="#000" stroke-width="3.10"/></pattern>
<path d="M44.4 283.8V456.7M43.699999999999996 456.7H231.7" stroke="#000" stroke-width="1.7" fill="none"/>
<path d="M40.8 284.5H44.4" stroke="#000" stroke-width="1.5"/>
<text transform="translate(38.4 287.8) scale(0.85 1)" font-size="9.2" font-weight="bold" text-anchor="end" fill="#000" textLength="17.41" lengthAdjust="spacing" stroke="#000" stroke-width="0.25" >800</text>
<path d="M40.8 327.6H44.4" stroke="#000" stroke-width="1.5"/>
<text transform="translate(38.4 330.9) scale(0.85 1)" font-size="9.2" font-weight="bold" text-anchor="end" fill="#000" textLength="17.41" lengthAdjust="spacing" stroke="#000" stroke-width="0.25" >600</text>
<path d="M40.8 370.6H44.4" stroke="#000" stroke-width="1.5"/>
<text transform="translate(38.4 373.9) scale(0.85 1)" font-size="9.2" font-weight="bold" text-anchor="end" fill="#000" textLength="17.41" lengthAdjust="spacing" stroke="#000" stroke-width="0.25" >400</text>
<path d="M40.8 413.6H44.4" stroke="#000" stroke-width="1.5"/>
<text transform="translate(38.4 417.0) scale(0.85 1)" font-size="9.2" font-weight="bold" text-anchor="end" fill="#000" textLength="17.41" lengthAdjust="spacing" stroke="#000" stroke-width="0.25" >200</text>
<path d="M40.8 456.7H44.4" stroke="#000" stroke-width="1.5"/>
<text transform="translate(38.4 460.8) scale(0.85 1)" font-size="9.2" font-weight="bold" text-anchor="end" fill="#000" textLength="4.35" lengthAdjust="spacingAndGlyphs" stroke="#000" stroke-width="0.25" >0</text>
<path d="M75.7 326.4V313.9M65.7 313.9H85.7" stroke="#000" stroke-width="2.2" fill="none"/>
<rect x="56.2" y="327.3" width="39.3" height="129.4" fill="#fff" stroke="#000" stroke-width="1.8"/>
<path d="M75.7 456.7v4.6" stroke="#000" stroke-width="1.3"/>
<path d="M116.7 290.7V287.3M106.7 287.3H126.7" stroke="#000" stroke-width="2.2" fill="none"/>
<rect x="96.9" y="291.6" width="39.9" height="165.1" fill="#000" stroke="#000" stroke-width="1.8"/>
<path d="M116.7 456.7v4.6" stroke="#000" stroke-width="1.3"/>
<path d="M157.9 341.2V328.4M147.9 328.4H167.9" stroke="#000" stroke-width="2.2" fill="none"/>
<rect x="138.2" y="342.1" width="39.8" height="114.6" fill="url(#p1_1)" stroke="#000" stroke-width="1.8"/>
<path d="M157.9 456.7v4.6" stroke="#000" stroke-width="1.3"/>
<path d="M199.2 314.4V303M189.2 303H209.2" stroke="#000" stroke-width="2.2" fill="none"/>
<rect x="179.4" y="315.3" width="40.1" height="141.4" fill="url(#p1_2)" stroke="#000" stroke-width="1.8"/>
<path d="M199.2 456.7v4.6" stroke="#000" stroke-width="1.3"/>
<text transform="translate(99.8 263.7) scale(0.74 1)" font-size="11.5" font-weight="bold" text-anchor="start" fill="#000" textLength="100.68" lengthAdjust="spacing" stroke="#000" stroke-width="0.4" >E Velocity (E)</text>
<text font-size="9.6" font-weight="bold" text-anchor="start" transform="translate(19.2 388.5) rotate(-90) scale(0.95 1)"><tspan>m</tspan><tspan dx="4.3">m</tspan><tspan dx="3.9">/</tspan><tspan dx="1.4">s</tspan></text>
<text transform="translate(116.6 286.9)" font-size="11.5" font-weight="bold" text-anchor="middle" fill="#000" >*</text>
<pattern id="p2_1" patternUnits="userSpaceOnUse" width="5.95" height="7.1"><rect width="5.95" height="7.1" fill="#fff"/><path d="M-5.95 7.1L5.95 -7.1M-5.95 14.2L11.9 -7.1M0 14.2L11.9 0" stroke="#000" stroke-width="2.28"/></pattern>
<pattern id="p2_2" patternUnits="userSpaceOnUse" width="5.95" height="7.1"><rect width="5.95" height="7.1" fill="#fff"/><path d="M-5.95 7.1L5.95 -7.1M-5.95 14.2L11.9 -7.1M0 14.2L11.9 0" stroke="#000" stroke-width="2.90"/></pattern>
<path d="M280.4 283.6V456.3M279.7 456.3H463.5" stroke="#000" stroke-width="1.7" fill="none"/>
<path d="M276.79999999999995 284.3H280.4" stroke="#000" stroke-width="1.5"/>
<text transform="translate(274.9 287.6) scale(0.85 1)" font-size="9.2" font-weight="bold" text-anchor="end" fill="#000" textLength="16.35" lengthAdjust="spacing" stroke="#000" stroke-width="0.25" >500</text>
<path d="M276.79999999999995 318.7H280.4" stroke="#000" stroke-width="1.5"/>
<text transform="translate(274.9 322.0) scale(0.85 1)" font-size="9.2" font-weight="bold" text-anchor="end" fill="#000" textLength="16.35" lengthAdjust="spacing" stroke="#000" stroke-width="0.25" >400</text>
<path d="M276.79999999999995 353.1H280.4" stroke="#000" stroke-width="1.5"/>
<text transform="translate(274.9 356.4) scale(0.85 1)" font-size="9.2" font-weight="bold" text-anchor="end" fill="#000" textLength="16.35" lengthAdjust="spacing" stroke="#000" stroke-width="0.25" >300</text>
<path d="M276.79999999999995 387.5H280.4" stroke="#000" stroke-width="1.5"/>
<text transform="translate(274.9 390.8) scale(0.85 1)" font-size="9.2" font-weight="bold" text-anchor="end" fill="#000" textLength="16.35" lengthAdjust="spacing" stroke="#000" stroke-width="0.25" >200</text>
<path d="M276.79999999999995 421.9H280.4" stroke="#000" stroke-width="1.5"/>
<text transform="translate(274.9 425.2) scale(0.85 1)" font-size="9.2" font-weight="bold" text-anchor="end" fill="#000" textLength="16.35" lengthAdjust="spacing" stroke="#000" stroke-width="0.25" >100</text>
<path d="M276.79999999999995 456.3H280.4" stroke="#000" stroke-width="1.5"/>
<text transform="translate(274.9 460.4) scale(0.85 1)" font-size="9.2" font-weight="bold" text-anchor="end" fill="#000" textLength="4.35" lengthAdjust="spacingAndGlyphs" stroke="#000" stroke-width="0.25" >0</text>
<path d="M311.6 322.6V307.3M301.8 307.3H321.4" stroke="#000" stroke-width="2.2" fill="none"/>
<rect x="292.4" y="323.5" width="38.8" height="132.8" fill="#fff" stroke="#000" stroke-width="1.8"/>
<path d="M311.6 456.3v4.6" stroke="#000" stroke-width="1.3"/>
<path d="M351.9 317.9V311.8M342.1 311.8H361.7" stroke="#000" stroke-width="2.2" fill="none"/>
<rect x="332.6" y="318.8" width="38.9" height="137.5" fill="#000" stroke="#000" stroke-width="1.8"/>
<path d="M351.9 456.3v4.6" stroke="#000" stroke-width="1.3"/>
<path d="M391.9 308.6V296.4M382.1 296.4H401.7" stroke="#000" stroke-width="2.2" fill="none"/>
<rect x="372.9" y="309.5" width="38.4" height="146.8" fill="url(#p2_1)" stroke="#000" stroke-width="1.8"/>
<path d="M391.9 456.3v4.6" stroke="#000" stroke-width="1.3"/>
<path d="M431.8 299.9V285.5M421.9 285.5H441.6" stroke="#000" stroke-width="2.2" fill="none"/>
<rect x="412.7" y="300.8" width="38.5" height="155.5" fill="url(#p2_2)" stroke="#000" stroke-width="1.8"/>
<path d="M431.8 456.3v4.6" stroke="#000" stroke-width="1.3"/>
<text transform="translate(334.7 263.7) scale(0.74 1)" font-size="11.5" font-weight="bold" text-anchor="start" fill="#000" textLength="97.70" lengthAdjust="spacing" stroke="#000" stroke-width="0.4" >A Velocity (A)</text>
<text font-size="9.6" font-weight="bold" text-anchor="start" transform="translate(256.4 387.5) rotate(-90) scale(0.95 1)"><tspan>m</tspan><tspan dx="4.3">m</tspan><tspan dx="3.9">/</tspan><tspan dx="1.4">s</tspan></text>
<pattern id="p3_1" patternUnits="userSpaceOnUse" width="4.5" height="7.6"><rect width="4.5" height="7.6" fill="#fff"/><path d="M-4.5 7.6L4.5 -7.6M-4.5 15.2L9.0 -7.6M0 15.2L9.0 0" stroke="#000" stroke-width="1.94"/></pattern>
<pattern id="p3_2" patternUnits="userSpaceOnUse" width="4.5" height="7.6"><rect width="4.5" height="7.6" fill="#fff"/><path d="M-4.5 7.6L4.5 -7.6M-4.5 15.2L9.0 -7.6M0 15.2L9.0 0" stroke="#000" stroke-width="2.46"/></pattern>
<path d="M535.2 284.0V456.7M534.5 456.7H694" stroke="#000" stroke-width="1.7" fill="none"/>
<path d="M531.6 284.7H535.2" stroke="#000" stroke-width="1.5"/>
<text transform="translate(529.9000000000001 287.9) scale(0.72 1)" font-size="8.8" font-weight="bold" text-anchor="end" fill="#000" textLength="13.19" lengthAdjust="spacing" stroke="#000" stroke-width="0.25" >2.5</text>
<path d="M531.6 319.1H535.2" stroke="#000" stroke-width="1.5"/>
<text transform="translate(529.9000000000001 322.3) scale(0.72 1)" font-size="8.8" font-weight="bold" text-anchor="end" fill="#000" textLength="13.19" lengthAdjust="spacing" stroke="#000" stroke-width="0.25" >2.0</text>
<path d="M531.6 353.5H535.2" stroke="#000" stroke-width="1.5"/>
<text transform="translate(529.9000000000001 356.7) scale(0.72 1)" font-size="8.8" font-weight="bold" text-anchor="end" fill="#000" textLength="13.19" lengthAdjust="spacing" stroke="#000" stroke-width="0.25" >1.5</text>
<path d="M531.6 387.9H535.2" stroke="#000" stroke-width="1.5"/>
<text transform="translate(529.9000000000001 391.1) scale(0.72 1)" font-size="8.8" font-weight="bold" text-anchor="end" fill="#000" textLength="13.19" lengthAdjust="spacing" stroke="#000" stroke-width="0.25" >1.0</text>
<path d="M531.6 422.3H535.2" stroke="#000" stroke-width="1.5"/>
<text transform="translate(529.9000000000001 425.5) scale(0.72 1)" font-size="8.8" font-weight="bold" text-anchor="end" fill="#000" textLength="13.19" lengthAdjust="spacing" stroke="#000" stroke-width="0.25" >0.5</text>
<path d="M531.6 456.7H535.2" stroke="#000" stroke-width="1.5"/>
<text transform="translate(529.9000000000001 459.9) scale(0.72 1)" font-size="8.8" font-weight="bold" text-anchor="end" fill="#000" textLength="13.19" lengthAdjust="spacing" stroke="#000" stroke-width="0.25" >0.0</text>
<path d="M562.0 347.3V342.3M553.3 342.3H570.7" stroke="#000" stroke-width="2.2" fill="none"/>
<rect x="545.5" y="348.2" width="33.4" height="108.5" fill="#fff" stroke="#000" stroke-width="1.8"/>
<path d="M562.0 456.7v4.6" stroke="#000" stroke-width="1.3"/>
<path d="M597.0 318.5V313.2M588.3 313.2H605.7" stroke="#000" stroke-width="2.2" fill="none"/>
<rect x="580.3" y="319.4" width="33.8" height="137.3" fill="#000" stroke="#000" stroke-width="1.8"/>
<path d="M597.0 456.7v4.6" stroke="#000" stroke-width="1.3"/>
<path d="M632.1 362.2V356.6M623.4 356.6H640.8" stroke="#000" stroke-width="2.2" fill="none"/>
<rect x="615.5" y="363.1" width="33.6" height="93.6" fill="url(#p3_1)" stroke="#000" stroke-width="1.8"/>
<path d="M632.1 456.7v4.6" stroke="#000" stroke-width="1.3"/>
<path d="M667.1 353.5V347M658.4 347H675.8" stroke="#000" stroke-width="2.2" fill="none"/>
<rect x="650.5" y="354.4" width="33.6" height="102.3" fill="url(#p3_2)" stroke="#000" stroke-width="1.8"/>
<path d="M667.1 456.7v4.6" stroke="#000" stroke-width="1.3"/>
<text transform="translate(593 264) scale(0.74 1)" font-size="11" font-weight="bold" text-anchor="start" fill="#000" textLength="56.76" lengthAdjust="spacing" stroke="#000" stroke-width="0.4" >E/A Ratio</text>
<text font-size="8" font-weight="bold" text-anchor="middle" stroke="#000" stroke-width="0.3" textLength="57.14" lengthAdjust="spacing" transform="translate(516.8 371.8) rotate(-90) scale(1.05 1)">E/A Ratio</text>
<text transform="translate(597 312.0)" font-size="9.5" font-weight="bold" text-anchor="middle" fill="#000" >*</text>
<text transform="translate(667 341.9) scale(0.72 1)" font-size="8.2" font-weight="bold" text-anchor="middle" fill="#000" stroke="#000" stroke-width="0.2" >#</text>
<pattern id="p4_1" patternUnits="userSpaceOnUse" width="5.65" height="7.5"><rect width="5.65" height="7.5" fill="#fff"/><path d="M-5.65 7.5L5.65 -7.5M-5.65 15.0L11.3 -7.5M0 15.0L11.3 0" stroke="#000" stroke-width="2.26"/></pattern>
<pattern id="p4_2" patternUnits="userSpaceOnUse" width="5.65" height="7.5"><rect width="5.65" height="7.5" fill="#fff"/><path d="M-5.65 7.5L5.65 -7.5M-5.65 15.0L11.3 -7.5M0 15.0L11.3 0" stroke="#000" stroke-width="2.87"/></pattern>
<path d="M57 518.9V684.9M56.3 684.9H236" stroke="#000" stroke-width="1.7" fill="none"/>
<path d="M53.4 519.6H57" stroke="#000" stroke-width="1.5"/>
<text transform="translate(51 522.9) scale(0.85 1)" font-size="9.2" font-weight="bold" text-anchor="end" fill="#000" textLength="30.35" lengthAdjust="spacing" stroke="#000" stroke-width="0.25" >-50000</text>
<path d="M53.4 552.7H57" stroke="#000" stroke-width="1.5"/>
<text transform="translate(51 556.0) scale(0.85 1)" font-size="9.2" font-weight="bold" text-anchor="end" fill="#000" textLength="30.35" lengthAdjust="spacing" stroke="#000" stroke-width="0.25" >-40000</text>
<path d="M53.4 585.7H57" stroke="#000" stroke-width="1.5"/>
<text transform="translate(51 589.0) scale(0.85 1)" font-size="9.2" font-weight="bold" text-anchor="end" fill="#000" textLength="30.35" lengthAdjust="spacing" stroke="#000" stroke-width="0.25" >-30000</text>
<path d="M53.4 618.8H57" stroke="#000" stroke-width="1.5"/>
<text transform="translate(51 622.1) scale(0.85 1)" font-size="9.2" font-weight="bold" text-anchor="end" fill="#000" textLength="30.35" lengthAdjust="spacing" stroke="#000" stroke-width="0.25" >-20000</text>
<path d="M53.4 651.8H57" stroke="#000" stroke-width="1.5"/>
<text transform="translate(51 655.2) scale(0.85 1)" font-size="9.2" font-weight="bold" text-anchor="end" fill="#000" textLength="30.35" lengthAdjust="spacing" stroke="#000" stroke-width="0.25" >-10000</text>
<path d="M53.4 684.9H57" stroke="#000" stroke-width="1.5"/>
<text transform="translate(51 689.0) scale(0.85 1)" font-size="9.2" font-weight="bold" text-anchor="end" fill="#000" textLength="4.35" lengthAdjust="spacingAndGlyphs" stroke="#000" stroke-width="0.25" >0</text>
<path d="M86.8 600.6V587.5M77.0 587.5H96.5" stroke="#000" stroke-width="2.2" fill="none"/>
<rect x="67.9" y="601.5" width="38.1" height="83.4" fill="#fff" stroke="#000" stroke-width="1.8"/>
<path d="M86.8 684.9v4.6" stroke="#000" stroke-width="1.3"/>
<path d="M126.5 558.6V542.5M116.8 542.5H136.2" stroke="#000" stroke-width="2.2" fill="none"/>
<rect x="107.4" y="559.5" width="38.6" height="125.4" fill="#000" stroke="#000" stroke-width="1.8"/>
<path d="M126.5 684.9v4.6" stroke="#000" stroke-width="1.3"/>
<path d="M166.2 595.8V585.4M156.5 585.4H176.0" stroke="#000" stroke-width="2.2" fill="none"/>
<rect x="147.4" y="596.7" width="38.1" height="88.2" fill="url(#p4_1)" stroke="#000" stroke-width="1.8"/>
<path d="M166.2 684.9v4.6" stroke="#000" stroke-width="1.3"/>
<path d="M205.8 599.8V593.6M196.0 593.6H215.5" stroke="#000" stroke-width="2.2" fill="none"/>
<rect x="186.9" y="600.7" width="38.1" height="84.2" fill="url(#p4_2)" stroke="#000" stroke-width="1.8"/>
<path d="M205.8 684.9v4.6" stroke="#000" stroke-width="1.3"/>
<text transform="translate(78 498.8) scale(0.74 1)" font-size="11" font-weight="bold" text-anchor="start" fill="#000" textLength="182.43" lengthAdjust="spacing" stroke="#000" stroke-width="0.4" >Mitral Valve Deceleration</text>
<text font-size="9.6" font-weight="bold" text-anchor="start" transform="translate(21 621.7) rotate(-90) scale(0.95 1)"><tspan>m</tspan><tspan dx="4.3">m</tspan><tspan dx="3.9">/</tspan><tspan dx="1.4">s</tspan><tspan dx="1.2" dy="-3.6" font-size="6.5">2</tspan></text>
<text transform="translate(126.4 544.0)" font-size="11.5" font-weight="bold" text-anchor="middle" fill="#000" >*</text>
<text transform="translate(205.6 586.9) scale(0.72 1)" font-size="9.5" font-weight="bold" text-anchor="middle" fill="#000" stroke="#000" stroke-width="0.2" >#</text>
<pattern id="p5_1" patternUnits="userSpaceOnUse" width="6.0" height="7.25"><rect width="6.0" height="7.25" fill="#fff"/><path d="M-6.0 7.25L6.0 -7.25M-6.0 14.5L12.0 -7.25M0 14.5L12.0 0" stroke="#000" stroke-width="2.31"/></pattern>
<pattern id="p5_2" patternUnits="userSpaceOnUse" width="6.0" height="7.25"><rect width="6.0" height="7.25" fill="#fff"/><path d="M-6.0 7.25L6.0 -7.25M-6.0 14.5L12.0 -7.25M0 14.5L12.0 0" stroke="#000" stroke-width="2.94"/></pattern>
<path d="M276.5 514.0V684.3M275.8 684.3H462" stroke="#000" stroke-width="1.7" fill="none"/>
<path d="M272.9 514.7H276.5" stroke="#000" stroke-width="1.5"/>
<text transform="translate(270.2 518.0) scale(0.85 1)" font-size="9.2" font-weight="bold" text-anchor="end" fill="#000" textLength="10.71" lengthAdjust="spacing" stroke="#000" stroke-width="0.25" >30</text>
<path d="M272.9 571.2H276.5" stroke="#000" stroke-width="1.5"/>
<text transform="translate(270.2 574.5) scale(0.85 1)" font-size="9.2" font-weight="bold" text-anchor="end" fill="#000" textLength="10.71" lengthAdjust="spacing" stroke="#000" stroke-width="0.25" >20</text>
<path d="M272.9 627.8H276.5" stroke="#000" stroke-width="1.5"/>
<text transform="translate(270.2 631.1) scale(0.85 1)" font-size="9.2" font-weight="bold" text-anchor="end" fill="#000" textLength="10.71" lengthAdjust="spacing" stroke="#000" stroke-width="0.25" >10</text>
<path d="M272.9 684.3H276.5" stroke="#000" stroke-width="1.5"/>
<text transform="translate(270.2 688.4) scale(0.85 1)" font-size="9.2" font-weight="bold" text-anchor="end" fill="#000" textLength="4.35" lengthAdjust="spacingAndGlyphs" stroke="#000" stroke-width="0.25" >0</text>
<path d="M307.9 564.8V546.9M297.9 546.9H317.9" stroke="#000" stroke-width="2.2" fill="none"/>
<rect x="288.6" y="565.7" width="38.9" height="118.6" fill="#fff" stroke="#000" stroke-width="1.8"/>
<path d="M307.9 684.3v4.6" stroke="#000" stroke-width="1.3"/>
<path d="M348.8 595.4V588M338.8 588H358.8" stroke="#000" stroke-width="2.2" fill="none"/>
<rect x="328.9" y="596.3" width="40.2" height="88.0" fill="#000" stroke="#000" stroke-width="1.8"/>
<path d="M348.8 684.3v4.6" stroke="#000" stroke-width="1.3"/>
<path d="M389.9 552.2V535.5M379.9 535.5H399.9" stroke="#000" stroke-width="2.2" fill="none"/>
<rect x="370.5" y="553.1" width="39.1" height="131.2" fill="url(#p5_1)" stroke="#000" stroke-width="1.8"/>
<path d="M389.9 684.3v4.6" stroke="#000" stroke-width="1.3"/>
<path d="M430.4 548.5V531M420.4 531H440.4" stroke="#000" stroke-width="2.2" fill="none"/>
<rect x="411.0" y="549.4" width="39.2" height="134.9" fill="url(#p5_2)" stroke="#000" stroke-width="1.8"/>
<path d="M430.4 684.3v4.6" stroke="#000" stroke-width="1.3"/>
<text transform="translate(304 494.3) scale(0.74 1)" font-size="11.3" font-weight="bold" text-anchor="start" fill="#000" textLength="174.73" lengthAdjust="spacing" stroke="#000" stroke-width="0.4" >Deceleration Time (DT)</text>
<text font-size="9.6" font-weight="bold" text-anchor="start" transform="translate(256.7 609.4) rotate(-90) scale(0.95 1)"><tspan>m</tspan><tspan dx="3.6">s</tspan></text>
<text transform="translate(348.5 588.4)" font-size="11.5" font-weight="bold" text-anchor="middle" fill="#000" >*</text>
<text transform="translate(431.2 524.2) scale(0.72 1)" font-size="9.5" font-weight="bold" text-anchor="middle" fill="#000" stroke="#000" stroke-width="0.2" >#</text>
<pattern id="p6_1" patternUnits="userSpaceOnUse" width="4.15" height="6.9"><rect width="4.15" height="6.9" fill="#fff"/><path d="M-4.15 6.9L4.15 -6.9M-4.15 13.8L8.3 -6.9M0 13.8L8.3 0" stroke="#000" stroke-width="1.78"/></pattern>
<pattern id="p6_2" patternUnits="userSpaceOnUse" width="4.15" height="6.9"><rect width="4.15" height="6.9" fill="#fff"/><path d="M-4.15 6.9L4.15 -6.9M-4.15 13.8L8.3 -6.9M0 13.8L8.3 0" stroke="#000" stroke-width="2.26"/></pattern>
<path d="M539.8 516.5999999999999V684.8M539.0999999999999 684.8H695.8" stroke="#000" stroke-width="1.7" fill="none"/>
<path d="M536.1999999999999 517.3H539.8" stroke="#000" stroke-width="1.5"/>
<text transform="translate(534.8 520.5) scale(0.72 1)" font-size="8.8" font-weight="bold" text-anchor="end" fill="#000" textLength="20.14" lengthAdjust="spacing" stroke="#000" stroke-width="0.25" >0.05</text>
<path d="M536.1999999999999 550.8H539.8" stroke="#000" stroke-width="1.5"/>
<text transform="translate(534.8 554.0) scale(0.72 1)" font-size="8.8" font-weight="bold" text-anchor="end" fill="#000" textLength="20.14" lengthAdjust="spacing" stroke="#000" stroke-width="0.25" >0.04</text>
<path d="M536.1999999999999 584.3H539.8" stroke="#000" stroke-width="1.5"/>
<text transform="translate(534.8 587.5) scale(0.72 1)" font-size="8.8" font-weight="bold" text-anchor="end" fill="#000" textLength="20.14" lengthAdjust="spacing" stroke="#000" stroke-width="0.25" >0.03</text>
<path d="M536.1999999999999 617.8H539.8" stroke="#000" stroke-width="1.5"/>
<text transform="translate(534.8 621.0) scale(0.72 1)" font-size="8.8" font-weight="bold" text-anchor="end" fill="#000" textLength="20.14" lengthAdjust="spacing" stroke="#000" stroke-width="0.25" >0.02</text>
<path d="M536.1999999999999 651.3H539.8" stroke="#000" stroke-width="1.5"/>
<text transform="translate(534.8 654.5) scale(0.72 1)" font-size="8.8" font-weight="bold" text-anchor="end" fill="#000" textLength="20.14" lengthAdjust="spacing" stroke="#000" stroke-width="0.25" >0.01</text>
<path d="M536.1999999999999 684.8H539.8" stroke="#000" stroke-width="1.5"/>
<text transform="translate(534.8 688.0) scale(0.72 1)" font-size="8.8" font-weight="bold" text-anchor="end" fill="#000" textLength="20.14" lengthAdjust="spacing" stroke="#000" stroke-width="0.25" >0.00</text>
<path d="M566.3 556.2V534.7M557.8 534.7H574.8" stroke="#000" stroke-width="2.2" fill="none"/>
<rect x="550.5" y="557.1" width="32.0" height="127.7" fill="#fff" stroke="#000" stroke-width="1.8"/>
<path d="M566.3 684.8v4.6" stroke="#000" stroke-width="1.3"/>
<path d="M600.5 607.1V600.6M592.0 600.6H609.0" stroke="#000" stroke-width="2.2" fill="none"/>
<rect x="583.9" y="608.0" width="33.6" height="76.8" fill="#000" stroke="#000" stroke-width="1.8"/>
<path d="M600.5 684.8v4.6" stroke="#000" stroke-width="1.3"/>
<path d="M635.1 580.5V571.8M626.6 571.8H643.6" stroke="#000" stroke-width="2.2" fill="none"/>
<rect x="618.9" y="581.4" width="32.9" height="103.4" fill="url(#p6_1)" stroke="#000" stroke-width="1.8"/>
<path d="M635.1 684.8v4.6" stroke="#000" stroke-width="1.3"/>
<path d="M669.3 564.8V554.8M660.8 554.8H677.8" stroke="#000" stroke-width="2.2" fill="none"/>
<rect x="653.2" y="565.7" width="32.7" height="119.1" fill="url(#p6_2)" stroke="#000" stroke-width="1.8"/>
<path d="M669.3 684.8v4.6" stroke="#000" stroke-width="1.3"/>
<text transform="translate(549.1 497.7) scale(0.74 1)" font-size="10.4" font-weight="bold" text-anchor="start" fill="#000" textLength="184.05" lengthAdjust="spacing" stroke="#000" stroke-width="0.4" >Deceleration Time/E Velocity</text>
<text font-size="8" font-weight="bold" text-anchor="middle" stroke="#000" stroke-width="0.3" textLength="63.52" lengthAdjust="spacing" transform="translate(517.3 601.4) rotate(-90) scale(1.05 1)">ms/(mm/s)</text>
<text transform="translate(600.2 598.6)" font-size="9.5" font-weight="bold" text-anchor="middle" fill="#000" >*</text>
<text transform="translate(669.5 548.1) scale(0.72 1)" font-size="8.2" font-weight="bold" text-anchor="middle" fill="#000" stroke="#000" stroke-width="0.2" >#</text>
<text transform="translate(9 263.3)" font-size="16.5" font-weight="normal" text-anchor="start" fill="#000" textLength="8.00" lengthAdjust="spacingAndGlyphs" >E</text>
<text transform="translate(241 263.5)" font-size="16.5" font-weight="normal" text-anchor="start" fill="#000" textLength="7.20" lengthAdjust="spacingAndGlyphs" >F</text>
<text transform="translate(481 263.5)" font-size="16.5" font-weight="normal" text-anchor="start" fill="#000" textLength="11.20" lengthAdjust="spacingAndGlyphs" >G</text>
<text transform="translate(11.8 490.9)" font-size="16.5" font-weight="normal" text-anchor="start" fill="#000" textLength="10.50" lengthAdjust="spacingAndGlyphs" >H</text>
<text transform="translate(241 490.5)" font-size="16.5" font-weight="normal" text-anchor="start" fill="#000" >I</text>
<text transform="translate(480.2 490.6)" font-size="16.5" font-weight="normal" text-anchor="start" fill="#000" textLength="6.00" lengthAdjust="spacingAndGlyphs" >J</text>
<rect x="705.2" y="292.8" width="10" height="7.199999999999999" fill="#fff" stroke="#000" stroke-width="2"/>
<text transform="translate(721.9 300.9) scale(0.73 1)" font-size="10.3" font-weight="normal" text-anchor="start" fill="#2a2a2a" textLength="37.40" lengthAdjust="spacing" stroke="#2a2a2a" stroke-width="0.3" >Control</text>
<rect x="704.2" y="315" width="12" height="9.2" fill="#000"/>
<text transform="translate(721.9 324.1) scale(0.73 1)" font-size="10.3" font-weight="normal" text-anchor="start" fill="#2a2a2a" textLength="43.29" lengthAdjust="spacing" stroke="#2a2a2a" stroke-width="0.3" >Exposed</text>
<rect x="704.2" y="338.3" width="12" height="9.2" fill="#000"/>
<path d="M705.8 341.3L707.9 341.3L706.5 344.3ZM709.4 344.9L712.0 341.3L714.1 341.3L711.5 344.9Z" fill="#fff"/>
<text transform="translate(721.9 347.4) scale(0.73 1)" font-size="10.3" font-weight="normal" text-anchor="start" fill="#2a2a2a" textLength="45.62" lengthAdjust="spacing" stroke="#2a2a2a" stroke-width="0.3" >mPHGPx</text>
<rect x="704.2" y="361.8" width="12" height="9.2" fill="#000"/>
<path d="M706.7 368.3L709.3 364.7L710.8 364.7L708.2 368.3ZM711.9 368.1L714.1 365.0L714.1 368.1Z" fill="#fff"/>
<text transform="translate(721.9 370.9) scale(0.73 1)" font-size="10.3" font-weight="normal" text-anchor="start" fill="#2a2a2a" textLength="93.29" lengthAdjust="spacing" stroke="#2a2a2a" stroke-width="0.3" >mPHGPx Exposed</text>
<rect x="706.6" y="525.7" width="9.6" height="7.199999999999999" fill="#fff" stroke="#000" stroke-width="2"/>
<text transform="translate(723 533.8) scale(0.73 1)" font-size="10.3" font-weight="normal" text-anchor="start" fill="#2a2a2a" textLength="36.58" lengthAdjust="spacing" stroke="#2a2a2a" stroke-width="0.3" >Control</text>
<rect x="705.6" y="547.2" width="11.6" height="9.2" fill="#000"/>
<text transform="translate(723 556.3) scale(0.73 1)" font-size="10.3" font-weight="normal" text-anchor="start" fill="#2a2a2a" textLength="42.47" lengthAdjust="spacing" stroke="#2a2a2a" stroke-width="0.3" >Exposed</text>
<rect x="705.6" y="569.2" width="11.6" height="9.2" fill="#000"/>
<path d="M707.2 572.2L709.3 572.2L707.9 575.2ZM710.8 575.8L713.4 572.2L715.5 572.2L712.9 575.8Z" fill="#fff"/>
<text transform="translate(723 578.3) scale(0.73 1)" font-size="10.3" font-weight="normal" text-anchor="start" fill="#2a2a2a" textLength="45.21" lengthAdjust="spacing" stroke="#2a2a2a" stroke-width="0.3" >mPHGPx</text>
<rect x="705.6" y="591.9" width="11.6" height="9.2" fill="#000"/>
<path d="M708.1 598.4L710.7 594.8L712.2 594.8L709.6 598.4ZM713.3 598.2L715.5 595.1L715.5 598.2Z" fill="#fff"/>
<text transform="translate(723 601.0) scale(0.73 1)" font-size="10.3" font-weight="normal" text-anchor="start" fill="#2a2a2a" textLength="91.78" lengthAdjust="spacing" stroke="#2a2a2a" stroke-width="0.3" >mPHGPx Exposed</text>
</svg>
</body></html>
